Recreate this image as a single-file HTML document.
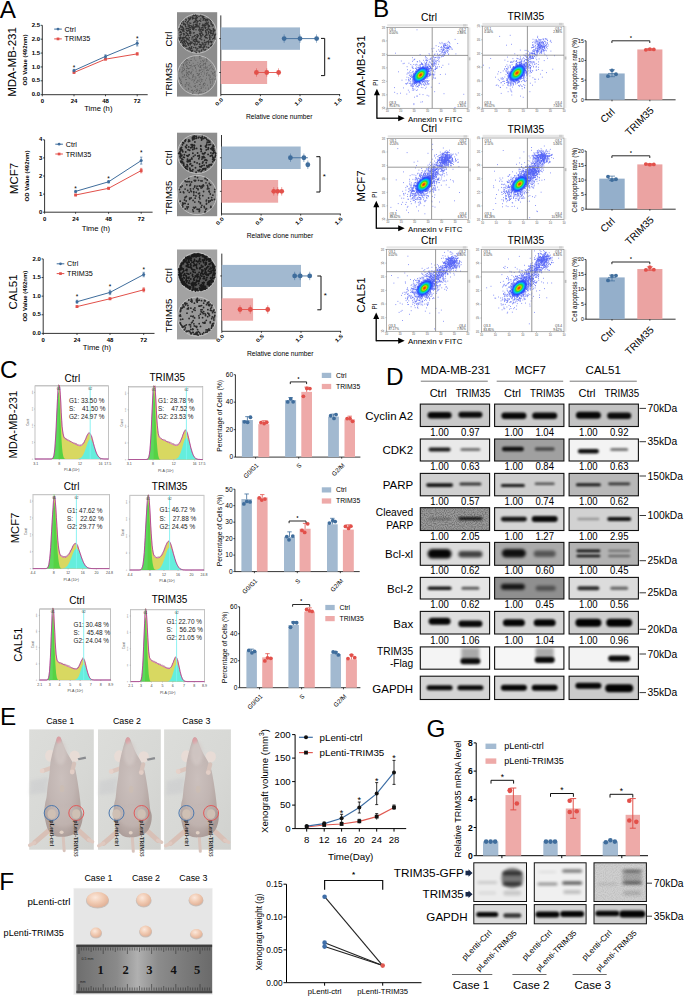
<!DOCTYPE html>
<html><head><meta charset="utf-8"><title>Figure</title>
<style>html,body{margin:0;padding:0;background:#fff;}body{width:685px;height:997px;overflow:hidden;font-family:"Liberation Sans", sans-serif;}svg{display:block;}</style>
</head><body>
<svg width="685" height="997" viewBox="0 0 685 997" font-family='"Liberation Sans", sans-serif'>
<defs>
<radialGradient id="fcore">
 <stop offset="0" stop-color="#ff2000"/>
 <stop offset="0.12" stop-color="#f06000"/>
 <stop offset="0.24" stop-color="#d8d000"/>
 <stop offset="0.36" stop-color="#30e020"/>
 <stop offset="0.52" stop-color="#00c8e8"/>
 <stop offset="0.72" stop-color="#2040ff" stop-opacity="0.9"/>
 <stop offset="1" stop-color="#2040ff" stop-opacity="0"/>
</radialGradient>
<filter id="speck00" x="0" y="0" width="1" height="1">
<feTurbulence type="fractalNoise" baseFrequency="1.1" numOctaves="1" seed="1"/>
<feColorMatrix type="matrix" values="0 0 0 0 0  0 0 0 0 0  0 0 0 0 0  0 0 0 -9 4.6"/>
<feComposite in2="SourceGraphic" operator="in"/>
</filter><filter id="speck01" x="0" y="0" width="1" height="1">
<feTurbulence type="fractalNoise" baseFrequency="1.1" numOctaves="1" seed="2"/>
<feColorMatrix type="matrix" values="0 0 0 0 0  0 0 0 0 0  0 0 0 0 0  0 0 0 -9 4.6"/>
<feComposite in2="SourceGraphic" operator="in"/>
</filter><filter id="speck10" x="0" y="0" width="1" height="1">
<feTurbulence type="fractalNoise" baseFrequency="1.1" numOctaves="1" seed="4"/>
<feColorMatrix type="matrix" values="0 0 0 0 0  0 0 0 0 0  0 0 0 0 0  0 0 0 -9 4.6"/>
<feComposite in2="SourceGraphic" operator="in"/>
</filter><filter id="speck11" x="0" y="0" width="1" height="1">
<feTurbulence type="fractalNoise" baseFrequency="1.1" numOctaves="1" seed="5"/>
<feColorMatrix type="matrix" values="0 0 0 0 0  0 0 0 0 0  0 0 0 0 0  0 0 0 -9 4.6"/>
<feComposite in2="SourceGraphic" operator="in"/>
</filter><filter id="speck20" x="0" y="0" width="1" height="1">
<feTurbulence type="fractalNoise" baseFrequency="1.1" numOctaves="1" seed="7"/>
<feColorMatrix type="matrix" values="0 0 0 0 0  0 0 0 0 0  0 0 0 0 0  0 0 0 -9 4.6"/>
<feComposite in2="SourceGraphic" operator="in"/>
</filter><filter id="speck21" x="0" y="0" width="1" height="1">
<feTurbulence type="fractalNoise" baseFrequency="1.1" numOctaves="1" seed="8"/>
<feColorMatrix type="matrix" values="0 0 0 0 0  0 0 0 0 0  0 0 0 0 0  0 0 0 -9 4.6"/>
<feComposite in2="SourceGraphic" operator="in"/>
</filter><filter id="bb1" x="-50%" y="-100%" width="200%" height="300%"><feGaussianBlur stdDeviation="0.9"/></filter>
<filter id="bb2" x="-50%" y="-100%" width="200%" height="300%"><feGaussianBlur stdDeviation="1.4"/></filter>
<filter id="bb3" x="-50%" y="-100%" width="200%" height="300%"><feGaussianBlur stdDeviation="2.2"/></filter>
<filter id="noiz" x="0" y="0" width="1" height="1"><feTurbulence type="fractalNoise" baseFrequency="0.9" numOctaves="1" seed="5"/><feColorMatrix type="matrix" values="0 0 0 0 0  0 0 0 0 0  0 0 0 0 0  0 0 0 -2.2 1.35"/><feComposite in2="SourceGraphic" operator="in"/></filter>
<clipPath id="clipall"><rect x="0" y="0" width="685" height="997"/></clipPath>
<linearGradient id="photobg" x1="0" y1="0" x2="1" y2="1">
 <stop offset="0" stop-color="#dcddda"/><stop offset="0.6" stop-color="#d7d8d5"/><stop offset="1" stop-color="#d0d1ce"/></linearGradient>
<radialGradient id="mbody" cx="0.45" cy="0.42" r="0.62">
 <stop offset="0" stop-color="#cbc0bd"/><stop offset="0.55" stop-color="#c1b5b2"/><stop offset="0.85" stop-color="#b5a7a3"/><stop offset="1" stop-color="#a99a96"/></radialGradient>
<filter id="soft" x="-10%" y="-10%" width="120%" height="120%"><feGaussianBlur stdDeviation="0.6"/></filter>
<filter id="soft2" x="-20%" y="-20%" width="140%" height="140%"><feGaussianBlur stdDeviation="1.6"/></filter>
<linearGradient id="ruler" x1="0" y1="0" x2="1" y2="0">
 <stop offset="0" stop-color="#6e6e6e"/><stop offset="0.3" stop-color="#8a8a8a"/><stop offset="0.45" stop-color="#b0b0b0"/><stop offset="0.6" stop-color="#8c8c8c"/><stop offset="0.8" stop-color="#7a7a7a"/><stop offset="1" stop-color="#6a6a6a"/></linearGradient>
<radialGradient id="tum" cx="0.4" cy="0.35" r="0.7">
 <stop offset="0" stop-color="#fbe8dc"/><stop offset="0.5" stop-color="#f1cbb3"/><stop offset="1" stop-color="#dfae94"/></radialGradient>

</defs><text x="-0.3" y="18" font-size="24.3">A</text>
<text transform="translate(12.2,62) rotate(-90)" y="4.02" font-size="11.5" text-anchor="middle">MDA-MB-231</text>
<text transform="translate(13.8,178.5) rotate(-90)" y="4.02" font-size="11.5" text-anchor="middle">MCF7</text>
<text transform="translate(13.3,292) rotate(-90)" y="4.02" font-size="11.5" text-anchor="middle">CAL51</text>
<line x1="42.3" y1="25.3" x2="42.3" y2="94.7" stroke="#000" stroke-width="0.8" />
<line x1="42.3" y1="94.7" x2="147.7" y2="94.7" stroke="#000" stroke-width="0.8" />
<line x1="40.7" y1="94.7" x2="42.3" y2="94.7" stroke="#000" stroke-width="0.7" />
<text transform="translate(40,94.7) scale(1,0.78)" y="2.1" font-size="6" text-anchor="end" font-weight="bold">0.0</text>
<line x1="40.7" y1="80.82" x2="42.3" y2="80.82" stroke="#000" stroke-width="0.7" />
<text transform="translate(40,80.82) scale(1,0.78)" y="2.1" font-size="6" text-anchor="end" font-weight="bold">0.5</text>
<line x1="40.7" y1="66.94" x2="42.3" y2="66.94" stroke="#000" stroke-width="0.7" />
<text transform="translate(40,66.94) scale(1,0.78)" y="2.1" font-size="6" text-anchor="end" font-weight="bold">1.0</text>
<line x1="40.7" y1="53.06" x2="42.3" y2="53.06" stroke="#000" stroke-width="0.7" />
<text transform="translate(40,53.06) scale(1,0.78)" y="2.1" font-size="6" text-anchor="end" font-weight="bold">1.5</text>
<line x1="40.7" y1="39.18" x2="42.3" y2="39.18" stroke="#000" stroke-width="0.7" />
<text transform="translate(40,39.18) scale(1,0.78)" y="2.1" font-size="6" text-anchor="end" font-weight="bold">2.0</text>
<line x1="40.7" y1="25.3" x2="42.3" y2="25.3" stroke="#000" stroke-width="0.7" />
<text transform="translate(40,25.3) scale(1,0.78)" y="2.1" font-size="6" text-anchor="end" font-weight="bold">2.5</text>
<line x1="42.3" y1="94.7" x2="42.3" y2="96.3" stroke="#000" stroke-width="0.7" />
<text transform="translate(42.3,101.4) scale(1,0.78)" y="2.1" font-size="6" text-anchor="middle" font-weight="bold">0</text>
<line x1="74" y1="94.7" x2="74" y2="96.3" stroke="#000" stroke-width="0.7" />
<text transform="translate(74,101.4) scale(1,0.78)" y="2.1" font-size="6" text-anchor="middle" font-weight="bold">24</text>
<line x1="105.5" y1="94.7" x2="105.5" y2="96.3" stroke="#000" stroke-width="0.7" />
<text transform="translate(105.5,101.4) scale(1,0.78)" y="2.1" font-size="6" text-anchor="middle" font-weight="bold">48</text>
<line x1="137.2" y1="94.7" x2="137.2" y2="96.3" stroke="#000" stroke-width="0.7" />
<text transform="translate(137.2,101.4) scale(1,0.78)" y="2.1" font-size="6" text-anchor="middle" font-weight="bold">72</text>
<text x="98.3" y="111.29" font-size="7.7" text-anchor="middle">Time (h)</text>
<text transform="translate(25.6,60) rotate(-90) scale(1,0.85)" y="2.1" font-size="6" text-anchor="middle" font-weight="bold">OD Value (492nm)</text>
<polyline points="74,72.49 105.5,59.17 137.2,53.89" fill="none" stroke="#e2504a" stroke-width="1"/>
<line x1="74" y1="71.89" x2="74" y2="73.09" stroke="#e2504a" stroke-width="0.7" />
<line x1="72.8" y1="71.89" x2="75.2" y2="71.89" stroke="#e2504a" stroke-width="0.6" />
<line x1="72.8" y1="73.09" x2="75.2" y2="73.09" stroke="#e2504a" stroke-width="0.6" />
<rect x="72.6" y="71.09" width="2.8" height="2.8" fill="#e2504a" />
<line x1="105.5" y1="58.37" x2="105.5" y2="59.97" stroke="#e2504a" stroke-width="0.7" />
<line x1="104.3" y1="58.37" x2="106.7" y2="58.37" stroke="#e2504a" stroke-width="0.6" />
<line x1="104.3" y1="59.97" x2="106.7" y2="59.97" stroke="#e2504a" stroke-width="0.6" />
<rect x="104.1" y="57.77" width="2.8" height="2.8" fill="#e2504a" />
<line x1="137.2" y1="52.69" x2="137.2" y2="55.09" stroke="#e2504a" stroke-width="0.7" />
<line x1="136" y1="52.69" x2="138.4" y2="52.69" stroke="#e2504a" stroke-width="0.6" />
<line x1="136" y1="55.09" x2="138.4" y2="55.09" stroke="#e2504a" stroke-width="0.6" />
<rect x="135.8" y="52.49" width="2.8" height="2.8" fill="#e2504a" />
<polyline points="74,70.55 105.5,56.39 137.2,43.34" fill="none" stroke="#3f6d9c" stroke-width="1"/>
<line x1="74" y1="69.35" x2="74" y2="71.75" stroke="#3f6d9c" stroke-width="0.7" />
<line x1="72.8" y1="69.35" x2="75.2" y2="69.35" stroke="#3f6d9c" stroke-width="0.6" />
<line x1="72.8" y1="71.75" x2="75.2" y2="71.75" stroke="#3f6d9c" stroke-width="0.6" />
<circle cx="74" cy="70.55" r="1.5" fill="#3f6d9c" />
<line x1="105.5" y1="54.79" x2="105.5" y2="57.99" stroke="#3f6d9c" stroke-width="0.7" />
<line x1="104.3" y1="54.79" x2="106.7" y2="54.79" stroke="#3f6d9c" stroke-width="0.6" />
<line x1="104.3" y1="57.99" x2="106.7" y2="57.99" stroke="#3f6d9c" stroke-width="0.6" />
<circle cx="105.5" cy="56.39" r="1.5" fill="#3f6d9c" />
<line x1="137.2" y1="40.74" x2="137.2" y2="45.94" stroke="#3f6d9c" stroke-width="0.7" />
<line x1="136" y1="40.74" x2="138.4" y2="40.74" stroke="#3f6d9c" stroke-width="0.6" />
<line x1="136" y1="45.94" x2="138.4" y2="45.94" stroke="#3f6d9c" stroke-width="0.6" />
<circle cx="137.2" cy="43.34" r="1.5" fill="#3f6d9c" />
<text x="74" y="69.78" font-size="6.5" text-anchor="middle">*</text>
<text x="137.2" y="40.77" font-size="6.5" text-anchor="middle">*</text>
<line x1="54.2" y1="29.1" x2="61.8" y2="29.1" stroke="#3f6d9c" stroke-width="1" />
<circle cx="58" cy="29.1" r="1.4" fill="#3f6d9c" />
<text x="64.6" y="31.62" font-size="7.2">Ctrl</text>
<line x1="54.2" y1="38.9" x2="61.8" y2="38.9" stroke="#e2504a" stroke-width="1" />
<rect x="56.65" y="37.55" width="2.7" height="2.7" fill="#e2504a" />
<text x="64.6" y="41.42" font-size="7.2">TRIM35</text>
<line x1="44.6" y1="139.8" x2="44.6" y2="212.2" stroke="#000" stroke-width="0.8" />
<line x1="44.6" y1="212.2" x2="152.6" y2="212.2" stroke="#000" stroke-width="0.8" />
<line x1="43" y1="212.2" x2="44.6" y2="212.2" stroke="#000" stroke-width="0.7" />
<text transform="translate(42.3,212.2) scale(1,0.78)" y="2.1" font-size="6" text-anchor="end" font-weight="bold">0</text>
<line x1="43" y1="194.1" x2="44.6" y2="194.1" stroke="#000" stroke-width="0.7" />
<text transform="translate(42.3,194.1) scale(1,0.78)" y="2.1" font-size="6" text-anchor="end" font-weight="bold">1</text>
<line x1="43" y1="176" x2="44.6" y2="176" stroke="#000" stroke-width="0.7" />
<text transform="translate(42.3,176) scale(1,0.78)" y="2.1" font-size="6" text-anchor="end" font-weight="bold">2</text>
<line x1="43" y1="157.9" x2="44.6" y2="157.9" stroke="#000" stroke-width="0.7" />
<text transform="translate(42.3,157.9) scale(1,0.78)" y="2.1" font-size="6" text-anchor="end" font-weight="bold">3</text>
<line x1="43" y1="139.8" x2="44.6" y2="139.8" stroke="#000" stroke-width="0.7" />
<text transform="translate(42.3,139.8) scale(1,0.78)" y="2.1" font-size="6" text-anchor="end" font-weight="bold">4</text>
<line x1="44.6" y1="212.2" x2="44.6" y2="213.8" stroke="#000" stroke-width="0.7" />
<text transform="translate(44.6,219) scale(1,0.78)" y="2.1" font-size="6" text-anchor="middle" font-weight="bold">0</text>
<line x1="75.6" y1="212.2" x2="75.6" y2="213.8" stroke="#000" stroke-width="0.7" />
<text transform="translate(75.6,219) scale(1,0.78)" y="2.1" font-size="6" text-anchor="middle" font-weight="bold">24</text>
<line x1="108.6" y1="212.2" x2="108.6" y2="213.8" stroke="#000" stroke-width="0.7" />
<text transform="translate(108.6,219) scale(1,0.78)" y="2.1" font-size="6" text-anchor="middle" font-weight="bold">48</text>
<line x1="141.2" y1="212.2" x2="141.2" y2="213.8" stroke="#000" stroke-width="0.7" />
<text transform="translate(141.2,219) scale(1,0.78)" y="2.1" font-size="6" text-anchor="middle" font-weight="bold">72</text>
<text x="95.9" y="230.69" font-size="7.7" text-anchor="middle">Time (h)</text>
<text transform="translate(27,176) rotate(-90) scale(1,0.85)" y="2.1" font-size="6" text-anchor="middle" font-weight="bold">OD Value (492nm)</text>
<polyline points="75.6,195 108.6,188.31 141.2,170.57" fill="none" stroke="#e2504a" stroke-width="1"/>
<line x1="75.6" y1="194.2" x2="75.6" y2="195.81" stroke="#e2504a" stroke-width="0.7" />
<line x1="74.4" y1="194.2" x2="76.8" y2="194.2" stroke="#e2504a" stroke-width="0.6" />
<line x1="74.4" y1="195.81" x2="76.8" y2="195.81" stroke="#e2504a" stroke-width="0.6" />
<rect x="74.2" y="193.6" width="2.8" height="2.8" fill="#e2504a" />
<line x1="108.6" y1="187.31" x2="108.6" y2="189.31" stroke="#e2504a" stroke-width="0.7" />
<line x1="107.4" y1="187.31" x2="109.8" y2="187.31" stroke="#e2504a" stroke-width="0.6" />
<line x1="107.4" y1="189.31" x2="109.8" y2="189.31" stroke="#e2504a" stroke-width="0.6" />
<rect x="107.2" y="186.91" width="2.8" height="2.8" fill="#e2504a" />
<line x1="141.2" y1="168.37" x2="141.2" y2="172.77" stroke="#e2504a" stroke-width="0.7" />
<line x1="140" y1="168.37" x2="142.4" y2="168.37" stroke="#e2504a" stroke-width="0.6" />
<line x1="140" y1="172.77" x2="142.4" y2="172.77" stroke="#e2504a" stroke-width="0.6" />
<rect x="139.8" y="169.17" width="2.8" height="2.8" fill="#e2504a" />
<polyline points="75.6,191.38 108.6,181.79 141.2,160.62" fill="none" stroke="#3f6d9c" stroke-width="1"/>
<line x1="75.6" y1="190.38" x2="75.6" y2="192.38" stroke="#3f6d9c" stroke-width="0.7" />
<line x1="74.4" y1="190.38" x2="76.8" y2="190.38" stroke="#3f6d9c" stroke-width="0.6" />
<line x1="74.4" y1="192.38" x2="76.8" y2="192.38" stroke="#3f6d9c" stroke-width="0.6" />
<circle cx="75.6" cy="191.38" r="1.5" fill="#3f6d9c" />
<line x1="108.6" y1="180.59" x2="108.6" y2="182.99" stroke="#3f6d9c" stroke-width="0.7" />
<line x1="107.4" y1="180.59" x2="109.8" y2="180.59" stroke="#3f6d9c" stroke-width="0.6" />
<line x1="107.4" y1="182.99" x2="109.8" y2="182.99" stroke="#3f6d9c" stroke-width="0.6" />
<circle cx="108.6" cy="181.79" r="1.5" fill="#3f6d9c" />
<line x1="141.2" y1="157.12" x2="141.2" y2="164.12" stroke="#3f6d9c" stroke-width="0.7" />
<line x1="140" y1="157.12" x2="142.4" y2="157.12" stroke="#3f6d9c" stroke-width="0.6" />
<line x1="140" y1="164.12" x2="142.4" y2="164.12" stroke="#3f6d9c" stroke-width="0.6" />
<circle cx="141.2" cy="160.62" r="1.5" fill="#3f6d9c" />
<text x="75.6" y="190.78" font-size="6.5" text-anchor="middle">*</text>
<text x="108.6" y="180.78" font-size="6.5" text-anchor="middle">*</text>
<text x="141.2" y="154.78" font-size="6.5" text-anchor="middle">*</text>
<line x1="55.3" y1="144.2" x2="62.9" y2="144.2" stroke="#3f6d9c" stroke-width="1" />
<circle cx="59.1" cy="144.2" r="1.4" fill="#3f6d9c" />
<text x="65.7" y="146.72" font-size="7.2">Ctrl</text>
<line x1="55.3" y1="154" x2="62.9" y2="154" stroke="#e2504a" stroke-width="1" />
<rect x="57.75" y="152.65" width="2.7" height="2.7" fill="#e2504a" />
<text x="65.7" y="156.52" font-size="7.2">TRIM35</text>
<line x1="43.2" y1="258.9" x2="43.2" y2="333.4" stroke="#000" stroke-width="0.8" />
<line x1="43.2" y1="333.4" x2="154.5" y2="333.4" stroke="#000" stroke-width="0.8" />
<line x1="41.6" y1="333.4" x2="43.2" y2="333.4" stroke="#000" stroke-width="0.7" />
<text transform="translate(40.9,333.4) scale(1,0.78)" y="2.1" font-size="6" text-anchor="end" font-weight="bold">0.0</text>
<line x1="41.6" y1="314.77" x2="43.2" y2="314.77" stroke="#000" stroke-width="0.7" />
<text transform="translate(40.9,314.77) scale(1,0.78)" y="2.1" font-size="6" text-anchor="end" font-weight="bold">0.5</text>
<line x1="41.6" y1="296.15" x2="43.2" y2="296.15" stroke="#000" stroke-width="0.7" />
<text transform="translate(40.9,296.15) scale(1,0.78)" y="2.1" font-size="6" text-anchor="end" font-weight="bold">1.0</text>
<line x1="41.6" y1="277.52" x2="43.2" y2="277.52" stroke="#000" stroke-width="0.7" />
<text transform="translate(40.9,277.52) scale(1,0.78)" y="2.1" font-size="6" text-anchor="end" font-weight="bold">1.5</text>
<line x1="41.6" y1="258.9" x2="43.2" y2="258.9" stroke="#000" stroke-width="0.7" />
<text transform="translate(40.9,258.9) scale(1,0.78)" y="2.1" font-size="6" text-anchor="end" font-weight="bold">2.0</text>
<line x1="43.2" y1="333.4" x2="43.2" y2="335" stroke="#000" stroke-width="0.7" />
<text transform="translate(43.2,340.2) scale(1,0.78)" y="2.1" font-size="6" text-anchor="middle" font-weight="bold">0</text>
<line x1="77" y1="333.4" x2="77" y2="335" stroke="#000" stroke-width="0.7" />
<text transform="translate(77,340.2) scale(1,0.78)" y="2.1" font-size="6" text-anchor="middle" font-weight="bold">24</text>
<line x1="110" y1="333.4" x2="110" y2="335" stroke="#000" stroke-width="0.7" />
<text transform="translate(110,340.2) scale(1,0.78)" y="2.1" font-size="6" text-anchor="middle" font-weight="bold">48</text>
<line x1="143.7" y1="333.4" x2="143.7" y2="335" stroke="#000" stroke-width="0.7" />
<text transform="translate(143.7,340.2) scale(1,0.78)" y="2.1" font-size="6" text-anchor="middle" font-weight="bold">72</text>
<text x="97" y="349.69" font-size="7.7" text-anchor="middle">Time (h)</text>
<text transform="translate(25.7,296.15) rotate(-90) scale(1,0.85)" y="2.1" font-size="6" text-anchor="middle" font-weight="bold">OD Value (492nm)</text>
<polyline points="77,306.58 110,298.76 143.7,289.82" fill="none" stroke="#e2504a" stroke-width="1"/>
<line x1="77" y1="305.78" x2="77" y2="307.38" stroke="#e2504a" stroke-width="0.7" />
<line x1="75.8" y1="305.78" x2="78.2" y2="305.78" stroke="#e2504a" stroke-width="0.6" />
<line x1="75.8" y1="307.38" x2="78.2" y2="307.38" stroke="#e2504a" stroke-width="0.6" />
<rect x="75.6" y="305.18" width="2.8" height="2.8" fill="#e2504a" />
<line x1="110" y1="297.86" x2="110" y2="299.66" stroke="#e2504a" stroke-width="0.7" />
<line x1="108.8" y1="297.86" x2="111.2" y2="297.86" stroke="#e2504a" stroke-width="0.6" />
<line x1="108.8" y1="299.66" x2="111.2" y2="299.66" stroke="#e2504a" stroke-width="0.6" />
<rect x="108.6" y="297.36" width="2.8" height="2.8" fill="#e2504a" />
<line x1="143.7" y1="287.82" x2="143.7" y2="291.82" stroke="#e2504a" stroke-width="0.7" />
<line x1="142.5" y1="287.82" x2="144.9" y2="287.82" stroke="#e2504a" stroke-width="0.6" />
<line x1="142.5" y1="291.82" x2="144.9" y2="291.82" stroke="#e2504a" stroke-width="0.6" />
<rect x="142.3" y="288.42" width="2.8" height="2.8" fill="#e2504a" />
<polyline points="77,301.74 110,292.42 143.7,274.54" fill="none" stroke="#3f6d9c" stroke-width="1"/>
<line x1="77" y1="300.24" x2="77" y2="303.24" stroke="#3f6d9c" stroke-width="0.7" />
<line x1="75.8" y1="300.24" x2="78.2" y2="300.24" stroke="#3f6d9c" stroke-width="0.6" />
<line x1="75.8" y1="303.24" x2="78.2" y2="303.24" stroke="#3f6d9c" stroke-width="0.6" />
<circle cx="77" cy="301.74" r="1.5" fill="#3f6d9c" />
<line x1="110" y1="290.22" x2="110" y2="294.62" stroke="#3f6d9c" stroke-width="0.7" />
<line x1="108.8" y1="290.22" x2="111.2" y2="290.22" stroke="#3f6d9c" stroke-width="0.6" />
<line x1="108.8" y1="294.62" x2="111.2" y2="294.62" stroke="#3f6d9c" stroke-width="0.6" />
<circle cx="110" cy="292.42" r="1.5" fill="#3f6d9c" />
<line x1="143.7" y1="272.34" x2="143.7" y2="276.74" stroke="#3f6d9c" stroke-width="0.7" />
<line x1="142.5" y1="272.34" x2="144.9" y2="272.34" stroke="#3f6d9c" stroke-width="0.6" />
<line x1="142.5" y1="276.74" x2="144.9" y2="276.74" stroke="#3f6d9c" stroke-width="0.6" />
<circle cx="143.7" cy="274.54" r="1.5" fill="#3f6d9c" />
<text x="77" y="299.27" font-size="6.5" text-anchor="middle">*</text>
<text x="110" y="288.77" font-size="6.5" text-anchor="middle">*</text>
<text x="143.7" y="271.77" font-size="6.5" text-anchor="middle">*</text>
<line x1="56.7" y1="263.8" x2="64.3" y2="263.8" stroke="#3f6d9c" stroke-width="1" />
<circle cx="60.5" cy="263.8" r="1.4" fill="#3f6d9c" />
<text x="67.1" y="266.32" font-size="7.2">Ctrl</text>
<line x1="56.7" y1="273.6" x2="64.3" y2="273.6" stroke="#e2504a" stroke-width="1" />
<rect x="59.15" y="272.25" width="2.7" height="2.7" fill="#e2504a" />
<text x="67.1" y="276.12" font-size="7.2">TRIM35</text>
<rect x="177" y="12.2" width="40.2" height="84.4" fill="#8c8c8c" />
<circle cx="197.1" cy="33.6" r="19.6" fill="none" stroke="#c4c4c4" stroke-width="0.9"/>
<circle cx="197.1" cy="33.6" r="18.8" fill="#7c7c7c" />
<path d="M201.1,28.0h0M196.6,50.0h0M184.5,37.7h0M200.8,18.9h0M202.8,34.6h0M181.4,40.6h0M213.5,33.8h0M194.9,21.3h0M205.6,30.6h0M214.6,37.0h0M194.2,32.8h0M183.7,46.0h0M189.4,37.7h0M197.7,36.8h0M184.7,33.9h0M198.2,42.6h0M188.6,35.8h0M207.1,35.0h0M181.0,27.6h0M203.0,47.5h0M209.0,19.2h0M193.9,39.3h0M193.2,18.1h0M181.0,42.2h0M188.9,18.6h0M188.3,28.2h0M207.1,19.1h0M185.8,26.5h0M197.3,37.1h0M182.7,42.2h0M189.6,31.2h0M189.9,19.6h0M186.4,37.9h0M199.5,20.4h0M186.5,42.0h0M210.0,36.0h0M196.0,29.8h0M181.6,23.3h0M202.8,43.9h0M210.3,32.1h0M181.1,29.5h0M199.0,50.9h0M210.0,29.6h0M183.3,37.2h0M187.8,30.7h0M215.5,34.3h0M204.2,18.6h0M196.0,15.9h0M180.3,31.6h0M184.5,39.9h0M200.1,30.4h0M201.5,47.1h0M183.8,34.9h0M190.7,42.8h0M187.3,23.9h0M182.9,37.4h0M197.5,36.7h0M190.3,29.6h0M202.3,17.0h0M203.9,18.3h0M202.3,25.6h0M210.5,41.3h0M199.5,33.8h0M197.1,49.9h0M192.7,29.2h0M207.1,38.3h0M189.7,32.3h0M196.0,41.2h0M181.9,38.1h0M186.6,35.4h0M194.9,35.5h0M201.7,44.9h0M202.1,29.9h0M200.5,46.6h0M203.1,20.2h0M199.8,33.9h0M195.7,26.5h0M195.0,26.4h0M182.2,29.3h0M205.8,32.3h0M180.4,31.9h0M191.8,26.5h0M186.6,28.2h0M189.9,25.8h0M195.7,37.9h0M210.2,20.6h0M203.7,25.5h0M206.8,29.7h0M183.1,41.8h0M206.5,34.1h0M214.2,37.8h0M213.6,29.6h0M203.8,46.1h0M214.4,30.7h0M181.4,32.7h0M190.5,43.1h0M193.2,26.0h0M201.4,45.2h0M194.0,28.4h0M186.9,33.6h0M204.5,25.9h0M214.8,35.6h0M193.1,41.0h0M200.9,15.3h0M199.6,44.3h0M205.2,20.4h0M187.0,48.7h0M190.3,17.3h0M210.1,32.4h0M195.7,24.6h0M199.7,38.4h0M201.2,51.1h0M183.9,24.0h0M185.4,46.3h0M194.3,44.2h0M183.2,23.0h0M211.0,21.7h0M190.5,31.4h0M203.0,35.1h0M200.5,29.8h0M205.0,18.9h0M188.9,26.3h0M185.1,45.1h0M199.4,47.6h0M196.5,38.9h0M180.8,26.6h0M179.7,38.3h0M199.4,24.0h0M214.2,34.9h0M210.0,42.0h0M201.9,29.4h0M197.3,37.4h0M180.7,42.5h0M200.3,39.1h0M196.8,24.4h0M202.2,30.4h0M208.5,31.5h0M192.2,50.8h0M187.7,35.0h0M193.7,28.7h0M200.8,33.8h0M191.8,51.5h0M183.3,38.1h0M206.8,37.7h0M214.7,30.2h0M211.3,45.5h0M190.7,27.7h0M179.2,28.6h0M188.9,20.3h0M187.9,31.1h0M197.3,44.0h0M196.1,38.9h0M179.4,39.6h0M187.7,21.7h0M183.0,45.2h0M192.2,42.8h0M203.2,24.9h0M191.3,50.4h0M186.6,30.6h0M185.3,25.5h0M206.3,34.8h0M205.4,37.7h0M209.7,39.6h0M193.7,29.7h0M199.8,23.8h0M205.7,23.6h0M189.7,33.5h0M211.9,41.4h0M205.6,49.8h0M213.6,32.0h0M189.9,49.0h0M191.0,33.0h0M192.2,51.0h0M208.3,47.4h0M214.7,37.2h0M205.8,27.6h0M211.2,24.3h0M196.7,16.4h0M203.9,47.6h0M203.9,44.0h0M189.2,19.8h0M205.8,37.3h0M203.7,16.4h0M183.6,30.0h0M180.5,38.6h0M190.8,43.6h0M206.5,35.1h0M184.0,41.2h0M210.2,39.0h0M204.3,42.2h0M196.7,40.2h0M183.4,43.9h0M188.0,25.9h0M206.2,34.0h0M183.4,33.5h0M183.1,39.3h0M195.3,18.1h0M187.9,33.9h0M199.1,46.4h0M185.9,29.1h0M212.7,24.7h0M191.1,25.8h0M200.8,35.4h0M206.8,24.2h0M197.9,26.1h0M190.4,50.0h0M206.2,20.9h0M193.6,22.7h0M183.7,24.6h0M211.0,23.1h0M180.5,25.6h0M197.1,41.5h0M189.2,29.9h0M212.6,38.9h0M193.9,18.4h0M186.1,32.6h0M196.1,26.0h0M200.9,33.2h0M185.4,21.4h0M205.4,28.5h0M208.9,47.7h0M206.1,19.7h0M192.4,19.1h0M208.3,27.9h0M183.4,46.1h0M181.7,40.5h0M193.6,40.4h0M202.7,30.0h0M210.6,46.1h0M184.9,41.5h0M195.3,39.8h0M197.1,24.2h0M197.5,34.7h0M209.4,35.2h0M185.4,24.4h0M201.7,50.1h0M187.4,31.0h0M188.7,28.6h0M193.3,25.0h0M203.1,18.0h0M179.3,28.4h0M205.2,23.2h0M182.2,26.5h0M194.6,45.0h0M199.3,27.8h0M197.0,27.1h0M210.6,30.6h0M213.3,30.9h0M190.2,33.6h0M191.8,46.8h0M188.8,44.0h0M210.8,33.7h0M185.2,37.5h0M188.7,39.7h0M190.3,18.4h0M189.2,23.0h0M200.4,44.7h0M196.9,34.8h0M207.8,23.8h0M180.0,32.4h0M179.0,38.1h0M182.7,42.9h0M213.3,32.3h0M202.1,42.7h0M182.6,30.7h0M208.4,33.8h0M186.6,38.9h0M204.8,24.4h0M195.6,19.3h0M197.0,15.8h0M196.7,20.4h0M188.2,21.5h0M184.7,41.8h0M187.1,22.5h0M200.8,15.8h0M199.0,16.4h0M183.7,23.2h0M196.1,44.7h0M208.2,22.3h0M205.1,44.9h0M180.0,35.3h0M209.4,37.2h0M196.7,20.2h0M189.6,43.2h0M212.2,35.5h0M209.7,29.2h0M184.4,42.6h0M184.8,24.0h0M199.4,41.9h0M195.0,51.2h0M199.6,29.1h0M187.9,43.6h0M196.0,20.2h0M192.7,27.3h0M203.4,19.0h0M189.6,27.4h0M188.7,30.2h0M199.0,26.0h0M188.7,49.0h0M205.7,31.6h0M205.9,20.5h0M199.8,31.7h0M191.1,47.2h0M198.0,21.3h0M203.2,49.1h0M204.6,46.4h0M179.7,40.0h0M194.7,15.8h0M196.0,48.2h0M205.9,44.0h0M195.6,26.8h0M197.2,22.3h0M195.3,24.6h0M191.7,48.6h0M192.2,37.3h0M207.8,41.4h0M204.7,36.4h0M208.2,24.3h0M205.6,35.5h0M203.4,19.1h0M183.1,21.6h0M202.9,24.2h0M194.8,27.6h0M192.4,37.0h0M187.6,42.8h0M198.0,41.3h0M180.5,37.6h0M200.5,47.5h0M189.4,47.5h0M209.3,25.8h0M215.1,39.0h0M207.6,20.5h0M189.2,40.7h0M209.6,26.6h0M205.8,25.5h0M206.5,47.0h0M215.0,35.3h0M193.4,27.4h0M193.8,36.7h0M190.5,35.2h0M211.4,24.0h0M200.4,34.9h0M213.7,38.2h0M204.4,40.2h0M202.7,34.6h0M196.6,18.6h0M205.9,20.7h0M185.3,43.4h0M211.8,30.8h0M197.8,48.6h0M201.3,31.8h0M188.6,45.3h0M183.5,28.2h0M209.7,38.7h0M187.6,39.4h0M203.2,27.9h0M190.7,23.2h0M196.4,17.7h0M197.3,17.6h0M206.4,32.2h0M203.5,30.0h0M207.5,19.7h0M200.7,35.9h0M180.5,36.9h0M208.5,32.5h0M193.4,32.9h0M205.8,42.6h0M194.0,22.2h0M214.5,36.3h0M208.6,40.9h0M211.5,42.2h0M194.5,35.9h0M190.9,48.4h0M199.0,27.1h0M207.5,20.3h0M187.9,38.3h0M188.4,30.3h0M191.4,42.8h0M213.1,29.1h0M208.5,42.4h0M182.7,38.4h0M193.5,15.3h0M191.9,17.2h0M208.1,25.3h0M192.7,50.2h0M192.0,39.0h0M208.2,41.4h0M187.3,28.6h0M198.7,30.0h0M191.2,47.6h0M190.9,41.8h0M197.0,22.9h0M184.0,31.4h0M203.3,29.9h0M192.1,43.1h0M202.0,33.0h0M208.2,26.8h0M214.9,30.2h0M212.2,25.9h0M202.8,16.5h0M190.3,32.6h0M211.3,32.9h0M192.2,17.7h0M186.6,46.0h0M185.8,19.3h0M185.5,36.2h0M178.9,29.9h0M201.7,39.8h0M182.7,27.6h0M204.3,50.0h0M195.4,21.7h0M200.5,36.1h0M195.7,47.4h0M196.6,39.7h0M182.4,31.1h0M201.8,35.9h0M186.3,20.0h0M202.2,27.6h0M195.2,35.6h0M192.8,16.8h0M204.9,27.3h0M206.7,22.7h0M181.2,41.6h0M182.2,29.3h0M202.5,16.2h0M203.4,18.9h0M196.3,52.4h0M196.9,25.2h0M180.7,32.1h0M186.3,41.1h0M202.2,16.7h0M211.0,37.2h0M180.3,38.1h0M194.6,41.4h0M212.7,34.1h0M195.0,39.8h0M196.8,15.9h0M179.2,28.7h0M183.6,29.1h0M183.9,30.0h0M213.4,28.7h0M188.9,24.8h0M193.8,43.5h0M185.6,26.7h0M210.9,31.6h0M192.1,27.9h0M195.5,14.9h0M187.5,44.0h0M208.1,29.0h0M188.5,18.0h0M213.0,25.5h0M184.2,45.2h0M200.7,21.3h0M197.1,22.1h0M190.4,44.8h0M206.5,42.1h0M187.5,39.3h0M198.3,35.8h0M203.1,26.1h0M193.8,47.6h0M196.2,52.4h0M196.2,20.2h0M182.8,39.9h0M180.6,35.1h0M181.2,34.5h0M193.2,15.5h0M201.0,37.7h0M199.5,51.9h0M197.0,36.6h0M209.5,29.7h0M195.1,21.9h0M211.6,42.7h0M211.8,33.2h0M183.5,30.6h0M207.5,29.9h0M211.9,44.8h0M184.9,40.4h0M208.4,44.1h0M195.4,43.1h0M200.6,21.1h0" stroke="#2a2a2a" stroke-width="1.5" stroke-linecap="round" opacity="0.9"/>
<circle cx="197.1" cy="75.2" r="19.6" fill="none" stroke="#c4c4c4" stroke-width="0.9"/>
<circle cx="197.1" cy="75.2" r="18.8" fill="#8a8a8a" />
<path d="M201.1,58.2h0M210.3,83.3h0M191.4,65.0h0M186.9,74.7h0M210.4,87.1h0M210.8,85.9h0M206.8,68.7h0M188.7,74.1h0M206.3,67.3h0M192.6,93.4h0M207.5,67.1h0M200.2,88.7h0M188.6,89.2h0M210.2,75.9h0M186.8,59.6h0M214.8,71.7h0M187.7,72.8h0M197.9,62.7h0M199.4,92.3h0M194.4,65.7h0M205.3,84.0h0M189.4,72.1h0M211.2,71.6h0M186.5,66.5h0M190.9,78.9h0M193.8,65.8h0M199.3,84.7h0M185.9,77.3h0M188.5,68.5h0M202.9,69.7h0M181.8,71.8h0M195.0,79.2h0M187.5,62.9h0M210.3,64.5h0M186.6,75.6h0M204.6,83.0h0M196.8,82.2h0M191.7,73.9h0M182.6,69.1h0M199.4,90.6h0M189.5,71.7h0M181.5,83.5h0M198.3,75.4h0M189.3,68.3h0M198.0,80.6h0M212.5,73.7h0M188.3,68.7h0M210.5,77.2h0M204.0,83.5h0M198.3,65.9h0M212.1,79.2h0M196.3,70.0h0M194.6,80.7h0M206.4,78.2h0M199.2,77.7h0M208.0,70.4h0M197.8,90.2h0M194.8,90.5h0M191.2,87.3h0M186.1,89.9h0M186.5,62.1h0M183.5,64.5h0M182.6,85.0h0M185.8,64.6h0M184.5,69.8h0M186.3,83.7h0M185.1,62.0h0M210.2,79.8h0M203.2,87.2h0M189.1,78.7h0M197.1,89.1h0M187.5,73.4h0M186.5,82.6h0M192.9,79.5h0M182.5,71.0h0M204.8,63.7h0M190.7,60.5h0M195.9,78.3h0M205.8,88.1h0M208.4,89.2h0M200.8,92.4h0M207.1,61.1h0M205.4,68.2h0M201.5,69.1h0M186.3,79.5h0M191.9,71.4h0M192.2,66.7h0M183.7,65.0h0M198.7,74.7h0M185.9,61.1h0M186.4,70.8h0M180.0,79.6h0M183.6,65.6h0M208.3,70.2h0M187.6,67.8h0M192.8,76.0h0M196.1,71.7h0M197.5,75.3h0M201.1,80.0h0M188.8,85.7h0M206.8,74.2h0M187.0,60.4h0M204.2,60.0h0M200.4,66.5h0M188.6,71.7h0M203.2,84.6h0M211.4,66.9h0M204.8,68.0h0M191.0,66.0h0M199.7,56.6h0M193.0,77.0h0M194.0,86.3h0M181.3,81.4h0M186.7,63.4h0M209.8,79.9h0M209.1,65.5h0M192.2,69.1h0M190.0,86.2h0M212.8,72.7h0M199.3,73.5h0M203.0,65.1h0M195.5,67.5h0M194.1,80.3h0M186.8,59.8h0M180.9,79.2h0M184.2,75.8h0M194.3,58.9h0M189.4,78.2h0M184.6,69.2h0M206.8,59.9h0M191.9,80.3h0M203.2,76.2h0M199.2,79.9h0M188.9,60.9h0M193.1,91.5h0M204.4,73.9h0M213.2,69.6h0M195.0,76.8h0M195.8,60.3h0M179.6,71.0h0M208.8,75.6h0M213.8,73.3h0M187.7,59.9h0M197.8,86.2h0M212.3,68.7h0M205.4,91.6h0M182.8,74.0h0M200.5,63.4h0M194.2,57.2h0M191.4,60.5h0M182.3,71.7h0M198.8,66.0h0M193.1,70.1h0M186.2,70.9h0M182.2,77.2h0M198.4,93.8h0M199.1,74.6h0M195.3,85.5h0M187.1,68.4h0M192.2,57.2h0M186.7,72.9h0M184.5,75.1h0M203.1,85.8h0M188.0,82.8h0M200.5,67.5h0M203.6,84.4h0M205.0,63.5h0M185.1,63.7h0M188.8,89.0h0M196.9,82.3h0M195.1,86.1h0M204.7,85.6h0M197.0,82.0h0M199.8,67.3h0M201.5,88.3h0M205.6,66.3h0M183.6,70.5h0M201.0,86.3h0M210.3,82.1h0M212.7,81.1h0M185.1,86.1h0M184.0,66.8h0M190.5,73.6h0M197.4,80.3h0M194.5,86.5h0M212.3,73.9h0M203.0,65.7h0M194.8,66.6h0M186.3,72.8h0M199.7,70.3h0M188.7,77.2h0M200.8,65.8h0M186.3,65.6h0M196.6,91.5h0M199.2,71.2h0M201.1,65.4h0M184.4,61.9h0M200.8,70.4h0M197.5,90.2h0M188.5,74.8h0M202.5,71.6h0M203.8,60.9h0M207.4,69.8h0M195.7,68.5h0M206.6,75.4h0M199.1,81.4h0M185.3,86.6h0M187.2,66.7h0M190.8,67.8h0M210.7,67.9h0M205.3,64.7h0M199.3,56.8h0M195.4,87.3h0M200.0,70.1h0M190.8,72.7h0M209.3,78.7h0M200.9,67.4h0M209.4,68.9h0M212.0,85.2h0M212.0,79.3h0M185.7,79.6h0M181.9,64.8h0M188.9,74.7h0M201.5,88.0h0M205.2,67.4h0M200.2,56.8h0M201.1,72.5h0M203.5,64.2h0M201.8,81.5h0M193.1,92.7h0M193.2,75.2h0M206.7,59.1h0M208.9,74.7h0M206.3,61.1h0M185.2,84.5h0M179.5,78.5h0M179.9,69.3h0M179.4,77.8h0M186.7,68.7h0M203.4,83.7h0M205.7,63.6h0M203.7,67.8h0M199.8,58.7h0M209.2,75.1h0M182.2,67.5h0M191.4,72.4h0M198.9,73.9h0M189.7,83.2h0M188.0,64.6h0M182.8,76.6h0M205.7,62.9h0M184.5,75.2h0M214.0,75.6h0M193.7,81.9h0M204.0,69.9h0M202.7,79.7h0M186.5,74.6h0M214.1,74.7h0M183.6,64.2h0M200.5,76.6h0M203.4,61.7h0M206.6,73.3h0M184.6,69.0h0M210.3,81.9h0M204.2,72.2h0M205.5,80.1h0M195.6,65.3h0M199.5,84.5h0M187.3,76.4h0M192.0,90.5h0M214.5,72.5h0M212.3,83.0h0M206.5,70.5h0M208.8,88.1h0M188.9,84.6h0M213.1,78.1h0M197.1,64.6h0M214.2,79.7h0M189.7,62.9h0M181.5,83.2h0M203.1,92.7h0M201.5,79.8h0M207.4,85.2h0M200.3,84.4h0M201.4,74.2h0M207.7,72.8h0M200.1,90.9h0M215.2,76.3h0M215.3,79.0h0M188.1,72.2h0M197.3,73.4h0M199.3,70.2h0M193.6,74.6h0M195.0,83.5h0M188.0,84.7h0M190.4,65.5h0M200.6,82.7h0M192.6,90.1h0M180.9,83.3h0M209.9,77.1h0M199.2,76.9h0M189.5,62.4h0M180.4,82.8h0M188.3,88.4h0M192.6,77.7h0M202.4,60.4h0M206.2,59.2h0M183.7,70.8h0M183.9,77.1h0M183.3,68.1h0M180.5,80.6h0M203.5,64.0h0M181.8,72.8h0M201.9,61.9h0M196.3,89.8h0M188.8,68.8h0M193.2,76.3h0M199.1,92.8h0M193.2,63.3h0M191.1,58.1h0M186.0,85.1h0M189.3,65.5h0M199.5,64.2h0M197.1,73.5h0M191.5,90.4h0M195.9,77.2h0M200.4,61.2h0M201.6,92.1h0M201.0,78.9h0M185.7,60.4h0" stroke="#5a5a5a" stroke-width="1.0" stroke-linecap="round" opacity="0.9"/>
<rect x="177" y="132.7" width="40.2" height="83.5" fill="#8e8e8e" />
<circle cx="197.1" cy="153.88" r="19.6" fill="none" stroke="#c4c4c4" stroke-width="0.9"/>
<circle cx="197.1" cy="153.88" r="18.8" fill="#8a8a8a" />
<path d="M214.3,160.3h0M196.6,148.4h0M183.4,143.0h0M183.7,164.4h0M212.3,148.9h0M195.5,167.7h0M190.0,169.4h0M185.7,152.0h0M189.8,168.2h0M204.1,153.8h0M202.4,136.5h0M198.4,137.8h0M213.7,151.9h0M193.2,136.5h0M184.4,154.7h0M206.0,138.1h0M206.1,147.3h0M208.3,147.7h0M199.9,169.6h0M202.5,163.1h0M190.4,170.8h0M178.7,153.4h0M185.6,146.8h0M212.9,146.9h0M194.4,136.1h0M213.7,160.3h0M208.8,142.2h0M200.8,149.0h0M181.1,162.3h0M205.0,168.7h0M215.2,156.8h0M203.5,138.6h0M183.8,165.5h0M199.4,157.1h0M196.3,136.4h0M181.9,159.0h0M210.5,144.4h0M192.6,138.2h0M190.0,170.0h0M201.3,149.6h0M191.8,158.1h0M196.1,172.2h0M211.6,155.5h0M212.9,157.2h0M179.6,153.0h0M215.7,153.2h0M197.1,162.9h0M201.6,140.1h0M180.3,151.1h0M210.1,164.8h0M203.8,168.6h0M180.3,157.7h0M199.5,164.0h0M194.7,136.1h0M186.3,147.8h0M192.9,153.2h0M185.1,167.2h0M186.7,145.2h0M190.1,161.2h0M199.2,155.4h0M192.2,144.7h0M195.1,155.1h0M212.7,161.7h0M206.3,149.9h0M198.9,158.7h0M183.3,157.1h0M208.9,165.2h0M185.7,139.9h0M215.3,156.7h0M194.6,138.8h0M184.3,157.4h0M180.0,156.3h0M213.8,146.3h0M180.6,155.0h0M193.0,145.2h0M204.6,137.5h0M202.9,153.8h0M203.7,156.8h0M202.6,153.5h0M199.0,170.5h0M182.8,159.6h0M213.6,148.5h0M193.4,137.0h0M187.9,156.2h0M212.9,153.4h0M207.3,167.0h0M209.9,142.1h0M189.2,154.8h0M208.1,149.2h0M212.4,150.1h0M191.2,144.8h0M199.7,170.1h0M189.7,141.0h0M215.6,155.2h0M206.6,145.3h0M212.2,155.5h0M182.8,142.6h0M211.5,164.4h0M202.4,170.0h0M202.9,169.0h0M181.1,160.9h0M187.8,155.8h0M204.7,157.6h0M197.6,153.0h0M181.9,155.3h0M180.5,153.6h0M205.3,169.7h0M183.7,163.1h0M207.2,142.2h0M180.6,157.6h0M214.1,150.3h0M188.7,161.5h0M192.6,165.6h0M182.4,150.2h0M191.1,170.8h0M188.5,141.5h0M206.9,160.4h0M182.4,151.0h0M185.1,141.3h0M199.0,170.9h0M204.7,160.3h0M185.9,166.7h0M205.7,168.7h0M213.1,145.3h0M208.4,148.5h0M203.2,169.3h0M187.5,166.0h0M185.0,140.6h0M190.6,163.8h0M179.5,153.6h0M196.4,138.3h0M212.1,147.5h0M192.9,169.6h0M187.1,164.8h0M186.0,168.4h0M202.1,165.8h0M187.6,166.8h0M205.5,146.3h0M181.3,149.5h0M190.1,159.7h0M203.0,162.0h0M205.8,159.8h0M182.5,161.8h0M198.1,170.4h0M199.0,137.1h0M180.8,161.6h0M206.8,139.6h0M188.7,146.9h0M187.9,161.3h0M191.8,165.7h0M182.5,144.8h0M210.9,152.9h0M182.4,162.9h0M213.3,153.4h0M194.2,147.8h0M202.1,137.9h0M204.9,168.8h0M203.1,157.8h0M214.7,159.6h0M181.1,147.7h0M203.6,156.5h0M200.8,146.3h0M206.7,144.3h0M201.9,159.1h0M212.7,159.3h0M190.8,147.8h0M193.6,136.8h0M204.1,165.3h0M192.8,149.5h0M194.6,162.1h0M187.2,161.2h0M181.6,147.5h0M214.9,152.4h0M194.3,145.3h0M202.2,170.4h0M192.0,147.3h0M192.7,139.7h0M205.0,137.9h0M213.8,158.0h0M180.2,149.1h0M205.1,152.8h0M192.5,171.1h0M194.5,145.7h0M188.1,149.7h0M194.9,142.0h0M206.2,162.7h0M201.1,171.6h0M188.6,160.7h0M201.2,166.9h0M200.8,137.8h0M190.0,164.2h0M180.8,156.3h0M189.7,150.2h0M208.2,140.4h0M192.3,146.4h0M190.8,170.4h0M194.5,162.0h0M197.8,155.9h0M194.4,137.5h0M187.5,159.2h0M208.9,166.7h0M191.9,159.0h0M201.2,151.4h0M201.8,139.5h0M213.4,150.2h0M209.6,141.3h0M182.8,151.7h0M188.9,140.0h0M191.7,158.3h0M187.4,161.7h0M199.9,166.5h0M200.8,145.8h0M194.5,148.8h0M193.5,156.4h0M180.0,151.7h0M192.4,137.9h0M181.2,156.0h0M180.8,149.9h0M210.9,148.7h0M202.2,157.0h0M206.9,165.7h0M186.8,155.6h0M187.3,169.3h0M211.2,165.1h0M212.9,148.5h0M209.0,144.8h0M210.3,156.0h0M208.1,154.4h0M193.8,138.8h0M183.7,142.9h0" stroke="#1c1c1c" stroke-width="1.9" stroke-linecap="round" opacity="0.9"/>
<circle cx="197.1" cy="195.02" r="19.6" fill="none" stroke="#c4c4c4" stroke-width="0.9"/>
<circle cx="197.1" cy="195.02" r="18.8" fill="#8e8e8e" />
<path d="M186.2,201.0h0M205.8,209.3h0M193.8,192.8h0M205.7,178.7h0M192.8,209.8h0M214.4,199.5h0M199.3,186.0h0M182.5,205.2h0M210.9,206.5h0M210.3,201.0h0M200.4,203.5h0M195.9,195.9h0M194.5,208.1h0M211.5,199.9h0M183.8,192.7h0M207.4,188.9h0M191.1,198.0h0M188.2,204.2h0M180.4,186.9h0M184.5,200.0h0M208.9,191.3h0M187.0,181.6h0M190.8,190.8h0M193.1,200.4h0M196.3,192.3h0M185.1,180.9h0M197.1,209.2h0M184.9,197.8h0M195.6,207.2h0M197.1,186.2h0M205.0,178.5h0M211.7,197.6h0M202.6,186.3h0M179.4,189.5h0M191.6,182.0h0M194.9,185.9h0M203.6,185.7h0M190.5,184.1h0M183.4,192.0h0M209.3,191.2h0M182.8,202.9h0M207.8,187.0h0M187.8,181.7h0M210.7,207.4h0M186.8,184.8h0M209.4,192.1h0M182.8,206.8h0M198.6,180.3h0M186.9,206.9h0M187.3,208.7h0M193.4,188.8h0M184.4,203.3h0M210.3,194.0h0M183.0,204.3h0M180.9,187.3h0M189.9,185.5h0M210.3,184.9h0M189.5,181.7h0M208.6,198.0h0M206.6,203.4h0M185.3,208.9h0M195.6,180.5h0M201.1,188.1h0M206.5,200.2h0M185.2,203.4h0M180.2,201.2h0M202.8,195.7h0M193.8,195.2h0M212.2,200.1h0M186.4,196.5h0M214.6,191.8h0M185.8,181.6h0M199.5,209.1h0M204.5,207.7h0M202.1,186.0h0M195.0,181.0h0M194.7,207.6h0M185.1,189.1h0M202.3,187.4h0M204.9,211.9h0M200.6,186.5h0M199.6,210.8h0M198.2,209.4h0M182.2,185.9h0M204.2,206.4h0M185.3,197.1h0M201.9,205.3h0M194.5,187.1h0M207.2,180.0h0M200.9,180.8h0M198.8,201.7h0M212.9,195.2h0M198.1,189.7h0M200.4,202.7h0M203.2,184.9h0M198.5,193.7h0M187.7,190.5h0M206.4,204.0h0M205.4,211.5h0M209.3,183.4h0M209.4,191.9h0M199.9,198.8h0M208.8,200.9h0M180.4,192.2h0M193.3,211.4h0M199.5,193.1h0M189.7,199.3h0M191.4,191.6h0M201.2,207.2h0M195.2,198.2h0M206.5,208.7h0M190.5,188.9h0M202.1,180.9h0M206.0,182.8h0M203.6,191.5h0M199.4,197.2h0M198.0,189.0h0M208.9,188.7h0M214.8,189.5h0M188.3,206.9h0M195.1,176.7h0M189.2,192.3h0M199.8,195.3h0M194.2,180.3h0M197.5,177.6h0M196.6,188.1h0M188.8,178.3h0M193.5,207.5h0M193.8,191.7h0M210.9,207.2h0M210.7,184.8h0M203.4,185.8h0M194.8,202.1h0M207.4,185.3h0M208.8,202.3h0M180.8,187.1h0M199.2,211.5h0M206.3,200.9h0M189.6,198.2h0M190.4,185.0h0" stroke="#222" stroke-width="1.8" stroke-linecap="round" opacity="0.9"/>
<rect x="177" y="249.5" width="40.2" height="89.9" fill="#a2a2a2" />
<circle cx="197.1" cy="272.28" r="19.6" fill="none" stroke="#c4c4c4" stroke-width="0.9"/>
<circle cx="197.1" cy="272.28" r="18.8" fill="#5a5a5a" />
<path d="M190.8,279.0h0M210.5,278.1h0M197.0,274.4h0M188.2,274.0h0M186.1,259.1h0M202.0,266.9h0M190.7,260.3h0M193.1,269.7h0M179.3,275.4h0M193.5,256.7h0M202.8,255.1h0M206.2,263.6h0M213.2,268.7h0M193.2,284.1h0M189.2,283.1h0M209.0,264.1h0M206.7,260.1h0M206.8,288.3h0M211.5,262.4h0M200.5,286.0h0M193.4,289.0h0M201.8,272.0h0M192.4,275.3h0M209.5,259.5h0M200.9,273.4h0M215.1,270.1h0M192.2,284.7h0M202.2,273.3h0M190.7,266.9h0M190.0,288.9h0M183.9,285.1h0M189.2,262.3h0M186.5,262.3h0M180.5,279.9h0M213.7,270.0h0M210.6,273.3h0M209.1,273.8h0M210.8,277.7h0M190.7,258.8h0M196.3,261.1h0M214.3,268.2h0M189.2,267.1h0M193.0,282.1h0M193.5,283.1h0M208.5,274.2h0M191.9,285.5h0M197.7,281.1h0M194.5,264.6h0M205.5,257.7h0M203.1,283.2h0M205.3,265.1h0M181.1,269.3h0M201.4,265.3h0M185.8,258.3h0M192.9,288.0h0M182.5,280.7h0M207.8,266.4h0M210.4,259.8h0M214.9,266.5h0M206.3,257.0h0M193.4,287.1h0M183.4,263.7h0M206.8,275.1h0M213.0,264.0h0M181.3,264.0h0M198.1,274.2h0M186.9,270.7h0M187.9,264.4h0M179.2,274.9h0M202.5,288.0h0M203.6,284.4h0M202.9,256.6h0M208.5,259.0h0M180.7,269.4h0M199.1,260.2h0M208.6,283.8h0M200.1,268.4h0M194.9,277.3h0M190.7,263.9h0M202.3,285.7h0M193.4,255.3h0M185.6,284.0h0M186.4,282.3h0M181.8,279.3h0M193.8,261.3h0M185.3,275.2h0M194.0,263.5h0M192.6,274.5h0M184.7,284.8h0M195.7,290.0h0M187.7,257.0h0M188.3,256.9h0M209.9,282.0h0M199.6,256.1h0M209.0,261.2h0M210.1,284.7h0M206.0,257.5h0M202.6,254.8h0M193.5,272.0h0M213.4,265.2h0M205.3,257.0h0M184.7,261.2h0M186.1,284.3h0M186.8,278.1h0M202.4,271.4h0M203.5,282.5h0M189.9,258.4h0M188.7,261.7h0M196.9,256.1h0M180.2,278.6h0M202.3,288.1h0M191.1,256.8h0M182.0,281.5h0M195.2,289.5h0M184.4,283.8h0M193.7,279.3h0M178.8,274.6h0M204.5,259.7h0M180.2,274.3h0M184.2,281.6h0M181.3,275.6h0M189.1,256.5h0M198.0,290.7h0M192.5,256.5h0M196.6,289.7h0M194.9,255.4h0M192.4,289.7h0M192.0,262.3h0M180.1,273.8h0M205.4,269.9h0M205.7,280.3h0M204.6,278.7h0M211.6,282.4h0M199.7,254.2h0M187.1,257.7h0M214.4,268.0h0M208.8,282.3h0M194.5,259.3h0M203.5,286.4h0M203.6,285.9h0M209.8,284.7h0M194.0,255.8h0M188.4,260.7h0M212.0,279.1h0M181.8,268.0h0M195.5,288.4h0M208.3,275.3h0M186.2,286.4h0M186.6,269.5h0M206.5,258.7h0M209.4,282.8h0M203.7,287.5h0M196.8,264.1h0M182.9,263.0h0M199.6,279.0h0M201.1,285.3h0M206.3,274.0h0M213.1,267.0h0M187.0,266.5h0M191.3,258.5h0M186.9,273.3h0M211.7,272.5h0M180.6,273.1h0M201.8,285.0h0M186.6,258.6h0M209.2,269.1h0M184.3,259.7h0M197.5,276.5h0M201.8,270.0h0M193.5,262.2h0M191.6,268.2h0M195.9,254.2h0M207.1,267.7h0M197.9,254.8h0M211.3,279.8h0M191.7,255.9h0M188.9,261.2h0M197.6,261.9h0M193.7,254.4h0M185.9,270.2h0M201.2,287.7h0M202.9,288.4h0M205.4,287.1h0M180.7,273.3h0M182.8,281.6h0M183.6,282.5h0M197.7,275.3h0M200.0,277.2h0M212.5,277.5h0M179.6,276.1h0M195.5,288.8h0M187.6,286.3h0M202.7,271.2h0M210.6,280.9h0M188.0,259.0h0M178.9,274.9h0M212.8,266.1h0M213.6,266.5h0M210.7,284.2h0M213.0,264.6h0M196.3,264.5h0M212.3,264.3h0M198.6,283.5h0M195.1,288.7h0M191.0,267.5h0M181.3,273.6h0M204.4,273.3h0M191.4,260.7h0M185.8,258.2h0M180.3,277.7h0M188.2,287.7h0M213.4,267.6h0M201.8,276.2h0M197.4,277.6h0M182.0,263.3h0M200.5,290.3h0M199.8,258.4h0M182.8,269.1h0M204.5,257.9h0M202.8,289.7h0M200.0,289.1h0M186.3,259.0h0M187.8,285.8h0M208.3,281.6h0M203.9,256.5h0M188.8,274.2h0M180.4,273.9h0M196.6,267.3h0M187.5,264.7h0M205.8,272.0h0M206.5,277.8h0M194.4,254.2h0M183.7,260.9h0M181.3,281.1h0M214.5,266.6h0M186.2,279.5h0M192.2,290.4h0M194.3,256.3h0M190.6,264.4h0M196.5,276.0h0M196.7,254.5h0M182.9,281.1h0M191.6,255.3h0M210.3,259.2h0M180.8,276.1h0M188.4,282.8h0M210.1,261.1h0M202.9,256.7h0M180.3,268.4h0M199.2,255.9h0M199.9,259.8h0M213.5,273.6h0M181.7,267.7h0M202.4,256.6h0M182.6,279.2h0M209.8,264.5h0M198.0,256.0h0M205.2,257.7h0M213.4,274.0h0M209.6,263.9h0M208.7,266.7h0M182.5,281.0h0M190.5,257.2h0M181.4,282.5h0M200.7,261.7h0M204.2,282.7h0M188.1,277.8h0M212.9,265.0h0M180.6,266.9h0M212.2,262.9h0M192.9,276.6h0M210.2,268.9h0M204.7,288.8h0M192.4,282.9h0M206.3,268.9h0M195.0,282.7h0M213.2,281.1h0M181.1,269.6h0M186.1,260.4h0M213.3,268.2h0M195.2,289.3h0M213.1,267.9h0M200.2,278.7h0M185.8,257.3h0M205.1,288.2h0M202.9,266.5h0M193.0,271.4h0M214.0,270.9h0M208.5,284.0h0M207.0,277.5h0M205.3,272.1h0M213.1,267.2h0M192.0,284.3h0M200.6,254.8h0M183.3,268.9h0M203.3,261.4h0M204.8,268.8h0M206.9,256.8h0M212.7,277.7h0M210.1,258.9h0M202.0,254.9h0M178.6,269.3h0M181.0,278.5h0M193.9,278.7h0M191.5,284.4h0M208.3,270.9h0M206.4,256.6h0M195.9,282.3h0M196.4,265.7h0M194.9,283.0h0M178.8,274.8h0M210.8,271.1h0M187.0,263.1h0M199.9,268.2h0M183.6,284.3h0M201.2,290.4h0M184.5,278.1h0M185.8,285.7h0M188.8,278.4h0M205.2,264.2h0M185.7,284.3h0M190.2,286.9h0M212.3,264.1h0M203.6,260.2h0M181.0,278.5h0M184.0,284.8h0M194.1,284.9h0M190.4,267.5h0M213.9,273.1h0M184.4,283.0h0M187.8,262.5h0M209.6,281.0h0M213.2,281.6h0M209.6,271.6h0M182.0,280.3h0M188.4,287.8h0M206.2,264.2h0M204.3,276.7h0M179.0,269.6h0M180.9,275.5h0M193.3,289.3h0M178.8,269.0h0M209.3,285.8h0M188.7,283.1h0M207.4,259.4h0M182.4,278.9h0M200.9,290.0h0M209.6,283.9h0M201.4,289.7h0M184.2,283.7h0M213.3,278.4h0M202.3,283.0h0M187.6,287.2h0M181.4,265.5h0M199.1,281.4h0M204.0,286.0h0M181.3,268.3h0M183.5,277.4h0M199.9,268.8h0M195.6,285.3h0M200.2,289.8h0M187.5,286.3h0M205.2,289.2h0M181.7,263.4h0M200.8,267.3h0M205.6,262.4h0M186.2,266.0h0M198.2,256.1h0M210.7,260.2h0M204.2,260.4h0M190.2,257.9h0M181.1,274.4h0M180.8,265.5h0M189.8,288.0h0M202.7,288.3h0M206.5,279.8h0M198.4,276.5h0M181.3,268.5h0M179.1,270.5h0M190.6,287.6h0M179.0,274.9h0M204.3,289.1h0M201.5,285.8h0M199.4,263.7h0M210.2,281.6h0M199.5,287.9h0M191.2,283.5h0M195.0,289.8h0M206.3,262.5h0M190.9,257.3h0M196.5,284.6h0M186.5,281.2h0M201.3,289.3h0M212.8,267.5h0M185.1,284.7h0M197.0,268.4h0M213.3,270.3h0M195.9,256.2h0M193.5,265.9h0M185.6,260.8h0M211.0,280.2h0M181.1,276.8h0M195.5,291.0h0M191.8,256.5h0M189.0,287.5h0M183.4,283.8h0M188.7,257.6h0M202.4,256.0h0M211.1,281.9h0M187.0,269.3h0M212.9,274.9h0M195.4,289.6h0M188.5,258.3h0M182.7,279.5h0M179.2,272.3h0M191.9,269.3h0M207.5,282.8h0M214.0,272.2h0M190.6,273.1h0M189.1,277.1h0M199.1,272.3h0M210.2,263.4h0M195.7,276.2h0M208.3,284.7h0M214.7,277.3h0M196.6,256.1h0M183.4,271.5h0M179.5,270.9h0M189.9,257.8h0M192.7,254.7h0M183.4,275.3h0M195.8,255.6h0M196.7,281.8h0M196.7,261.0h0M202.5,289.9h0M182.8,263.9h0M210.5,281.8h0M196.8,280.2h0M187.6,287.2h0M197.2,254.5h0M195.5,283.5h0M184.1,262.1h0M209.1,281.4h0M185.2,283.7h0M201.2,285.0h0M194.5,260.7h0M202.7,255.0h0M207.4,284.4h0M209.0,283.8h0M193.2,286.2h0M181.1,279.2h0M181.2,280.7h0M206.6,267.7h0M189.6,289.0h0M194.8,283.7h0M197.3,277.8h0M198.2,281.1h0M200.7,288.6h0M186.0,280.5h0M213.6,265.0h0M211.8,279.3h0M213.1,269.1h0M180.4,265.9h0M203.1,274.5h0M212.8,266.7h0M193.9,280.1h0M182.5,283.1h0M187.9,266.2h0M214.3,275.0h0M189.4,286.7h0M182.7,281.8h0M200.2,255.4h0M184.7,273.6h0M179.2,274.6h0M203.7,262.7h0M189.4,280.9h0M195.2,272.5h0M184.1,274.6h0M210.9,284.4h0M195.9,290.2h0M199.9,267.8h0M214.2,270.1h0M200.5,275.0h0M196.5,255.9h0M189.7,257.2h0M212.5,280.8h0M204.9,258.1h0M206.9,274.1h0M205.5,274.3h0M200.1,285.4h0M185.6,261.5h0M213.5,273.7h0M205.2,270.7h0M203.2,278.6h0M180.0,269.9h0M202.6,255.4h0M205.5,286.5h0M183.4,283.7h0M191.5,284.6h0M198.9,261.5h0M194.8,254.2h0M211.1,268.6h0M187.5,285.3h0M210.9,267.5h0M189.0,259.5h0M182.5,272.7h0M203.8,260.4h0M194.6,280.1h0M181.0,278.3h0M208.3,284.6h0M211.2,272.3h0M179.5,277.4h0M203.9,256.0h0M180.1,273.5h0M195.4,275.9h0M188.3,267.1h0M183.9,270.7h0M185.8,285.4h0M212.6,276.0h0M181.3,263.5h0M191.0,265.4h0M197.7,276.9h0M197.2,289.0h0M181.8,263.9h0M194.9,265.3h0M199.6,268.5h0M183.7,260.1h0M209.1,284.0h0M203.7,276.8h0M208.8,261.0h0M206.3,258.7h0M181.9,279.5h0M196.1,256.9h0M185.9,286.5h0M202.4,260.0h0M188.5,264.7h0M206.1,272.3h0M202.2,286.5h0M210.9,268.9h0M209.3,259.5h0M206.1,256.7h0M182.5,284.0h0M199.2,280.6h0M204.6,257.7h0M187.6,256.8h0M186.5,276.8h0M193.8,287.0h0M198.1,253.7h0M204.9,256.3h0M179.5,269.7h0M186.2,275.9h0M212.2,270.6h0M203.0,270.2h0M206.3,260.1h0M194.7,269.9h0M209.4,284.7h0M203.2,255.1h0M187.4,280.8h0M198.7,254.3h0M215.0,273.6h0" stroke="#151515" stroke-width="1.8" stroke-linecap="round" opacity="0.9"/>
<circle cx="197.1" cy="316.62" r="19.6" fill="none" stroke="#c4c4c4" stroke-width="0.9"/>
<circle cx="197.1" cy="316.62" r="18.8" fill="#999999" />
<path d="M210.3,321.8h0M188.4,308.0h0M190.6,324.9h0M212.8,325.0h0M199.3,300.2h0M201.1,311.7h0M205.3,300.8h0M190.8,329.5h0M208.9,314.5h0M201.5,300.7h0M205.8,332.2h0M212.0,305.6h0M181.7,325.7h0M180.7,310.0h0M200.5,326.4h0M209.7,305.5h0M186.9,303.6h0M206.3,320.3h0M204.8,300.9h0M185.6,304.9h0M210.0,304.2h0M180.7,310.7h0M180.6,310.4h0M197.1,332.8h0M180.8,308.1h0M199.5,332.6h0M195.2,334.2h0M202.2,312.4h0M183.6,306.6h0M196.5,299.6h0M202.6,317.7h0M204.6,300.3h0M191.3,299.2h0M205.0,323.0h0M213.5,323.3h0M196.2,332.7h0M214.8,315.3h0M203.7,303.2h0M196.9,332.5h0M199.2,323.7h0M180.4,311.6h0M190.9,301.2h0M205.6,314.7h0M188.3,308.9h0M197.4,298.4h0M182.0,308.2h0M207.9,309.7h0M207.5,329.8h0M211.7,310.7h0M184.3,329.8h0M184.4,326.1h0M209.5,315.5h0M192.6,329.6h0M196.4,300.8h0M183.0,304.9h0M205.0,322.1h0M194.9,307.9h0M185.3,327.8h0M193.1,329.3h0M193.2,332.3h0M203.7,332.7h0M193.2,316.1h0M210.4,310.3h0M212.6,312.7h0M192.0,301.0h0M193.6,309.5h0M207.7,313.1h0M185.3,304.7h0M190.9,308.2h0M197.2,302.2h0M205.5,315.5h0M213.1,325.7h0M212.5,323.8h0M191.3,333.7h0M208.9,330.3h0M211.8,326.7h0M197.4,334.7h0M187.0,313.2h0M190.6,326.8h0M197.6,329.6h0M193.9,323.8h0M184.7,329.3h0M180.2,323.0h0M208.7,304.9h0M192.3,311.8h0M186.3,324.8h0M203.7,311.7h0M202.5,334.0h0M200.9,309.8h0M207.3,331.9h0M200.0,306.0h0M182.5,327.2h0M198.9,315.8h0M200.4,314.2h0M180.4,323.1h0M208.9,302.0h0M181.6,308.3h0M192.7,328.9h0M191.5,322.8h0M191.0,316.2h0M189.0,330.8h0M191.0,333.8h0M208.9,329.0h0M192.3,322.1h0M189.8,331.7h0M207.5,303.2h0M211.4,328.2h0M207.9,303.4h0M212.9,325.0h0M199.2,317.9h0M207.5,302.6h0M191.7,300.0h0M180.2,316.0h0M196.8,326.5h0M200.3,334.2h0M209.3,305.5h0M208.8,313.6h0M198.2,335.1h0M196.6,327.4h0M197.0,300.1h0M182.7,319.2h0M211.7,318.7h0M187.7,331.1h0M186.2,331.5h0M194.4,317.7h0M196.6,334.0h0M192.7,332.4h0M211.8,325.3h0M211.4,307.4h0M207.4,331.7h0M186.2,303.7h0M194.6,317.9h0M184.9,325.9h0M185.8,303.8h0M192.8,316.6h0M186.6,331.2h0M183.2,326.9h0M180.6,316.2h0M190.9,332.9h0M209.7,330.3h0M208.6,305.2h0M185.4,303.1h0M188.8,300.0h0M206.5,304.7h0M182.5,307.4h0M203.6,307.5h0M191.9,302.0h0M202.9,322.6h0M194.1,334.2h0M189.1,318.5h0M180.8,324.4h0M187.3,308.9h0M213.9,320.0h0M204.0,323.1h0M193.2,320.6h0M194.4,303.2h0M207.7,316.7h0M191.3,333.1h0M184.1,306.9h0M198.9,306.1h0M205.0,313.6h0M214.9,312.4h0M203.2,313.7h0M194.3,325.9h0M180.7,319.5h0M195.1,310.3h0M196.1,332.8h0M212.0,305.2h0M213.2,311.4h0M204.5,300.9h0M210.7,308.6h0M213.8,318.0h0M195.6,326.3h0M180.3,314.9h0M210.2,322.8h0M184.8,303.2h0M212.3,316.9h0M182.7,326.6h0M197.1,333.3h0M206.1,329.9h0M189.3,324.7h0M187.9,305.5h0M214.0,310.0h0M197.8,300.5h0M179.6,315.8h0M214.5,316.6h0M202.1,309.7h0M198.3,331.7h0M208.7,305.4h0M201.6,305.6h0" stroke="#1e1e1e" stroke-width="1.8" stroke-linecap="round" opacity="0.9"/>
<text transform="translate(168.3,39) rotate(-90)" y="3.32" font-size="9.5" text-anchor="middle">Ctrl</text>
<text transform="translate(168.3,79.5) rotate(-90)" y="3.32" font-size="9.5" text-anchor="middle">TRIM35</text>
<text transform="translate(168.3,157.8) rotate(-90)" y="3.32" font-size="9.5" text-anchor="middle">Ctrl</text>
<text transform="translate(168.3,197.5) rotate(-90)" y="3.32" font-size="9.5" text-anchor="middle">TRIM35</text>
<text transform="translate(168.3,275.6) rotate(-90)" y="3.32" font-size="9.5" text-anchor="middle">Ctrl</text>
<text transform="translate(168.3,315.5) rotate(-90)" y="3.32" font-size="9.5" text-anchor="middle">TRIM35</text>
<line x1="220.8" y1="15.4" x2="220.8" y2="94.6" stroke="#000" stroke-width="0.8" />
<line x1="220.8" y1="94.6" x2="340.1" y2="94.6" stroke="#000" stroke-width="0.8" />
<line x1="220.8" y1="94.6" x2="220.8" y2="96.2" stroke="#000" stroke-width="0.7" />
<text transform="translate(222.3,98.6) rotate(-45) scale(1,0.8)" y="2.24" font-size="6.4" text-anchor="end" font-weight="bold">0.0</text>
<line x1="260.4" y1="94.6" x2="260.4" y2="96.2" stroke="#000" stroke-width="0.7" />
<text transform="translate(261.9,98.6) rotate(-45) scale(1,0.8)" y="2.24" font-size="6.4" text-anchor="end" font-weight="bold">0.5</text>
<line x1="300" y1="94.6" x2="300" y2="96.2" stroke="#000" stroke-width="0.7" />
<text transform="translate(301.5,98.6) rotate(-45) scale(1,0.8)" y="2.24" font-size="6.4" text-anchor="end" font-weight="bold">1.0</text>
<line x1="339.6" y1="94.6" x2="339.6" y2="96.2" stroke="#000" stroke-width="0.7" />
<text transform="translate(341.1,98.6) rotate(-45) scale(1,0.8)" y="2.24" font-size="6.4" text-anchor="end" font-weight="bold">1.5</text>
<text x="279.2" y="119.05" font-size="6.7" text-anchor="middle">Relative clone number</text>
<rect x="220.8" y="27.4" width="79.2" height="22.4" fill="#a2b9d0" />
<rect x="220.8" y="61" width="46.33" height="23" fill="#eeaaa9" />
<line x1="219.2" y1="38.6" x2="220.8" y2="38.6" stroke="#000" stroke-width="0.7" />
<line x1="284.16" y1="38.6" x2="316.63" y2="38.6" stroke="#3f6d9c" stroke-width="0.9" />
<line x1="284.16" y1="34.4" x2="284.16" y2="42.8" stroke="#3f6d9c" stroke-width="0.7" opacity="0.8"/>
<circle cx="284.16" cy="38.6" r="2.4" fill="#3f6d9c" />
<line x1="300" y1="34.4" x2="300" y2="42.8" stroke="#3f6d9c" stroke-width="0.7" opacity="0.8"/>
<circle cx="300" cy="38.6" r="2.4" fill="#3f6d9c" />
<line x1="316.63" y1="34.4" x2="316.63" y2="42.8" stroke="#3f6d9c" stroke-width="0.7" opacity="0.8"/>
<circle cx="316.63" cy="38.6" r="2.4" fill="#3f6d9c" />
<line x1="219.2" y1="72.5" x2="220.8" y2="72.5" stroke="#000" stroke-width="0.7" />
<line x1="256.44" y1="72.5" x2="278.62" y2="72.5" stroke="#e2504a" stroke-width="0.9" />
<line x1="256.44" y1="68.3" x2="256.44" y2="76.7" stroke="#e2504a" stroke-width="0.7" opacity="0.8"/>
<circle cx="256.44" cy="72.5" r="2.4" fill="#e2504a" />
<line x1="266.74" y1="68.3" x2="266.74" y2="76.7" stroke="#e2504a" stroke-width="0.7" opacity="0.8"/>
<circle cx="266.74" cy="72.5" r="2.4" fill="#e2504a" />
<line x1="278.62" y1="68.3" x2="278.62" y2="76.7" stroke="#e2504a" stroke-width="0.7" opacity="0.8"/>
<circle cx="278.62" cy="72.5" r="2.4" fill="#e2504a" />
<path d="M321,38.4 H324.7 V75.6 H321" fill="none" stroke="#111" stroke-width="1" />
<text x="328.9" y="61.8" font-size="8" text-anchor="middle">*</text>
<line x1="221.5" y1="135" x2="221.5" y2="214" stroke="#000" stroke-width="0.8" />
<line x1="221.5" y1="214" x2="340.8" y2="214" stroke="#000" stroke-width="0.8" />
<line x1="221.5" y1="214" x2="221.5" y2="215.6" stroke="#000" stroke-width="0.7" />
<text transform="translate(223,218) rotate(-45) scale(1,0.8)" y="2.24" font-size="6.4" text-anchor="end" font-weight="bold">0.0</text>
<line x1="261.1" y1="214" x2="261.1" y2="215.6" stroke="#000" stroke-width="0.7" />
<text transform="translate(262.6,218) rotate(-45) scale(1,0.8)" y="2.24" font-size="6.4" text-anchor="end" font-weight="bold">0.5</text>
<line x1="300.7" y1="214" x2="300.7" y2="215.6" stroke="#000" stroke-width="0.7" />
<text transform="translate(302.2,218) rotate(-45) scale(1,0.8)" y="2.24" font-size="6.4" text-anchor="end" font-weight="bold">1.0</text>
<line x1="340.3" y1="214" x2="340.3" y2="215.6" stroke="#000" stroke-width="0.7" />
<text transform="translate(341.8,218) rotate(-45) scale(1,0.8)" y="2.24" font-size="6.4" text-anchor="end" font-weight="bold">1.5</text>
<text x="279.9" y="238.34" font-size="6.7" text-anchor="middle">Relative clone number</text>
<rect x="221.5" y="146.5" width="79.2" height="22.5" fill="#a2b9d0" />
<rect x="221.5" y="180" width="56.63" height="22.7" fill="#eeaaa9" />
<line x1="219.9" y1="157.75" x2="221.5" y2="157.75" stroke="#000" stroke-width="0.7" />
<line x1="290.4" y1="157.75" x2="307.83" y2="157.75" stroke="#3f6d9c" stroke-width="0.9" />
<line x1="290.4" y1="153.55" x2="290.4" y2="161.95" stroke="#3f6d9c" stroke-width="0.7" opacity="0.8"/>
<circle cx="290.4" cy="157.75" r="2.4" fill="#3f6d9c" />
<line x1="303.87" y1="153.55" x2="303.87" y2="161.95" stroke="#3f6d9c" stroke-width="0.7" opacity="0.8"/>
<circle cx="303.87" cy="157.75" r="2.4" fill="#3f6d9c" />
<line x1="307.83" y1="160.55" x2="307.83" y2="168.95" stroke="#3f6d9c" stroke-width="0.7" opacity="0.8"/>
<circle cx="307.83" cy="164.75" r="2.4" fill="#3f6d9c" />
<line x1="219.9" y1="191.35" x2="221.5" y2="191.35" stroke="#000" stroke-width="0.7" />
<line x1="273.77" y1="191.35" x2="281.69" y2="191.35" stroke="#e2504a" stroke-width="0.9" />
<line x1="273.77" y1="187.15" x2="273.77" y2="195.55" stroke="#e2504a" stroke-width="0.7" opacity="0.8"/>
<circle cx="273.77" cy="191.35" r="2.4" fill="#e2504a" />
<line x1="277.73" y1="187.15" x2="277.73" y2="195.55" stroke="#e2504a" stroke-width="0.7" opacity="0.8"/>
<circle cx="277.73" cy="191.35" r="2.4" fill="#e2504a" />
<line x1="281.69" y1="187.15" x2="281.69" y2="195.55" stroke="#e2504a" stroke-width="0.7" opacity="0.8"/>
<circle cx="281.69" cy="191.35" r="2.4" fill="#e2504a" />
<path d="M316.3,156.7 H320 V192 H316.3" fill="none" stroke="#111" stroke-width="1" />
<text x="324.2" y="179.15" font-size="8" text-anchor="middle">*</text>
<line x1="221.8" y1="253.6" x2="221.8" y2="331.3" stroke="#000" stroke-width="0.8" />
<line x1="221.8" y1="331.3" x2="341.1" y2="331.3" stroke="#000" stroke-width="0.8" />
<line x1="221.8" y1="331.3" x2="221.8" y2="332.9" stroke="#000" stroke-width="0.7" />
<text transform="translate(223.3,335.3) rotate(-45) scale(1,0.8)" y="2.24" font-size="6.4" text-anchor="end" font-weight="bold">0.0</text>
<line x1="261.4" y1="331.3" x2="261.4" y2="332.9" stroke="#000" stroke-width="0.7" />
<text transform="translate(262.9,335.3) rotate(-45) scale(1,0.8)" y="2.24" font-size="6.4" text-anchor="end" font-weight="bold">0.5</text>
<line x1="301" y1="331.3" x2="301" y2="332.9" stroke="#000" stroke-width="0.7" />
<text transform="translate(302.5,335.3) rotate(-45) scale(1,0.8)" y="2.24" font-size="6.4" text-anchor="end" font-weight="bold">1.0</text>
<line x1="340.6" y1="331.3" x2="340.6" y2="332.9" stroke="#000" stroke-width="0.7" />
<text transform="translate(342.1,335.3) rotate(-45) scale(1,0.8)" y="2.24" font-size="6.4" text-anchor="end" font-weight="bold">1.5</text>
<text x="280.2" y="355.85" font-size="6.7" text-anchor="middle">Relative clone number</text>
<rect x="221.8" y="264.9" width="79.2" height="22.1" fill="#a2b9d0" />
<rect x="221.8" y="298.3" width="31.28" height="22.4" fill="#eeaaa9" />
<line x1="220.2" y1="275.95" x2="221.8" y2="275.95" stroke="#000" stroke-width="0.7" />
<line x1="294.66" y1="275.95" x2="309.71" y2="275.95" stroke="#3f6d9c" stroke-width="0.9" />
<line x1="294.66" y1="271.75" x2="294.66" y2="280.15" stroke="#3f6d9c" stroke-width="0.7" opacity="0.8"/>
<circle cx="294.66" cy="275.95" r="2.4" fill="#3f6d9c" />
<line x1="300.21" y1="271.75" x2="300.21" y2="280.15" stroke="#3f6d9c" stroke-width="0.7" opacity="0.8"/>
<circle cx="300.21" cy="275.95" r="2.4" fill="#3f6d9c" />
<line x1="309.71" y1="271.75" x2="309.71" y2="280.15" stroke="#3f6d9c" stroke-width="0.7" opacity="0.8"/>
<circle cx="309.71" cy="275.95" r="2.4" fill="#3f6d9c" />
<line x1="220.2" y1="309.5" x2="221.8" y2="309.5" stroke="#000" stroke-width="0.7" />
<line x1="240.02" y1="309.5" x2="267.74" y2="309.5" stroke="#e2504a" stroke-width="0.9" />
<line x1="240.02" y1="305.3" x2="240.02" y2="313.7" stroke="#e2504a" stroke-width="0.7" opacity="0.8"/>
<circle cx="240.02" cy="309.5" r="2.4" fill="#e2504a" />
<line x1="250.31" y1="305.3" x2="250.31" y2="313.7" stroke="#e2504a" stroke-width="0.7" opacity="0.8"/>
<circle cx="250.31" cy="309.5" r="2.4" fill="#e2504a" />
<line x1="267.74" y1="305.3" x2="267.74" y2="313.7" stroke="#e2504a" stroke-width="0.7" opacity="0.8"/>
<circle cx="267.74" cy="309.5" r="2.4" fill="#e2504a" />
<path d="M317.3,276 H321 V309.8 H317.3" fill="none" stroke="#111" stroke-width="1" />
<text x="325.2" y="297.7" font-size="8" text-anchor="middle">*</text>
<text x="373.1" y="17" font-size="24.3">B</text>
<text transform="translate(360.5,70.5) rotate(-90)" y="4.06" font-size="11.6" text-anchor="middle">MDA-MB-231</text>
<text transform="translate(360.5,186) rotate(-90)" y="4.06" font-size="11.6" text-anchor="middle">MCF7</text>
<text transform="translate(360.5,295) rotate(-90)" y="4.06" font-size="11.6" text-anchor="middle">CAL51</text>
<text x="429" y="20.8" font-size="10.3" text-anchor="middle">Ctrl</text>
<text x="525.9" y="20.11" font-size="10.3" text-anchor="middle">TRIM35</text>
<rect x="387.2" y="24.2" width="80.8" height="2.2" fill="#e6e6e6" />
<rect x="463" y="24.2" width="3.5" height="2.2" fill="#cfcfcf" />
<rect x="468.8" y="27.4" width="1.6" height="80.9" fill="#ececec" />
<rect x="468.8" y="57.33" width="1.6" height="3" fill="#bdbdbd" />
<rect x="387.2" y="27.4" width="80.8" height="80.9" fill="#fff" stroke="#8a8a8a" stroke-width="0.7" />
<line x1="386" y1="108.3" x2="387.2" y2="108.3" stroke="#888" stroke-width="0.5" />
<text transform="translate(384,108.3) rotate(-90)" y="0.98" font-size="2.8" text-anchor="middle" fill="#555">10</text>
<line x1="386" y1="94.82" x2="387.2" y2="94.82" stroke="#888" stroke-width="0.5" />
<text transform="translate(384,94.82) rotate(-90)" y="0.98" font-size="2.8" text-anchor="middle" fill="#555">10</text>
<line x1="386" y1="81.33" x2="387.2" y2="81.33" stroke="#888" stroke-width="0.5" />
<text transform="translate(384,81.33) rotate(-90)" y="0.98" font-size="2.8" text-anchor="middle" fill="#555">10</text>
<line x1="386" y1="67.85" x2="387.2" y2="67.85" stroke="#888" stroke-width="0.5" />
<text transform="translate(384,67.85) rotate(-90)" y="0.98" font-size="2.8" text-anchor="middle" fill="#555">10</text>
<line x1="386" y1="54.37" x2="387.2" y2="54.37" stroke="#888" stroke-width="0.5" />
<text transform="translate(384,54.37) rotate(-90)" y="0.98" font-size="2.8" text-anchor="middle" fill="#555">10</text>
<line x1="386" y1="40.88" x2="387.2" y2="40.88" stroke="#888" stroke-width="0.5" />
<text transform="translate(384,40.88) rotate(-90)" y="0.98" font-size="2.8" text-anchor="middle" fill="#555">10</text>
<line x1="386" y1="27.4" x2="387.2" y2="27.4" stroke="#888" stroke-width="0.5" />
<text transform="translate(384,27.4) rotate(-90)" y="0.98" font-size="2.8" text-anchor="middle" fill="#555">10</text>
<line x1="387.2" y1="108.3" x2="387.2" y2="109.5" stroke="#888" stroke-width="0.5" />
<text x="387.2" y="112.48" font-size="2.8" text-anchor="middle" fill="#555">10</text>
<line x1="400.67" y1="108.3" x2="400.67" y2="109.5" stroke="#888" stroke-width="0.5" />
<text x="400.67" y="112.48" font-size="2.8" text-anchor="middle" fill="#555">10</text>
<line x1="414.13" y1="108.3" x2="414.13" y2="109.5" stroke="#888" stroke-width="0.5" />
<text x="414.13" y="112.48" font-size="2.8" text-anchor="middle" fill="#555">10</text>
<line x1="427.6" y1="108.3" x2="427.6" y2="109.5" stroke="#888" stroke-width="0.5" />
<text x="427.6" y="112.48" font-size="2.8" text-anchor="middle" fill="#555">10</text>
<line x1="441.07" y1="108.3" x2="441.07" y2="109.5" stroke="#888" stroke-width="0.5" />
<text x="441.07" y="112.48" font-size="2.8" text-anchor="middle" fill="#555">10</text>
<line x1="454.53" y1="108.3" x2="454.53" y2="109.5" stroke="#888" stroke-width="0.5" />
<text x="454.53" y="112.48" font-size="2.8" text-anchor="middle" fill="#555">10</text>
<line x1="468" y1="108.3" x2="468" y2="109.5" stroke="#888" stroke-width="0.5" />
<text x="468" y="112.48" font-size="2.8" text-anchor="middle" fill="#555">10</text>
<text x="389.2" y="30.98" font-size="3.1" fill="#333">Q3-1</text>
<text x="389.2" y="34.28" font-size="3.1" fill="#333">0.00%</text>
<text x="466" y="30.98" font-size="3.1" text-anchor="end" fill="#333">Q3-2</text>
<text x="466" y="34.28" font-size="3.1" text-anchor="end" fill="#333">2.88%</text>
<text x="389.2" y="103.88" font-size="3.1" fill="#333">Q3-3</text>
<text x="389.2" y="107.18" font-size="3.1" fill="#333">95.67%</text>
<text x="466" y="103.88" font-size="3.1" text-anchor="end" fill="#333">Q3-4</text>
<text x="466" y="107.18" font-size="3.1" text-anchor="end" fill="#333">1.35%</text>
<path d="M411.9,80.9h.8M428.5,70.8h.8M412.9,83.1h.8M419.4,68.0h.8M418.0,87.0h.8M423.1,68.9h.8M426.2,62.1h.8M421.0,76.5h.8M437.1,60.5h.8M420.1,83.8h.8M420.6,73.8h.8M418.8,77.2h.8M419.7,70.7h.8M426.4,67.5h.8M407.3,83.1h.8M412.7,84.1h.8M411.7,83.8h.8M415.1,78.8h.8M440.6,55.2h.8M430.5,74.7h.8M416.4,74.2h.8M418.7,74.1h.8M424.9,78.0h.8M427.0,74.5h.8M433.7,65.5h.8M424.7,70.8h.8M428.5,71.4h.8M427.1,69.4h.8M425.9,65.0h.8M424.3,76.9h.8M423.5,68.6h.8M431.9,66.4h.8M422.1,69.7h.8M421.5,72.4h.8M423.9,76.0h.8M416.0,82.5h.8M418.6,65.8h.8M422.6,65.2h.8M422.7,67.7h.8M418.9,71.0h.8M432.5,65.4h.8M409.2,71.9h.8M418.5,69.9h.8M430.0,73.8h.8M428.7,53.7h.8M418.9,71.1h.8M424.6,77.4h.8M418.6,74.2h.8M424.7,65.6h.8M416.0,69.6h.8M413.1,76.6h.8M428.4,69.3h.8M413.2,89.0h.8M420.1,71.5h.8M433.6,69.3h.8M418.2,72.5h.8M428.4,84.6h.8M416.9,61.6h.8M430.0,72.2h.8M417.3,76.6h.8M433.3,57.7h.8M415.6,68.5h.8M413.3,68.5h.8M418.2,80.8h.8M419.7,65.3h.8M423.4,69.9h.8M412.3,88.5h.8M418.9,80.5h.8M425.4,72.6h.8M425.0,69.9h.8M418.2,76.5h.8M420.0,69.2h.8M418.6,78.6h.8M406.5,77.2h.8M430.0,66.8h.8M422.3,82.3h.8M420.9,73.1h.8M432.8,60.9h.8M424.9,88.6h.8M428.4,65.7h.8M410.3,83.9h.8M398.1,71.8h.8M425.2,66.1h.8M427.4,83.8h.8M425.6,81.4h.8M432.0,79.2h.8M410.7,75.9h.8M434.8,69.4h.8M408.1,80.9h.8M429.4,73.4h.8M419.0,81.6h.8M416.0,84.5h.8M425.6,64.8h.8M433.3,62.9h.8M423.4,79.3h.8M424.7,80.5h.8M407.4,83.0h.8M426.2,63.2h.8M427.7,66.0h.8M416.0,78.9h.8M422.4,81.2h.8M415.9,90.5h.8M420.0,74.4h.8M412.5,72.5h.8M419.5,71.7h.8M430.9,70.6h.8M406.0,84.0h.8M411.6,74.2h.8M418.9,69.2h.8M432.8,78.0h.8M427.4,73.1h.8M417.7,81.0h.8M422.0,67.0h.8M432.8,74.9h.8M425.8,87.2h.8M417.8,73.3h.8M415.1,78.6h.8M418.3,69.8h.8M418.7,82.9h.8M409.6,73.0h.8M427.6,68.8h.8M421.5,73.1h.8M422.6,74.4h.8M423.2,81.5h.8M410.7,72.7h.8M423.6,71.4h.8M419.1,76.0h.8M425.1,75.2h.8M420.9,72.8h.8M419.0,82.3h.8M418.5,84.8h.8M434.6,78.2h.8M421.2,78.8h.8M416.5,78.3h.8M427.1,67.8h.8M422.0,78.0h.8M416.5,72.3h.8M422.4,81.5h.8M417.1,86.6h.8M408.2,79.2h.8M423.6,73.6h.8M431.8,68.5h.8M422.2,67.4h.8M417.0,89.9h.8M411.7,77.1h.8M432.9,71.6h.8M428.3,70.0h.8M420.3,79.3h.8M425.3,83.5h.8M419.1,85.5h.8M415.9,64.3h.8M438.3,59.7h.8M411.8,86.7h.8M407.7,73.3h.8M426.7,74.1h.8M424.3,67.3h.8M412.8,86.6h.8M419.1,76.3h.8M422.6,75.4h.8M423.9,75.9h.8M409.6,74.7h.8M421.2,71.1h.8M411.6,85.1h.8M430.3,74.7h.8M428.6,69.7h.8M423.5,73.0h.8M417.5,69.2h.8M412.4,71.6h.8M419.3,83.0h.8M428.8,74.5h.8M415.0,73.8h.8M434.4,74.2h.8M416.7,64.9h.8M428.7,68.6h.8M418.1,79.6h.8M414.6,82.8h.8M420.0,76.6h.8M428.6,68.6h.8M408.0,79.8h.8M415.8,83.0h.8M421.1,77.0h.8M415.5,81.8h.8M436.0,64.0h.8M415.6,71.6h.8M422.3,67.6h.8M433.0,77.0h.8M414.9,79.6h.8M418.8,67.1h.8M424.3,73.0h.8M421.6,75.4h.8M419.6,70.9h.8M421.5,79.9h.8M411.4,76.0h.8M424.7,63.6h.8M422.7,66.7h.8M418.1,72.5h.8M415.0,82.0h.8M413.5,76.6h.8M417.5,78.8h.8M418.0,67.5h.8M419.3,83.1h.8M429.6,74.1h.8M425.4,74.3h.8M426.7,82.2h.8M426.7,72.5h.8M407.6,72.7h.8M412.0,57.7h.8M424.3,73.7h.8M415.3,68.3h.8M418.8,73.4h.8M427.1,75.1h.8M423.2,76.0h.8M409.9,79.2h.8M424.3,70.6h.8M422.5,87.7h.8M423.9,72.3h.8M410.7,85.2h.8M411.6,84.1h.8M420.2,72.7h.8M421.3,73.0h.8M415.2,83.2h.8M418.4,78.8h.8M419.9,71.0h.8M439.9,74.5h.8M423.7,73.2h.8M430.8,57.8h.8M409.2,83.4h.8M413.8,74.4h.8M414.6,81.6h.8M420.2,76.0h.8M423.8,85.2h.8M419.7,68.5h.8M423.9,79.1h.8M419.7,71.6h.8M419.6,76.0h.8M433.2,70.5h.8M424.3,85.3h.8M419.1,81.8h.8M417.4,83.2h.8M432.1,64.8h.8M411.8,67.5h.8M426.6,81.6h.8M426.5,75.9h.8M435.0,69.6h.8M423.0,84.3h.8M424.9,78.0h.8M421.6,76.7h.8M413.4,75.1h.8M426.0,69.0h.8M419.1,84.2h.8M413.4,64.5h.8M420.7,80.5h.8M420.4,83.1h.8M415.5,81.5h.8M429.2,66.3h.8M423.5,83.9h.8M422.0,73.7h.8M417.2,86.3h.8M416.6,71.4h.8M423.6,70.4h.8M417.5,75.7h.8M412.5,67.0h.8M415.1,83.1h.8M429.2,68.3h.8M429.3,66.5h.8M422.8,75.4h.8M415.9,86.8h.8M431.5,59.2h.8M420.7,67.8h.8M420.3,67.7h.8M419.8,77.3h.8M427.8,70.3h.8M413.4,83.7h.8M415.1,75.9h.8M420.2,83.1h.8M412.9,71.2h.8M419.7,74.6h.8M419.6,73.8h.8M421.0,64.2h.8M405.7,79.8h.8M421.8,76.1h.8M435.6,61.1h.8M428.7,59.7h.8M412.6,79.3h.8M425.5,70.9h.8M407.9,90.2h.8M423.5,80.1h.8M432.5,64.8h.8M419.3,78.4h.8M418.7,82.5h.8M420.0,73.2h.8M417.9,78.3h.8M410.3,81.3h.8M415.3,78.6h.8M417.0,82.2h.8M426.3,78.1h.8M435.6,60.2h.8M422.9,78.0h.8M425.1,60.2h.8M427.4,78.1h.8M415.3,75.7h.8M421.9,82.3h.8M416.3,84.9h.8M423.1,77.2h.8M410.4,64.5h.8M435.1,68.1h.8M422.3,72.5h.8M415.9,71.9h.8M419.8,78.1h.8M418.7,77.5h.8M425.5,64.3h.8M414.2,84.6h.8M412.8,76.7h.8M418.7,70.3h.8M427.2,82.3h.8M422.5,71.4h.8M428.4,76.6h.8M423.6,76.9h.8M415.2,77.7h.8M426.0,76.1h.8M419.4,94.3h.8M413.0,74.2h.8M428.5,83.5h.8M413.9,78.5h.8M426.4,60.6h.8M422.1,72.0h.8M415.9,82.9h.8M421.4,79.7h.8M422.4,76.0h.8M417.4,67.6h.8M423.5,68.9h.8M424.7,81.9h.8M417.9,73.6h.8M409.9,76.4h.8M417.2,75.5h.8M423.2,81.5h.8M437.3,66.7h.8M428.2,71.4h.8M425.2,76.2h.8M414.7,74.0h.8M435.4,66.3h.8M417.2,71.4h.8M414.2,76.1h.8M413.7,77.4h.8M418.8,67.8h.8M427.2,77.1h.8M428.6,75.0h.8M419.6,64.8h.8M426.2,73.4h.8M427.2,67.1h.8M414.4,83.7h.8M430.2,67.5h.8M422.6,75.4h.8M412.3,86.9h.8M422.0,72.0h.8M427.4,83.8h.8M425.3,64.9h.8M422.0,64.0h.8M420.1,79.8h.8M416.3,66.9h.8M411.3,85.9h.8M414.2,77.1h.8M430.5,67.2h.8M413.0,82.2h.8M424.6,82.3h.8M427.8,71.5h.8M429.5,75.6h.8M432.5,73.6h.8M433.6,75.2h.8M430.3,68.0h.8M412.1,85.1h.8M426.3,76.5h.8M416.6,76.9h.8M430.9,87.2h.8M416.4,75.9h.8M418.7,69.4h.8M407.1,69.7h.8M424.3,68.9h.8M423.6,64.9h.8M423.5,76.6h.8M425.2,67.2h.8M413.3,90.3h.8M423.0,71.7h.8M419.9,70.9h.8M415.7,68.2h.8M418.5,79.9h.8M419.8,70.2h.8M419.9,64.7h.8M413.4,73.5h.8M427.2,75.9h.8M412.1,68.1h.8M427.0,71.9h.8M408.9,92.0h.8M416.1,78.8h.8M431.7,58.3h.8M425.9,76.5h.8M414.2,82.8h.8M406.7,66.7h.8M420.4,79.6h.8M427.1,67.8h.8M408.4,77.6h.8M423.6,81.7h.8M420.7,71.2h.8M416.0,74.4h.8M428.8,73.2h.8M417.0,96.1h.8M415.3,71.1h.8M421.5,63.8h.8M431.7,63.7h.8M432.6,74.2h.8M423.3,69.3h.8M421.7,77.1h.8M413.4,81.1h.8M429.6,68.6h.8M426.2,74.2h.8M425.8,77.1h.8M423.7,73.4h.8M424.7,75.2h.8M414.7,83.2h.8M421.0,62.9h.8M415.7,73.9h.8M423.7,68.9h.8M410.1,83.0h.8M410.4,76.4h.8M423.1,67.9h.8M403.1,87.9h.8M429.5,75.4h.8M426.2,68.8h.8M422.1,78.6h.8M416.1,82.6h.8M438.4,55.6h.8M424.2,76.0h.8M418.9,80.6h.8M412.1,77.0h.8M415.8,73.3h.8M410.2,78.4h.8M418.0,72.6h.8M423.2,78.8h.8M429.5,69.2h.8M423.0,79.0h.8M423.3,75.1h.8M421.0,71.9h.8M421.6,84.2h.8M419.8,68.9h.8M429.0,74.9h.8M422.8,69.8h.8M420.7,71.6h.8M417.9,76.1h.8M428.0,71.2h.8M412.3,83.9h.8M428.6,80.5h.8M414.4,76.8h.8M419.4,75.5h.8M409.7,79.1h.8M431.9,65.1h.8M420.5,83.6h.8M425.6,69.2h.8M411.4,75.2h.8M423.0,68.1h.8M410.4,85.9h.8M428.9,75.6h.8M420.9,64.1h.8M429.5,71.3h.8M412.9,75.7h.8M422.1,64.4h.8M428.2,68.1h.8M425.0,84.2h.8M416.9,61.8h.8M419.6,79.4h.8M423.1,69.6h.8M415.0,85.8h.8M406.6,74.1h.8M413.1,76.1h.8M425.2,56.4h.8M423.2,60.3h.8M414.4,83.6h.8M417.3,80.3h.8M442.5,65.3h.8M428.5,76.1h.8M423.9,62.1h.8M409.9,70.4h.8M416.3,69.7h.8M424.5,75.1h.8M418.7,77.6h.8M423.8,70.7h.8M435.5,61.4h.8M420.4,80.4h.8M421.2,84.9h.8M411.3,77.5h.8M421.6,75.2h.8M418.8,68.9h.8M421.5,68.4h.8M418.2,79.2h.8M416.3,79.9h.8M417.1,81.2h.8M420.3,76.7h.8M420.8,78.3h.8M429.7,68.3h.8M413.8,80.3h.8M418.0,85.4h.8M427.2,80.5h.8M400.2,93.2h.8M433.0,74.8h.8M413.1,78.2h.8M411.9,90.1h.8M414.1,82.9h.8M405.5,83.5h.8M418.6,74.7h.8M426.4,84.7h.8M424.6,80.7h.8M423.8,78.0h.8M419.5,77.6h.8M422.4,67.4h.8M414.6,81.0h.8M427.6,64.3h.8M416.7,79.7h.8M415.0,73.5h.8M419.4,73.3h.8M439.0,66.7h.8M420.9,87.4h.8M432.1,61.0h.8M432.3,51.3h.8M423.6,70.4h.8M434.3,60.2h.8M425.8,71.3h.8M427.4,69.1h.8M427.6,67.8h.8M429.3,75.1h.8M420.0,66.6h.8M442.8,48.6h.8M434.8,63.3h.8M427.3,66.7h.8M436.0,68.5h.8M447.2,52.6h.8M426.3,68.9h.8M422.8,68.9h.8M447.2,46.2h.8M421.2,63.2h.8M434.1,64.0h.8M427.8,64.2h.8M425.6,75.3h.8M436.8,57.1h.8M440.7,49.4h.8M433.0,64.3h.8M426.6,66.1h.8M441.3,49.7h.8M438.7,61.8h.8M427.7,73.6h.8M421.5,78.4h.8M426.0,72.6h.8M433.8,63.4h.8M415.6,75.4h.8M434.1,62.6h.8M420.3,68.2h.8M426.2,59.8h.8M426.7,60.5h.8M429.1,55.1h.8M425.4,68.0h.8M436.3,62.2h.8M441.5,47.6h.8M424.0,68.6h.8M434.3,59.1h.8M434.6,54.0h.8M443.5,52.9h.8M417.2,74.5h.8M431.2,69.3h.8M426.3,70.4h.8M435.0,57.5h.8M423.9,71.9h.8M425.3,63.3h.8M426.0,66.9h.8M442.6,54.9h.8M422.2,64.2h.8M443.9,54.8h.8M431.8,74.3h.8M415.6,74.2h.8M447.9,51.1h.8M442.0,55.2h.8M445.3,53.4h.8M426.8,67.4h.8M427.6,73.8h.8M439.4,57.6h.8M434.7,63.8h.8M442.0,51.9h.8M444.5,47.5h.8M430.0,62.9h.8M426.8,58.8h.8M438.5,56.1h.8M432.4,61.2h.8M441.0,56.8h.8M423.2,69.2h.8M426.6,73.3h.8M417.6,70.2h.8M439.3,54.5h.8M435.2,66.9h.8M429.6,65.7h.8M424.9,73.5h.8M443.3,46.9h.8M434.5,72.0h.8M430.2,59.3h.8M446.6,50.5h.8M436.7,68.1h.8M429.4,61.7h.8M419.9,75.0h.8M424.5,77.7h.8M420.0,77.5h.8M438.0,64.3h.8M426.3,62.5h.8M425.1,73.7h.8M435.6,57.4h.8M442.9,54.2h.8M429.5,66.5h.8M418.0,70.8h.8M444.0,52.4h.8M439.7,55.4h.8M433.5,48.3h.8M443.0,56.3h.8M419.6,74.0h.8M419.7,75.4h.8M432.7,63.4h.8M428.6,64.3h.8M437.5,58.3h.8M427.4,66.5h.8M433.9,54.6h.8M441.8,56.3h.8M433.2,66.4h.8M417.2,73.5h.8M431.2,64.5h.8M416.8,80.5h.8M434.5,64.8h.8M420.4,70.8h.8M441.6,52.4h.8M445.0,44.2h.8M433.1,59.9h.8M431.1,60.9h.8M431.1,63.9h.8M420.9,71.1h.8M431.7,64.8h.8M426.2,75.0h.8M431.0,68.5h.8M430.8,68.3h.8M432.2,55.6h.8M439.4,51.3h.8M424.7,72.0h.8M427.3,60.9h.8M444.4,54.6h.8M421.6,67.7h.8M432.8,61.7h.8M436.9,53.9h.8M425.9,70.1h.8M434.5,61.8h.8M426.8,76.4h.8M417.5,73.7h.8M436.5,67.9h.8M445.1,52.1h.8M434.4,57.6h.8M438.6,61.1h.8M425.8,71.2h.8M444.0,47.8h.8M429.9,58.6h.8M442.1,50.4h.8M428.8,62.3h.8M430.0,70.3h.8M446.2,48.9h.8M444.1,44.3h.8M442.9,45.1h.8M457.3,43.5h.8M452.1,49.2h.8M446.7,48.3h.8M444.3,53.0h.8M447.9,47.5h.8M445.3,48.3h.8M441.1,46.6h.8M443.3,49.7h.8M448.3,41.4h.8M444.9,50.9h.8M440.5,43.7h.8M449.9,47.2h.8M444.0,43.6h.8M446.5,45.8h.8M446.7,49.0h.8M448.7,46.6h.8M443.7,47.7h.8M445.4,48.2h.8M443.7,46.8h.8M443.4,45.7h.8M446.5,51.5h.8M443.6,49.6h.8M447.3,48.0h.8M448.6,45.8h.8M448.1,48.6h.8M431.5,48.8h.8M448.3,54.1h.8M441.5,47.9h.8M447.3,44.4h.8M450.8,49.1h.8M442.6,43.6h.8M444.1,55.5h.8M454.7,39.4h.8M438.3,49.8h.8M445.4,45.5h.8M448.3,47.9h.8M447.0,48.5h.8M441.4,52.0h.8M443.9,51.4h.8M448.7,47.8h.8M446.4,47.5h.8M438.3,46.5h.8M447.6,42.3h.8M439.7,51.2h.8M449.2,42.5h.8M447.7,47.5h.8M449.9,46.5h.8M444.9,45.1h.8M446.6,47.2h.8M443.1,46.5h.8M442.7,49.7h.8M441.6,42.4h.8M441.8,51.2h.8M443.7,49.8h.8M448.9,45.9h.8M448.9,49.3h.8M445.6,45.3h.8M445.6,43.3h.8M444.7,45.7h.8M447.6,48.8h.8M443.2,50.5h.8M450.8,47.8h.8M442.8,49.3h.8M435.7,45.7h.8M448.2,54.3h.8M442.8,52.7h.8M455.5,53.9h.8M436.1,51.3h.8M446.6,51.0h.8M445.1,45.6h.8M444.9,52.7h.8M449.3,46.6h.8M447.4,50.5h.8M448.2,47.5h.8M443.1,45.1h.8M444.0,45.8h.8M439.3,42.9h.8M449.5,43.8h.8M440.4,47.5h.8M443.6,93.7h.8M414.1,59.6h.8M412.1,61.4h.8M411.9,82.1h.8M403.8,63.3h.8M416.5,74.5h.8M408.5,63.2h.8M402.7,63.7h.8M429.0,71.3h.8M419.6,61.9h.8M416.6,29.8h.8M394.3,92.3h.8M454.6,107.5h.8M408.9,75.5h.8M433.0,56.6h.8M448.4,64.1h.8M426.3,57.7h.8M426.5,74.7h.8M437.9,57.7h.8M420.5,102.1h.8M401.6,80.2h.8M427.6,67.5h.8M416.3,96.1h.8M438.8,83.4h.8M424.9,57.9h.8M422.1,101.8h.8M437.4,54.6h.8M423.3,66.7h.8M415.7,80.0h.8M434.9,78.1h.8M440.6,53.6h.8M428.1,81.3h.8M396.8,93.7h.8M395.0,53.2h.8M463.4,94.3h.8M426.7,95.3h.8M439.0,58.0h.8M428.4,96.0h.8M418.0,76.0h.8M413.2,85.9h.8M411.7,66.1h.8M400.9,61.0h.8M424.1,82.0h.8M414.4,59.1h.8M426.1,80.3h.8M441.1,67.4h.8M414.0,82.6h.8M445.1,74.2h.8M419.3,60.8h.8M414.5,89.2h.8M434.3,91.7h.8M394.2,87.6h.8M405.7,83.9h.8M406.4,94.1h.8M422.6,94.6h.8M413.5,104.6h.8M413.5,103.6h.8M412.8,60.1h.8M435.1,68.9h.8M419.7,54.6h.8M415.1,76.6h.8M409.2,80.8h.8M414.0,97.2h.8M415.0,65.0h.8M413.4,79.1h.8M430.2,67.9h.8" stroke="#2a3cf2" stroke-width="0.8" opacity="0.8"/>
<ellipse cx="420.6" cy="74.9" rx="11" ry="7" transform="rotate(-45 420.6 74.9)" fill="url(#fcore)"/>
<line x1="432.2" y1="27.4" x2="432.2" y2="108.3" stroke="#7d7d7d" stroke-width="0.8" />
<line x1="387.2" y1="55.4" x2="468" y2="55.4" stroke="#7d7d7d" stroke-width="0.8" />
<rect x="482.3" y="22.9" width="81.7" height="2.2" fill="#e6e6e6" />
<rect x="559" y="22.9" width="3.5" height="2.2" fill="#cfcfcf" />
<rect x="564.8" y="26.1" width="1.6" height="82.2" fill="#ececec" />
<rect x="564.8" y="56.51" width="1.6" height="3" fill="#bdbdbd" />
<rect x="482.3" y="26.1" width="81.7" height="82.2" fill="#fff" stroke="#8a8a8a" stroke-width="0.7" />
<line x1="481.1" y1="108.3" x2="482.3" y2="108.3" stroke="#888" stroke-width="0.5" />
<text transform="translate(479.1,108.3) rotate(-90)" y="0.98" font-size="2.8" text-anchor="middle" fill="#555">10</text>
<line x1="481.1" y1="94.6" x2="482.3" y2="94.6" stroke="#888" stroke-width="0.5" />
<text transform="translate(479.1,94.6) rotate(-90)" y="0.98" font-size="2.8" text-anchor="middle" fill="#555">10</text>
<line x1="481.1" y1="80.9" x2="482.3" y2="80.9" stroke="#888" stroke-width="0.5" />
<text transform="translate(479.1,80.9) rotate(-90)" y="0.98" font-size="2.8" text-anchor="middle" fill="#555">10</text>
<line x1="481.1" y1="67.2" x2="482.3" y2="67.2" stroke="#888" stroke-width="0.5" />
<text transform="translate(479.1,67.2) rotate(-90)" y="0.98" font-size="2.8" text-anchor="middle" fill="#555">10</text>
<line x1="481.1" y1="53.5" x2="482.3" y2="53.5" stroke="#888" stroke-width="0.5" />
<text transform="translate(479.1,53.5) rotate(-90)" y="0.98" font-size="2.8" text-anchor="middle" fill="#555">10</text>
<line x1="481.1" y1="39.8" x2="482.3" y2="39.8" stroke="#888" stroke-width="0.5" />
<text transform="translate(479.1,39.8) rotate(-90)" y="0.98" font-size="2.8" text-anchor="middle" fill="#555">10</text>
<line x1="481.1" y1="26.1" x2="482.3" y2="26.1" stroke="#888" stroke-width="0.5" />
<text transform="translate(479.1,26.1) rotate(-90)" y="0.98" font-size="2.8" text-anchor="middle" fill="#555">10</text>
<line x1="482.3" y1="108.3" x2="482.3" y2="109.5" stroke="#888" stroke-width="0.5" />
<text x="482.3" y="112.48" font-size="2.8" text-anchor="middle" fill="#555">10</text>
<line x1="495.92" y1="108.3" x2="495.92" y2="109.5" stroke="#888" stroke-width="0.5" />
<text x="495.92" y="112.48" font-size="2.8" text-anchor="middle" fill="#555">10</text>
<line x1="509.53" y1="108.3" x2="509.53" y2="109.5" stroke="#888" stroke-width="0.5" />
<text x="509.53" y="112.48" font-size="2.8" text-anchor="middle" fill="#555">10</text>
<line x1="523.15" y1="108.3" x2="523.15" y2="109.5" stroke="#888" stroke-width="0.5" />
<text x="523.15" y="112.48" font-size="2.8" text-anchor="middle" fill="#555">10</text>
<line x1="536.77" y1="108.3" x2="536.77" y2="109.5" stroke="#888" stroke-width="0.5" />
<text x="536.77" y="112.48" font-size="2.8" text-anchor="middle" fill="#555">10</text>
<line x1="550.38" y1="108.3" x2="550.38" y2="109.5" stroke="#888" stroke-width="0.5" />
<text x="550.38" y="112.48" font-size="2.8" text-anchor="middle" fill="#555">10</text>
<line x1="564" y1="108.3" x2="564" y2="109.5" stroke="#888" stroke-width="0.5" />
<text x="564" y="112.48" font-size="2.8" text-anchor="middle" fill="#555">10</text>
<text x="484.3" y="29.69" font-size="3.1" fill="#333">Q3-1</text>
<text x="484.3" y="32.98" font-size="3.1" fill="#333">0.00%</text>
<text x="562" y="29.69" font-size="3.1" text-anchor="end" fill="#333">Q3-2</text>
<text x="562" y="32.98" font-size="3.1" text-anchor="end" fill="#333">2.88%</text>
<text x="484.3" y="103.88" font-size="3.1" fill="#333">Q3-3</text>
<text x="484.3" y="107.18" font-size="3.1" fill="#333">93.02%</text>
<text x="562" y="103.88" font-size="3.1" text-anchor="end" fill="#333">Q3-4</text>
<text x="562" y="107.18" font-size="3.1" text-anchor="end" fill="#333">7.04%</text>
<path d="M507.0,81.2h.8M517.1,76.6h.8M522.8,66.6h.8M508.3,67.8h.8M518.8,81.0h.8M510.4,83.7h.8M517.9,65.6h.8M517.0,58.7h.8M525.3,59.5h.8M522.9,61.8h.8M510.3,73.0h.8M518.3,73.0h.8M526.8,56.8h.8M514.3,75.8h.8M533.0,58.5h.8M519.4,65.3h.8M518.1,66.9h.8M515.9,77.3h.8M517.5,74.9h.8M516.3,61.2h.8M509.3,76.0h.8M513.6,81.4h.8M515.2,73.5h.8M524.5,85.4h.8M527.1,64.6h.8M510.4,73.8h.8M518.9,81.8h.8M518.6,67.7h.8M508.6,74.4h.8M524.0,74.5h.8M527.3,60.2h.8M508.1,77.9h.8M514.1,67.8h.8M504.4,77.0h.8M520.4,63.7h.8M515.9,63.4h.8M521.2,67.3h.8M507.4,73.4h.8M522.3,65.0h.8M515.3,68.6h.8M499.8,87.3h.8M500.2,87.5h.8M516.5,58.3h.8M512.4,73.8h.8M525.4,81.6h.8M521.9,67.9h.8M521.2,75.8h.8M516.5,72.4h.8M524.2,63.2h.8M541.0,51.8h.8M515.6,74.4h.8M506.0,71.8h.8M526.2,73.4h.8M513.3,67.3h.8M507.5,81.0h.8M506.5,64.9h.8M521.4,71.5h.8M506.1,68.7h.8M505.2,66.6h.8M507.9,83.3h.8M518.3,76.8h.8M513.1,71.2h.8M518.5,82.4h.8M520.0,58.2h.8M511.5,75.7h.8M496.6,84.9h.8M510.8,83.2h.8M535.9,63.6h.8M521.4,76.6h.8M509.8,88.9h.8M524.0,75.9h.8M510.5,73.4h.8M521.2,78.7h.8M526.2,62.5h.8M530.2,67.6h.8M533.2,67.0h.8M507.6,85.4h.8M513.7,73.9h.8M511.0,73.6h.8M528.2,66.5h.8M509.9,82.9h.8M519.2,64.1h.8M518.8,78.6h.8M513.2,68.9h.8M507.5,72.0h.8M517.4,70.0h.8M507.8,71.2h.8M523.2,78.1h.8M524.0,68.9h.8M523.3,65.0h.8M512.4,75.9h.8M517.2,78.9h.8M514.0,69.2h.8M517.9,72.4h.8M511.3,73.9h.8M515.1,67.1h.8M511.1,61.9h.8M507.3,82.8h.8M517.0,65.6h.8M512.1,87.1h.8M512.7,68.7h.8M530.1,71.5h.8M513.4,67.1h.8M521.3,76.4h.8M517.7,82.4h.8M525.7,65.9h.8M517.8,78.7h.8M519.8,77.0h.8M511.0,79.0h.8M513.8,72.2h.8M513.4,67.0h.8M515.8,71.8h.8M521.7,74.3h.8M526.9,67.2h.8M502.1,77.8h.8M523.5,70.6h.8M519.4,62.7h.8M526.2,72.7h.8M522.3,75.5h.8M515.4,78.7h.8M509.8,76.1h.8M509.6,75.2h.8M520.6,73.9h.8M515.5,68.8h.8M525.4,66.3h.8M525.9,59.3h.8M530.3,69.9h.8M505.6,74.6h.8M513.9,72.2h.8M530.4,70.6h.8M512.4,62.2h.8M521.8,67.1h.8M520.7,69.0h.8M517.0,62.6h.8M513.4,71.8h.8M516.1,67.7h.8M526.6,71.4h.8M521.2,61.8h.8M511.2,80.7h.8M508.9,83.0h.8M523.7,75.0h.8M515.6,80.9h.8M515.7,80.0h.8M508.1,77.2h.8M518.9,77.2h.8M525.6,68.5h.8M527.6,71.7h.8M527.8,65.4h.8M509.5,77.0h.8M512.8,85.3h.8M520.5,73.0h.8M519.1,69.5h.8M518.2,70.5h.8M521.6,68.1h.8M520.4,61.9h.8M511.4,91.9h.8M528.7,64.4h.8M518.7,71.9h.8M510.3,62.3h.8M512.4,76.8h.8M521.3,76.8h.8M512.6,79.2h.8M515.5,71.2h.8M510.7,91.1h.8M528.3,62.8h.8M524.0,69.0h.8M504.4,68.9h.8M512.8,84.0h.8M521.3,68.2h.8M506.1,82.5h.8M527.6,73.9h.8M510.5,73.1h.8M538.2,69.5h.8M512.6,76.9h.8M514.8,81.9h.8M511.9,73.8h.8M507.0,76.0h.8M519.1,64.1h.8M528.9,64.9h.8M512.9,69.1h.8M521.5,61.0h.8M516.1,77.4h.8M510.4,82.7h.8M513.3,80.2h.8M511.5,71.8h.8M522.7,67.4h.8M510.1,80.1h.8M516.5,66.6h.8M515.3,68.2h.8M510.4,74.3h.8M523.1,69.3h.8M507.5,72.7h.8M508.1,76.3h.8M516.7,75.7h.8M517.2,75.9h.8M509.9,66.0h.8M526.8,64.0h.8M516.6,66.1h.8M507.3,68.2h.8M514.9,70.0h.8M515.4,83.0h.8M513.3,81.4h.8M524.8,67.3h.8M524.3,68.7h.8M510.4,78.0h.8M521.0,81.6h.8M512.8,67.8h.8M520.4,78.6h.8M517.0,82.1h.8M519.2,77.8h.8M515.7,72.7h.8M529.9,68.7h.8M497.8,79.3h.8M521.2,71.3h.8M523.9,73.0h.8M512.3,72.2h.8M514.6,74.1h.8M519.4,69.4h.8M513.6,72.2h.8M520.5,59.4h.8M508.6,75.3h.8M510.5,90.1h.8M517.6,68.0h.8M532.4,70.7h.8M526.0,67.9h.8M512.4,73.9h.8M529.6,67.4h.8M508.6,85.8h.8M511.7,68.8h.8M520.5,71.5h.8M515.7,77.7h.8M529.6,73.0h.8M516.1,80.4h.8M523.7,65.1h.8M509.9,74.0h.8M525.5,56.4h.8M509.7,81.7h.8M531.2,72.5h.8M511.0,82.0h.8M523.5,72.6h.8M518.6,72.4h.8M523.7,75.3h.8M511.4,95.0h.8M514.3,67.9h.8M526.3,75.9h.8M507.2,84.8h.8M518.4,85.6h.8M516.5,79.5h.8M514.8,72.0h.8M517.5,70.9h.8M520.8,69.9h.8M515.5,77.0h.8M525.6,66.4h.8M515.7,61.3h.8M536.3,70.1h.8M514.2,68.1h.8M516.9,78.4h.8M510.6,84.4h.8M524.3,80.1h.8M520.2,76.1h.8M521.3,76.9h.8M516.9,71.7h.8M515.3,79.8h.8M520.6,64.4h.8M510.4,76.1h.8M511.8,82.1h.8M500.8,93.4h.8M523.2,70.4h.8M523.2,71.6h.8M519.5,71.5h.8M502.8,70.9h.8M516.9,83.4h.8M516.0,70.2h.8M519.6,71.1h.8M516.4,66.3h.8M526.3,74.3h.8M528.0,62.1h.8M500.9,82.6h.8M515.0,72.7h.8M531.6,62.4h.8M516.9,80.6h.8M515.7,69.1h.8M518.9,69.7h.8M502.6,85.2h.8M525.8,68.0h.8M517.6,80.1h.8M524.6,77.3h.8M529.9,61.6h.8M517.9,81.3h.8M516.7,65.7h.8M512.8,75.7h.8M515.2,67.3h.8M516.1,64.2h.8M498.1,71.7h.8M518.2,80.3h.8M509.7,77.2h.8M512.5,58.6h.8M527.7,68.1h.8M516.7,76.8h.8M513.9,77.3h.8M508.6,72.2h.8M516.7,68.3h.8M520.5,78.3h.8M521.3,71.6h.8M524.8,55.5h.8M513.2,84.3h.8M514.4,77.1h.8M524.9,66.3h.8M521.2,71.2h.8M510.9,69.4h.8M509.5,65.2h.8M515.3,71.6h.8M517.0,67.8h.8M531.8,63.3h.8M517.3,79.8h.8M526.6,59.6h.8M518.1,68.2h.8M502.4,81.5h.8M516.7,70.8h.8M518.0,72.6h.8M518.8,75.5h.8M513.2,71.8h.8M500.5,82.9h.8M525.2,72.9h.8M519.1,68.4h.8M507.3,69.6h.8M518.7,72.2h.8M500.4,72.6h.8M517.2,70.2h.8M507.6,66.3h.8M510.0,67.7h.8M519.9,62.4h.8M516.6,64.3h.8M524.3,81.5h.8M495.8,85.4h.8M498.9,80.6h.8M543.8,60.6h.8M519.1,67.1h.8M520.2,84.9h.8M509.9,66.9h.8M516.4,73.5h.8M517.4,72.1h.8M510.1,62.1h.8M518.6,85.4h.8M524.4,69.5h.8M519.3,81.4h.8M517.6,75.6h.8M521.3,71.6h.8M506.0,80.1h.8M523.8,80.6h.8M512.0,72.0h.8M517.9,74.5h.8M523.2,71.6h.8M510.6,75.2h.8M518.4,76.2h.8M517.5,70.4h.8M519.0,63.0h.8M517.7,72.3h.8M510.4,77.9h.8M511.6,71.8h.8M519.6,65.3h.8M515.4,71.9h.8M519.9,56.8h.8M524.2,87.4h.8M526.9,74.8h.8M515.6,70.7h.8M527.1,64.0h.8M518.5,75.7h.8M523.6,75.6h.8M519.3,67.9h.8M526.7,65.5h.8M518.3,70.0h.8M520.6,76.6h.8M513.3,76.1h.8M516.2,65.7h.8M512.3,75.5h.8M517.6,65.6h.8M517.8,70.4h.8M514.8,74.8h.8M522.5,80.6h.8M521.8,86.4h.8M516.8,66.2h.8M514.1,74.3h.8M519.0,72.7h.8M527.0,64.2h.8M519.3,70.9h.8M535.9,66.4h.8M523.5,76.5h.8M516.2,80.9h.8M526.1,72.0h.8M512.0,80.3h.8M514.9,82.5h.8M529.5,65.3h.8M506.8,72.4h.8M513.3,67.9h.8M508.0,84.0h.8M519.2,68.9h.8M515.7,64.5h.8M516.5,64.8h.8M524.7,70.9h.8M513.3,66.5h.8M509.1,76.6h.8M515.9,63.6h.8M497.4,74.0h.8M507.3,82.4h.8M538.2,61.9h.8M530.2,57.5h.8M523.6,55.1h.8M521.1,74.7h.8M520.1,79.6h.8M506.9,79.9h.8M506.6,80.4h.8M517.2,73.6h.8M515.3,84.0h.8M525.8,71.3h.8M514.1,77.0h.8M513.7,60.8h.8M526.4,57.3h.8M518.8,65.9h.8M516.5,74.8h.8M504.1,81.4h.8M512.5,74.3h.8M527.9,55.3h.8M520.9,62.1h.8M516.1,78.7h.8M510.1,84.1h.8M515.4,69.0h.8M522.0,70.4h.8M509.8,79.6h.8M526.7,78.3h.8M523.2,77.6h.8M514.8,76.1h.8M512.8,80.9h.8M521.0,76.5h.8M518.8,65.9h.8M524.6,73.3h.8M517.1,75.2h.8M514.9,69.1h.8M513.6,76.0h.8M523.5,68.8h.8M521.7,68.3h.8M508.3,81.8h.8M519.6,73.4h.8M530.6,62.2h.8M508.4,82.6h.8M513.7,72.2h.8M532.4,56.3h.8M525.0,70.4h.8M513.9,81.4h.8M517.5,75.7h.8M519.5,75.3h.8M512.5,83.3h.8M526.4,72.3h.8M515.7,61.6h.8M507.8,75.2h.8M532.5,77.7h.8M519.9,64.9h.8M505.3,70.9h.8M500.8,79.0h.8M522.7,75.1h.8M523.6,78.0h.8M518.7,66.9h.8M519.4,59.7h.8M510.8,75.2h.8M524.3,87.9h.8M518.5,62.3h.8M511.7,64.7h.8M523.3,79.9h.8M515.2,76.8h.8M520.3,72.7h.8M507.7,91.7h.8M511.8,69.4h.8M517.9,82.1h.8M510.5,72.3h.8M528.7,68.8h.8M516.2,63.4h.8M526.3,72.1h.8M522.8,71.0h.8M506.4,68.6h.8M514.9,71.1h.8M518.4,58.8h.8M521.2,73.4h.8M519.3,75.8h.8M516.7,74.1h.8M510.7,85.3h.8M508.3,82.0h.8M519.3,65.0h.8M521.9,75.4h.8M521.9,78.5h.8M526.6,75.2h.8M506.3,70.2h.8M523.4,74.0h.8M519.6,78.2h.8M513.6,79.5h.8M510.9,77.5h.8M527.1,69.4h.8M514.3,81.9h.8M512.7,76.3h.8M516.2,80.5h.8M508.9,73.4h.8M519.1,62.7h.8M521.8,75.4h.8M517.1,55.6h.8M515.3,79.3h.8M521.2,63.3h.8M511.5,62.3h.8M519.0,77.1h.8M513.9,74.3h.8M513.4,66.8h.8M524.7,70.8h.8M522.4,69.0h.8M522.1,58.9h.8M511.1,74.5h.8M507.0,79.3h.8M515.8,70.6h.8M512.7,83.8h.8M514.4,77.3h.8M524.4,71.9h.8M506.4,87.8h.8M518.6,64.7h.8M506.5,78.5h.8M514.9,69.4h.8M513.3,67.0h.8M504.1,69.1h.8M528.5,70.5h.8M503.2,78.8h.8M510.2,85.9h.8M520.6,70.5h.8M526.3,80.4h.8M510.2,75.8h.8M528.5,58.2h.8M516.7,72.3h.8M521.0,64.1h.8M519.0,86.3h.8M517.0,76.0h.8M531.9,64.8h.8M529.5,76.0h.8M526.9,73.1h.8M518.0,73.7h.8M517.6,72.4h.8M507.4,78.1h.8M511.5,79.0h.8M511.7,78.7h.8M517.0,74.6h.8M507.2,73.5h.8M515.6,74.0h.8M532.0,58.2h.8M527.1,59.3h.8M531.5,53.6h.8M530.1,55.4h.8M547.0,40.6h.8M521.7,69.3h.8M532.9,47.4h.8M516.1,72.2h.8M530.4,63.1h.8M517.9,74.0h.8M537.9,64.5h.8M512.7,75.4h.8M526.5,50.4h.8M516.6,70.2h.8M526.4,57.3h.8M532.4,50.5h.8M534.3,64.3h.8M519.5,62.1h.8M542.7,49.6h.8M524.1,60.8h.8M536.5,55.9h.8M528.8,59.5h.8M537.1,50.3h.8M529.8,53.2h.8M530.0,68.3h.8M522.0,67.5h.8M523.1,57.7h.8M515.1,76.5h.8M539.7,52.3h.8M544.0,44.8h.8M534.2,53.3h.8M546.4,55.8h.8M530.3,57.1h.8M538.6,45.6h.8M519.9,76.6h.8M522.8,71.5h.8M516.5,76.3h.8M523.2,63.9h.8M520.0,66.8h.8M518.8,70.2h.8M534.7,43.8h.8M526.7,53.8h.8M523.2,76.3h.8M522.3,68.0h.8M534.4,52.1h.8M540.8,51.7h.8M529.3,61.8h.8M529.4,56.5h.8M525.4,66.1h.8M526.9,66.7h.8M515.0,65.7h.8M524.5,64.3h.8M516.8,66.7h.8M535.0,49.8h.8M529.1,65.2h.8M535.5,58.0h.8M539.9,42.1h.8M533.8,56.0h.8M535.1,45.5h.8M526.4,62.8h.8M532.0,53.4h.8M526.4,60.6h.8M536.7,48.3h.8M532.6,57.6h.8M536.2,51.6h.8M525.8,59.7h.8M512.3,67.3h.8M518.4,70.5h.8M522.1,71.8h.8M533.5,61.5h.8M523.8,69.2h.8M532.2,53.2h.8M525.6,53.8h.8M535.0,54.5h.8M536.8,43.9h.8M521.3,63.2h.8M524.3,65.7h.8M520.4,64.1h.8M519.4,74.3h.8M543.9,48.2h.8M523.9,65.0h.8M531.7,47.4h.8M536.8,46.3h.8M537.0,51.4h.8M526.7,55.8h.8M519.2,69.0h.8M523.9,70.7h.8M530.1,65.5h.8M533.2,62.2h.8M526.3,63.9h.8M526.0,63.0h.8M526.7,63.7h.8M541.3,39.8h.8M516.6,68.9h.8M531.9,58.2h.8M541.4,52.0h.8M529.4,52.8h.8M536.5,52.5h.8M534.3,51.4h.8M532.3,54.9h.8M538.4,51.6h.8M526.7,66.3h.8M527.9,51.3h.8M519.6,75.4h.8M529.3,54.3h.8M533.8,62.7h.8M538.2,45.2h.8M530.9,52.7h.8M528.2,60.7h.8M532.4,56.1h.8M515.2,79.6h.8M528.8,57.0h.8M531.3,58.4h.8M524.7,69.9h.8M528.7,55.0h.8M528.7,64.0h.8M539.3,42.3h.8M537.7,51.9h.8M530.3,59.3h.8M521.4,65.4h.8M533.5,51.4h.8M531.8,56.8h.8M535.6,55.8h.8M527.8,60.7h.8M521.0,65.4h.8M550.3,40.4h.8M532.9,57.9h.8M528.9,55.1h.8M515.6,64.2h.8M524.9,63.2h.8M535.6,55.1h.8M520.2,75.2h.8M539.6,42.9h.8M526.4,64.6h.8M532.5,51.5h.8M520.7,66.4h.8M538.0,48.6h.8M520.0,65.7h.8M543.8,53.2h.8M524.2,61.1h.8M518.9,68.1h.8M519.6,64.6h.8M520.4,64.3h.8M518.1,75.7h.8M538.7,58.9h.8M519.7,70.5h.8M521.6,69.0h.8M520.9,77.0h.8M540.6,47.9h.8M521.7,67.6h.8M537.5,44.2h.8M523.6,67.3h.8M540.0,46.2h.8M524.0,64.8h.8M527.3,61.1h.8M526.7,66.8h.8M545.3,45.3h.8M533.1,53.4h.8M537.3,50.6h.8M539.1,53.7h.8M539.5,40.4h.8M518.1,71.3h.8M536.7,54.9h.8M533.8,49.6h.8M517.9,72.0h.8M529.4,57.1h.8M541.5,45.6h.8M524.4,65.1h.8M516.2,73.7h.8M512.4,70.3h.8M527.2,57.3h.8M531.2,53.4h.8M532.7,53.8h.8M530.6,56.0h.8M530.9,66.6h.8M523.8,60.2h.8M536.1,50.4h.8M531.6,61.4h.8M521.5,63.5h.8M522.0,66.5h.8M518.0,68.0h.8M522.3,66.4h.8M537.6,49.5h.8M525.0,62.5h.8M517.1,69.7h.8M530.4,56.5h.8M536.6,50.7h.8M520.0,67.0h.8M538.8,46.6h.8M522.3,70.1h.8M534.2,53.5h.8M534.2,56.5h.8M529.9,58.5h.8M528.1,58.9h.8M519.7,73.4h.8M537.5,50.4h.8M520.9,65.9h.8M538.8,48.1h.8M521.4,63.6h.8M541.2,48.1h.8M523.6,64.4h.8M524.6,55.7h.8M534.5,64.1h.8M524.3,66.2h.8M533.2,49.8h.8M536.7,44.6h.8M543.3,50.9h.8M519.1,72.9h.8M523.8,68.0h.8M542.0,43.1h.8M533.2,66.3h.8M534.4,53.9h.8M539.1,47.9h.8M520.8,60.2h.8M521.3,61.1h.8M536.3,59.7h.8M523.3,73.1h.8M536.0,41.2h.8M533.5,41.9h.8M541.4,44.1h.8M519.6,66.4h.8M532.2,56.7h.8M540.2,47.1h.8M525.6,64.8h.8M528.6,67.1h.8M534.3,53.2h.8M536.3,53.0h.8M537.4,47.0h.8M540.3,45.0h.8M531.1,58.1h.8M538.2,44.8h.8M539.7,47.9h.8M515.6,71.6h.8M536.9,53.6h.8M541.3,53.5h.8M524.8,63.6h.8M523.6,64.6h.8M532.4,52.9h.8M521.6,67.2h.8M515.4,66.7h.8M516.2,70.7h.8M530.1,56.2h.8M539.8,51.1h.8M520.1,77.5h.8M539.5,44.6h.8M529.6,53.9h.8M523.9,64.9h.8M530.2,67.4h.8M532.1,71.0h.8M522.2,72.6h.8M533.0,51.1h.8M536.9,49.7h.8M536.5,54.6h.8M517.3,66.6h.8M524.3,69.5h.8M534.1,50.3h.8M532.7,58.2h.8M521.1,72.2h.8M522.1,67.7h.8M527.6,67.7h.8M534.8,47.1h.8M531.1,47.8h.8M534.3,54.1h.8M525.7,70.3h.8M541.6,51.2h.8M527.4,58.8h.8M542.8,39.3h.8M543.5,46.5h.8M535.3,50.3h.8M521.6,69.4h.8M517.2,68.4h.8M517.4,72.1h.8M539.5,42.7h.8M541.3,51.2h.8M535.2,48.5h.8M543.7,47.5h.8M542.4,47.3h.8M532.5,44.8h.8M532.5,44.8h.8M540.2,46.1h.8M542.8,42.6h.8M539.3,49.9h.8M546.2,44.9h.8M538.0,44.8h.8M544.6,46.3h.8M542.2,49.1h.8M543.2,46.9h.8M540.9,45.8h.8M542.2,41.9h.8M539.2,39.7h.8M540.0,41.0h.8M542.9,49.4h.8M539.3,47.3h.8M545.3,38.9h.8M546.4,39.0h.8M534.8,40.9h.8M534.7,39.8h.8M541.9,47.0h.8M544.5,46.9h.8M546.4,44.5h.8M539.7,49.7h.8M538.5,49.2h.8M540.2,39.7h.8M537.3,43.2h.8M541.8,46.3h.8M544.2,46.9h.8M545.8,39.4h.8M543.3,50.2h.8M538.2,47.4h.8M545.5,42.4h.8M532.2,42.4h.8M540.1,47.8h.8M543.6,46.8h.8M540.6,43.8h.8M538.5,45.0h.8M539.6,44.9h.8M538.4,41.8h.8M543.0,43.1h.8M544.3,48.6h.8M537.0,52.6h.8M536.0,39.7h.8M535.9,41.8h.8M541.0,49.1h.8M542.5,49.9h.8M532.1,47.5h.8M535.4,41.9h.8M550.5,51.1h.8M541.4,42.4h.8M538.4,40.2h.8M539.1,47.4h.8M542.9,45.9h.8M539.1,47.3h.8M543.5,51.7h.8M542.2,48.2h.8M544.3,47.2h.8M543.5,45.9h.8M544.5,41.5h.8M537.4,42.0h.8M539.0,43.8h.8M546.2,46.1h.8M541.1,45.6h.8M544.6,41.3h.8M541.2,42.2h.8M543.6,50.4h.8M542.4,47.6h.8M546.9,43.4h.8M542.7,38.8h.8M542.6,46.0h.8M540.8,52.5h.8M542.6,44.0h.8M539.6,44.8h.8M533.3,46.1h.8M537.9,45.9h.8M543.8,50.5h.8M540.0,44.9h.8M541.4,46.4h.8M538.7,45.6h.8M539.1,46.1h.8M547.9,44.9h.8M547.4,46.4h.8M546.8,48.7h.8M534.6,42.6h.8M534.5,46.7h.8M536.6,48.5h.8M540.7,46.8h.8M537.2,37.6h.8M538.7,43.4h.8M541.7,47.3h.8M537.1,46.1h.8M538.9,49.3h.8M538.3,45.8h.8M546.1,47.5h.8M544.5,48.8h.8M544.2,47.2h.8M537.6,51.1h.8M546.0,50.8h.8M539.8,47.1h.8M532.3,45.4h.8M538.6,44.0h.8M543.6,44.1h.8M543.3,39.7h.8M550.9,42.3h.8M537.2,41.0h.8M544.8,38.6h.8M537.6,50.6h.8M535.7,43.0h.8M537.1,48.4h.8M538.2,46.0h.8M538.7,43.4h.8M533.2,47.1h.8M540.5,43.6h.8M542.8,44.6h.8M541.2,45.9h.8M543.2,42.7h.8M544.4,46.4h.8M538.6,42.7h.8M544.9,45.5h.8M536.3,40.6h.8M549.8,41.5h.8M537.9,44.4h.8M536.5,51.1h.8M537.3,41.8h.8M542.1,41.8h.8M536.6,47.6h.8M545.2,50.1h.8M541.3,42.2h.8M539.1,42.2h.8M541.5,45.7h.8M539.3,47.8h.8M543.6,41.1h.8M547.2,42.8h.8M540.1,48.5h.8M543.2,43.2h.8M542.3,47.0h.8M537.3,36.3h.8M547.0,40.2h.8M539.9,52.9h.8M538.8,47.5h.8M536.7,51.7h.8M537.4,50.4h.8M541.2,50.6h.8M545.3,43.3h.8M538.0,39.1h.8M541.6,49.8h.8M540.5,46.2h.8M534.7,82.0h.8M529.9,83.2h.8M507.5,61.4h.8M517.7,62.9h.8M519.9,50.1h.8M521.8,88.8h.8M540.1,74.1h.8M538.0,79.2h.8M503.2,81.3h.8M523.8,58.5h.8M506.1,45.2h.8M534.1,53.9h.8M552.4,69.2h.8M509.0,75.4h.8M523.6,78.8h.8M507.2,57.1h.8M507.6,73.6h.8M506.7,80.1h.8M534.2,79.2h.8M521.1,86.0h.8M502.1,79.1h.8M522.8,97.3h.8M538.1,67.3h.8M547.0,58.3h.8M541.9,77.2h.8M529.7,71.9h.8M514.4,53.8h.8M535.8,70.2h.8M529.6,61.3h.8M535.3,79.3h.8M512.5,76.5h.8M513.5,82.2h.8M544.5,54.7h.8M483.2,65.2h.8M498.0,85.8h.8M499.3,36.4h.8M512.9,61.4h.8M488.9,67.9h.8M519.7,62.0h.8M535.7,67.2h.8M532.6,39.3h.8M521.7,65.1h.8M509.8,75.1h.8M518.6,79.9h.8M517.2,79.8h.8M509.8,35.3h.8M511.1,44.3h.8M504.5,60.1h.8M513.2,74.3h.8M517.1,64.9h.8M526.6,65.5h.8M495.0,77.2h.8M500.7,78.1h.8M546.1,72.6h.8M529.5,91.7h.8M516.1,60.5h.8M532.2,85.2h.8M504.2,83.5h.8M513.2,67.6h.8M490.3,58.5h.8M524.7,50.4h.8M523.3,84.6h.8M529.3,57.7h.8M520.2,96.1h.8M554.1,55.7h.8M527.0,66.7h.8M541.8,70.4h.8M519.8,64.9h.8" stroke="#2a3cf2" stroke-width="0.8" opacity="0.8"/>
<ellipse cx="517" cy="73" rx="11.55" ry="7.35" transform="rotate(-45 517 73)" fill="url(#fcore)"/>
<line x1="527.4" y1="26.1" x2="527.4" y2="108.3" stroke="#7d7d7d" stroke-width="0.8" />
<line x1="482.3" y1="55.2" x2="564" y2="55.2" stroke="#7d7d7d" stroke-width="0.8" />
<line x1="376.9" y1="92.7" x2="376.9" y2="118.8" stroke="#000" stroke-width="1.3" />
<line x1="376.9" y1="118.2" x2="400.7" y2="118.2" stroke="#000" stroke-width="1.3" />
<path d="M376.9,88.7 L373.9,95.2 L379.9,95.2 Z" fill="#000" />
<path d="M404.7,118.2 L398.2,115.2 L398.2,121.2 Z" fill="#000" />
<text transform="translate(375.3,82.7) rotate(-90)" y="2.2" font-size="6.3" text-anchor="middle">PI</text>
<text x="408" y="121.56" font-size="7.9">Annexin v FITC</text>
<line x1="586" y1="40.8" x2="586" y2="99.8" stroke="#000" stroke-width="0.8" />
<line x1="586" y1="99.8" x2="675.6" y2="99.8" stroke="#000" stroke-width="0.8" />
<line x1="584.5" y1="99.8" x2="586" y2="99.8" stroke="#000" stroke-width="0.7" />
<text x="583.8" y="101.62" font-size="5.2" text-anchor="end">0</text>
<line x1="584.5" y1="80.13" x2="586" y2="80.13" stroke="#000" stroke-width="0.7" />
<text x="583.8" y="81.95" font-size="5.2" text-anchor="end">5</text>
<line x1="584.5" y1="60.47" x2="586" y2="60.47" stroke="#000" stroke-width="0.7" />
<text x="583.8" y="62.29" font-size="5.2" text-anchor="end">10</text>
<line x1="584.5" y1="40.8" x2="586" y2="40.8" stroke="#000" stroke-width="0.7" />
<text x="583.8" y="42.62" font-size="5.2" text-anchor="end">15</text>
<rect x="599.3" y="73.45" width="25.4" height="26.35" fill="#94afcb" />
<rect x="637.3" y="49.45" width="25.1" height="50.35" fill="#eba3a2" />
<line x1="612" y1="99.8" x2="612" y2="101.3" stroke="#000" stroke-width="0.7" />
<line x1="612" y1="69.8" x2="612" y2="76.7" stroke="#3f6d9c" stroke-width="0.7" />
<line x1="609" y1="69.8" x2="615" y2="69.8" stroke="#3f6d9c" stroke-width="0.7" />
<line x1="609" y1="76.7" x2="615" y2="76.7" stroke="#3f6d9c" stroke-width="0.7" />
<line x1="608" y1="73.45" x2="616" y2="73.45" stroke="#3f6d9c" stroke-width="0.7" />
<circle cx="608" cy="76.2" r="1.9" fill="#3f6d9c" />
<circle cx="612" cy="70.3" r="1.9" fill="#3f6d9c" />
<circle cx="616" cy="74.23" r="1.9" fill="#3f6d9c" />
<line x1="649.85" y1="99.8" x2="649.85" y2="101.3" stroke="#000" stroke-width="0.7" />
<line x1="649.85" y1="48.56" x2="649.85" y2="50.35" stroke="#e2504a" stroke-width="0.7" />
<line x1="646.85" y1="48.56" x2="652.85" y2="48.56" stroke="#e2504a" stroke-width="0.7" />
<line x1="646.85" y1="50.35" x2="652.85" y2="50.35" stroke="#e2504a" stroke-width="0.7" />
<line x1="645.85" y1="49.45" x2="653.85" y2="49.45" stroke="#e2504a" stroke-width="0.7" />
<circle cx="645.85" cy="49.85" r="1.9" fill="#e2504a" />
<circle cx="649.85" cy="49.06" r="1.9" fill="#e2504a" />
<circle cx="653.85" cy="49.45" r="1.9" fill="#e2504a" />
<path d="M611.9,43 V40.8 H649.8 V43" fill="none" stroke="#111" stroke-width="0.9" />
<text x="630.9" y="39.81" font-size="4.6" text-anchor="middle" font-weight="bold">*</text>
<text transform="translate(574.7,70.3) rotate(-90)" y="2.24" font-size="6.4" text-anchor="middle">Cell apoptosis rate (%)</text>
<text transform="translate(613.1,110.1) rotate(-45)" y="3.5" font-size="10" text-anchor="end">Ctrl</text>
<text transform="translate(652,108.6) rotate(-45)" y="3.5" font-size="10" text-anchor="end">TRIM35</text>
<text x="429" y="132.3" font-size="10.3" text-anchor="middle">Ctrl</text>
<text x="525.9" y="132.6" font-size="10.3" text-anchor="middle">TRIM35</text>
<rect x="387.7" y="135.3" width="80.8" height="2.2" fill="#e6e6e6" />
<rect x="463.5" y="135.3" width="3.5" height="2.2" fill="#cfcfcf" />
<rect x="469.3" y="138.5" width="1.6" height="80.8" fill="#ececec" />
<rect x="469.3" y="168.4" width="1.6" height="3" fill="#bdbdbd" />
<rect x="387.7" y="138.5" width="80.8" height="80.8" fill="#fff" stroke="#8a8a8a" stroke-width="0.7" />
<line x1="386.5" y1="219.3" x2="387.7" y2="219.3" stroke="#888" stroke-width="0.5" />
<text transform="translate(384.5,219.3) rotate(-90)" y="0.98" font-size="2.8" text-anchor="middle" fill="#555">10</text>
<line x1="386.5" y1="205.83" x2="387.7" y2="205.83" stroke="#888" stroke-width="0.5" />
<text transform="translate(384.5,205.83) rotate(-90)" y="0.98" font-size="2.8" text-anchor="middle" fill="#555">10</text>
<line x1="386.5" y1="192.37" x2="387.7" y2="192.37" stroke="#888" stroke-width="0.5" />
<text transform="translate(384.5,192.37) rotate(-90)" y="0.98" font-size="2.8" text-anchor="middle" fill="#555">10</text>
<line x1="386.5" y1="178.9" x2="387.7" y2="178.9" stroke="#888" stroke-width="0.5" />
<text transform="translate(384.5,178.9) rotate(-90)" y="0.98" font-size="2.8" text-anchor="middle" fill="#555">10</text>
<line x1="386.5" y1="165.43" x2="387.7" y2="165.43" stroke="#888" stroke-width="0.5" />
<text transform="translate(384.5,165.43) rotate(-90)" y="0.98" font-size="2.8" text-anchor="middle" fill="#555">10</text>
<line x1="386.5" y1="151.97" x2="387.7" y2="151.97" stroke="#888" stroke-width="0.5" />
<text transform="translate(384.5,151.97) rotate(-90)" y="0.98" font-size="2.8" text-anchor="middle" fill="#555">10</text>
<line x1="386.5" y1="138.5" x2="387.7" y2="138.5" stroke="#888" stroke-width="0.5" />
<text transform="translate(384.5,138.5) rotate(-90)" y="0.98" font-size="2.8" text-anchor="middle" fill="#555">10</text>
<line x1="387.7" y1="219.3" x2="387.7" y2="220.5" stroke="#888" stroke-width="0.5" />
<text x="387.7" y="223.48" font-size="2.8" text-anchor="middle" fill="#555">10</text>
<line x1="401.17" y1="219.3" x2="401.17" y2="220.5" stroke="#888" stroke-width="0.5" />
<text x="401.17" y="223.48" font-size="2.8" text-anchor="middle" fill="#555">10</text>
<line x1="414.63" y1="219.3" x2="414.63" y2="220.5" stroke="#888" stroke-width="0.5" />
<text x="414.63" y="223.48" font-size="2.8" text-anchor="middle" fill="#555">10</text>
<line x1="428.1" y1="219.3" x2="428.1" y2="220.5" stroke="#888" stroke-width="0.5" />
<text x="428.1" y="223.48" font-size="2.8" text-anchor="middle" fill="#555">10</text>
<line x1="441.57" y1="219.3" x2="441.57" y2="220.5" stroke="#888" stroke-width="0.5" />
<text x="441.57" y="223.48" font-size="2.8" text-anchor="middle" fill="#555">10</text>
<line x1="455.03" y1="219.3" x2="455.03" y2="220.5" stroke="#888" stroke-width="0.5" />
<text x="455.03" y="223.48" font-size="2.8" text-anchor="middle" fill="#555">10</text>
<line x1="468.5" y1="219.3" x2="468.5" y2="220.5" stroke="#888" stroke-width="0.5" />
<text x="468.5" y="223.48" font-size="2.8" text-anchor="middle" fill="#555">10</text>
<text x="389.7" y="142.09" font-size="3.1" fill="#333">Q3-1</text>
<text x="389.7" y="145.39" font-size="3.1" fill="#333">0.24%</text>
<text x="466.5" y="142.09" font-size="3.1" text-anchor="end" fill="#333">Q3-2</text>
<text x="466.5" y="145.39" font-size="3.1" text-anchor="end" fill="#333">4.32%</text>
<text x="389.7" y="214.89" font-size="3.1" fill="#333">Q3-3</text>
<text x="389.7" y="218.19" font-size="3.1" fill="#333">88.62%</text>
<text x="466.5" y="214.89" font-size="3.1" text-anchor="end" fill="#333">Q3-4</text>
<text x="466.5" y="218.19" font-size="3.1" text-anchor="end" fill="#333">6.82%</text>
<path d="M424.1,173.9h.8M421.7,193.2h.8M419.6,175.1h.8M431.1,185.8h.8M418.6,189.8h.8M430.4,177.6h.8M422.2,187.6h.8M427.8,185.8h.8M422.8,183.1h.8M435.4,173.0h.8M434.4,181.4h.8M429.1,177.6h.8M420.2,188.0h.8M431.3,179.1h.8M425.1,171.2h.8M428.9,166.7h.8M413.7,191.6h.8M415.5,185.3h.8M423.5,182.8h.8M429.3,183.2h.8M427.2,186.2h.8M440.0,171.4h.8M430.7,190.7h.8M416.8,197.6h.8M426.4,175.6h.8M428.2,184.6h.8M440.6,175.2h.8M416.0,188.2h.8M415.9,190.0h.8M430.8,177.6h.8M426.5,181.1h.8M431.3,200.9h.8M415.4,192.6h.8M414.6,197.7h.8M420.1,177.6h.8M416.3,195.6h.8M423.4,180.5h.8M407.1,186.6h.8M414.0,185.6h.8M420.8,183.9h.8M432.7,169.8h.8M428.6,187.1h.8M424.7,194.1h.8M443.9,176.0h.8M399.5,195.8h.8M434.1,176.6h.8M432.8,181.4h.8M417.9,186.2h.8M428.3,183.1h.8M432.3,169.9h.8M429.3,187.7h.8M426.0,184.4h.8M420.2,181.6h.8M418.8,187.1h.8M428.0,177.2h.8M446.6,174.8h.8M427.9,189.1h.8M413.6,174.9h.8M413.4,196.8h.8M428.0,179.2h.8M436.2,183.8h.8M434.3,181.0h.8M413.1,190.5h.8M430.0,183.7h.8M418.8,190.7h.8M424.4,184.9h.8M425.6,200.3h.8M432.3,174.3h.8M421.1,199.0h.8M420.5,190.7h.8M403.4,193.8h.8M428.0,182.5h.8M425.3,180.9h.8M430.6,176.2h.8M426.7,169.4h.8M423.3,188.2h.8M418.5,191.4h.8M418.6,189.4h.8M423.8,180.1h.8M411.4,188.3h.8M422.0,186.9h.8M427.9,195.7h.8M432.4,189.4h.8M431.4,176.4h.8M432.2,170.9h.8M423.3,174.0h.8M417.5,178.7h.8M421.8,184.3h.8M416.9,187.0h.8M430.4,181.6h.8M414.9,193.5h.8M427.3,182.0h.8M419.7,194.0h.8M432.0,196.4h.8M414.0,182.9h.8M415.6,194.3h.8M432.9,169.8h.8M430.8,178.5h.8M403.2,182.6h.8M424.9,181.3h.8M432.1,169.7h.8M428.4,188.3h.8M423.2,186.1h.8M422.3,192.5h.8M417.1,191.9h.8M418.0,187.0h.8M429.6,176.1h.8M417.8,178.2h.8M434.0,185.5h.8M417.9,188.7h.8M414.6,187.7h.8M418.8,204.1h.8M428.4,175.3h.8M412.2,195.4h.8M437.5,179.3h.8M420.1,197.5h.8M423.5,198.1h.8M425.9,193.5h.8M415.5,175.4h.8M412.8,188.3h.8M440.9,185.2h.8M424.5,183.7h.8M418.3,183.7h.8M419.2,186.2h.8M421.5,187.7h.8M409.4,181.2h.8M427.6,189.2h.8M431.3,164.6h.8M424.9,188.4h.8M413.7,184.9h.8M424.2,189.5h.8M430.7,179.6h.8M415.8,177.4h.8M425.0,173.6h.8M421.7,176.6h.8M418.8,181.9h.8M432.7,178.7h.8M412.6,191.5h.8M420.5,183.0h.8M417.4,186.7h.8M421.3,168.5h.8M434.8,170.4h.8M436.2,176.8h.8M431.4,175.7h.8M431.8,173.8h.8M424.8,188.9h.8M432.3,175.4h.8M426.9,177.6h.8M407.0,196.5h.8M419.6,185.6h.8M434.1,188.1h.8M421.7,186.9h.8M422.8,178.1h.8M419.8,190.2h.8M435.2,187.2h.8M440.4,175.1h.8M432.4,174.6h.8M432.9,167.2h.8M430.0,191.3h.8M423.4,182.3h.8M432.4,185.5h.8M420.9,193.3h.8M429.0,185.9h.8M419.3,181.7h.8M415.5,182.2h.8M426.7,183.4h.8M429.5,174.9h.8M424.0,188.8h.8M422.1,183.5h.8M430.7,175.4h.8M424.5,194.0h.8M424.0,181.2h.8M433.7,178.6h.8M411.4,190.3h.8M427.2,190.4h.8M431.9,169.4h.8M423.1,183.0h.8M414.6,185.9h.8M422.4,189.3h.8M426.0,191.0h.8M424.5,170.8h.8M437.0,187.1h.8M424.0,189.1h.8M434.6,190.1h.8M410.3,201.4h.8M431.3,178.3h.8M442.5,172.2h.8M424.6,184.8h.8M413.6,186.0h.8M418.5,197.9h.8M423.0,188.9h.8M433.7,178.6h.8M429.0,182.7h.8M432.8,175.6h.8M431.9,188.9h.8M431.1,182.0h.8M428.0,176.3h.8M423.2,176.3h.8M429.7,185.2h.8M424.2,182.7h.8M413.1,190.4h.8M433.1,173.2h.8M422.7,181.9h.8M433.5,178.8h.8M433.3,180.6h.8M425.4,178.7h.8M412.2,190.9h.8M431.7,189.4h.8M423.0,190.1h.8M415.9,189.1h.8M418.0,189.8h.8M417.1,193.1h.8M434.9,170.1h.8M416.4,199.0h.8M429.0,191.7h.8M430.7,177.8h.8M423.0,184.8h.8M423.3,193.7h.8M408.1,212.6h.8M422.7,180.2h.8M429.5,192.9h.8M421.2,186.7h.8M409.3,188.3h.8M415.8,192.4h.8M412.6,188.6h.8M418.3,196.8h.8M436.4,181.5h.8M417.8,186.2h.8M433.0,188.8h.8M429.1,181.4h.8M439.0,182.6h.8M427.5,177.6h.8M422.7,188.8h.8M429.1,184.5h.8M424.2,189.9h.8M422.1,180.9h.8M412.4,195.6h.8M420.1,176.5h.8M413.6,184.9h.8M418.7,185.8h.8M424.2,181.9h.8M425.1,190.7h.8M428.5,168.5h.8M423.5,186.0h.8M427.4,191.2h.8M414.3,190.7h.8M431.2,178.7h.8M421.3,195.3h.8M416.7,186.2h.8M429.5,189.7h.8M414.3,191.4h.8M419.0,175.7h.8M433.1,173.7h.8M418.1,188.5h.8M418.4,195.2h.8M428.4,175.1h.8M424.1,172.1h.8M417.7,184.4h.8M423.0,182.8h.8M423.2,180.9h.8M419.3,199.5h.8M422.5,182.0h.8M420.7,188.3h.8M410.1,190.7h.8M421.1,175.5h.8M421.2,187.8h.8M418.9,178.8h.8M426.1,179.1h.8M415.5,199.4h.8M414.1,195.6h.8M429.5,178.3h.8M409.4,183.2h.8M410.6,186.9h.8M430.8,175.4h.8M437.3,179.3h.8M420.9,189.6h.8M427.0,182.6h.8M437.1,174.0h.8M426.8,190.8h.8M424.0,178.1h.8M423.3,194.7h.8M409.5,189.8h.8M428.1,178.0h.8M427.1,177.4h.8M433.1,187.6h.8M424.6,178.2h.8M427.9,172.9h.8M417.9,188.3h.8M408.2,188.9h.8M411.3,191.5h.8M421.3,193.2h.8M418.7,192.1h.8M422.0,177.6h.8M418.3,183.3h.8M421.8,170.5h.8M418.3,187.5h.8M428.0,179.2h.8M430.6,182.8h.8M423.6,189.5h.8M422.6,192.5h.8M427.7,190.0h.8M417.4,186.3h.8M416.7,199.7h.8M424.9,191.6h.8M409.4,184.3h.8M427.8,184.0h.8M424.5,195.8h.8M424.5,201.7h.8M429.6,182.7h.8M430.1,178.3h.8M402.3,191.3h.8M423.8,177.6h.8M421.9,190.7h.8M415.5,179.0h.8M419.0,197.5h.8M434.9,188.6h.8M438.5,178.7h.8M432.6,176.9h.8M425.6,191.5h.8M434.9,175.5h.8M411.8,191.5h.8M420.7,183.6h.8M419.4,186.0h.8M426.8,181.3h.8M410.3,194.1h.8M431.6,173.2h.8M427.2,175.0h.8M417.5,182.6h.8M425.9,190.1h.8M410.9,189.4h.8M426.2,177.2h.8M426.7,195.5h.8M429.5,179.5h.8M421.8,191.2h.8M426.8,195.8h.8M425.3,177.5h.8M431.2,179.8h.8M420.2,198.6h.8M414.8,180.0h.8M430.1,178.0h.8M423.8,178.1h.8M423.2,183.3h.8M427.4,185.3h.8M417.8,194.7h.8M437.8,182.6h.8M422.2,189.2h.8M425.7,186.0h.8M430.6,180.5h.8M420.9,181.9h.8M409.6,190.3h.8M436.0,182.4h.8M425.9,188.1h.8M418.1,184.1h.8M407.3,194.4h.8M426.7,181.6h.8M441.1,171.0h.8M411.7,193.6h.8M427.1,186.0h.8M416.1,206.8h.8M440.9,179.0h.8M430.2,171.7h.8M407.5,199.2h.8M423.9,175.8h.8M428.1,170.4h.8M424.4,185.8h.8M420.3,183.9h.8M421.3,195.2h.8M436.1,164.8h.8M432.0,178.0h.8M419.4,192.2h.8M420.5,192.5h.8M410.4,193.1h.8M423.0,179.2h.8M426.9,186.8h.8M434.3,166.8h.8M424.2,177.2h.8M418.8,183.8h.8M414.6,185.9h.8M427.0,174.8h.8M425.9,181.3h.8M422.5,180.2h.8M417.8,185.0h.8M433.9,184.0h.8M410.6,195.4h.8M424.4,190.0h.8M419.3,197.5h.8M413.5,197.4h.8M419.4,202.0h.8M417.0,179.7h.8M433.0,176.6h.8M427.3,182.9h.8M425.8,188.4h.8M427.8,188.6h.8M419.1,190.4h.8M415.3,177.3h.8M421.8,195.0h.8M425.9,177.9h.8M428.9,180.4h.8M414.5,196.5h.8M415.1,193.8h.8M437.1,173.6h.8M420.2,179.8h.8M411.5,191.0h.8M423.9,189.7h.8M424.9,191.0h.8M429.2,178.3h.8M418.6,186.1h.8M423.8,205.7h.8M435.0,177.7h.8M432.4,182.9h.8M415.2,201.6h.8M428.6,176.9h.8M416.6,186.5h.8M420.9,186.1h.8M424.9,200.9h.8M421.7,181.6h.8M411.3,184.9h.8M418.9,176.1h.8M423.5,175.4h.8M427.5,192.1h.8M434.0,164.3h.8M432.0,183.5h.8M433.9,182.5h.8M423.8,177.6h.8M431.0,185.0h.8M427.2,179.8h.8M422.6,176.1h.8M422.3,192.6h.8M403.1,193.8h.8M413.0,185.5h.8M421.6,177.6h.8M423.5,181.3h.8M420.2,184.7h.8M412.3,188.2h.8M413.8,198.6h.8M420.5,187.2h.8M426.6,189.4h.8M434.5,194.9h.8M418.8,190.3h.8M414.9,186.1h.8M420.7,184.2h.8M412.0,189.4h.8M434.6,185.7h.8M437.8,179.7h.8M412.1,190.2h.8M433.2,170.3h.8M425.2,188.9h.8M417.6,189.5h.8M429.7,186.4h.8M435.5,190.1h.8M428.6,187.1h.8M406.5,186.0h.8M428.9,182.1h.8M410.4,187.4h.8M427.1,187.4h.8M403.4,198.3h.8M426.8,178.1h.8M423.1,199.7h.8M432.7,178.4h.8M438.5,189.8h.8M418.8,184.5h.8M416.2,178.5h.8M425.6,175.1h.8M429.1,181.3h.8M421.2,194.0h.8M433.0,177.2h.8M408.0,199.3h.8M425.9,186.6h.8M429.8,185.8h.8M443.5,168.6h.8M416.2,191.7h.8M421.4,180.6h.8M422.6,181.1h.8M424.7,186.0h.8M419.0,195.3h.8M427.9,190.3h.8M430.3,180.7h.8M428.7,173.9h.8M409.7,175.6h.8M436.0,177.8h.8M428.9,184.4h.8M416.4,191.1h.8M416.7,185.2h.8M412.7,193.9h.8M431.6,175.0h.8M429.2,164.2h.8M416.4,195.1h.8M413.7,183.3h.8M428.1,196.6h.8M420.3,190.9h.8M423.0,187.0h.8M426.8,188.1h.8M425.0,187.2h.8M421.5,189.4h.8M428.4,178.4h.8M430.9,183.6h.8M412.3,197.9h.8M429.5,179.5h.8M425.8,195.1h.8M428.9,186.2h.8M410.4,195.6h.8M419.2,180.1h.8M420.1,199.4h.8M418.4,178.3h.8M422.3,181.4h.8M412.8,193.8h.8M420.0,202.7h.8M424.1,175.9h.8M417.9,189.6h.8M428.2,182.1h.8M422.5,183.5h.8M421.8,195.4h.8M417.7,173.2h.8M422.5,189.6h.8M439.4,174.3h.8M411.0,182.9h.8M425.5,177.4h.8M403.6,195.1h.8M417.9,182.9h.8M420.2,174.1h.8M422.4,172.0h.8M414.7,185.2h.8M429.8,182.7h.8M414.8,195.4h.8M419.2,192.8h.8M422.6,190.9h.8M423.8,183.5h.8M419.6,194.9h.8M427.1,185.4h.8M423.9,191.9h.8M411.7,198.8h.8M416.7,192.5h.8M423.0,188.7h.8M433.0,181.9h.8M430.3,175.5h.8M445.8,169.6h.8M417.4,188.1h.8M430.3,180.4h.8M428.7,178.9h.8M412.2,193.8h.8M428.1,177.2h.8M426.3,188.9h.8M423.2,174.0h.8M411.3,192.2h.8M410.1,196.7h.8M405.3,204.5h.8M433.8,185.9h.8M413.7,193.9h.8M420.6,185.4h.8M438.0,179.6h.8M432.8,190.7h.8M406.0,210.1h.8M402.3,202.3h.8M427.9,176.6h.8M415.0,199.4h.8M412.2,197.8h.8M412.1,187.8h.8M431.5,186.8h.8M433.2,173.5h.8M429.7,178.5h.8M428.4,171.1h.8M423.8,173.6h.8M426.9,179.0h.8M426.6,198.3h.8M430.2,173.4h.8M412.6,189.1h.8M424.5,183.0h.8M432.9,167.5h.8M413.7,193.9h.8M426.5,172.9h.8M429.0,182.2h.8M433.7,189.3h.8M433.1,175.6h.8M422.5,191.3h.8M428.2,186.6h.8M420.4,195.4h.8M436.6,172.5h.8M426.0,179.5h.8M416.2,185.9h.8M425.5,188.6h.8M418.0,193.3h.8M415.0,182.7h.8M401.3,198.2h.8M428.1,168.0h.8M421.9,192.9h.8M430.1,172.9h.8M429.3,185.8h.8M426.3,191.2h.8M431.4,168.5h.8M416.5,183.4h.8M432.7,191.4h.8M430.8,183.3h.8M427.9,184.0h.8M417.9,193.0h.8M435.9,181.6h.8M422.7,197.4h.8M415.8,185.5h.8M426.8,177.1h.8M421.3,174.9h.8M428.2,167.4h.8M420.0,193.2h.8M426.4,176.0h.8M420.9,189.0h.8M430.9,178.4h.8M417.1,188.5h.8M417.5,186.2h.8M426.5,184.0h.8M413.5,186.9h.8M417.0,190.3h.8M421.0,186.9h.8M417.1,183.3h.8M428.6,187.8h.8M411.9,190.5h.8M417.4,181.1h.8M422.0,176.1h.8M415.1,195.9h.8M437.5,180.5h.8M429.0,179.6h.8M432.3,178.4h.8M415.3,186.5h.8M443.8,173.6h.8M428.8,185.6h.8M425.4,179.2h.8M423.9,195.0h.8M424.1,183.8h.8M430.2,178.2h.8M430.2,175.7h.8M430.2,169.8h.8M415.1,195.1h.8M427.9,182.1h.8M419.7,175.1h.8M420.4,193.0h.8M413.4,186.3h.8M443.1,171.5h.8M446.1,172.8h.8M424.2,182.7h.8M428.8,184.5h.8M416.4,193.0h.8M431.9,177.7h.8M424.9,179.4h.8M438.5,177.9h.8M427.6,165.2h.8M411.3,187.9h.8M413.9,200.4h.8M421.9,186.2h.8M413.5,200.1h.8M408.6,191.8h.8M416.2,189.6h.8M418.3,185.6h.8M405.8,202.4h.8M417.1,198.3h.8M423.2,178.2h.8M419.5,192.4h.8M437.5,169.9h.8M426.7,173.2h.8M429.9,179.1h.8M419.5,181.8h.8M407.5,206.4h.8M424.7,178.9h.8M430.1,181.9h.8M423.5,195.5h.8M425.4,182.8h.8M433.3,192.3h.8M425.1,191.3h.8M427.8,174.7h.8M426.3,177.5h.8M431.0,175.2h.8M417.4,189.5h.8M422.8,182.6h.8M427.0,180.5h.8M425.6,182.8h.8M426.3,190.3h.8M420.3,191.4h.8M437.3,172.6h.8M415.2,188.4h.8M428.4,182.0h.8M434.4,181.4h.8M417.7,194.4h.8M422.0,188.0h.8M420.1,180.8h.8M422.6,182.3h.8M425.9,190.2h.8M427.2,188.8h.8M429.7,180.6h.8M416.6,192.2h.8M426.6,185.5h.8M417.5,193.2h.8M422.0,190.1h.8M406.9,207.3h.8M432.5,163.2h.8M432.1,177.8h.8M428.7,175.0h.8M424.1,184.2h.8M430.7,191.0h.8M427.4,173.8h.8M424.2,181.1h.8M418.2,190.8h.8M423.0,193.2h.8M417.1,173.8h.8M436.1,171.5h.8M412.5,179.4h.8M420.3,193.3h.8M419.2,174.1h.8M442.7,180.9h.8M414.8,202.8h.8M435.5,179.8h.8M414.1,185.1h.8M410.6,185.7h.8M412.8,200.5h.8M437.0,179.4h.8M422.2,179.3h.8M427.4,177.2h.8M424.2,178.5h.8M426.6,185.4h.8M441.9,175.0h.8M427.2,186.6h.8M417.6,182.3h.8M417.9,202.4h.8M426.5,181.3h.8M425.1,184.6h.8M428.8,182.5h.8M432.2,177.3h.8M417.8,199.4h.8M430.6,184.9h.8M409.9,194.9h.8M420.1,181.4h.8M439.6,180.3h.8M429.9,184.6h.8M420.3,184.8h.8M425.9,184.5h.8M423.6,183.1h.8M397.8,203.6h.8M427.3,178.4h.8M416.4,179.8h.8M419.1,185.3h.8M426.1,197.7h.8M423.8,182.0h.8M404.9,193.3h.8M426.5,180.1h.8M421.6,197.0h.8M421.3,186.2h.8M421.2,188.1h.8M425.3,181.7h.8M427.4,182.2h.8M409.6,196.3h.8M422.2,178.7h.8M431.0,186.9h.8M422.2,177.0h.8M437.0,171.7h.8M425.4,183.2h.8M429.9,175.1h.8M441.0,165.7h.8M416.6,182.1h.8M431.9,182.0h.8M426.3,186.3h.8M410.9,193.1h.8M418.8,188.4h.8M430.7,183.1h.8M430.7,181.0h.8M427.2,184.6h.8M424.3,200.9h.8M421.5,192.5h.8M443.2,167.4h.8M428.4,184.8h.8M429.1,173.4h.8M424.3,181.8h.8M410.9,203.7h.8M414.8,179.1h.8M442.3,170.4h.8M426.0,180.2h.8M444.1,169.7h.8M423.7,180.2h.8M424.7,187.0h.8M425.6,179.8h.8M419.5,192.3h.8M427.8,184.1h.8M437.8,178.7h.8M413.2,187.5h.8M423.9,187.9h.8M432.4,179.3h.8M410.6,199.0h.8M428.8,178.6h.8M433.8,171.9h.8M419.8,176.2h.8M431.6,201.8h.8M423.2,177.8h.8M429.6,186.8h.8M423.3,174.5h.8M429.9,186.4h.8M419.5,185.9h.8M408.3,191.6h.8M405.4,187.6h.8M415.2,186.1h.8M434.9,190.1h.8M431.2,183.7h.8M419.5,187.4h.8M412.7,198.9h.8M422.8,179.1h.8M429.1,175.7h.8M401.0,204.4h.8M440.7,165.9h.8M433.0,171.8h.8M435.8,169.1h.8M428.7,177.1h.8M434.8,169.6h.8M437.3,166.2h.8M440.4,162.6h.8M433.8,175.0h.8M438.6,174.7h.8M442.8,163.5h.8M427.5,177.1h.8M441.6,159.6h.8M428.4,170.9h.8M440.7,164.7h.8M431.9,174.8h.8M420.4,182.1h.8M441.8,174.5h.8M441.8,170.7h.8M435.2,158.0h.8M441.0,170.9h.8M447.4,159.9h.8M446.0,156.2h.8M425.6,183.9h.8M447.1,153.1h.8M436.6,165.6h.8M426.2,186.9h.8M423.1,187.1h.8M428.0,181.7h.8M435.9,169.3h.8M438.0,159.8h.8M440.3,163.8h.8M426.9,183.3h.8M434.1,169.0h.8M426.6,168.3h.8M442.9,170.5h.8M436.6,162.5h.8M437.3,162.8h.8M429.9,176.1h.8M423.2,174.8h.8M431.5,178.2h.8M448.9,157.9h.8M433.1,173.3h.8M434.9,174.3h.8M431.9,159.2h.8M428.7,180.4h.8M438.9,168.6h.8M443.9,167.5h.8M449.1,157.8h.8M428.8,176.3h.8M421.1,186.9h.8M436.2,169.0h.8M424.1,177.5h.8M435.6,165.7h.8M446.9,159.8h.8M429.0,175.1h.8M426.9,176.1h.8M421.7,185.9h.8M430.0,183.6h.8M444.2,159.4h.8M426.9,176.5h.8M427.9,180.2h.8M427.7,181.5h.8M443.2,153.7h.8M425.2,179.4h.8M427.6,173.5h.8M430.7,182.1h.8M434.5,169.6h.8M430.9,170.2h.8M431.8,176.3h.8M443.4,162.7h.8M431.3,181.3h.8M419.8,181.9h.8M433.5,169.0h.8M432.4,171.4h.8M443.6,166.8h.8M442.2,158.7h.8M430.7,180.9h.8M434.7,170.3h.8M439.3,162.3h.8M438.0,167.1h.8M434.3,174.1h.8M434.8,176.1h.8M430.3,171.5h.8M435.8,176.9h.8M437.1,165.4h.8M432.9,168.0h.8M450.5,165.3h.8M431.4,181.2h.8M442.0,171.1h.8M446.5,152.7h.8M425.8,182.7h.8M440.9,166.9h.8M425.0,175.8h.8M443.7,159.8h.8M428.4,185.2h.8M424.9,179.9h.8M423.9,179.5h.8M437.4,163.2h.8M428.6,178.3h.8M433.9,180.2h.8M444.1,152.2h.8M447.5,160.3h.8M437.3,175.0h.8M441.4,169.9h.8M430.0,176.6h.8M430.9,182.8h.8M422.9,180.4h.8M438.8,165.5h.8M436.1,169.4h.8M433.9,166.8h.8M422.8,179.9h.8M435.5,173.0h.8M442.5,160.2h.8M437.9,173.8h.8M435.5,164.2h.8M431.4,176.7h.8M430.6,182.5h.8M427.5,186.7h.8M426.4,177.6h.8M437.5,166.2h.8M449.2,161.3h.8M423.4,180.5h.8M431.9,173.9h.8M442.6,173.3h.8M422.7,178.7h.8M427.6,186.4h.8M433.3,175.7h.8M429.6,176.7h.8M445.6,169.2h.8M443.5,162.0h.8M441.1,161.8h.8M442.8,163.9h.8M439.5,169.0h.8M436.1,174.2h.8M433.8,182.8h.8M442.1,158.7h.8M439.9,159.3h.8M422.6,185.9h.8M443.3,166.2h.8M431.5,174.9h.8M450.6,166.0h.8M444.6,164.5h.8M433.5,170.9h.8M429.4,172.3h.8M444.2,162.8h.8M444.1,161.6h.8M434.9,174.1h.8M423.8,179.6h.8M448.3,161.1h.8M430.7,172.1h.8M429.6,168.8h.8M437.8,169.2h.8M435.5,179.5h.8M432.5,175.5h.8M433.0,175.8h.8M440.1,168.6h.8M432.9,166.7h.8M432.8,168.7h.8M436.1,164.4h.8M441.1,166.5h.8M433.7,171.5h.8M441.2,167.9h.8M434.7,167.2h.8M427.3,178.6h.8M429.9,162.3h.8M425.1,174.1h.8M439.9,166.1h.8M444.5,164.5h.8M433.9,168.2h.8M431.1,168.3h.8M421.6,186.7h.8M423.7,186.0h.8M427.9,184.4h.8M440.3,164.8h.8M440.8,162.4h.8M429.6,177.9h.8M432.0,164.9h.8M441.8,162.5h.8M444.1,162.5h.8M448.6,161.6h.8M444.2,162.5h.8M427.6,179.5h.8M434.8,175.6h.8M442.8,162.5h.8M442.5,154.5h.8M447.2,160.4h.8M423.3,179.2h.8M437.7,170.7h.8M433.6,167.2h.8M426.2,185.3h.8M429.5,170.9h.8M445.8,161.2h.8M441.8,169.1h.8M432.5,166.8h.8M425.9,169.0h.8M436.8,164.2h.8M430.4,176.8h.8M437.2,161.9h.8M430.9,170.0h.8M437.0,168.5h.8M430.6,178.6h.8M426.1,180.9h.8M439.7,160.9h.8M421.4,183.5h.8M441.0,159.5h.8M439.0,162.6h.8M443.2,160.0h.8M419.1,183.7h.8M431.6,172.7h.8M434.3,170.6h.8M422.7,175.3h.8M432.0,167.8h.8M439.4,165.6h.8M444.1,159.4h.8M440.1,162.3h.8M442.8,170.3h.8M440.1,163.2h.8M443.9,160.8h.8M424.5,184.5h.8M433.2,181.3h.8M446.5,160.0h.8M430.0,170.7h.8M439.3,165.9h.8M436.2,176.7h.8M440.3,156.9h.8M438.5,169.3h.8M434.5,173.1h.8M429.2,175.7h.8M430.1,177.0h.8M432.7,177.3h.8M431.8,183.2h.8M450.9,162.7h.8M445.9,168.2h.8M432.7,173.0h.8M418.9,183.6h.8M431.1,177.2h.8M444.6,161.1h.8M439.3,160.4h.8M425.6,170.7h.8M436.7,165.5h.8M420.8,177.9h.8M434.6,165.7h.8M448.2,155.4h.8M439.4,164.7h.8M436.4,174.1h.8M435.9,175.3h.8M431.1,168.8h.8M433.6,178.1h.8M427.8,177.3h.8M431.8,178.7h.8M441.4,166.2h.8M433.2,169.1h.8M419.3,184.1h.8M428.1,176.4h.8M426.7,182.6h.8M433.2,171.8h.8M428.7,179.3h.8M444.0,160.3h.8M438.9,167.0h.8M435.8,174.6h.8M424.1,181.9h.8M439.0,166.4h.8M430.3,171.6h.8M440.4,168.7h.8M444.2,164.9h.8M435.4,172.0h.8M427.8,176.3h.8M432.4,176.4h.8M437.7,169.6h.8M424.2,183.9h.8M430.9,167.3h.8M432.5,174.9h.8M437.3,159.3h.8M448.9,155.5h.8M422.5,179.7h.8M429.2,182.3h.8M440.1,166.8h.8M441.2,166.9h.8M429.1,178.2h.8M424.0,182.3h.8M436.8,167.9h.8M434.8,167.5h.8M440.2,166.3h.8M428.5,178.8h.8M423.3,182.9h.8M432.9,174.2h.8M425.4,174.2h.8M441.8,157.7h.8M437.9,165.4h.8M440.5,164.1h.8M445.0,163.0h.8M435.5,172.4h.8M431.6,179.6h.8M430.0,165.5h.8M424.5,172.3h.8M435.6,162.4h.8M441.8,165.0h.8M444.6,165.9h.8M442.2,161.7h.8M427.1,174.2h.8M422.5,182.6h.8M446.9,157.2h.8M431.4,176.2h.8M442.2,166.7h.8M435.8,163.1h.8M422.9,182.8h.8M425.4,176.2h.8M445.0,156.2h.8M430.6,168.1h.8M424.8,178.6h.8M428.2,169.4h.8M446.3,153.0h.8M437.4,161.7h.8M442.9,160.0h.8M432.3,173.4h.8M429.2,177.0h.8M425.0,179.2h.8M431.2,173.3h.8M424.7,175.8h.8M435.3,169.4h.8M429.3,180.0h.8M432.7,173.7h.8M431.4,177.7h.8M445.8,163.0h.8M431.3,170.4h.8M434.6,164.4h.8M419.8,176.0h.8M445.0,160.6h.8M442.3,165.8h.8M432.8,176.6h.8M425.7,177.7h.8M437.5,170.9h.8M431.9,171.3h.8M436.2,172.5h.8M430.5,185.1h.8M432.0,175.9h.8M441.0,160.5h.8M442.2,163.2h.8M425.0,174.2h.8M426.4,178.0h.8M434.7,170.5h.8M444.5,163.6h.8M442.0,167.8h.8M444.4,159.4h.8M433.2,165.1h.8M435.4,173.5h.8M422.9,183.2h.8M431.5,182.7h.8M438.5,163.9h.8M422.7,181.8h.8M445.3,167.4h.8M436.7,172.4h.8M424.4,188.3h.8M417.3,180.7h.8M446.0,152.8h.8M429.0,178.5h.8M426.2,183.4h.8M426.8,181.9h.8M436.2,169.0h.8M435.4,168.6h.8M447.4,164.2h.8M434.3,170.3h.8M432.5,183.0h.8M441.3,177.0h.8M438.3,171.9h.8M444.0,170.7h.8M434.3,176.7h.8M443.1,163.4h.8M444.4,157.2h.8M430.8,177.9h.8M442.1,154.0h.8M438.0,173.2h.8M441.2,169.5h.8M441.6,164.3h.8M426.0,179.9h.8M434.9,174.7h.8M447.1,155.3h.8M427.4,170.9h.8M427.1,180.7h.8M431.9,177.7h.8M429.1,171.2h.8M433.5,170.8h.8M424.6,178.7h.8M433.0,174.9h.8M423.5,179.2h.8M428.9,171.9h.8M441.7,167.5h.8M442.5,163.2h.8M420.1,179.1h.8M434.4,177.2h.8M445.4,161.9h.8M424.0,178.1h.8M434.3,183.3h.8M433.2,173.8h.8M432.1,178.7h.8M427.4,178.8h.8M446.8,165.1h.8M434.1,161.1h.8M432.8,179.0h.8M428.6,182.2h.8M425.0,182.7h.8M433.7,172.4h.8M431.2,178.2h.8M432.5,177.2h.8M442.7,164.7h.8M425.6,184.0h.8M440.5,165.6h.8M432.9,171.6h.8M434.6,174.1h.8M436.2,169.4h.8M434.6,176.6h.8M441.5,159.6h.8M432.3,171.8h.8M435.6,172.1h.8M425.7,183.4h.8M420.1,183.7h.8M447.3,157.0h.8M446.7,155.5h.8M450.4,162.1h.8M442.9,148.0h.8M445.7,163.8h.8M450.8,157.0h.8M445.2,156.9h.8M444.9,161.8h.8M446.8,160.1h.8M441.9,162.1h.8M440.9,158.4h.8M439.0,157.9h.8M445.7,155.5h.8M447.8,159.6h.8M443.3,161.3h.8M445.4,157.0h.8M447.6,164.0h.8M447.9,156.4h.8M441.0,157.0h.8M445.8,162.5h.8M455.3,161.3h.8M446.3,165.9h.8M449.4,156.3h.8M447.7,160.9h.8M447.3,158.0h.8M445.7,161.2h.8M438.5,166.1h.8M437.3,161.3h.8M445.7,158.2h.8M443.6,160.9h.8M447.2,160.8h.8M447.7,165.5h.8M441.8,157.1h.8M444.4,163.1h.8M445.4,159.1h.8M450.0,163.8h.8M443.5,153.7h.8M440.7,160.5h.8M451.9,159.2h.8M449.0,154.5h.8M439.6,157.7h.8M446.9,155.1h.8M450.5,161.6h.8M439.9,152.1h.8M451.4,159.2h.8M447.1,157.9h.8M443.4,154.1h.8M448.4,154.7h.8M442.9,153.1h.8M446.1,159.0h.8M445.4,156.5h.8M447.5,159.6h.8M452.8,154.1h.8M439.3,159.4h.8M445.5,160.1h.8M443.5,156.7h.8M452.4,160.2h.8M452.2,158.6h.8M447.4,161.1h.8M441.6,162.8h.8M444.9,157.4h.8M443.9,162.4h.8M450.3,157.6h.8M448.9,152.7h.8M446.1,155.9h.8M450.6,163.3h.8M446.8,162.4h.8M441.0,160.7h.8M448.8,157.7h.8M452.5,161.1h.8M446.8,162.8h.8M445.0,165.2h.8M440.8,153.9h.8M444.3,160.3h.8M444.7,156.6h.8M457.5,162.5h.8M447.1,157.3h.8M444.5,159.2h.8M451.2,160.2h.8M449.0,150.2h.8M449.4,156.6h.8M452.1,159.5h.8M443.8,158.6h.8M446.2,160.5h.8M449.4,157.3h.8M451.4,157.9h.8M444.7,152.7h.8M447.3,165.0h.8M447.7,157.9h.8M444.7,160.9h.8M440.1,154.9h.8M449.3,155.7h.8M452.0,158.2h.8M445.2,154.9h.8M441.9,155.4h.8M447.6,154.6h.8M444.4,160.9h.8M443.9,160.6h.8M434.4,155.1h.8M449.3,158.4h.8M441.4,160.9h.8M445.1,159.6h.8M448.1,165.1h.8M444.7,158.8h.8M443.4,157.1h.8M451.4,155.2h.8M449.6,159.0h.8M448.9,160.0h.8M448.5,152.4h.8M449.6,156.0h.8M441.1,156.5h.8M444.7,166.9h.8M450.6,165.5h.8M447.8,164.2h.8M444.7,158.6h.8M447.3,154.2h.8M458.5,166.7h.8M449.7,154.8h.8M453.4,162.1h.8M456.1,160.7h.8M447.1,152.6h.8M451.2,156.0h.8M442.8,161.0h.8M441.9,160.9h.8M443.6,154.0h.8M438.9,158.9h.8M455.0,159.5h.8M446.0,161.4h.8M445.4,154.6h.8M444.9,159.7h.8M444.9,154.8h.8M444.4,161.7h.8M436.1,154.5h.8M443.5,156.3h.8M448.4,160.5h.8M447.1,160.5h.8M446.0,155.2h.8M444.9,160.3h.8M445.2,151.3h.8M445.0,156.0h.8M444.0,159.0h.8M445.5,160.2h.8M439.7,158.6h.8M439.0,157.7h.8M450.6,153.9h.8M440.7,160.7h.8M440.9,155.3h.8M447.0,152.1h.8M438.8,160.0h.8M438.2,160.5h.8M438.3,160.7h.8M453.0,164.5h.8M457.9,162.0h.8M446.0,157.0h.8M445.0,161.1h.8M443.2,159.5h.8M448.5,162.1h.8M445.4,155.4h.8M447.2,158.9h.8M457.5,159.4h.8M445.0,156.1h.8M446.5,158.2h.8M446.9,158.3h.8M446.5,159.7h.8M446.4,156.1h.8M442.7,160.5h.8M439.3,155.3h.8M444.1,157.5h.8M451.9,160.5h.8M441.4,159.9h.8M448.4,160.2h.8M455.3,154.0h.8M443.8,161.6h.8M451.8,154.7h.8M443.0,163.2h.8M445.4,160.2h.8M449.5,156.8h.8M454.3,156.9h.8M436.9,156.6h.8M441.7,160.5h.8M446.3,158.9h.8M444.0,159.3h.8M442.6,161.3h.8M441.9,163.2h.8M447.1,154.7h.8M434.1,156.1h.8M441.4,158.5h.8M445.8,157.6h.8M445.7,160.8h.8M445.1,158.5h.8M446.8,152.7h.8M436.9,160.3h.8M441.9,158.8h.8M449.5,160.6h.8M441.9,162.8h.8M447.0,157.1h.8M440.9,158.0h.8M442.4,160.8h.8M450.1,157.8h.8M441.5,160.9h.8M450.7,155.7h.8M450.0,158.1h.8M447.7,152.3h.8M457.9,152.9h.8M442.7,157.9h.8M440.1,157.5h.8M451.3,161.7h.8M445.6,155.9h.8M443.9,163.5h.8M455.2,158.7h.8M445.5,154.4h.8M442.5,157.6h.8M447.2,156.2h.8M445.8,158.2h.8M455.2,160.2h.8M447.7,158.5h.8M446.1,154.3h.8M451.4,163.7h.8M449.6,160.9h.8M442.1,153.2h.8M444.0,154.8h.8M448.2,160.3h.8M441.3,157.1h.8M442.6,167.8h.8M446.4,150.7h.8M447.8,166.5h.8M450.9,157.2h.8M456.3,155.0h.8M448.8,157.4h.8M446.3,159.6h.8M447.8,157.3h.8M445.2,158.5h.8M447.5,151.8h.8M448.8,157.1h.8M432.5,206.3h.8M415.7,182.9h.8M411.7,174.7h.8M417.4,161.2h.8M416.5,191.7h.8M459.0,192.5h.8M445.8,184.9h.8M406.7,152.6h.8M397.4,148.6h.8M446.1,180.2h.8M417.2,184.5h.8M420.4,189.3h.8M409.0,179.3h.8M452.6,169.3h.8M415.2,182.6h.8M395.8,179.9h.8M432.1,176.2h.8M448.7,187.4h.8M422.2,188.8h.8M419.7,201.1h.8M434.6,207.1h.8M415.0,167.9h.8M410.8,192.2h.8M409.8,185.1h.8M421.1,173.1h.8M405.5,190.1h.8M417.0,187.0h.8M427.8,173.1h.8M418.2,210.9h.8M437.5,168.1h.8M426.8,180.5h.8M454.1,200.8h.8M420.9,172.6h.8M450.1,179.7h.8M433.4,172.8h.8M425.5,179.8h.8M390.5,207.4h.8M431.5,184.1h.8M422.2,196.7h.8M435.7,171.4h.8M452.6,180.6h.8M434.0,197.4h.8M427.2,193.1h.8M420.4,203.6h.8M453.2,181.9h.8M413.5,196.2h.8M412.6,190.5h.8M418.5,170.1h.8M413.4,191.4h.8M416.0,165.6h.8M413.7,162.2h.8M424.0,189.9h.8M444.4,180.8h.8M427.6,153.3h.8M424.2,189.5h.8M441.5,168.7h.8M416.5,186.0h.8M424.5,181.7h.8M432.2,149.6h.8M413.9,194.1h.8M426.1,178.2h.8M424.5,213.8h.8M418.6,205.3h.8M403.1,171.9h.8M426.4,197.2h.8M396.2,210.4h.8M439.0,202.0h.8M432.3,144.3h.8M446.0,161.2h.8M440.1,157.7h.8M442.0,156.4h.8M439.2,162.1h.8M440.7,160.0h.8M449.2,161.0h.8M446.4,161.3h.8M447.1,159.2h.8M450.2,156.3h.8M447.6,163.3h.8M446.2,160.3h.8M444.9,159.7h.8M441.9,154.3h.8M445.5,167.4h.8M444.6,159.4h.8M444.8,162.4h.8M445.6,163.2h.8M448.0,163.1h.8M444.9,157.0h.8M448.6,162.2h.8M443.7,162.1h.8M444.5,155.3h.8M449.2,162.5h.8M448.6,157.9h.8M444.2,162.1h.8M442.5,162.1h.8M438.8,157.6h.8M447.9,162.6h.8M442.2,157.1h.8M441.8,154.2h.8M444.6,160.1h.8M441.9,159.4h.8M450.0,162.6h.8M444.8,160.1h.8M442.0,157.9h.8M443.9,164.3h.8M442.0,165.9h.8M445.4,163.1h.8M442.0,159.7h.8M441.3,158.0h.8M446.0,157.4h.8M445.6,157.1h.8M444.3,160.3h.8M440.8,162.4h.8M446.4,156.7h.8M448.5,157.9h.8M441.6,160.3h.8M443.4,157.9h.8M446.2,165.3h.8M448.4,164.5h.8M442.0,154.5h.8M444.8,157.7h.8M442.5,157.2h.8M442.7,155.8h.8M441.4,160.8h.8M444.5,162.4h.8M448.1,160.8h.8M444.7,154.4h.8M443.5,157.7h.8M450.2,162.0h.8M449.1,158.5h.8M445.3,159.3h.8M447.4,156.7h.8M441.5,163.2h.8M452.0,161.3h.8M450.3,160.9h.8M452.0,163.5h.8M448.3,158.9h.8M445.2,156.9h.8M446.2,164.5h.8M440.6,160.6h.8M438.2,160.6h.8M443.3,161.4h.8M446.4,155.5h.8M444.2,159.9h.8M445.2,162.1h.8M452.0,158.4h.8M445.8,162.9h.8M444.8,161.6h.8M446.5,158.5h.8M445.2,156.6h.8M439.2,160.2h.8M443.4,160.9h.8M441.7,165.4h.8M445.9,161.8h.8M445.3,161.4h.8M444.6,158.3h.8M443.5,161.7h.8M443.4,161.7h.8M447.6,159.6h.8M448.0,159.1h.8M446.1,155.5h.8M447.2,160.1h.8M450.7,163.2h.8M439.3,159.6h.8M444.6,165.8h.8M448.0,161.9h.8M443.1,155.3h.8M443.2,161.8h.8M444.8,152.6h.8M444.7,160.5h.8M446.2,163.6h.8M443.3,162.5h.8M446.1,162.0h.8M442.4,158.0h.8M445.0,160.5h.8M441.5,162.0h.8M444.4,164.7h.8M444.1,158.7h.8M442.6,161.4h.8M438.1,155.9h.8M444.6,160.7h.8M438.7,158.0h.8M445.5,160.3h.8M440.0,163.4h.8M444.0,157.5h.8M447.6,158.4h.8M447.7,160.6h.8M445.9,160.4h.8M443.5,162.8h.8" stroke="#2a3cf2" stroke-width="0.8" opacity="0.8"/>
<ellipse cx="423.7" cy="184.5" rx="11" ry="7" transform="rotate(-45 423.7 184.5)" fill="url(#fcore)"/>
<line x1="431.6" y1="138.5" x2="431.6" y2="219.3" stroke="#7d7d7d" stroke-width="0.8" />
<line x1="387.7" y1="167.2" x2="468.5" y2="167.2" stroke="#7d7d7d" stroke-width="0.8" />
<rect x="482.6" y="134.8" width="81.4" height="2.2" fill="#e6e6e6" />
<rect x="559" y="134.8" width="3.5" height="2.2" fill="#cfcfcf" />
<rect x="564.8" y="138" width="1.6" height="81.5" fill="#ececec" />
<rect x="564.8" y="168.16" width="1.6" height="3" fill="#bdbdbd" />
<rect x="482.6" y="138" width="81.4" height="81.5" fill="#fff" stroke="#8a8a8a" stroke-width="0.7" />
<line x1="481.4" y1="219.5" x2="482.6" y2="219.5" stroke="#888" stroke-width="0.5" />
<text transform="translate(479.4,219.5) rotate(-90)" y="0.98" font-size="2.8" text-anchor="middle" fill="#555">10</text>
<line x1="481.4" y1="205.92" x2="482.6" y2="205.92" stroke="#888" stroke-width="0.5" />
<text transform="translate(479.4,205.92) rotate(-90)" y="0.98" font-size="2.8" text-anchor="middle" fill="#555">10</text>
<line x1="481.4" y1="192.33" x2="482.6" y2="192.33" stroke="#888" stroke-width="0.5" />
<text transform="translate(479.4,192.33) rotate(-90)" y="0.98" font-size="2.8" text-anchor="middle" fill="#555">10</text>
<line x1="481.4" y1="178.75" x2="482.6" y2="178.75" stroke="#888" stroke-width="0.5" />
<text transform="translate(479.4,178.75) rotate(-90)" y="0.98" font-size="2.8" text-anchor="middle" fill="#555">10</text>
<line x1="481.4" y1="165.17" x2="482.6" y2="165.17" stroke="#888" stroke-width="0.5" />
<text transform="translate(479.4,165.17) rotate(-90)" y="0.98" font-size="2.8" text-anchor="middle" fill="#555">10</text>
<line x1="481.4" y1="151.58" x2="482.6" y2="151.58" stroke="#888" stroke-width="0.5" />
<text transform="translate(479.4,151.58) rotate(-90)" y="0.98" font-size="2.8" text-anchor="middle" fill="#555">10</text>
<line x1="481.4" y1="138" x2="482.6" y2="138" stroke="#888" stroke-width="0.5" />
<text transform="translate(479.4,138) rotate(-90)" y="0.98" font-size="2.8" text-anchor="middle" fill="#555">10</text>
<line x1="482.6" y1="219.5" x2="482.6" y2="220.7" stroke="#888" stroke-width="0.5" />
<text x="482.6" y="223.68" font-size="2.8" text-anchor="middle" fill="#555">10</text>
<line x1="496.17" y1="219.5" x2="496.17" y2="220.7" stroke="#888" stroke-width="0.5" />
<text x="496.17" y="223.68" font-size="2.8" text-anchor="middle" fill="#555">10</text>
<line x1="509.73" y1="219.5" x2="509.73" y2="220.7" stroke="#888" stroke-width="0.5" />
<text x="509.73" y="223.68" font-size="2.8" text-anchor="middle" fill="#555">10</text>
<line x1="523.3" y1="219.5" x2="523.3" y2="220.7" stroke="#888" stroke-width="0.5" />
<text x="523.3" y="223.68" font-size="2.8" text-anchor="middle" fill="#555">10</text>
<line x1="536.87" y1="219.5" x2="536.87" y2="220.7" stroke="#888" stroke-width="0.5" />
<text x="536.87" y="223.68" font-size="2.8" text-anchor="middle" fill="#555">10</text>
<line x1="550.43" y1="219.5" x2="550.43" y2="220.7" stroke="#888" stroke-width="0.5" />
<text x="550.43" y="223.68" font-size="2.8" text-anchor="middle" fill="#555">10</text>
<line x1="564" y1="219.5" x2="564" y2="220.7" stroke="#888" stroke-width="0.5" />
<text x="564" y="223.68" font-size="2.8" text-anchor="middle" fill="#555">10</text>
<text x="484.6" y="141.59" font-size="3.1" fill="#333">Q3-1</text>
<text x="484.6" y="144.89" font-size="3.1" fill="#333">2.11%</text>
<text x="562" y="141.59" font-size="3.1" text-anchor="end" fill="#333">Q3-2</text>
<text x="562" y="144.89" font-size="3.1" text-anchor="end" fill="#333">5.06%</text>
<text x="484.6" y="215.09" font-size="3.1" fill="#333">Q3-3</text>
<text x="484.6" y="218.39" font-size="3.1" fill="#333">84.28%</text>
<text x="562" y="215.09" font-size="3.1" text-anchor="end" fill="#333">Q3-4</text>
<text x="562" y="218.39" font-size="3.1" text-anchor="end" fill="#333">10.59%</text>
<path d="M523.9,180.8h.8M542.9,156.5h.8M519.2,180.8h.8M518.7,190.7h.8M525.4,181.9h.8M526.5,178.9h.8M511.8,202.6h.8M521.4,198.5h.8M520.2,185.8h.8M530.1,180.6h.8M515.5,183.4h.8M529.3,182.7h.8M533.4,175.3h.8M529.7,176.3h.8M521.6,192.2h.8M508.9,175.2h.8M508.6,182.5h.8M531.0,175.7h.8M522.2,170.1h.8M519.5,188.4h.8M526.4,174.2h.8M533.6,166.4h.8M511.3,192.7h.8M507.8,189.7h.8M526.5,180.4h.8M509.4,186.9h.8M511.8,181.8h.8M513.4,192.4h.8M519.8,192.2h.8M532.9,156.9h.8M511.7,185.4h.8M501.1,192.2h.8M529.1,177.3h.8M516.0,185.6h.8M524.5,182.0h.8M514.4,191.3h.8M513.2,183.9h.8M519.3,182.3h.8M508.8,197.8h.8M518.8,188.9h.8M520.0,186.0h.8M504.5,191.4h.8M528.6,179.1h.8M528.1,183.0h.8M511.1,194.0h.8M531.6,172.7h.8M507.3,194.2h.8M518.3,191.0h.8M529.4,188.2h.8M512.3,203.0h.8M527.3,175.2h.8M518.0,190.9h.8M519.5,173.6h.8M513.2,187.9h.8M534.8,163.5h.8M515.9,184.6h.8M517.8,179.9h.8M524.4,182.9h.8M517.3,182.8h.8M514.4,188.2h.8M507.9,185.2h.8M534.9,175.4h.8M525.4,176.4h.8M521.5,183.8h.8M517.7,177.3h.8M506.5,188.3h.8M522.3,189.8h.8M516.8,181.2h.8M517.9,182.8h.8M519.5,188.1h.8M531.0,179.8h.8M525.8,174.6h.8M518.6,186.3h.8M517.8,185.7h.8M520.0,184.3h.8M514.0,206.3h.8M524.9,183.4h.8M516.3,188.2h.8M505.4,185.2h.8M520.5,184.1h.8M508.4,187.6h.8M519.1,172.0h.8M529.7,180.1h.8M504.9,187.1h.8M515.2,188.8h.8M516.6,182.5h.8M528.0,183.5h.8M522.1,195.1h.8M524.5,179.9h.8M503.2,191.5h.8M523.9,187.3h.8M519.1,188.7h.8M519.7,181.7h.8M513.9,185.8h.8M502.2,203.7h.8M520.7,174.8h.8M529.8,181.6h.8M508.8,197.0h.8M535.4,165.6h.8M521.1,195.5h.8M522.6,184.1h.8M522.7,179.0h.8M503.2,201.0h.8M527.9,180.0h.8M515.7,196.8h.8M501.3,184.3h.8M532.5,175.6h.8M534.0,177.7h.8M518.8,190.4h.8M515.8,182.2h.8M531.6,165.8h.8M518.3,183.6h.8M516.6,183.7h.8M512.4,188.8h.8M519.3,176.4h.8M512.1,187.8h.8M525.0,184.7h.8M507.6,200.1h.8M527.2,178.3h.8M534.0,164.8h.8M514.9,189.2h.8M521.1,178.3h.8M516.2,183.5h.8M537.5,158.5h.8M522.8,184.2h.8M506.1,195.8h.8M517.0,186.7h.8M512.7,184.5h.8M530.3,178.6h.8M508.6,192.3h.8M528.1,172.0h.8M528.8,185.7h.8M513.4,185.3h.8M522.4,181.0h.8M520.5,176.1h.8M523.2,185.8h.8M508.7,192.9h.8M519.2,185.6h.8M530.3,178.2h.8M515.2,183.0h.8M521.8,198.5h.8M512.5,184.4h.8M516.3,189.0h.8M501.6,192.3h.8M509.8,198.9h.8M510.7,177.2h.8M523.4,185.7h.8M510.2,195.6h.8M513.3,194.9h.8M515.2,178.5h.8M506.4,186.2h.8M498.1,190.0h.8M516.5,189.8h.8M515.4,186.2h.8M520.6,185.4h.8M516.8,190.8h.8M522.2,185.4h.8M520.4,194.3h.8M518.0,181.6h.8M508.4,187.1h.8M519.0,183.5h.8M505.1,193.5h.8M521.1,167.1h.8M515.5,188.3h.8M522.9,176.3h.8M514.9,188.0h.8M524.5,174.5h.8M515.2,180.0h.8M507.4,192.6h.8M516.4,189.8h.8M518.6,171.1h.8M522.4,179.9h.8M528.5,168.9h.8M506.3,201.8h.8M517.6,191.0h.8M506.5,191.7h.8M514.1,175.5h.8M517.2,185.1h.8M510.4,184.9h.8M522.2,168.0h.8M529.3,178.5h.8M531.9,178.4h.8M516.1,188.6h.8M537.3,171.4h.8M511.8,189.5h.8M526.0,172.8h.8M526.9,182.8h.8M512.1,181.1h.8M523.0,185.1h.8M512.1,180.6h.8M530.4,169.6h.8M507.5,182.6h.8M514.9,187.4h.8M522.8,180.3h.8M512.3,178.2h.8M527.6,186.6h.8M510.6,182.3h.8M522.6,188.4h.8M524.4,174.9h.8M517.9,180.7h.8M516.5,185.2h.8M526.1,181.3h.8M532.7,178.5h.8M534.1,168.3h.8M527.2,185.3h.8M528.6,180.9h.8M523.2,179.7h.8M507.3,182.1h.8M523.0,184.0h.8M516.0,184.5h.8M516.9,179.5h.8M515.0,186.3h.8M519.1,189.3h.8M528.7,180.6h.8M505.9,192.1h.8M514.1,184.6h.8M521.6,177.5h.8M514.4,176.6h.8M508.0,186.0h.8M517.7,183.0h.8M513.6,182.7h.8M525.0,181.4h.8M518.4,180.8h.8M509.4,174.5h.8M525.4,180.5h.8M526.0,174.9h.8M517.6,187.9h.8M505.8,191.3h.8M530.8,172.7h.8M520.9,195.2h.8M511.4,191.5h.8M516.0,188.0h.8M514.6,189.5h.8M517.6,183.9h.8M519.8,181.6h.8M515.3,189.7h.8M513.3,193.4h.8M518.0,181.6h.8M514.2,196.1h.8M520.8,191.4h.8M518.6,185.8h.8M508.6,181.9h.8M516.0,185.1h.8M504.3,192.3h.8M521.3,180.1h.8M505.2,198.3h.8M513.6,186.3h.8M521.7,185.4h.8M511.9,181.6h.8M534.1,182.1h.8M514.3,183.8h.8M515.7,184.9h.8M511.3,179.1h.8M525.6,178.8h.8M527.2,170.8h.8M533.3,173.2h.8M506.3,190.6h.8M526.8,189.6h.8M492.8,209.5h.8M523.4,185.8h.8M516.1,186.1h.8M505.3,188.1h.8M510.6,192.2h.8M521.8,185.1h.8M511.1,185.4h.8M508.6,194.5h.8M534.0,175.0h.8M511.0,196.0h.8M502.2,206.8h.8M514.8,194.8h.8M511.3,187.4h.8M523.9,187.1h.8M532.6,178.2h.8M531.9,175.1h.8M515.1,191.7h.8M529.3,173.0h.8M525.9,190.1h.8M520.8,184.9h.8M520.2,189.2h.8M503.7,189.8h.8M510.6,188.1h.8M523.1,179.0h.8M518.2,180.2h.8M517.6,186.4h.8M521.3,180.6h.8M527.9,196.2h.8M524.3,188.7h.8M523.1,170.6h.8M520.4,180.9h.8M506.1,198.6h.8M507.1,182.0h.8M501.7,184.3h.8M526.4,192.8h.8M533.3,171.7h.8M518.0,176.8h.8M510.4,196.6h.8M515.7,177.8h.8M516.2,182.5h.8M505.3,193.9h.8M514.6,191.5h.8M517.0,179.4h.8M513.2,186.7h.8M515.1,183.3h.8M511.1,181.3h.8M516.5,194.9h.8M531.5,177.4h.8M521.6,176.2h.8M509.0,196.6h.8M516.9,187.4h.8M508.5,193.3h.8M525.4,186.4h.8M519.0,182.6h.8M508.0,195.9h.8M523.2,174.4h.8M515.0,194.3h.8M518.3,181.9h.8M525.1,177.6h.8M527.9,180.6h.8M533.3,171.5h.8M515.1,192.7h.8M509.9,199.4h.8M515.6,184.1h.8M530.9,179.2h.8M511.7,186.4h.8M524.0,173.6h.8M525.9,186.6h.8M521.9,193.8h.8M509.9,184.1h.8M531.7,174.0h.8M518.6,174.5h.8M517.4,196.8h.8M523.2,196.8h.8M524.8,179.6h.8M517.3,186.0h.8M523.1,180.8h.8M508.4,190.4h.8M514.7,186.9h.8M514.6,189.1h.8M508.0,194.8h.8M513.2,182.3h.8M517.2,193.4h.8M532.1,187.1h.8M524.2,180.3h.8M515.9,187.3h.8M521.0,190.0h.8M528.0,182.9h.8M521.1,184.4h.8M516.7,192.2h.8M522.8,183.9h.8M525.6,171.7h.8M512.4,183.8h.8M496.2,194.5h.8M515.2,198.7h.8M533.5,183.1h.8M513.0,188.5h.8M505.5,199.7h.8M528.6,181.0h.8M533.2,177.7h.8M527.9,172.9h.8M521.3,184.5h.8M508.4,187.4h.8M511.1,192.9h.8M522.6,177.7h.8M526.7,182.2h.8M509.6,192.7h.8M514.2,181.5h.8M505.6,198.5h.8M524.0,183.6h.8M507.9,195.9h.8M529.4,180.0h.8M516.8,195.0h.8M519.3,198.6h.8M542.4,163.4h.8M523.2,171.7h.8M513.2,186.3h.8M527.2,166.4h.8M529.4,180.1h.8M514.8,188.8h.8M533.2,176.2h.8M519.8,175.0h.8M525.2,178.6h.8M512.3,186.1h.8M515.7,185.0h.8M518.0,189.8h.8M520.2,191.3h.8M531.4,182.9h.8M523.9,183.2h.8M529.4,187.1h.8M519.4,183.9h.8M525.6,170.2h.8M522.5,181.7h.8M516.0,179.8h.8M526.5,172.5h.8M533.9,181.3h.8M518.6,169.6h.8M522.7,185.3h.8M536.6,181.3h.8M532.6,179.9h.8M527.6,184.8h.8M529.9,173.0h.8M515.6,188.0h.8M523.4,168.2h.8M522.2,182.8h.8M529.8,172.4h.8M508.3,180.1h.8M507.3,193.4h.8M529.4,170.3h.8M518.0,177.7h.8M513.1,189.9h.8M515.7,179.4h.8M522.8,179.4h.8M523.5,168.9h.8M501.6,181.4h.8M524.4,181.9h.8M541.5,180.2h.8M510.4,190.0h.8M519.8,191.8h.8M512.4,178.6h.8M517.2,178.9h.8M525.3,177.3h.8M522.9,184.7h.8M518.6,177.8h.8M518.9,183.8h.8M523.2,178.7h.8M529.3,187.2h.8M529.0,185.9h.8M525.1,178.6h.8M521.7,190.1h.8M528.0,177.6h.8M524.2,192.6h.8M532.8,173.8h.8M509.8,183.8h.8M533.3,188.0h.8M513.5,177.5h.8M521.1,187.0h.8M522.9,173.9h.8M516.5,191.2h.8M518.1,188.4h.8M513.9,194.0h.8M530.5,183.9h.8M525.1,173.7h.8M522.2,174.6h.8M520.3,194.3h.8M528.0,175.0h.8M519.3,176.1h.8M511.2,192.0h.8M523.4,186.8h.8M513.9,188.8h.8M517.6,175.6h.8M520.7,171.2h.8M515.8,185.1h.8M520.7,184.4h.8M511.3,181.4h.8M529.9,172.5h.8M505.8,205.9h.8M507.8,182.3h.8M528.4,176.3h.8M523.7,176.6h.8M519.7,184.0h.8M517.4,193.2h.8M522.9,188.2h.8M523.6,181.5h.8M512.7,187.6h.8M516.0,189.6h.8M511.0,187.1h.8M521.5,182.9h.8M516.6,182.7h.8M523.5,193.2h.8M531.2,171.0h.8M528.3,181.2h.8M513.1,198.2h.8M525.4,180.7h.8M520.4,186.3h.8M502.9,187.8h.8M517.0,193.5h.8M510.8,189.9h.8M527.5,174.1h.8M523.6,181.4h.8M528.1,173.2h.8M526.6,184.4h.8M525.6,172.4h.8M519.1,189.2h.8M527.5,185.0h.8M523.5,185.6h.8M508.5,186.4h.8M519.4,197.3h.8M532.3,175.6h.8M527.2,175.8h.8M519.3,196.0h.8M517.4,183.7h.8M516.8,189.3h.8M514.8,189.4h.8M521.5,183.4h.8M508.9,200.4h.8M518.8,188.2h.8M509.1,198.8h.8M515.4,200.7h.8M525.9,184.7h.8M523.2,172.1h.8M505.8,196.1h.8M506.9,192.5h.8M521.8,171.5h.8M533.5,180.8h.8M527.0,188.1h.8M519.6,177.9h.8M515.3,181.9h.8M515.7,191.7h.8M518.4,199.0h.8M520.2,183.4h.8M515.7,194.4h.8M506.5,191.9h.8M525.5,182.1h.8M518.6,188.4h.8M512.1,188.8h.8M533.9,185.1h.8M528.9,181.5h.8M522.5,192.0h.8M516.4,188.2h.8M507.8,176.5h.8M517.8,188.0h.8M515.6,184.7h.8M521.8,176.4h.8M518.5,183.6h.8M503.1,200.0h.8M511.7,190.0h.8M513.4,186.0h.8M515.2,183.9h.8M501.7,194.5h.8M503.9,187.7h.8M509.5,194.0h.8M512.2,190.6h.8M530.1,180.3h.8M518.7,178.7h.8M509.3,188.0h.8M513.5,185.9h.8M500.5,179.8h.8M526.4,192.7h.8M524.0,182.2h.8M509.9,196.5h.8M510.6,192.3h.8M516.9,194.8h.8M519.5,181.8h.8M518.3,183.2h.8M517.9,183.7h.8M524.3,172.3h.8M517.6,174.4h.8M504.3,192.2h.8M509.0,200.2h.8M511.2,188.7h.8M531.8,176.9h.8M503.3,193.5h.8M523.8,190.9h.8M532.8,168.0h.8M520.2,182.5h.8M515.0,184.3h.8M515.6,179.1h.8M509.1,194.8h.8M531.3,181.2h.8M527.7,182.1h.8M521.3,172.4h.8M524.0,179.8h.8M516.8,191.8h.8M521.5,182.3h.8M512.5,190.1h.8M507.0,187.2h.8M525.3,178.3h.8M528.2,177.2h.8M528.9,173.8h.8M518.1,200.4h.8M538.8,177.4h.8M515.6,181.2h.8M520.8,189.5h.8M517.4,184.6h.8M518.8,180.8h.8M507.6,187.3h.8M518.6,179.0h.8M523.9,175.7h.8M514.2,194.9h.8M518.1,193.1h.8M521.9,194.8h.8M519.9,184.0h.8M528.8,178.6h.8M531.9,172.3h.8M517.2,185.8h.8M525.8,170.1h.8M521.8,181.7h.8M521.6,192.1h.8M519.7,186.5h.8M532.6,174.3h.8M528.4,174.5h.8M514.7,183.9h.8M511.7,206.5h.8M530.8,170.1h.8M523.0,181.9h.8M521.0,183.4h.8M518.2,183.9h.8M519.4,179.9h.8M514.2,192.6h.8M532.5,173.7h.8M521.3,180.9h.8M510.2,179.3h.8M531.0,186.7h.8M531.9,181.1h.8M509.7,199.4h.8M531.8,184.6h.8M529.2,181.0h.8M525.2,172.7h.8M523.4,198.3h.8M527.6,192.6h.8M526.8,180.4h.8M530.1,178.1h.8M510.9,189.3h.8M512.2,191.2h.8M521.6,187.9h.8M508.0,191.2h.8M532.0,173.9h.8M514.4,191.7h.8M518.5,200.1h.8M526.1,176.6h.8M510.5,180.0h.8M519.6,184.5h.8M527.8,180.6h.8M520.3,180.6h.8M523.1,177.9h.8M526.2,171.4h.8M521.3,176.0h.8M518.9,191.7h.8M513.5,181.9h.8M509.3,191.7h.8M516.2,191.0h.8M520.7,196.8h.8M530.3,175.5h.8M519.4,183.9h.8M495.2,198.3h.8M531.1,173.3h.8M518.8,179.9h.8M520.4,176.3h.8M525.0,180.2h.8M527.7,184.9h.8M514.5,180.6h.8M527.2,172.7h.8M526.7,180.8h.8M525.9,178.9h.8M508.2,185.8h.8M519.0,182.5h.8M511.4,192.2h.8M519.8,179.7h.8M521.4,178.9h.8M521.1,173.4h.8M530.3,180.0h.8M515.9,177.9h.8M527.0,178.6h.8M519.9,184.5h.8M528.6,190.3h.8M507.3,200.7h.8M513.3,198.0h.8M512.4,190.7h.8M513.4,180.3h.8M520.9,184.8h.8M519.6,185.8h.8M517.5,195.8h.8M531.3,177.9h.8M518.2,195.0h.8M519.9,194.3h.8M520.7,196.6h.8M501.2,187.4h.8M519.3,182.1h.8M526.5,174.0h.8M523.4,183.3h.8M528.9,180.8h.8M519.4,188.2h.8M527.7,176.3h.8M514.8,178.0h.8M527.8,172.6h.8M523.2,183.8h.8M516.4,181.0h.8M517.8,175.6h.8M526.6,184.9h.8M522.4,197.2h.8M525.9,184.6h.8M524.7,182.0h.8M522.4,184.1h.8M516.6,183.8h.8M517.2,187.9h.8M517.7,188.8h.8M519.7,191.9h.8M516.1,183.5h.8M522.4,186.3h.8M504.2,184.2h.8M532.1,180.0h.8M516.4,198.5h.8M532.8,183.4h.8M523.7,187.9h.8M523.8,187.6h.8M518.5,185.8h.8M520.6,173.3h.8M521.5,180.3h.8M536.1,179.3h.8M533.1,172.9h.8M511.6,182.0h.8M516.8,187.1h.8M520.4,174.2h.8M509.0,189.9h.8M522.7,182.3h.8M521.3,164.4h.8M522.2,176.5h.8M515.4,190.3h.8M514.9,185.6h.8M524.0,184.7h.8M522.5,189.6h.8M516.8,186.9h.8M521.0,183.5h.8M521.1,183.6h.8M511.1,186.8h.8M517.3,190.2h.8M526.2,177.6h.8M515.5,175.6h.8M518.8,193.7h.8M535.9,172.3h.8M506.7,181.4h.8M522.3,183.0h.8M506.0,198.8h.8M512.3,187.2h.8M505.3,196.9h.8M529.5,173.3h.8M524.4,198.0h.8M518.7,189.8h.8M518.0,195.8h.8M523.2,170.6h.8M515.0,194.7h.8M518.1,194.2h.8M520.2,179.9h.8M525.7,177.8h.8M516.4,177.0h.8M521.5,179.8h.8M508.0,197.1h.8M517.1,186.3h.8M529.9,178.0h.8M533.1,177.2h.8M534.5,177.2h.8M527.2,192.0h.8M520.0,202.1h.8M524.5,181.5h.8M501.5,199.7h.8M520.1,193.2h.8M516.2,185.7h.8M518.6,184.6h.8M519.8,176.3h.8M508.3,191.5h.8M513.1,197.7h.8M511.1,198.3h.8M526.3,175.3h.8M532.8,175.5h.8M537.8,183.7h.8M520.2,175.8h.8M526.5,181.6h.8M515.3,188.8h.8M529.8,166.3h.8M525.3,191.7h.8M529.8,179.9h.8M531.9,183.0h.8M510.8,190.5h.8M517.7,177.8h.8M521.5,183.8h.8M525.0,180.4h.8M513.8,190.0h.8M528.0,173.2h.8M519.1,177.4h.8M527.2,183.8h.8M515.7,184.4h.8M531.6,170.4h.8M513.3,189.7h.8M524.8,188.3h.8M512.1,171.8h.8M512.4,187.5h.8M527.4,177.2h.8M505.0,195.6h.8M518.8,189.6h.8M521.6,181.1h.8M521.7,171.8h.8M510.1,186.7h.8M518.0,183.4h.8M530.5,174.1h.8M520.9,192.8h.8M529.9,169.2h.8M525.2,182.5h.8M538.9,180.3h.8M519.4,169.1h.8M529.1,170.9h.8M523.8,180.5h.8M518.0,185.1h.8M517.6,186.6h.8M514.9,188.4h.8M518.1,174.8h.8M517.7,181.5h.8M514.3,181.9h.8M519.9,192.8h.8M512.9,196.4h.8M512.4,179.6h.8M521.8,180.4h.8M530.6,166.4h.8M546.6,161.8h.8M528.7,167.2h.8M515.9,184.3h.8M537.5,161.2h.8M533.9,172.8h.8M529.4,171.1h.8M516.2,178.2h.8M520.4,180.1h.8M537.1,159.1h.8M532.6,166.3h.8M518.8,183.8h.8M544.8,156.8h.8M538.5,168.0h.8M522.1,183.2h.8M534.6,164.2h.8M521.9,185.6h.8M537.2,173.7h.8M532.4,170.9h.8M538.3,166.5h.8M536.4,162.0h.8M522.6,180.5h.8M537.9,171.8h.8M540.0,156.5h.8M533.1,157.9h.8M527.6,178.4h.8M529.7,167.1h.8M527.4,168.2h.8M527.3,170.6h.8M529.3,176.4h.8M516.4,186.0h.8M525.5,186.6h.8M527.5,176.8h.8M524.5,179.0h.8M544.9,154.6h.8M540.8,164.2h.8M542.5,168.7h.8M541.9,159.8h.8M523.2,184.2h.8M538.0,165.0h.8M535.0,165.3h.8M535.9,159.9h.8M533.7,172.7h.8M519.6,179.6h.8M524.6,183.9h.8M526.5,171.4h.8M538.6,164.9h.8M540.0,154.8h.8M546.6,158.8h.8M521.6,182.8h.8M530.5,174.2h.8M536.8,169.3h.8M541.7,156.1h.8M532.2,161.9h.8M540.8,161.5h.8M539.4,166.2h.8M540.1,156.9h.8M532.9,156.3h.8M534.4,163.4h.8M524.0,179.2h.8M520.8,183.6h.8M523.8,174.7h.8M533.3,165.7h.8M537.7,166.3h.8M535.2,166.6h.8M541.4,160.7h.8M525.3,176.0h.8M521.8,170.3h.8M525.7,175.7h.8M524.1,173.4h.8M532.2,167.2h.8M522.8,177.3h.8M533.7,164.3h.8M536.9,161.9h.8M539.7,159.9h.8M531.9,166.3h.8M515.4,180.8h.8M527.4,171.1h.8M537.9,157.4h.8M525.7,181.2h.8M528.2,178.1h.8M535.0,158.3h.8M528.5,174.4h.8M530.7,164.7h.8M527.9,170.2h.8M541.9,157.1h.8M538.6,159.9h.8M538.1,160.3h.8M523.0,178.8h.8M521.9,176.6h.8M534.0,169.8h.8M527.2,176.3h.8M524.3,162.6h.8M526.8,165.3h.8M527.7,170.2h.8M529.5,166.7h.8M532.8,167.3h.8M523.2,170.4h.8M524.6,181.5h.8M527.6,181.4h.8M523.9,173.6h.8M527.8,177.9h.8M525.5,170.0h.8M516.4,188.6h.8M528.5,177.6h.8M525.3,172.0h.8M530.7,174.2h.8M540.3,163.3h.8M525.3,175.9h.8M527.1,168.5h.8M526.2,182.8h.8M523.8,178.0h.8M529.8,177.9h.8M541.0,161.8h.8M526.7,176.5h.8M518.4,175.4h.8M520.3,177.3h.8M536.3,162.3h.8M528.8,172.5h.8M536.8,170.0h.8M542.5,164.9h.8M544.5,157.8h.8M538.8,156.3h.8M524.3,178.8h.8M545.1,157.9h.8M525.1,167.1h.8M531.8,171.6h.8M530.7,174.2h.8M536.6,173.3h.8M534.7,165.8h.8M532.1,173.8h.8M527.6,173.5h.8M526.3,185.6h.8M532.8,167.5h.8M519.6,179.5h.8M521.4,176.2h.8M526.2,179.6h.8M544.7,158.1h.8M537.0,164.1h.8M538.7,161.0h.8M527.7,174.3h.8M518.2,189.2h.8M549.3,155.3h.8M543.4,156.2h.8M524.3,176.8h.8M531.5,171.6h.8M527.2,168.8h.8M524.6,180.6h.8M535.4,163.7h.8M530.7,171.1h.8M534.6,172.6h.8M528.2,172.5h.8M524.6,180.7h.8M535.9,164.5h.8M540.9,166.2h.8M526.4,178.4h.8M543.5,166.0h.8M521.4,180.8h.8M517.3,182.4h.8M533.9,168.5h.8M531.6,155.9h.8M522.5,184.6h.8M529.7,175.1h.8M520.7,180.9h.8M533.0,171.6h.8M525.8,166.6h.8M528.3,180.4h.8M530.5,178.3h.8M535.6,172.4h.8M530.3,169.8h.8M525.0,171.6h.8M534.7,160.1h.8M526.1,175.3h.8M537.4,157.5h.8M524.3,174.1h.8M522.2,180.3h.8M534.1,170.5h.8M519.2,183.3h.8M529.4,169.5h.8M526.0,178.6h.8M521.7,180.8h.8M527.0,179.8h.8M534.3,161.0h.8M529.9,174.1h.8M530.7,162.6h.8M540.3,162.1h.8M526.7,175.6h.8M535.0,165.7h.8M531.2,163.7h.8M529.2,173.9h.8M542.1,159.3h.8M536.4,156.0h.8M533.9,157.8h.8M532.7,168.9h.8M543.1,161.6h.8M524.1,181.2h.8M536.9,174.4h.8M534.8,169.4h.8M539.8,163.1h.8M520.0,188.1h.8M527.7,172.9h.8M546.1,160.1h.8M533.5,167.6h.8M522.9,180.7h.8M532.7,168.5h.8M535.3,179.3h.8M543.0,159.6h.8M522.9,183.9h.8M526.9,179.8h.8M536.6,161.0h.8M524.2,175.7h.8M524.8,176.5h.8M540.9,160.7h.8M530.6,166.5h.8M534.8,169.5h.8M531.9,171.0h.8M524.4,178.8h.8M525.0,177.1h.8M537.8,157.4h.8M530.6,171.1h.8M544.1,162.0h.8M537.9,157.2h.8M528.3,172.0h.8M530.4,176.5h.8M526.6,167.1h.8M523.0,185.2h.8M521.7,176.2h.8M521.5,177.6h.8M524.8,171.3h.8M526.0,183.3h.8M535.4,158.1h.8M525.4,169.6h.8M529.4,170.6h.8M523.8,174.3h.8M514.2,187.6h.8M529.5,167.5h.8M539.7,157.3h.8M541.4,166.1h.8M530.7,170.2h.8M523.3,175.5h.8M528.1,167.7h.8M542.5,155.5h.8M526.9,169.6h.8M524.9,176.1h.8M528.8,168.9h.8M545.9,155.0h.8M533.7,167.2h.8M525.9,181.8h.8M515.4,189.5h.8M534.8,172.7h.8M532.5,165.6h.8M522.2,179.7h.8M532.7,162.2h.8M530.4,170.5h.8M544.9,154.9h.8M533.7,165.8h.8M517.5,182.3h.8M520.7,189.2h.8M539.3,164.4h.8M535.7,160.6h.8M532.7,168.4h.8M539.9,161.0h.8M528.3,171.5h.8M524.3,174.6h.8M517.1,183.4h.8M535.8,156.6h.8M535.8,157.1h.8M527.9,170.3h.8M534.3,170.3h.8M543.8,163.7h.8M520.9,177.9h.8M521.9,178.7h.8M520.5,171.6h.8M520.4,187.6h.8M544.0,154.8h.8M526.5,178.1h.8M518.2,179.7h.8M521.0,190.2h.8M535.4,172.4h.8M525.4,181.8h.8M533.0,170.3h.8M532.7,155.9h.8M543.3,158.8h.8M530.6,167.0h.8M536.1,167.9h.8M537.8,159.6h.8M532.1,169.6h.8M530.2,169.5h.8M529.4,172.6h.8M540.7,170.9h.8M523.1,178.9h.8M534.9,173.5h.8M532.0,171.5h.8M541.1,154.7h.8M534.2,163.9h.8M537.6,160.6h.8M539.9,170.5h.8M544.3,157.8h.8M535.0,162.4h.8M516.2,173.1h.8M527.6,160.7h.8M525.6,178.3h.8M538.1,168.0h.8M532.7,171.6h.8M541.3,169.1h.8M526.2,173.7h.8M523.9,185.1h.8M519.8,185.0h.8M522.3,178.3h.8M534.1,169.5h.8M527.2,168.6h.8M518.9,178.6h.8M523.1,179.3h.8M531.7,172.6h.8M518.9,179.0h.8M517.9,183.7h.8M538.0,163.1h.8M525.9,169.6h.8M528.7,156.0h.8M529.1,174.4h.8M529.8,171.9h.8M534.0,163.7h.8M543.6,162.3h.8M529.5,169.6h.8M530.6,166.2h.8M523.6,174.7h.8M530.9,171.5h.8M544.2,163.0h.8M531.4,171.3h.8M534.9,161.8h.8M526.5,174.7h.8M520.3,176.0h.8M535.8,162.0h.8M539.7,163.1h.8M518.1,183.7h.8M537.9,171.8h.8M540.5,151.4h.8M547.0,158.0h.8M532.0,174.6h.8M512.8,182.2h.8M540.3,165.3h.8M526.4,174.4h.8M513.3,177.7h.8M522.4,172.0h.8M532.1,163.5h.8M523.8,175.2h.8M522.6,182.3h.8M529.8,167.5h.8M527.7,167.2h.8M527.9,184.0h.8M527.8,177.8h.8M530.4,177.7h.8M538.4,169.9h.8M512.9,183.9h.8M524.7,178.7h.8M525.1,174.1h.8M538.3,164.9h.8M523.5,183.9h.8M542.1,166.1h.8M533.7,157.8h.8M538.2,171.7h.8M533.5,181.5h.8M541.3,164.7h.8M521.6,180.1h.8M527.5,166.5h.8M517.8,180.7h.8M530.4,171.2h.8M535.8,167.7h.8M527.1,169.9h.8M539.3,162.7h.8M525.0,166.9h.8M528.3,176.1h.8M528.6,174.0h.8M523.2,179.1h.8M524.0,175.4h.8M539.5,160.2h.8M526.4,175.7h.8M537.4,160.4h.8M523.1,174.5h.8M539.4,151.8h.8M526.6,175.2h.8M544.4,156.7h.8M524.5,178.7h.8M524.9,175.1h.8M542.8,159.4h.8M543.5,158.0h.8M519.0,179.4h.8M527.2,179.1h.8M536.9,165.0h.8M531.8,168.2h.8M549.4,161.8h.8M527.6,171.4h.8M529.7,173.1h.8M519.9,176.7h.8M536.7,157.1h.8M538.7,166.0h.8M538.1,158.0h.8M523.3,180.9h.8M523.9,176.0h.8M525.0,183.0h.8M523.1,181.6h.8M527.9,173.1h.8M527.0,175.0h.8M543.4,160.4h.8M540.9,156.1h.8M527.0,176.0h.8M520.7,179.1h.8M540.4,162.4h.8M536.5,158.5h.8M537.0,167.0h.8M530.9,178.1h.8M531.1,150.3h.8M523.7,183.1h.8M539.4,156.3h.8M537.6,166.4h.8M529.3,172.0h.8M531.7,163.8h.8M526.8,177.0h.8M533.6,176.5h.8M524.5,177.7h.8M524.0,171.6h.8M536.3,159.0h.8M543.4,152.0h.8M540.9,155.7h.8M538.0,158.3h.8M525.4,182.8h.8M531.5,167.5h.8M536.8,179.0h.8M520.5,177.6h.8M529.9,179.6h.8M528.7,174.7h.8M537.5,164.1h.8M540.8,167.6h.8M536.3,163.4h.8M536.9,157.1h.8M532.5,167.7h.8M525.7,181.5h.8M518.0,181.9h.8M533.6,169.1h.8M531.0,176.7h.8M521.4,179.3h.8M518.3,175.8h.8M536.1,170.5h.8M532.7,158.0h.8M538.3,163.1h.8M529.0,171.7h.8M521.6,185.8h.8M538.3,167.2h.8M531.3,169.5h.8M525.0,182.1h.8M525.7,178.7h.8M524.4,181.4h.8M533.5,159.1h.8M537.1,160.1h.8M525.1,171.8h.8M537.7,157.5h.8M529.6,173.8h.8M517.5,182.0h.8M541.5,158.9h.8M530.9,172.9h.8M543.0,157.9h.8M521.0,174.0h.8M516.8,183.8h.8M540.2,158.4h.8M528.3,169.2h.8M525.4,175.5h.8M542.4,159.9h.8M540.8,171.5h.8M521.1,181.6h.8M527.5,172.8h.8M515.9,181.5h.8M523.4,180.8h.8M538.8,154.6h.8M527.6,164.7h.8M529.6,183.3h.8M529.9,173.3h.8M523.0,178.9h.8M531.3,176.7h.8M539.6,162.8h.8M540.0,157.7h.8M543.1,155.2h.8M548.3,156.8h.8M536.8,162.1h.8M538.4,151.9h.8M541.6,156.0h.8M549.9,149.4h.8M549.6,162.1h.8M551.2,154.7h.8M545.0,152.0h.8M548.2,163.0h.8M534.6,158.3h.8M539.6,163.6h.8M546.9,157.2h.8M546.1,153.4h.8M534.3,154.9h.8M543.0,153.9h.8M536.9,153.5h.8M542.6,155.3h.8M532.5,160.6h.8M547.3,158.0h.8M538.2,154.7h.8M543.2,160.0h.8M529.7,157.9h.8M541.7,155.8h.8M537.2,155.4h.8M551.9,154.4h.8M547.2,151.4h.8M540.6,150.5h.8M548.5,153.5h.8M541.1,161.5h.8M546.6,158.2h.8M534.4,157.9h.8M540.4,158.5h.8M542.4,164.8h.8M541.6,152.2h.8M546.9,160.4h.8M539.0,162.0h.8M545.7,151.4h.8M541.2,157.1h.8M544.3,155.5h.8M540.5,155.9h.8M540.5,154.7h.8M542.7,161.0h.8M534.8,158.4h.8M546.1,156.0h.8M542.5,164.1h.8M545.1,156.5h.8M541.0,160.5h.8M535.0,155.4h.8M535.5,158.2h.8M537.5,155.7h.8M532.7,155.1h.8M542.2,157.2h.8M538.9,162.3h.8M539.7,155.4h.8M536.8,150.9h.8M545.1,155.3h.8M544.3,156.1h.8M553.1,158.4h.8M535.5,154.1h.8M541.1,158.2h.8M544.5,158.6h.8M543.9,154.2h.8M545.0,157.6h.8M544.2,155.3h.8M545.9,153.8h.8M544.8,156.2h.8M533.4,159.2h.8M544.5,156.6h.8M548.9,162.3h.8M543.2,154.7h.8M541.5,153.6h.8M536.8,155.5h.8M546.9,155.5h.8M542.9,159.2h.8M541.2,158.1h.8M544.5,157.2h.8M543.7,161.6h.8M545.6,160.1h.8M543.4,156.3h.8M547.5,159.4h.8M545.0,156.5h.8M536.4,155.7h.8M543.9,157.6h.8M543.8,153.7h.8M544.6,153.6h.8M543.7,159.4h.8M543.7,157.3h.8M533.0,163.0h.8M538.7,154.2h.8M547.1,156.7h.8M540.8,161.5h.8M545.7,155.7h.8M535.5,159.8h.8M535.3,155.5h.8M539.7,156.7h.8M541.0,152.5h.8M541.1,154.4h.8M542.1,159.3h.8M539.8,156.7h.8M536.7,161.8h.8M543.1,156.7h.8M541.3,153.3h.8M543.8,152.9h.8M533.4,152.9h.8M542.1,157.7h.8M537.1,161.6h.8M546.2,160.2h.8M533.8,157.1h.8M541.9,159.8h.8M541.5,160.4h.8M542.0,151.3h.8M548.4,156.7h.8M538.0,153.1h.8M544.1,160.5h.8M545.6,162.5h.8M540.7,153.0h.8M541.5,150.2h.8M549.5,161.6h.8M548.7,151.2h.8M544.7,158.3h.8M542.2,157.2h.8M539.8,158.4h.8M538.0,155.0h.8M535.9,155.5h.8M542.8,161.8h.8M540.1,157.9h.8M537.2,152.1h.8M542.8,160.4h.8M538.3,157.7h.8M544.7,157.5h.8M543.8,156.3h.8M548.6,158.7h.8M537.1,157.1h.8M540.9,158.4h.8M541.8,158.4h.8M542.5,156.8h.8M544.9,158.9h.8M551.2,155.2h.8M538.6,159.5h.8M544.0,159.6h.8M548.7,159.9h.8M542.0,153.6h.8M539.3,157.9h.8M544.8,155.4h.8M543.2,160.0h.8M545.6,150.3h.8M540.2,155.3h.8M546.0,149.9h.8M535.7,158.6h.8M537.4,156.8h.8M541.9,154.5h.8M541.2,154.1h.8M538.2,158.1h.8M542.8,155.7h.8M545.4,162.0h.8M543.8,162.2h.8M536.6,157.8h.8M542.0,157.2h.8M551.4,155.5h.8M546.9,159.9h.8M532.4,159.1h.8M537.8,161.1h.8M539.0,156.8h.8M538.3,155.3h.8M538.1,150.1h.8M542.6,156.3h.8M541.5,157.2h.8M541.9,155.7h.8M540.4,152.2h.8M541.9,163.4h.8M549.2,156.0h.8M548.7,156.4h.8M534.2,153.3h.8M539.7,154.6h.8M540.2,158.3h.8M542.0,154.8h.8M546.4,156.9h.8M538.0,152.4h.8M543.3,154.1h.8M547.2,161.6h.8M543.0,161.3h.8M544.3,158.6h.8M534.8,162.0h.8M536.9,157.5h.8M547.1,156.3h.8M551.3,157.6h.8M543.9,155.4h.8M547.4,153.1h.8M534.2,154.9h.8M542.2,158.4h.8M547.9,155.4h.8M543.5,161.1h.8M541.8,161.9h.8M541.3,156.6h.8M536.1,155.5h.8M547.3,155.7h.8M542.5,156.6h.8M543.0,158.7h.8M539.2,162.0h.8M542.2,159.3h.8M547.8,158.4h.8M542.7,155.4h.8M535.4,159.0h.8M538.1,158.8h.8M542.1,155.5h.8M543.0,155.4h.8M543.9,146.0h.8M535.5,156.2h.8M540.7,148.7h.8M538.8,155.3h.8M543.9,157.3h.8M532.5,155.5h.8M544.5,159.8h.8M546.0,161.4h.8M537.4,155.6h.8M550.2,155.3h.8M541.8,154.8h.8M546.6,156.7h.8M540.0,158.7h.8M549.6,155.9h.8M542.3,157.6h.8M539.4,160.7h.8M541.1,160.5h.8M541.1,155.4h.8M542.7,160.9h.8M534.6,155.4h.8M537.1,152.3h.8M540.4,155.9h.8M537.6,154.7h.8M545.3,155.5h.8M537.5,159.6h.8M543.5,160.5h.8M535.7,152.5h.8M537.7,161.3h.8M545.4,156.4h.8M544.4,158.7h.8M545.7,158.8h.8M540.3,154.4h.8M548.6,155.9h.8M543.8,159.9h.8M537.3,156.3h.8M540.4,157.6h.8M538.9,156.8h.8M543.6,152.4h.8M539.0,150.7h.8M543.9,153.7h.8M540.0,158.1h.8M539.7,159.0h.8M538.5,155.4h.8M546.2,161.5h.8M542.4,155.8h.8M543.2,160.8h.8M540.7,160.4h.8M543.5,154.5h.8M539.6,155.5h.8M542.7,156.6h.8M542.3,159.1h.8M543.0,151.0h.8M541.1,154.0h.8M542.0,160.0h.8M537.1,150.8h.8M542.6,164.0h.8M541.1,154.5h.8M541.8,154.6h.8M541.8,153.3h.8M543.4,162.3h.8M543.6,158.1h.8M549.3,153.3h.8M540.5,152.0h.8M529.5,195.6h.8M540.1,167.3h.8M494.0,171.2h.8M495.4,203.5h.8M537.1,211.6h.8M518.6,167.8h.8M510.9,182.9h.8M507.6,206.6h.8M529.2,201.2h.8M515.6,182.3h.8M507.7,176.2h.8M518.3,175.3h.8M517.2,208.2h.8M527.9,186.9h.8M503.5,190.0h.8M533.4,162.0h.8M518.2,187.9h.8M524.8,188.0h.8M533.6,186.1h.8M519.8,191.2h.8M504.3,189.9h.8M529.4,161.1h.8M531.4,184.7h.8M531.8,184.5h.8M518.7,180.6h.8M529.6,168.1h.8M516.1,164.3h.8M497.2,164.6h.8M523.5,151.9h.8M532.7,187.8h.8M519.5,158.0h.8M529.4,168.8h.8M499.2,181.2h.8M502.8,150.5h.8M530.4,175.6h.8M519.8,169.5h.8M499.5,178.1h.8M521.0,166.7h.8M531.2,147.5h.8M524.5,183.7h.8M502.3,178.0h.8M495.1,180.1h.8M509.0,180.8h.8M536.4,211.1h.8M539.1,177.9h.8M522.5,191.2h.8M516.7,190.8h.8M527.3,201.3h.8M535.4,195.8h.8M519.2,162.9h.8M529.3,217.7h.8M524.0,193.9h.8M503.0,184.7h.8M513.5,183.9h.8M540.7,192.2h.8M509.1,187.4h.8M550.0,172.9h.8M544.1,179.7h.8M517.7,199.6h.8M532.0,196.6h.8M535.1,205.5h.8M522.2,177.0h.8M503.1,197.6h.8M534.3,197.3h.8M519.3,173.0h.8M523.6,175.5h.8M493.2,185.8h.8M493.4,187.6h.8M532.8,175.4h.8M530.9,169.2h.8M538.7,171.2h.8M530.9,172.7h.8M535.1,175.6h.8M532.5,172.1h.8M529.3,169.8h.8M536.9,163.6h.8M535.5,170.4h.8M533.7,167.0h.8M533.7,168.0h.8M534.1,173.5h.8M529.7,168.4h.8M537.4,169.0h.8M533.2,172.0h.8M535.4,171.6h.8M538.5,170.9h.8M532.4,168.5h.8M528.9,177.2h.8M535.3,169.0h.8M541.9,171.9h.8M533.9,173.4h.8M536.2,171.7h.8M532.7,177.6h.8M537.2,165.6h.8M532.0,170.1h.8M532.5,178.1h.8M537.7,173.9h.8M531.3,171.0h.8M534.9,177.3h.8M528.5,170.4h.8M534.9,168.9h.8M533.4,173.5h.8M528.9,165.8h.8M536.7,168.4h.8M530.5,174.5h.8M531.5,170.2h.8M536.5,175.4h.8M539.4,169.1h.8M539.0,171.8h.8M535.7,174.5h.8M538.2,170.6h.8M534.7,175.7h.8M532.2,170.4h.8M533.7,169.7h.8M533.7,168.8h.8M534.0,174.7h.8M530.2,173.1h.8M533.5,171.3h.8M538.9,172.9h.8M536.5,165.9h.8M536.2,170.2h.8M535.8,172.1h.8M534.5,175.7h.8M532.1,168.1h.8M535.0,172.6h.8M534.5,175.2h.8M543.1,170.2h.8M533.4,169.4h.8M529.2,166.7h.8M538.1,172.0h.8M534.6,170.6h.8M533.0,169.1h.8M532.8,174.8h.8M535.2,179.7h.8M533.7,171.0h.8M537.5,167.2h.8M534.9,170.5h.8M533.2,173.0h.8M535.2,172.3h.8M531.3,171.5h.8M532.2,173.2h.8M537.3,168.4h.8M533.0,175.0h.8M534.8,170.0h.8M534.2,170.7h.8M536.5,172.0h.8M534.9,171.6h.8M538.7,169.8h.8M536.0,171.2h.8M532.4,172.4h.8M536.2,167.9h.8M530.2,177.9h.8M537.5,174.0h.8M536.0,173.6h.8M535.0,175.9h.8M533.1,173.9h.8M536.1,174.8h.8M535.0,169.2h.8M537.1,166.9h.8M534.1,166.2h.8M535.8,167.7h.8M537.2,168.6h.8M535.1,170.7h.8M529.9,171.9h.8M531.6,171.1h.8M533.5,170.5h.8M534.9,177.5h.8M533.4,174.8h.8M532.9,171.7h.8M535.7,172.7h.8M539.3,174.4h.8M536.3,172.3h.8M535.3,172.7h.8M533.6,175.9h.8M534.2,173.8h.8M537.2,176.5h.8M534.4,173.8h.8M534.6,169.3h.8M538.8,168.7h.8M534.5,172.7h.8M537.5,168.2h.8M537.3,177.1h.8M532.8,173.4h.8M536.3,171.8h.8M538.1,172.4h.8M533.1,169.2h.8M532.2,168.7h.8M536.1,166.1h.8M535.8,172.8h.8M531.3,170.7h.8M529.4,170.7h.8M538.2,170.9h.8M532.1,169.2h.8M533.8,174.0h.8M538.6,170.7h.8M537.3,171.2h.8M534.0,177.6h.8M533.9,171.4h.8M527.3,170.1h.8M536.9,174.5h.8M534.1,171.4h.8M532.6,174.4h.8M533.8,169.5h.8M535.6,170.7h.8M527.4,172.0h.8M534.9,171.7h.8M529.0,166.7h.8M533.3,172.9h.8M537.4,171.0h.8M534.7,169.9h.8M536.3,175.7h.8M531.2,169.3h.8M529.0,168.3h.8M531.4,171.2h.8M533.1,171.4h.8M534.3,164.0h.8M532.3,167.2h.8M533.6,163.6h.8M530.5,169.1h.8" stroke="#2a3cf2" stroke-width="0.8" opacity="0.8"/>
<ellipse cx="519.6" cy="184" rx="11" ry="7" transform="rotate(-45 519.6 184)" fill="url(#fcore)"/>
<line x1="527.4" y1="138" x2="527.4" y2="219.5" stroke="#7d7d7d" stroke-width="0.8" />
<line x1="482.6" y1="167.4" x2="564" y2="167.4" stroke="#7d7d7d" stroke-width="0.8" />
<line x1="376.3" y1="204.7" x2="376.3" y2="228.8" stroke="#000" stroke-width="1.3" />
<line x1="376.3" y1="228.2" x2="400.7" y2="228.2" stroke="#000" stroke-width="1.3" />
<path d="M376.3,200.7 L373.3,207.2 L379.3,207.2 Z" fill="#000" />
<path d="M404.7,228.2 L398.2,225.2 L398.2,231.2 Z" fill="#000" />
<text transform="translate(374.7,194.7) rotate(-90)" y="2.2" font-size="6.3" text-anchor="middle">PI</text>
<text x="408" y="231.96" font-size="7.9">Annexin v FITC</text>
<line x1="586.1" y1="151" x2="586.1" y2="209.2" stroke="#000" stroke-width="0.8" />
<line x1="586.1" y1="209.2" x2="675.7" y2="209.2" stroke="#000" stroke-width="0.8" />
<line x1="584.6" y1="209.2" x2="586.1" y2="209.2" stroke="#000" stroke-width="0.7" />
<text x="583.9" y="211.02" font-size="5.2" text-anchor="end">0</text>
<line x1="584.6" y1="194.65" x2="586.1" y2="194.65" stroke="#000" stroke-width="0.7" />
<text x="583.9" y="196.47" font-size="5.2" text-anchor="end">5</text>
<line x1="584.6" y1="180.1" x2="586.1" y2="180.1" stroke="#000" stroke-width="0.7" />
<text x="583.9" y="181.92" font-size="5.2" text-anchor="end">10</text>
<line x1="584.6" y1="165.55" x2="586.1" y2="165.55" stroke="#000" stroke-width="0.7" />
<text x="583.9" y="167.37" font-size="5.2" text-anchor="end">15</text>
<line x1="584.6" y1="151" x2="586.1" y2="151" stroke="#000" stroke-width="0.7" />
<text x="583.9" y="152.82" font-size="5.2" text-anchor="end">20</text>
<rect x="599.3" y="178.64" width="25.4" height="30.56" fill="#94afcb" />
<rect x="637.3" y="164.39" width="25.1" height="44.81" fill="#eba3a2" />
<line x1="612" y1="209.2" x2="612" y2="210.7" stroke="#000" stroke-width="0.7" />
<line x1="612" y1="176.11" x2="612" y2="180.6" stroke="#3f6d9c" stroke-width="0.7" />
<line x1="609" y1="176.11" x2="615" y2="176.11" stroke="#3f6d9c" stroke-width="0.7" />
<line x1="609" y1="180.6" x2="615" y2="180.6" stroke="#3f6d9c" stroke-width="0.7" />
<line x1="608" y1="178.64" x2="616" y2="178.64" stroke="#3f6d9c" stroke-width="0.7" />
<circle cx="608" cy="176.61" r="1.9" fill="#3f6d9c" />
<circle cx="612" cy="180.1" r="1.9" fill="#3f6d9c" />
<circle cx="616" cy="179.23" r="1.9" fill="#3f6d9c" />
<line x1="649.85" y1="209.2" x2="649.85" y2="210.7" stroke="#000" stroke-width="0.7" />
<line x1="649.85" y1="163.59" x2="649.85" y2="165.18" stroke="#e2504a" stroke-width="0.7" />
<line x1="646.85" y1="163.59" x2="652.85" y2="163.59" stroke="#e2504a" stroke-width="0.7" />
<line x1="646.85" y1="165.18" x2="652.85" y2="165.18" stroke="#e2504a" stroke-width="0.7" />
<line x1="645.85" y1="164.39" x2="653.85" y2="164.39" stroke="#e2504a" stroke-width="0.7" />
<circle cx="645.85" cy="164.09" r="1.9" fill="#e2504a" />
<circle cx="649.85" cy="164.68" r="1.9" fill="#e2504a" />
<circle cx="653.85" cy="164.39" r="1.9" fill="#e2504a" />
<path d="M611.9,158 V155.8 H649.8 V158" fill="none" stroke="#111" stroke-width="0.9" />
<text x="630.9" y="154.81" font-size="4.6" text-anchor="middle" font-weight="bold">*</text>
<text transform="translate(574.7,180.1) rotate(-90)" y="2.24" font-size="6.4" text-anchor="middle">Cell apoptosis rate (%)</text>
<text transform="translate(613.1,219.5) rotate(-45)" y="3.5" font-size="10" text-anchor="end">Ctrl</text>
<text transform="translate(652,218) rotate(-45)" y="3.5" font-size="10" text-anchor="end">TRIM35</text>
<text x="429" y="243.8" font-size="10.3" text-anchor="middle">Ctrl</text>
<text x="525.9" y="243.6" font-size="10.3" text-anchor="middle">TRIM35</text>
<rect x="386.5" y="246.3" width="81.3" height="2.2" fill="#e6e6e6" />
<rect x="462.8" y="246.3" width="3.5" height="2.2" fill="#cfcfcf" />
<rect x="468.6" y="249.5" width="1.6" height="81.8" fill="#ececec" />
<rect x="468.6" y="279.77" width="1.6" height="3" fill="#bdbdbd" />
<rect x="386.5" y="249.5" width="81.3" height="81.8" fill="#fff" stroke="#8a8a8a" stroke-width="0.7" />
<line x1="385.3" y1="331.3" x2="386.5" y2="331.3" stroke="#888" stroke-width="0.5" />
<text transform="translate(383.3,331.3) rotate(-90)" y="0.98" font-size="2.8" text-anchor="middle" fill="#555">10</text>
<line x1="385.3" y1="317.67" x2="386.5" y2="317.67" stroke="#888" stroke-width="0.5" />
<text transform="translate(383.3,317.67) rotate(-90)" y="0.98" font-size="2.8" text-anchor="middle" fill="#555">10</text>
<line x1="385.3" y1="304.03" x2="386.5" y2="304.03" stroke="#888" stroke-width="0.5" />
<text transform="translate(383.3,304.03) rotate(-90)" y="0.98" font-size="2.8" text-anchor="middle" fill="#555">10</text>
<line x1="385.3" y1="290.4" x2="386.5" y2="290.4" stroke="#888" stroke-width="0.5" />
<text transform="translate(383.3,290.4) rotate(-90)" y="0.98" font-size="2.8" text-anchor="middle" fill="#555">10</text>
<line x1="385.3" y1="276.77" x2="386.5" y2="276.77" stroke="#888" stroke-width="0.5" />
<text transform="translate(383.3,276.77) rotate(-90)" y="0.98" font-size="2.8" text-anchor="middle" fill="#555">10</text>
<line x1="385.3" y1="263.13" x2="386.5" y2="263.13" stroke="#888" stroke-width="0.5" />
<text transform="translate(383.3,263.13) rotate(-90)" y="0.98" font-size="2.8" text-anchor="middle" fill="#555">10</text>
<line x1="385.3" y1="249.5" x2="386.5" y2="249.5" stroke="#888" stroke-width="0.5" />
<text transform="translate(383.3,249.5) rotate(-90)" y="0.98" font-size="2.8" text-anchor="middle" fill="#555">10</text>
<line x1="386.5" y1="331.3" x2="386.5" y2="332.5" stroke="#888" stroke-width="0.5" />
<text x="386.5" y="335.48" font-size="2.8" text-anchor="middle" fill="#555">10</text>
<line x1="400.05" y1="331.3" x2="400.05" y2="332.5" stroke="#888" stroke-width="0.5" />
<text x="400.05" y="335.48" font-size="2.8" text-anchor="middle" fill="#555">10</text>
<line x1="413.6" y1="331.3" x2="413.6" y2="332.5" stroke="#888" stroke-width="0.5" />
<text x="413.6" y="335.48" font-size="2.8" text-anchor="middle" fill="#555">10</text>
<line x1="427.15" y1="331.3" x2="427.15" y2="332.5" stroke="#888" stroke-width="0.5" />
<text x="427.15" y="335.48" font-size="2.8" text-anchor="middle" fill="#555">10</text>
<line x1="440.7" y1="331.3" x2="440.7" y2="332.5" stroke="#888" stroke-width="0.5" />
<text x="440.7" y="335.48" font-size="2.8" text-anchor="middle" fill="#555">10</text>
<line x1="454.25" y1="331.3" x2="454.25" y2="332.5" stroke="#888" stroke-width="0.5" />
<text x="454.25" y="335.48" font-size="2.8" text-anchor="middle" fill="#555">10</text>
<line x1="467.8" y1="331.3" x2="467.8" y2="332.5" stroke="#888" stroke-width="0.5" />
<text x="467.8" y="335.48" font-size="2.8" text-anchor="middle" fill="#555">10</text>
<text x="388.5" y="253.09" font-size="3.1" fill="#333">Q3-1</text>
<text x="388.5" y="256.38" font-size="3.1" fill="#333">0.02%</text>
<text x="465.8" y="253.09" font-size="3.1" text-anchor="end" fill="#333">Q3-2</text>
<text x="465.8" y="256.38" font-size="3.1" text-anchor="end" fill="#333">4.90%</text>
<text x="388.5" y="326.88" font-size="3.1" fill="#333">Q3-3</text>
<text x="388.5" y="330.19" font-size="3.1" fill="#333">87.17%</text>
<text x="465.8" y="326.88" font-size="3.1" text-anchor="end" fill="#333">Q3-4</text>
<text x="465.8" y="330.19" font-size="3.1" text-anchor="end" fill="#333">7.90%</text>
<path d="M427.8,284.4h.8M412.4,292.7h.8M425.3,284.3h.8M419.4,280.1h.8M426.4,275.9h.8M424.3,291.8h.8M417.9,296.5h.8M397.5,301.4h.8M425.3,286.4h.8M432.6,282.8h.8M423.2,282.7h.8M405.6,292.4h.8M423.1,284.1h.8M419.3,298.2h.8M439.6,277.2h.8M419.5,288.9h.8M445.5,287.0h.8M434.6,275.5h.8M435.6,285.2h.8M420.2,278.7h.8M426.4,291.1h.8M423.5,293.3h.8M429.8,280.9h.8M417.5,288.2h.8M422.3,302.0h.8M445.9,271.8h.8M437.3,275.8h.8M420.7,287.3h.8M421.6,297.8h.8M424.6,291.0h.8M421.9,274.2h.8M419.3,300.3h.8M428.2,279.9h.8M436.2,282.4h.8M429.3,283.5h.8M410.4,298.2h.8M410.4,297.4h.8M422.0,292.0h.8M434.5,265.1h.8M426.2,282.9h.8M413.5,288.4h.8M432.9,286.6h.8M412.0,300.4h.8M419.6,285.5h.8M420.5,299.2h.8M427.4,284.2h.8M427.1,275.9h.8M427.6,304.5h.8M428.1,290.4h.8M437.7,297.2h.8M423.4,288.1h.8M418.2,289.8h.8M424.4,286.0h.8M429.0,272.5h.8M432.1,277.1h.8M423.3,284.3h.8M430.0,288.4h.8M423.7,280.9h.8M426.0,295.4h.8M432.1,286.5h.8M414.3,300.0h.8M412.1,297.4h.8M420.4,291.3h.8M428.6,274.4h.8M433.2,297.8h.8M425.8,296.2h.8M424.9,274.5h.8M427.2,279.8h.8M425.9,280.7h.8M418.0,286.8h.8M427.1,294.9h.8M418.3,280.7h.8M430.5,296.5h.8M433.0,277.3h.8M430.7,285.5h.8M421.5,277.3h.8M416.8,289.7h.8M430.9,288.6h.8M423.5,283.9h.8M413.4,289.2h.8M411.4,291.3h.8M428.2,281.9h.8M421.9,296.9h.8M407.9,304.5h.8M421.3,286.3h.8M431.5,279.1h.8M417.9,286.1h.8M424.6,287.9h.8M411.3,292.2h.8M411.5,284.7h.8M420.1,296.2h.8M428.2,289.9h.8M418.3,303.4h.8M419.4,294.9h.8M429.2,277.5h.8M423.6,281.9h.8M410.7,306.7h.8M424.7,296.1h.8M430.9,286.8h.8M412.6,292.3h.8M420.7,293.6h.8M409.5,295.3h.8M419.0,281.4h.8M438.4,268.3h.8M425.1,293.7h.8M437.8,276.2h.8M428.3,281.9h.8M398.7,312.4h.8M425.0,285.7h.8M422.6,287.7h.8M414.5,292.8h.8M420.1,290.8h.8M436.1,274.4h.8M415.3,293.9h.8M413.0,297.8h.8M439.5,281.5h.8M427.1,292.4h.8M424.5,285.0h.8M427.1,287.5h.8M414.0,305.7h.8M418.0,287.6h.8M405.1,298.2h.8M425.9,300.2h.8M434.1,275.4h.8M416.5,293.6h.8M435.0,289.1h.8M437.7,281.6h.8M433.0,283.9h.8M415.2,302.0h.8M420.2,291.1h.8M416.2,304.3h.8M428.5,286.9h.8M418.9,289.8h.8M406.5,289.4h.8M417.5,291.8h.8M419.3,284.9h.8M424.5,294.2h.8M423.9,283.5h.8M415.1,280.5h.8M424.5,276.6h.8M429.9,274.1h.8M416.5,282.5h.8M421.3,289.9h.8M431.1,273.6h.8M417.8,297.0h.8M413.2,289.7h.8M421.8,290.4h.8M421.6,294.9h.8M433.6,286.9h.8M427.0,289.4h.8M427.1,295.7h.8M439.7,285.8h.8M417.2,298.6h.8M428.1,290.4h.8M414.5,301.8h.8M419.9,298.1h.8M444.7,284.5h.8M422.8,286.6h.8M422.9,292.5h.8M433.2,281.0h.8M413.3,302.3h.8M428.8,286.9h.8M419.5,291.6h.8M420.3,291.2h.8M431.8,285.8h.8M407.6,294.3h.8M430.5,288.3h.8M414.1,298.4h.8M424.0,284.6h.8M428.9,287.2h.8M427.6,297.2h.8M421.0,295.4h.8M437.6,285.5h.8M434.5,270.8h.8M423.1,294.3h.8M424.5,284.9h.8M436.7,289.8h.8M419.9,288.6h.8M429.3,279.7h.8M422.6,287.5h.8M413.7,285.0h.8M429.5,279.8h.8M420.5,292.4h.8M426.9,284.9h.8M428.1,267.9h.8M436.3,285.5h.8M431.6,285.0h.8M416.7,280.1h.8M417.4,306.0h.8M416.8,289.5h.8M429.4,298.8h.8M424.7,282.6h.8M433.1,278.5h.8M435.0,282.2h.8M426.2,276.8h.8M424.0,291.4h.8M436.3,282.0h.8M417.8,294.3h.8M425.0,280.1h.8M419.0,289.3h.8M422.7,298.9h.8M445.2,273.1h.8M412.2,297.7h.8M416.2,290.4h.8M410.8,310.7h.8M431.0,279.3h.8M411.9,288.6h.8M433.5,281.7h.8M430.3,277.2h.8M418.5,300.2h.8M430.1,291.0h.8M415.0,301.5h.8M429.2,282.3h.8M427.0,305.4h.8M431.0,283.7h.8M430.7,282.9h.8M419.9,291.3h.8M421.2,296.0h.8M426.4,304.0h.8M427.6,276.7h.8M421.8,294.4h.8M438.8,269.7h.8M426.3,296.5h.8M431.6,270.9h.8M415.5,291.8h.8M418.8,296.7h.8M433.4,281.7h.8M425.2,299.4h.8M429.4,285.0h.8M407.2,289.2h.8M421.5,295.7h.8M428.4,286.7h.8M423.0,286.6h.8M424.5,295.9h.8M418.0,286.6h.8M418.2,282.1h.8M428.7,291.4h.8M426.8,287.4h.8M421.7,292.6h.8M427.8,278.0h.8M426.1,284.8h.8M426.3,280.6h.8M430.1,288.0h.8M428.6,274.7h.8M446.0,290.2h.8M427.8,283.2h.8M399.7,303.1h.8M412.3,304.2h.8M421.5,282.4h.8M425.1,292.5h.8M412.4,302.1h.8M434.4,289.1h.8M447.0,288.2h.8M422.1,294.0h.8M423.6,286.3h.8M435.0,282.4h.8M417.8,304.2h.8M425.6,294.2h.8M422.8,291.3h.8M420.8,284.6h.8M432.9,290.6h.8M421.2,296.0h.8M417.3,289.1h.8M429.7,280.5h.8M439.3,280.9h.8M420.0,283.4h.8M426.9,290.8h.8M414.6,289.8h.8M422.5,274.2h.8M438.0,272.6h.8M424.5,294.9h.8M413.5,283.8h.8M425.9,291.8h.8M421.6,287.7h.8M422.3,296.1h.8M414.4,287.0h.8M422.2,286.0h.8M436.5,291.6h.8M432.3,289.5h.8M429.2,298.5h.8M429.5,281.4h.8M412.4,290.1h.8M412.7,288.5h.8M414.3,279.4h.8M413.8,294.6h.8M420.6,302.3h.8M421.1,293.5h.8M414.2,294.6h.8M433.2,272.8h.8M410.7,285.4h.8M405.6,293.2h.8M427.1,293.1h.8M424.5,288.1h.8M429.9,277.3h.8M418.2,286.8h.8M426.5,294.5h.8M419.8,301.0h.8M427.8,287.9h.8M435.7,288.1h.8M423.3,286.0h.8M424.0,285.4h.8M409.1,314.3h.8M418.6,293.4h.8M424.4,269.7h.8M420.3,293.8h.8M432.9,283.9h.8M433.4,280.0h.8M421.9,285.6h.8M436.7,274.4h.8M413.6,287.8h.8M431.7,287.4h.8M413.6,299.7h.8M423.2,295.1h.8M423.3,283.1h.8M433.7,277.3h.8M422.0,300.9h.8M411.5,296.3h.8M414.4,303.6h.8M416.3,299.9h.8M422.2,293.4h.8M432.7,273.1h.8M425.8,295.3h.8M429.6,285.4h.8M428.2,293.5h.8M426.2,283.8h.8M428.6,283.1h.8M430.2,291.0h.8M431.1,278.8h.8M437.9,276.9h.8M417.7,286.3h.8M419.0,289.3h.8M424.4,289.5h.8M407.0,302.5h.8M430.6,293.3h.8M441.4,287.8h.8M413.0,280.9h.8M433.8,284.3h.8M426.6,278.6h.8M400.6,311.4h.8M418.6,281.5h.8M430.3,292.7h.8M412.9,283.0h.8M416.4,280.8h.8M434.2,284.4h.8M428.8,281.7h.8M427.6,282.8h.8M414.8,289.7h.8M426.4,288.4h.8M426.3,290.0h.8M424.8,288.8h.8M407.5,291.1h.8M427.1,287.3h.8M407.0,294.4h.8M424.1,280.7h.8M420.8,285.2h.8M420.5,291.7h.8M426.7,268.4h.8M430.5,292.5h.8M425.4,284.0h.8M421.2,298.8h.8M442.0,269.2h.8M418.4,289.8h.8M420.6,304.8h.8M415.8,289.2h.8M430.7,279.1h.8M443.5,280.1h.8M410.0,290.0h.8M430.6,282.1h.8M430.5,287.0h.8M441.1,275.0h.8M432.3,281.6h.8M425.8,297.9h.8M423.1,290.6h.8M424.2,300.5h.8M421.5,304.1h.8M435.6,279.4h.8M415.7,289.6h.8M424.1,283.4h.8M432.6,281.0h.8M408.4,300.8h.8M426.2,288.5h.8M414.6,292.9h.8M418.9,280.4h.8M419.6,303.2h.8M425.6,283.1h.8M417.2,286.5h.8M419.6,283.6h.8M421.9,288.3h.8M432.9,288.2h.8M434.2,283.8h.8M434.8,285.9h.8M407.5,304.5h.8M403.8,292.3h.8M414.8,307.7h.8M429.2,278.0h.8M412.7,286.6h.8M440.5,280.2h.8M421.4,289.1h.8M429.7,283.7h.8M433.5,288.3h.8M429.3,295.3h.8M421.2,283.6h.8M412.2,292.2h.8M426.1,307.9h.8M419.0,295.2h.8M427.2,279.6h.8M418.9,300.3h.8M428.7,282.9h.8M421.5,301.3h.8M428.9,285.2h.8M427.6,293.3h.8M418.7,300.2h.8M413.5,293.1h.8M426.1,286.7h.8M402.0,320.5h.8M430.4,286.3h.8M436.1,293.3h.8M414.3,292.9h.8M404.9,281.9h.8M423.4,278.1h.8M444.3,269.5h.8M432.3,286.8h.8M440.3,278.0h.8M416.7,292.2h.8M418.5,287.9h.8M419.6,296.4h.8M424.8,287.7h.8M421.1,296.5h.8M448.0,264.8h.8M428.0,296.7h.8M412.4,291.8h.8M417.9,280.3h.8M421.2,293.8h.8M422.5,282.5h.8M413.9,289.2h.8M422.5,289.6h.8M417.1,287.8h.8M441.2,272.5h.8M417.6,308.3h.8M425.2,283.1h.8M425.2,282.4h.8M418.1,284.9h.8M431.9,285.4h.8M417.0,287.6h.8M433.9,281.5h.8M430.9,282.3h.8M416.8,299.2h.8M429.2,297.8h.8M426.2,282.7h.8M430.0,274.3h.8M416.1,296.1h.8M435.3,274.1h.8M425.8,287.0h.8M432.9,280.2h.8M425.1,286.1h.8M427.3,298.5h.8M408.3,295.8h.8M438.6,273.6h.8M424.9,283.4h.8M418.3,288.3h.8M434.0,284.0h.8M409.8,296.6h.8M417.5,292.2h.8M415.0,289.1h.8M442.8,279.2h.8M430.7,280.8h.8M426.1,295.0h.8M432.1,298.6h.8M433.3,275.8h.8M419.5,281.7h.8M423.9,284.6h.8M435.1,286.7h.8M422.8,296.0h.8M423.0,286.7h.8M438.6,278.3h.8M426.1,289.5h.8M432.1,279.8h.8M429.2,277.0h.8M413.8,286.0h.8M424.8,279.8h.8M418.6,290.9h.8M420.0,288.0h.8M418.0,286.5h.8M412.8,292.5h.8M433.8,285.1h.8M422.7,281.0h.8M426.4,274.0h.8M429.9,282.0h.8M435.1,281.9h.8M422.6,288.2h.8M423.6,275.5h.8M431.4,275.6h.8M425.1,276.2h.8M426.0,283.8h.8M421.3,273.2h.8M432.0,279.5h.8M436.6,282.3h.8M434.3,277.1h.8M420.1,287.3h.8M425.4,284.3h.8M416.0,301.5h.8M435.9,283.1h.8M406.8,299.1h.8M424.6,272.5h.8M433.8,279.8h.8M429.6,293.7h.8M426.6,297.0h.8M426.0,297.3h.8M419.7,292.3h.8M418.4,288.2h.8M425.0,291.4h.8M425.8,295.0h.8M433.0,283.4h.8M426.6,290.2h.8M427.1,273.5h.8M429.4,288.3h.8M410.8,295.4h.8M430.9,275.8h.8M427.6,302.8h.8M436.8,275.9h.8M429.4,273.5h.8M424.9,282.3h.8M432.0,288.9h.8M407.7,297.3h.8M430.6,287.2h.8M446.1,286.9h.8M425.0,292.5h.8M416.7,297.9h.8M415.7,284.3h.8M426.1,283.2h.8M431.7,283.0h.8M426.4,275.2h.8M430.9,289.6h.8M423.5,288.9h.8M438.9,272.0h.8M437.1,279.1h.8M425.4,294.4h.8M414.8,285.8h.8M426.8,288.8h.8M425.5,285.0h.8M426.5,294.5h.8M429.8,278.5h.8M438.2,279.4h.8M428.8,294.7h.8M422.8,280.5h.8M405.7,300.6h.8M425.9,286.3h.8M426.9,285.0h.8M415.3,287.0h.8M431.8,294.8h.8M428.9,279.6h.8M420.8,295.3h.8M421.5,286.2h.8M421.2,288.4h.8M435.9,276.7h.8M427.3,286.1h.8M428.6,276.5h.8M432.2,281.5h.8M418.1,287.1h.8M429.2,283.2h.8M425.1,283.9h.8M435.6,278.8h.8M431.7,287.9h.8M418.7,295.4h.8M410.8,298.6h.8M424.8,291.8h.8M417.9,283.3h.8M416.0,297.0h.8M429.2,281.5h.8M407.3,299.1h.8M427.8,285.3h.8M419.3,291.0h.8M413.6,293.5h.8M428.8,294.0h.8M421.3,298.4h.8M424.1,283.8h.8M421.7,290.7h.8M413.6,291.5h.8M445.5,282.0h.8M422.0,292.5h.8M417.4,300.2h.8M420.0,278.2h.8M422.9,279.1h.8M440.0,277.3h.8M427.9,291.0h.8M407.5,296.7h.8M419.6,292.6h.8M421.8,288.2h.8M432.2,282.4h.8M421.9,290.3h.8M423.2,292.5h.8M421.7,278.0h.8M415.0,296.5h.8M422.6,286.8h.8M417.7,288.1h.8M437.1,283.1h.8M414.6,295.4h.8M427.4,297.5h.8M428.0,290.9h.8M418.0,290.6h.8M410.0,292.4h.8M422.0,289.7h.8M427.5,292.0h.8M429.2,300.1h.8M434.8,283.4h.8M439.0,271.8h.8M431.3,278.4h.8M426.8,285.1h.8M435.8,285.8h.8M422.8,293.0h.8M421.3,284.6h.8M428.9,288.9h.8M416.4,303.8h.8M428.2,279.8h.8M419.4,282.8h.8M407.2,287.8h.8M410.9,288.0h.8M415.1,292.2h.8M430.6,294.5h.8M424.1,293.2h.8M421.4,290.2h.8M421.7,282.3h.8M440.4,282.0h.8M417.3,282.9h.8M435.8,277.8h.8M432.8,286.0h.8M432.8,289.8h.8M418.1,296.7h.8M419.7,297.6h.8M422.9,290.4h.8M426.0,291.4h.8M430.8,271.0h.8M436.7,288.1h.8M419.9,290.6h.8M420.5,289.2h.8M418.4,292.1h.8M407.2,298.2h.8M429.1,284.9h.8M417.4,303.9h.8M433.9,279.8h.8M426.5,289.9h.8M414.9,285.6h.8M428.7,286.7h.8M439.0,285.1h.8M429.9,276.7h.8M413.8,284.9h.8M407.7,293.6h.8M426.2,292.2h.8M415.2,296.8h.8M409.1,295.8h.8M428.5,272.0h.8M431.4,283.9h.8M425.1,297.3h.8M429.4,285.6h.8M436.8,285.9h.8M428.9,292.5h.8M423.5,289.4h.8M427.7,276.3h.8M438.2,282.2h.8M426.0,281.4h.8M419.1,297.1h.8M434.8,287.8h.8M440.5,281.7h.8M432.8,293.4h.8M429.9,284.3h.8M406.9,298.0h.8M418.1,288.1h.8M430.2,276.0h.8M429.4,286.8h.8M422.5,285.5h.8M429.3,287.8h.8M443.7,281.4h.8M422.3,305.1h.8M433.6,285.3h.8M422.3,292.4h.8M442.9,280.5h.8M426.8,282.5h.8M430.2,275.5h.8M424.4,287.9h.8M430.0,282.9h.8M415.8,300.6h.8M425.7,287.4h.8M427.3,280.6h.8M418.7,302.6h.8M441.5,281.9h.8M425.3,292.6h.8M436.1,284.4h.8M422.1,294.3h.8M413.1,280.8h.8M417.6,297.1h.8M421.7,284.8h.8M426.0,276.0h.8M421.6,295.3h.8M416.7,286.3h.8M411.1,288.7h.8M432.1,281.6h.8M430.3,289.8h.8M430.5,282.0h.8M428.7,294.6h.8M429.0,284.3h.8M419.4,283.4h.8M434.3,288.8h.8M421.2,281.8h.8M437.4,290.4h.8M420.4,297.5h.8M418.4,284.2h.8M411.8,290.0h.8M439.0,281.9h.8M428.5,271.7h.8M436.8,272.9h.8M422.2,285.9h.8M424.7,280.9h.8M423.9,291.4h.8M429.7,281.0h.8M420.9,294.4h.8M423.9,284.6h.8M423.4,270.6h.8M423.2,290.8h.8M430.8,288.7h.8M422.1,297.1h.8M426.9,278.5h.8M408.0,290.3h.8M418.7,290.2h.8M420.8,288.5h.8M432.3,277.6h.8M437.0,281.1h.8M421.9,288.2h.8M422.6,277.1h.8M424.1,296.9h.8M422.0,295.2h.8M420.6,290.7h.8M415.5,287.5h.8M429.7,286.4h.8M416.9,296.8h.8M435.5,286.1h.8M421.9,289.0h.8M430.1,285.2h.8M422.3,301.7h.8M436.4,278.5h.8M417.7,296.8h.8M423.0,292.2h.8M428.0,285.9h.8M445.2,276.7h.8M426.0,282.5h.8M426.3,288.0h.8M432.0,288.3h.8M433.2,289.0h.8M428.1,290.2h.8M423.3,293.4h.8M423.0,290.6h.8M450.4,262.1h.8M424.3,285.9h.8M445.1,274.9h.8M456.2,262.3h.8M434.3,276.3h.8M429.8,279.6h.8M448.2,269.3h.8M450.6,257.6h.8M446.6,266.6h.8M427.7,291.2h.8M448.0,261.4h.8M449.7,268.2h.8M429.1,285.5h.8M437.1,286.2h.8M434.4,281.8h.8M445.6,263.6h.8M449.4,266.0h.8M433.5,283.4h.8M438.0,265.7h.8M432.4,287.9h.8M438.4,279.4h.8M419.9,289.9h.8M446.1,272.1h.8M448.6,268.8h.8M439.5,272.1h.8M437.8,279.4h.8M439.2,267.7h.8M427.4,295.0h.8M428.8,276.3h.8M443.0,270.9h.8M436.7,272.4h.8M445.9,267.7h.8M432.9,282.8h.8M451.0,266.5h.8M450.0,277.0h.8M446.4,270.1h.8M423.3,285.8h.8M441.8,273.3h.8M442.8,270.2h.8M433.4,271.6h.8M431.7,283.1h.8M432.9,279.0h.8M429.6,284.6h.8M432.2,280.9h.8M436.0,276.8h.8M443.3,278.9h.8M446.4,258.6h.8M441.9,268.2h.8M439.9,270.0h.8M435.9,278.3h.8M446.5,267.3h.8M446.7,268.7h.8M447.5,274.2h.8M437.1,287.7h.8M441.3,275.0h.8M437.8,275.8h.8M450.2,272.9h.8M434.6,283.6h.8M448.0,265.2h.8M425.9,282.2h.8M453.9,275.0h.8M443.2,263.6h.8M438.8,276.5h.8M437.0,275.6h.8M430.9,278.6h.8M433.9,272.4h.8M441.0,275.8h.8M435.8,269.0h.8M431.9,281.4h.8M421.5,291.2h.8M449.5,267.7h.8M444.0,267.5h.8M443.8,262.4h.8M428.7,270.9h.8M429.2,285.6h.8M453.2,270.2h.8M440.2,269.9h.8M426.5,293.7h.8M431.9,277.7h.8M440.2,272.9h.8M438.9,270.2h.8M419.7,287.5h.8M451.2,263.8h.8M443.8,278.9h.8M448.3,265.3h.8M441.9,273.4h.8M445.3,278.7h.8M429.2,287.3h.8M434.1,279.9h.8M448.9,258.6h.8M445.4,272.3h.8M441.2,270.0h.8M437.3,277.0h.8M447.4,281.1h.8M444.5,267.9h.8M438.5,279.0h.8M443.0,277.2h.8M434.8,272.6h.8M442.5,274.9h.8M442.9,271.8h.8M432.4,285.6h.8M430.9,276.5h.8M439.1,280.7h.8M432.4,283.8h.8M440.4,267.9h.8M442.3,276.8h.8M443.4,272.5h.8M428.8,283.3h.8M438.3,271.8h.8M427.5,288.3h.8M441.8,268.5h.8M433.2,277.3h.8M423.9,287.6h.8M438.3,279.1h.8M432.9,280.7h.8M439.5,273.7h.8M440.3,271.9h.8M444.5,265.8h.8M433.5,280.8h.8M434.7,286.7h.8M433.1,275.5h.8M447.2,272.0h.8M430.4,287.2h.8M445.5,262.8h.8M430.2,284.6h.8M444.8,270.8h.8M440.3,272.8h.8M438.2,273.6h.8M443.2,263.1h.8M436.9,264.6h.8M436.0,270.7h.8M439.3,270.4h.8M450.5,266.1h.8M427.8,282.6h.8M443.2,275.0h.8M453.6,263.1h.8M438.6,272.3h.8M437.3,276.0h.8M431.6,277.7h.8M440.8,271.3h.8M452.0,263.0h.8M448.4,263.9h.8M425.4,284.3h.8M451.7,265.5h.8M437.5,274.7h.8M424.3,284.4h.8M436.2,276.6h.8M440.4,270.2h.8M454.0,266.3h.8M430.8,285.9h.8M419.6,285.9h.8M430.9,276.4h.8M452.5,263.6h.8M440.1,284.7h.8M444.1,267.3h.8M446.1,266.7h.8M455.0,261.5h.8M453.9,266.3h.8M443.7,265.5h.8M440.4,276.5h.8M429.7,272.6h.8M425.9,282.4h.8M449.5,269.4h.8M438.0,275.9h.8M433.6,279.7h.8M427.1,284.5h.8M433.8,272.0h.8M449.0,266.4h.8M449.2,264.7h.8M427.3,282.1h.8M448.7,258.3h.8M440.0,270.1h.8M454.8,261.9h.8M435.5,272.0h.8M428.9,287.7h.8M422.8,291.7h.8M435.8,283.0h.8M426.7,279.1h.8M431.8,283.8h.8M434.8,283.7h.8M452.4,263.3h.8M442.4,282.4h.8M438.8,275.4h.8M444.1,262.7h.8M441.7,276.1h.8M439.6,271.9h.8M437.3,270.4h.8M435.6,267.6h.8M435.0,282.2h.8M443.2,262.6h.8M447.2,259.6h.8M438.9,275.4h.8M449.5,266.2h.8M425.2,287.1h.8M442.3,274.6h.8M436.7,269.2h.8M437.4,270.0h.8M421.7,286.2h.8M426.3,282.8h.8M445.3,265.2h.8M427.2,289.9h.8M440.3,269.3h.8M443.1,266.0h.8M444.9,273.0h.8M425.2,285.3h.8M446.3,270.4h.8M429.7,282.4h.8M428.0,285.7h.8M447.2,259.2h.8M445.2,281.0h.8M439.8,271.9h.8M440.4,275.4h.8M456.9,265.4h.8M440.8,281.5h.8M442.8,270.1h.8M428.9,290.0h.8M429.4,281.6h.8M421.7,279.0h.8M449.3,260.8h.8M443.6,270.7h.8M452.8,265.1h.8M429.9,275.9h.8M441.1,275.0h.8M431.9,276.2h.8M425.3,287.6h.8M438.7,281.1h.8M420.7,289.0h.8M444.5,270.4h.8M434.6,278.5h.8M422.4,289.3h.8M450.3,267.4h.8M436.8,275.4h.8M439.8,274.6h.8M434.3,277.0h.8M435.9,276.5h.8M427.8,280.1h.8M452.5,265.2h.8M453.1,264.0h.8M448.1,263.5h.8M442.2,273.3h.8M448.1,267.7h.8M446.8,273.6h.8M430.6,277.3h.8M428.1,283.9h.8M448.9,272.1h.8M452.5,268.5h.8M446.3,259.6h.8M436.8,277.8h.8M438.9,274.7h.8M441.5,266.1h.8M433.5,279.8h.8M449.5,258.1h.8M438.5,272.0h.8M450.4,259.7h.8M439.3,277.5h.8M433.8,274.6h.8M444.0,271.2h.8M429.7,282.7h.8M425.1,285.1h.8M426.5,291.3h.8M455.3,270.4h.8M438.8,280.3h.8M441.4,272.9h.8M445.1,263.6h.8M428.8,286.6h.8M424.5,284.7h.8M432.6,271.2h.8M453.4,273.3h.8M452.3,260.6h.8M442.3,266.9h.8M430.0,286.9h.8M433.6,285.6h.8M431.6,282.6h.8M447.0,262.8h.8M431.4,285.0h.8M445.3,261.9h.8M426.3,280.0h.8M456.5,260.9h.8M441.4,269.5h.8M450.5,266.8h.8M441.6,276.8h.8M445.5,267.0h.8M451.2,266.0h.8M443.5,268.4h.8M442.3,261.9h.8M441.9,267.7h.8M450.1,267.2h.8M436.7,274.6h.8M436.9,269.4h.8M431.9,274.3h.8M445.4,267.7h.8M444.1,273.9h.8M445.0,266.9h.8M434.8,278.6h.8M433.7,275.7h.8M454.4,267.4h.8M444.0,263.3h.8M424.7,286.7h.8M441.4,268.3h.8M426.8,284.1h.8M424.8,281.4h.8M438.7,289.2h.8M427.2,289.1h.8M436.9,279.1h.8M451.7,261.1h.8M453.5,268.4h.8M438.9,269.6h.8M444.7,271.7h.8M423.5,290.6h.8M442.1,278.9h.8M446.4,271.2h.8M440.1,266.2h.8M436.9,270.2h.8M429.9,285.5h.8M445.6,266.9h.8M435.5,275.4h.8M454.4,259.3h.8M434.1,272.6h.8M438.1,266.9h.8M446.8,267.0h.8M449.2,268.2h.8M446.4,267.6h.8M431.4,272.8h.8M429.5,286.4h.8M449.8,270.2h.8M433.8,280.5h.8M446.8,264.5h.8M443.4,270.2h.8M447.4,273.5h.8M447.3,274.6h.8M432.6,276.8h.8M425.1,280.5h.8M431.5,274.4h.8M435.8,278.9h.8M435.7,278.0h.8M435.1,276.6h.8M429.6,283.1h.8M433.4,281.6h.8M429.6,289.4h.8M443.4,273.7h.8M430.6,281.4h.8M441.2,271.8h.8M439.2,269.7h.8M422.3,289.9h.8M432.6,282.7h.8M432.1,278.9h.8M442.4,267.8h.8M424.6,282.9h.8M436.0,282.0h.8M425.1,285.6h.8M431.6,283.5h.8M441.0,274.4h.8M427.1,282.0h.8M443.5,272.1h.8M424.0,283.9h.8M448.0,260.3h.8M425.2,285.9h.8M454.0,266.1h.8M428.5,278.8h.8M445.1,272.6h.8M438.7,274.4h.8M432.5,284.6h.8M452.0,268.0h.8M444.6,267.6h.8M450.3,262.1h.8M439.5,275.2h.8M439.3,271.2h.8M442.7,273.8h.8M436.9,270.8h.8M428.8,281.1h.8M445.4,272.8h.8M448.3,271.4h.8M441.0,272.8h.8M437.8,279.1h.8M443.0,267.8h.8M449.2,265.8h.8M438.5,277.6h.8M430.2,281.4h.8M443.8,273.2h.8M430.8,275.3h.8M437.1,275.1h.8M441.5,267.1h.8M428.6,279.5h.8M442.3,271.7h.8M429.2,289.3h.8M448.2,264.4h.8M448.7,263.9h.8M422.7,287.3h.8M432.7,274.1h.8M426.6,281.8h.8M451.4,260.8h.8M427.6,287.1h.8M443.2,274.6h.8M445.9,268.3h.8M436.1,272.8h.8M447.1,264.3h.8M424.8,283.2h.8M429.7,281.4h.8M445.8,259.7h.8M444.2,262.9h.8M447.2,263.9h.8M436.6,279.7h.8M456.4,267.3h.8M453.6,263.2h.8M444.9,265.9h.8M434.6,281.0h.8M438.3,273.2h.8M442.5,270.6h.8M449.7,261.1h.8M444.9,263.3h.8M432.8,275.0h.8M445.0,266.7h.8M449.6,270.9h.8M428.6,283.5h.8M439.0,271.2h.8M454.2,259.8h.8M433.3,280.5h.8M442.0,265.6h.8M423.5,290.7h.8M440.8,267.2h.8M428.0,283.3h.8M453.5,267.5h.8M432.4,279.6h.8M445.2,272.4h.8M432.3,282.2h.8M440.1,277.6h.8M438.3,278.1h.8M453.5,262.8h.8M434.5,279.2h.8M444.7,265.2h.8M439.1,274.7h.8M436.8,277.9h.8M431.0,280.3h.8M437.6,278.7h.8M442.4,270.9h.8M446.3,270.1h.8M440.6,276.0h.8M452.4,260.1h.8M428.9,284.2h.8M424.0,292.1h.8M450.0,260.9h.8M444.8,271.8h.8M443.2,271.2h.8M450.7,263.0h.8M429.6,282.7h.8M431.2,278.6h.8M454.9,266.1h.8M427.6,279.6h.8M434.1,279.4h.8M445.5,263.5h.8M443.3,275.9h.8M446.9,264.6h.8M420.3,288.8h.8M431.6,280.4h.8M453.1,264.0h.8M450.3,263.5h.8M447.1,262.5h.8M430.5,286.4h.8M436.2,273.4h.8M448.9,266.2h.8M434.4,285.0h.8M431.8,288.8h.8M437.8,275.5h.8M440.2,266.7h.8M435.6,281.6h.8M442.0,273.0h.8M439.4,267.4h.8M429.7,282.3h.8M438.9,272.3h.8M454.0,265.2h.8M447.3,270.5h.8M430.3,277.8h.8M442.0,275.9h.8M437.6,277.6h.8M438.1,270.9h.8M449.1,271.2h.8M435.8,267.4h.8M430.2,282.5h.8M434.5,278.0h.8M446.7,269.7h.8M453.3,262.1h.8M449.2,262.5h.8M458.6,262.8h.8M451.1,264.9h.8M449.9,259.3h.8M452.7,258.3h.8M451.9,261.0h.8M449.7,252.1h.8M454.0,255.8h.8M449.6,264.7h.8M451.1,261.3h.8M454.7,258.1h.8M451.0,260.1h.8M448.9,267.6h.8M451.2,259.7h.8M447.2,259.7h.8M454.8,265.0h.8M446.5,261.4h.8M445.7,265.7h.8M456.3,266.9h.8M447.8,262.7h.8M454.2,262.2h.8M454.0,261.1h.8M447.5,262.0h.8M455.0,256.9h.8M448.6,260.0h.8M453.1,257.5h.8M454.4,263.8h.8M456.9,258.2h.8M448.5,262.7h.8M448.1,263.7h.8M460.1,271.1h.8M450.0,266.1h.8M454.1,261.0h.8M444.2,265.3h.8M455.1,267.5h.8M444.0,252.4h.8M450.4,264.1h.8M454.0,263.0h.8M445.9,263.3h.8M451.4,262.0h.8M457.8,257.8h.8M449.5,258.0h.8M452.6,261.9h.8M452.9,268.0h.8M444.2,262.3h.8M450.8,265.7h.8M452.1,260.5h.8M459.1,262.1h.8M445.3,261.1h.8M451.9,262.4h.8M451.3,263.0h.8M452.2,265.2h.8M454.3,260.5h.8M454.3,261.2h.8M446.8,261.5h.8M454.6,260.2h.8M452.8,264.7h.8M451.8,258.5h.8M458.8,253.8h.8M448.0,259.1h.8M451.4,256.6h.8M451.0,260.3h.8M447.8,260.9h.8M456.5,259.9h.8M449.4,259.8h.8M453.1,262.1h.8M450.2,262.4h.8M452.2,256.8h.8M451.0,260.4h.8M454.1,265.6h.8M453.4,266.1h.8M451.5,263.2h.8M452.0,263.4h.8M452.9,261.9h.8M453.8,262.4h.8M447.6,250.8h.8M447.8,266.6h.8M449.4,264.7h.8M453.7,260.8h.8M457.3,254.0h.8M456.0,260.9h.8M446.2,265.1h.8M454.5,261.9h.8M448.3,263.7h.8M458.9,267.6h.8M447.9,257.3h.8M459.7,255.2h.8M459.1,266.5h.8M455.2,258.4h.8M449.8,260.5h.8M451.8,264.9h.8M453.4,265.0h.8M454.4,262.6h.8M452.4,261.5h.8M450.9,269.3h.8M458.5,263.5h.8M447.2,266.0h.8M448.9,262.8h.8M452.4,266.4h.8M450.4,251.8h.8M447.2,266.1h.8M452.2,263.4h.8M450.2,268.1h.8M449.9,258.2h.8M455.5,264.3h.8M451.5,256.9h.8M448.0,260.9h.8M448.1,267.8h.8M445.4,263.9h.8M450.1,264.7h.8M455.3,260.9h.8M452.9,259.2h.8M451.3,264.2h.8M452.0,262.2h.8M456.0,256.7h.8M452.4,253.8h.8M446.6,258.4h.8M455.6,266.8h.8M453.4,261.9h.8M455.4,260.6h.8M453.6,260.7h.8M445.1,264.4h.8M449.0,261.9h.8M448.3,258.0h.8M455.6,261.7h.8M455.3,265.2h.8M453.2,262.0h.8M453.9,263.3h.8M449.6,258.6h.8M442.5,255.6h.8M449.7,266.3h.8M457.8,252.7h.8M448.3,257.5h.8M460.9,262.3h.8M457.9,264.0h.8M451.8,262.3h.8M448.8,261.4h.8M456.2,263.6h.8M446.5,265.4h.8M445.8,262.9h.8M452.4,262.8h.8M450.2,260.9h.8M447.6,256.1h.8M454.6,262.5h.8M449.3,263.3h.8M448.9,263.8h.8M449.3,258.3h.8M453.3,268.2h.8M458.7,264.0h.8M451.6,258.6h.8M452.4,260.4h.8M459.1,263.1h.8M448.4,262.5h.8M455.3,262.8h.8M456.2,260.0h.8M452.0,259.8h.8M449.5,260.3h.8M455.0,268.2h.8M450.1,262.8h.8M457.4,264.0h.8M450.6,260.2h.8M456.6,265.5h.8M450.1,261.1h.8M451.7,268.3h.8M450.7,254.4h.8M445.6,267.7h.8M450.7,270.1h.8M453.2,257.3h.8M451.6,261.6h.8M459.0,261.2h.8M452.5,256.0h.8M452.8,258.2h.8M455.6,262.5h.8M453.3,260.9h.8M449.7,261.0h.8M457.5,266.5h.8M448.8,265.5h.8M451.4,268.8h.8M452.3,257.9h.8M456.4,271.3h.8M457.3,260.7h.8M450.7,259.0h.8M450.5,263.5h.8M459.3,260.6h.8M453.5,264.8h.8M457.4,258.5h.8M456.1,253.7h.8M447.9,262.8h.8M448.3,259.6h.8M450.1,264.6h.8M452.6,258.7h.8M445.8,261.2h.8M453.5,257.6h.8M453.6,259.8h.8M450.6,263.9h.8M444.4,261.9h.8M450.5,260.0h.8M449.1,264.0h.8M455.0,266.0h.8M448.2,259.6h.8M446.7,259.7h.8M455.9,258.6h.8M451.5,252.7h.8M454.1,258.3h.8M453.1,261.8h.8M450.6,258.9h.8M449.6,260.5h.8M451.8,258.6h.8M450.2,260.8h.8M450.4,262.7h.8M449.5,265.5h.8M456.2,259.9h.8M450.2,263.3h.8M455.0,255.7h.8M456.1,259.9h.8M457.4,262.5h.8M457.1,258.4h.8M450.7,261.0h.8M456.6,256.0h.8M451.2,264.3h.8M454.0,262.1h.8M453.7,261.6h.8M454.0,266.7h.8M448.3,264.5h.8M445.3,258.6h.8M456.0,267.0h.8M450.0,259.8h.8M450.3,267.9h.8M455.3,261.7h.8M451.3,265.0h.8M446.6,266.4h.8M455.7,265.3h.8M454.0,263.3h.8M451.3,262.3h.8M451.3,258.0h.8M444.8,256.1h.8M451.0,266.5h.8M449.1,261.2h.8M447.8,258.4h.8M450.7,258.3h.8M456.6,258.5h.8M456.6,261.5h.8M441.0,258.4h.8M456.2,268.8h.8M447.6,263.7h.8M451.2,257.1h.8M442.9,258.1h.8M456.5,267.8h.8M451.0,264.5h.8M454.1,264.0h.8M445.8,260.2h.8M459.4,265.7h.8M448.1,260.6h.8M460.7,264.6h.8M450.4,258.3h.8M458.4,265.2h.8M446.6,271.2h.8M454.4,260.4h.8M450.7,258.4h.8M444.6,262.8h.8M452.0,258.9h.8M454.1,262.8h.8M451.9,267.4h.8M452.6,265.8h.8M450.1,263.9h.8M453.4,263.2h.8M459.7,261.5h.8M456.9,263.4h.8M453.0,262.0h.8M422.8,277.8h.8M433.6,298.3h.8M444.8,273.2h.8M426.1,292.5h.8M429.9,273.4h.8M404.5,294.5h.8M416.4,284.9h.8M438.1,289.9h.8M438.5,286.9h.8M435.5,308.4h.8M424.4,304.1h.8M431.2,263.9h.8M428.3,272.0h.8M410.2,279.5h.8M429.4,313.2h.8M401.2,295.4h.8M431.5,267.3h.8M401.7,310.4h.8M427.8,303.0h.8M405.1,283.1h.8M425.4,282.0h.8M440.9,310.1h.8M418.8,278.0h.8M393.5,283.1h.8M413.9,296.1h.8M422.6,282.5h.8M395.4,304.6h.8M408.0,264.6h.8M430.6,286.2h.8M426.3,291.7h.8M404.4,273.0h.8M407.5,256.2h.8M411.8,292.1h.8M406.4,291.9h.8M417.0,307.5h.8M391.0,275.5h.8M402.2,293.2h.8M426.9,290.3h.8M434.2,289.2h.8M421.5,296.6h.8M397.6,277.7h.8M401.9,304.1h.8M443.1,321.3h.8M434.0,328.9h.8M411.9,288.7h.8M427.3,304.8h.8M421.5,286.2h.8M421.7,268.3h.8M430.2,291.5h.8M416.7,303.1h.8M431.4,296.0h.8M428.0,281.6h.8M435.1,288.3h.8M442.7,278.2h.8M435.0,288.7h.8M417.1,278.5h.8M444.4,289.3h.8M418.5,304.5h.8M424.9,311.2h.8M426.7,273.1h.8M421.6,282.7h.8M432.1,284.2h.8M428.1,296.2h.8M423.8,279.7h.8M417.7,282.2h.8M406.9,275.8h.8M438.6,312.9h.8" stroke="#2a3cf2" stroke-width="0.8" opacity="0.8"/>
<ellipse cx="424.5" cy="288" rx="11" ry="7" transform="rotate(-45 424.5 288)" fill="url(#fcore)"/>
<line x1="435.6" y1="249.5" x2="435.6" y2="331.3" stroke="#7d7d7d" stroke-width="0.8" />
<line x1="386.5" y1="271.7" x2="467.8" y2="271.7" stroke="#7d7d7d" stroke-width="0.8" />
<rect x="481.6" y="246.3" width="82.4" height="2.2" fill="#e6e6e6" />
<rect x="559" y="246.3" width="3.5" height="2.2" fill="#cfcfcf" />
<rect x="564.8" y="249.5" width="1.6" height="82.2" fill="#ececec" />
<rect x="564.8" y="279.91" width="1.6" height="3" fill="#bdbdbd" />
<rect x="481.6" y="249.5" width="82.4" height="82.2" fill="#fff" stroke="#8a8a8a" stroke-width="0.7" />
<line x1="480.4" y1="331.7" x2="481.6" y2="331.7" stroke="#888" stroke-width="0.5" />
<text transform="translate(478.4,331.7) rotate(-90)" y="0.98" font-size="2.8" text-anchor="middle" fill="#555">10</text>
<line x1="480.4" y1="318" x2="481.6" y2="318" stroke="#888" stroke-width="0.5" />
<text transform="translate(478.4,318) rotate(-90)" y="0.98" font-size="2.8" text-anchor="middle" fill="#555">10</text>
<line x1="480.4" y1="304.3" x2="481.6" y2="304.3" stroke="#888" stroke-width="0.5" />
<text transform="translate(478.4,304.3) rotate(-90)" y="0.98" font-size="2.8" text-anchor="middle" fill="#555">10</text>
<line x1="480.4" y1="290.6" x2="481.6" y2="290.6" stroke="#888" stroke-width="0.5" />
<text transform="translate(478.4,290.6) rotate(-90)" y="0.98" font-size="2.8" text-anchor="middle" fill="#555">10</text>
<line x1="480.4" y1="276.9" x2="481.6" y2="276.9" stroke="#888" stroke-width="0.5" />
<text transform="translate(478.4,276.9) rotate(-90)" y="0.98" font-size="2.8" text-anchor="middle" fill="#555">10</text>
<line x1="480.4" y1="263.2" x2="481.6" y2="263.2" stroke="#888" stroke-width="0.5" />
<text transform="translate(478.4,263.2) rotate(-90)" y="0.98" font-size="2.8" text-anchor="middle" fill="#555">10</text>
<line x1="480.4" y1="249.5" x2="481.6" y2="249.5" stroke="#888" stroke-width="0.5" />
<text transform="translate(478.4,249.5) rotate(-90)" y="0.98" font-size="2.8" text-anchor="middle" fill="#555">10</text>
<line x1="481.6" y1="331.7" x2="481.6" y2="332.9" stroke="#888" stroke-width="0.5" />
<text x="481.6" y="335.88" font-size="2.8" text-anchor="middle" fill="#555">10</text>
<line x1="495.33" y1="331.7" x2="495.33" y2="332.9" stroke="#888" stroke-width="0.5" />
<text x="495.33" y="335.88" font-size="2.8" text-anchor="middle" fill="#555">10</text>
<line x1="509.07" y1="331.7" x2="509.07" y2="332.9" stroke="#888" stroke-width="0.5" />
<text x="509.07" y="335.88" font-size="2.8" text-anchor="middle" fill="#555">10</text>
<line x1="522.8" y1="331.7" x2="522.8" y2="332.9" stroke="#888" stroke-width="0.5" />
<text x="522.8" y="335.88" font-size="2.8" text-anchor="middle" fill="#555">10</text>
<line x1="536.53" y1="331.7" x2="536.53" y2="332.9" stroke="#888" stroke-width="0.5" />
<text x="536.53" y="335.88" font-size="2.8" text-anchor="middle" fill="#555">10</text>
<line x1="550.27" y1="331.7" x2="550.27" y2="332.9" stroke="#888" stroke-width="0.5" />
<text x="550.27" y="335.88" font-size="2.8" text-anchor="middle" fill="#555">10</text>
<line x1="564" y1="331.7" x2="564" y2="332.9" stroke="#888" stroke-width="0.5" />
<text x="564" y="335.88" font-size="2.8" text-anchor="middle" fill="#555">10</text>
<text x="483.6" y="253.09" font-size="3.1" fill="#333">Q3-1</text>
<text x="483.6" y="256.38" font-size="3.1" fill="#333">0.02%</text>
<text x="562" y="253.09" font-size="3.1" text-anchor="end" fill="#333">Q3-2</text>
<text x="562" y="256.38" font-size="3.1" text-anchor="end" fill="#333">6.34%</text>
<text x="483.6" y="327.28" font-size="3.1" fill="#333">Q3-3</text>
<text x="483.6" y="330.58" font-size="3.1" fill="#333">83.85%</text>
<text x="562" y="327.28" font-size="3.1" text-anchor="end" fill="#333">Q3-4</text>
<text x="562" y="330.58" font-size="3.1" text-anchor="end" fill="#333">9.62%</text>
<path d="M522.1,282.4h.8M506.1,285.1h.8M507.6,299.1h.8M523.1,278.5h.8M527.7,287.2h.8M535.5,277.0h.8M518.7,288.1h.8M521.1,289.9h.8M530.1,276.2h.8M532.6,286.8h.8M524.3,284.2h.8M521.2,283.9h.8M522.7,284.9h.8M519.1,286.6h.8M520.5,285.8h.8M514.6,288.7h.8M504.7,285.6h.8M519.2,275.4h.8M523.4,293.7h.8M511.3,301.8h.8M516.1,293.8h.8M513.9,288.0h.8M495.3,298.2h.8M515.9,289.8h.8M505.2,299.8h.8M506.6,296.3h.8M520.4,285.1h.8M518.9,290.2h.8M513.1,286.6h.8M518.7,286.3h.8M536.0,270.2h.8M521.3,303.4h.8M500.9,305.0h.8M529.5,285.7h.8M511.4,297.1h.8M516.3,283.2h.8M520.7,291.3h.8M527.7,286.8h.8M513.0,302.8h.8M518.3,292.0h.8M518.8,287.8h.8M534.5,269.2h.8M509.1,309.2h.8M523.5,290.1h.8M536.5,274.1h.8M515.7,290.4h.8M515.1,287.6h.8M515.8,288.7h.8M525.0,303.1h.8M515.4,278.4h.8M514.3,297.3h.8M526.8,284.3h.8M520.7,288.1h.8M523.9,284.1h.8M533.4,273.2h.8M522.8,295.6h.8M523.5,291.1h.8M521.4,281.1h.8M541.3,272.0h.8M515.8,282.9h.8M501.8,300.0h.8M532.0,274.5h.8M513.9,283.3h.8M519.9,284.8h.8M528.3,284.9h.8M534.3,275.4h.8M520.6,289.5h.8M506.8,313.1h.8M516.4,290.6h.8M516.8,269.0h.8M524.7,283.2h.8M508.7,287.1h.8M514.6,292.6h.8M529.3,278.7h.8M517.4,288.4h.8M507.6,300.2h.8M518.8,285.2h.8M525.1,299.2h.8M510.2,290.7h.8M517.0,297.2h.8M520.7,281.8h.8M517.8,284.2h.8M523.0,280.0h.8M514.2,278.0h.8M502.1,287.0h.8M524.0,288.8h.8M520.0,278.6h.8M509.6,295.9h.8M521.9,278.4h.8M523.7,291.8h.8M509.7,279.7h.8M500.2,282.4h.8M519.1,288.4h.8M514.5,291.1h.8M524.6,290.3h.8M529.1,268.1h.8M527.0,290.1h.8M517.1,291.2h.8M525.3,282.4h.8M511.6,296.8h.8M517.5,289.2h.8M528.3,284.4h.8M503.2,294.2h.8M531.0,285.6h.8M526.5,284.5h.8M522.0,280.6h.8M513.1,302.1h.8M523.5,294.4h.8M514.0,299.8h.8M518.2,289.4h.8M514.5,294.3h.8M525.4,276.9h.8M524.8,287.6h.8M519.0,297.6h.8M520.2,301.2h.8M519.5,290.5h.8M516.6,295.3h.8M506.9,294.3h.8M518.7,278.6h.8M522.2,286.0h.8M530.5,286.3h.8M505.3,294.2h.8M521.6,283.2h.8M528.9,278.2h.8M519.1,284.4h.8M509.0,294.8h.8M523.7,283.6h.8M517.1,296.2h.8M506.5,307.0h.8M523.9,273.1h.8M521.4,291.7h.8M523.1,275.0h.8M525.8,286.9h.8M521.0,278.4h.8M519.0,294.4h.8M515.3,289.8h.8M520.0,282.7h.8M521.2,289.8h.8M517.4,281.3h.8M517.5,283.9h.8M521.4,291.3h.8M516.9,291.4h.8M508.8,299.5h.8M513.8,291.5h.8M524.0,281.8h.8M515.3,289.8h.8M509.4,293.5h.8M526.4,276.1h.8M531.3,279.1h.8M504.0,298.4h.8M538.5,275.0h.8M532.5,278.5h.8M532.5,279.1h.8M515.4,287.9h.8M507.5,298.5h.8M514.6,285.1h.8M520.2,285.7h.8M510.7,281.2h.8M521.9,283.4h.8M498.0,297.0h.8M518.3,286.4h.8M524.1,280.7h.8M529.3,277.3h.8M522.3,282.8h.8M522.5,281.6h.8M521.4,283.2h.8M518.1,283.6h.8M517.3,295.3h.8M518.7,287.1h.8M533.9,284.5h.8M531.5,279.4h.8M511.8,292.3h.8M517.6,281.5h.8M500.0,298.0h.8M516.6,278.9h.8M523.4,294.9h.8M518.2,290.3h.8M520.4,279.1h.8M510.6,308.5h.8M522.8,289.6h.8M520.9,275.3h.8M534.0,271.9h.8M524.5,277.1h.8M522.0,287.7h.8M523.7,276.7h.8M519.4,288.7h.8M505.3,299.0h.8M524.0,290.7h.8M528.5,277.9h.8M512.7,296.1h.8M514.2,298.6h.8M509.6,296.3h.8M510.3,301.8h.8M520.2,288.4h.8M523.0,289.7h.8M513.3,291.1h.8M512.8,286.9h.8M515.3,290.7h.8M512.7,286.0h.8M509.3,291.4h.8M525.1,277.7h.8M532.2,282.0h.8M509.5,302.5h.8M514.1,289.6h.8M516.9,293.9h.8M510.7,283.2h.8M514.8,292.5h.8M515.2,279.4h.8M516.9,303.6h.8M521.8,291.6h.8M522.4,300.0h.8M536.3,282.3h.8M520.0,282.4h.8M518.7,275.6h.8M520.5,295.8h.8M517.6,281.8h.8M519.3,289.6h.8M531.4,283.3h.8M538.4,280.3h.8M513.4,294.3h.8M510.0,290.9h.8M516.4,294.4h.8M512.4,285.5h.8M519.6,288.7h.8M530.6,282.9h.8M510.0,297.0h.8M526.0,288.4h.8M516.1,287.9h.8M516.5,288.1h.8M513.1,282.7h.8M502.6,291.1h.8M504.4,299.8h.8M513.8,272.5h.8M534.9,285.6h.8M526.3,289.5h.8M520.5,274.1h.8M527.7,281.6h.8M525.4,292.5h.8M529.4,294.5h.8M518.4,292.1h.8M509.0,294.3h.8M514.7,280.3h.8M516.1,287.9h.8M506.8,290.4h.8M517.5,294.7h.8M506.7,294.6h.8M522.5,287.5h.8M517.6,281.8h.8M517.5,284.7h.8M515.7,287.2h.8M525.3,279.8h.8M507.9,295.0h.8M538.1,276.6h.8M512.9,293.2h.8M516.2,296.5h.8M510.2,306.5h.8M531.6,298.2h.8M529.7,289.6h.8M530.7,276.7h.8M524.7,294.0h.8M528.5,280.4h.8M508.1,292.1h.8M517.1,277.1h.8M512.9,295.1h.8M519.5,298.4h.8M516.5,294.9h.8M518.0,289.2h.8M517.2,288.8h.8M517.5,291.2h.8M513.6,279.9h.8M520.3,292.0h.8M534.7,268.8h.8M516.2,289.6h.8M507.2,302.0h.8M515.9,294.6h.8M512.6,295.1h.8M533.2,278.5h.8M516.4,280.3h.8M523.1,288.8h.8M520.8,278.3h.8M517.3,295.9h.8M511.1,298.6h.8M519.6,290.7h.8M515.0,288.3h.8M513.2,276.8h.8M514.5,302.7h.8M513.4,290.5h.8M526.1,274.1h.8M531.2,285.4h.8M514.7,279.4h.8M525.8,285.4h.8M498.4,308.0h.8M516.8,279.5h.8M525.5,291.4h.8M528.5,283.1h.8M519.4,281.3h.8M511.4,287.1h.8M504.4,292.3h.8M515.0,301.9h.8M517.7,291.1h.8M518.8,284.6h.8M521.2,293.0h.8M533.0,288.7h.8M529.8,286.3h.8M517.6,286.2h.8M506.0,300.3h.8M522.1,287.0h.8M524.7,279.8h.8M516.2,295.0h.8M520.8,298.4h.8M534.7,287.9h.8M518.7,271.9h.8M525.6,277.0h.8M521.5,289.3h.8M512.0,283.2h.8M515.1,290.2h.8M526.5,277.2h.8M519.9,283.7h.8M513.5,283.9h.8M522.8,280.8h.8M514.9,286.3h.8M523.3,292.4h.8M531.4,293.2h.8M524.9,284.0h.8M519.3,291.6h.8M527.5,277.0h.8M515.3,292.6h.8M510.0,285.2h.8M517.6,291.8h.8M520.4,287.7h.8M508.0,293.0h.8M517.0,285.5h.8M504.9,304.4h.8M519.3,284.6h.8M503.1,285.0h.8M526.7,277.4h.8M516.3,305.9h.8M522.0,275.3h.8M501.9,297.9h.8M530.1,281.3h.8M518.0,291.8h.8M505.4,285.8h.8M517.9,293.8h.8M516.9,276.7h.8M527.0,290.8h.8M523.3,288.5h.8M504.1,301.6h.8M521.6,292.9h.8M503.2,293.8h.8M519.5,292.1h.8M513.7,288.4h.8M510.9,289.2h.8M519.9,287.0h.8M522.4,292.9h.8M526.4,279.9h.8M517.8,294.8h.8M515.4,276.4h.8M526.2,289.4h.8M519.0,298.1h.8M514.8,295.3h.8M513.3,289.8h.8M516.0,288.5h.8M523.9,289.4h.8M523.4,282.9h.8M527.5,289.1h.8M518.5,286.1h.8M508.8,292.3h.8M517.3,292.2h.8M527.9,293.8h.8M503.5,308.7h.8M516.7,284.6h.8M515.4,276.0h.8M524.2,287.0h.8M521.5,292.5h.8M524.1,289.0h.8M515.4,298.8h.8M512.2,303.8h.8M516.8,293.8h.8M512.9,289.4h.8M512.0,295.8h.8M512.7,294.2h.8M525.6,289.4h.8M510.6,294.7h.8M512.4,294.6h.8M517.5,289.2h.8M514.1,293.1h.8M515.2,289.5h.8M523.0,280.3h.8M518.8,288.5h.8M524.4,285.2h.8M514.2,287.3h.8M534.8,277.3h.8M531.8,278.0h.8M521.3,289.3h.8M508.1,282.5h.8M514.3,291.1h.8M510.0,291.6h.8M519.4,298.1h.8M513.8,293.1h.8M512.9,300.0h.8M493.3,295.2h.8M515.6,290.5h.8M509.5,291.1h.8M506.7,288.9h.8M521.3,293.8h.8M523.8,296.8h.8M509.6,271.4h.8M536.3,270.0h.8M526.6,294.6h.8M532.4,274.4h.8M517.0,284.0h.8M528.1,284.8h.8M530.9,278.7h.8M529.9,284.4h.8M530.1,279.5h.8M512.5,290.0h.8M514.9,293.9h.8M535.8,271.7h.8M532.8,281.7h.8M529.4,286.0h.8M522.6,284.6h.8M516.7,281.8h.8M519.7,285.6h.8M518.4,300.0h.8M531.8,279.8h.8M525.6,284.8h.8M514.6,283.6h.8M521.9,285.0h.8M509.9,287.9h.8M527.8,284.7h.8M516.7,293.2h.8M532.0,280.5h.8M517.6,288.6h.8M522.5,292.2h.8M522.4,290.0h.8M529.6,284.9h.8M512.1,295.6h.8M513.8,286.2h.8M510.3,288.1h.8M521.1,283.7h.8M522.4,288.7h.8M534.9,271.9h.8M512.9,281.0h.8M502.9,286.0h.8M520.8,282.0h.8M518.7,292.3h.8M511.4,289.2h.8M528.3,289.1h.8M513.1,293.0h.8M532.0,265.4h.8M515.3,288.6h.8M514.9,290.3h.8M513.5,290.3h.8M516.2,297.3h.8M537.6,273.7h.8M510.7,286.6h.8M524.2,265.3h.8M526.9,286.7h.8M521.2,291.2h.8M520.5,286.4h.8M511.3,287.2h.8M516.1,285.2h.8M520.4,292.0h.8M513.7,286.5h.8M533.8,270.0h.8M518.7,290.4h.8M523.4,282.3h.8M520.2,282.2h.8M526.6,295.8h.8M519.9,288.7h.8M522.7,296.0h.8M516.7,293.2h.8M517.3,292.1h.8M507.1,301.8h.8M525.6,296.1h.8M525.8,284.3h.8M516.3,283.6h.8M520.3,292.5h.8M522.4,277.0h.8M520.3,288.5h.8M514.5,295.4h.8M507.3,291.2h.8M525.1,288.5h.8M518.3,283.6h.8M523.6,284.4h.8M513.6,295.6h.8M524.3,290.4h.8M533.0,296.4h.8M522.4,277.8h.8M533.9,281.1h.8M530.3,285.4h.8M514.1,294.3h.8M516.5,291.6h.8M514.1,297.1h.8M538.1,278.6h.8M511.2,293.0h.8M526.9,286.1h.8M516.4,293.2h.8M528.7,288.1h.8M518.6,288.3h.8M503.6,293.8h.8M536.0,291.0h.8M513.3,285.1h.8M516.4,278.3h.8M516.5,289.1h.8M514.3,292.4h.8M530.2,288.3h.8M526.1,278.2h.8M513.0,296.3h.8M523.3,280.7h.8M530.0,265.0h.8M519.8,285.3h.8M511.6,286.3h.8M508.7,286.9h.8M526.3,285.4h.8M517.0,286.7h.8M512.1,293.1h.8M524.6,277.0h.8M532.0,279.1h.8M513.8,280.3h.8M512.7,303.1h.8M525.8,279.8h.8M516.2,293.4h.8M519.0,283.0h.8M506.0,302.4h.8M516.7,296.7h.8M517.0,294.9h.8M510.6,286.2h.8M516.1,291.7h.8M525.7,284.0h.8M515.6,285.1h.8M535.8,282.5h.8M518.8,289.3h.8M517.6,287.0h.8M514.7,293.2h.8M514.1,279.8h.8M528.4,272.2h.8M519.4,270.0h.8M519.2,300.9h.8M511.1,286.1h.8M523.9,299.6h.8M515.6,291.4h.8M522.9,284.4h.8M514.8,296.3h.8M518.5,292.1h.8M521.8,281.1h.8M518.7,284.1h.8M509.6,290.8h.8M529.9,279.8h.8M529.6,269.3h.8M521.9,285.2h.8M522.8,294.7h.8M519.5,298.1h.8M508.6,287.4h.8M525.0,288.5h.8M521.3,274.6h.8M504.4,308.7h.8M519.7,286.3h.8M518.2,296.1h.8M513.1,284.2h.8M525.9,284.6h.8M523.0,291.1h.8M523.7,292.4h.8M520.7,276.7h.8M504.6,300.7h.8M523.2,284.3h.8M504.6,296.2h.8M519.2,284.8h.8M522.3,285.0h.8M509.2,298.9h.8M517.5,296.3h.8M517.6,293.5h.8M520.7,293.4h.8M518.0,286.4h.8M515.4,276.5h.8M502.8,304.3h.8M509.8,291.1h.8M528.4,282.1h.8M516.0,286.4h.8M521.4,285.8h.8M524.3,288.9h.8M527.3,288.2h.8M508.1,280.1h.8M523.4,298.1h.8M524.6,272.9h.8M518.0,282.4h.8M525.9,278.0h.8M520.1,298.8h.8M522.6,284.3h.8M504.3,294.9h.8M510.6,279.6h.8M514.6,284.3h.8M519.3,292.6h.8M522.2,284.6h.8M535.0,282.5h.8M518.7,287.4h.8M502.5,304.9h.8M520.5,287.0h.8M518.0,277.5h.8M515.8,300.1h.8M521.3,290.7h.8M516.7,299.7h.8M535.2,285.7h.8M518.6,277.7h.8M514.5,289.8h.8M524.8,288.1h.8M511.4,284.4h.8M520.4,273.2h.8M512.9,287.9h.8M518.7,292.2h.8M531.8,277.5h.8M522.4,283.1h.8M530.1,290.0h.8M530.4,276.6h.8M507.3,296.2h.8M514.7,292.0h.8M530.1,284.4h.8M524.4,281.7h.8M535.6,283.4h.8M530.3,286.8h.8M504.5,295.0h.8M507.3,312.2h.8M507.1,283.8h.8M517.1,293.0h.8M510.5,286.2h.8M517.3,278.7h.8M514.6,289.1h.8M530.9,295.0h.8M527.3,290.0h.8M509.4,293.5h.8M527.2,296.7h.8M523.5,291.9h.8M528.4,273.5h.8M504.1,284.3h.8M519.6,295.3h.8M512.9,284.0h.8M528.1,284.2h.8M531.5,285.3h.8M520.8,296.9h.8M522.3,270.9h.8M532.3,272.7h.8M512.3,283.2h.8M522.2,288.7h.8M522.9,275.8h.8M508.6,305.4h.8M515.7,298.9h.8M515.0,287.4h.8M513.3,308.7h.8M512.6,294.6h.8M532.3,281.1h.8M528.2,290.8h.8M506.1,278.5h.8M510.2,296.4h.8M513.2,288.8h.8M524.8,293.9h.8M529.9,283.7h.8M512.9,287.0h.8M514.0,307.6h.8M519.8,284.8h.8M513.8,288.1h.8M514.7,289.2h.8M522.9,286.2h.8M531.0,284.5h.8M530.8,280.7h.8M520.1,285.1h.8M529.6,281.0h.8M529.5,283.5h.8M502.4,299.3h.8M525.3,291.4h.8M503.9,296.6h.8M517.7,295.5h.8M510.6,292.7h.8M517.6,284.4h.8M534.5,280.6h.8M519.1,284.1h.8M512.0,298.2h.8M511.9,292.5h.8M528.9,273.8h.8M522.4,279.6h.8M511.7,289.9h.8M519.3,286.9h.8M531.0,280.8h.8M532.3,289.3h.8M524.0,286.1h.8M520.2,292.7h.8M518.4,288.1h.8M513.1,281.7h.8M538.8,267.7h.8M516.7,292.8h.8M532.9,279.7h.8M514.2,296.0h.8M518.0,294.2h.8M524.1,287.6h.8M509.9,301.8h.8M519.9,284.3h.8M517.3,293.7h.8M517.0,299.7h.8M527.1,295.4h.8M524.2,277.7h.8M518.9,288.4h.8M523.4,283.7h.8M512.1,295.2h.8M533.1,283.4h.8M505.9,295.7h.8M528.1,284.8h.8M518.3,284.3h.8M520.2,289.0h.8M512.9,288.8h.8M515.0,293.1h.8M511.6,284.5h.8M507.4,300.9h.8M512.4,296.0h.8M513.5,286.8h.8M521.6,287.5h.8M522.0,294.3h.8M515.9,291.4h.8M522.8,292.1h.8M519.9,292.4h.8M521.0,288.3h.8M515.8,287.4h.8M528.1,286.1h.8M529.8,278.4h.8M526.7,281.8h.8M500.7,303.7h.8M524.6,287.9h.8M521.5,296.2h.8M520.1,300.1h.8M522.0,281.0h.8M515.1,286.6h.8M507.9,278.9h.8M525.7,281.1h.8M540.0,270.1h.8M512.6,300.0h.8M503.5,307.2h.8M529.8,288.1h.8M518.7,292.6h.8M503.9,300.2h.8M513.7,288.2h.8M527.9,295.3h.8M513.5,293.2h.8M512.2,284.7h.8M516.1,287.2h.8M514.1,299.6h.8M543.1,282.9h.8M520.7,289.1h.8M512.1,297.4h.8M518.4,296.7h.8M513.7,282.4h.8M506.9,300.4h.8M508.0,283.6h.8M537.0,263.0h.8M539.8,267.9h.8M542.3,260.5h.8M528.7,278.9h.8M537.8,260.0h.8M529.4,276.8h.8M533.3,276.2h.8M535.6,272.4h.8M520.3,282.0h.8M540.4,269.6h.8M533.4,266.8h.8M534.0,269.2h.8M519.5,286.8h.8M538.6,265.7h.8M523.8,277.7h.8M537.3,272.2h.8M521.6,288.5h.8M535.3,270.9h.8M520.8,285.3h.8M528.9,284.0h.8M522.7,289.3h.8M517.2,287.6h.8M530.3,270.7h.8M543.2,258.6h.8M529.8,258.3h.8M537.6,265.7h.8M537.9,267.8h.8M539.5,269.8h.8M524.5,287.8h.8M541.1,262.4h.8M536.7,270.3h.8M534.5,259.6h.8M537.5,267.5h.8M523.4,283.9h.8M527.8,280.2h.8M540.0,260.6h.8M530.6,278.8h.8M536.2,264.8h.8M531.9,266.9h.8M522.7,290.5h.8M534.1,270.9h.8M535.5,262.0h.8M541.6,261.2h.8M538.8,260.4h.8M521.3,290.6h.8M532.4,270.2h.8M525.3,281.5h.8M527.1,276.2h.8M518.5,284.6h.8M524.6,278.8h.8M528.7,270.9h.8M518.1,287.2h.8M520.5,280.8h.8M537.5,264.9h.8M527.8,287.3h.8M523.2,281.4h.8M521.8,292.2h.8M537.8,263.2h.8M536.7,267.7h.8M537.9,261.6h.8M522.9,284.6h.8M541.1,260.8h.8M531.1,278.2h.8M529.1,275.2h.8M534.2,257.7h.8M538.6,266.6h.8M535.7,262.2h.8M520.8,275.7h.8M537.1,260.8h.8M521.1,286.5h.8M526.8,281.4h.8M525.2,284.4h.8M535.6,273.2h.8M535.0,268.2h.8M526.3,285.2h.8M520.6,283.3h.8M539.2,267.0h.8M521.3,289.3h.8M530.5,265.6h.8M533.6,270.6h.8M544.6,263.2h.8M537.4,264.1h.8M518.5,286.5h.8M535.7,271.3h.8M539.5,269.8h.8M516.4,277.0h.8M538.4,263.9h.8M534.8,271.3h.8M544.0,265.5h.8M543.1,278.3h.8M530.4,268.0h.8M534.9,272.4h.8M544.0,267.5h.8M530.8,271.2h.8M536.2,266.1h.8M538.5,259.2h.8M538.4,260.6h.8M517.0,284.9h.8M522.4,283.9h.8M530.5,266.4h.8M529.9,278.5h.8M530.1,284.3h.8M535.0,274.4h.8M525.1,270.5h.8M526.8,288.1h.8M541.6,257.5h.8M523.3,285.6h.8M537.9,257.0h.8M526.4,278.5h.8M531.5,265.5h.8M523.3,282.9h.8M521.6,282.7h.8M530.5,270.7h.8M529.6,273.0h.8M520.9,278.6h.8M522.3,280.0h.8M543.1,264.3h.8M526.7,270.4h.8M520.7,287.8h.8M516.9,288.0h.8M526.2,279.7h.8M527.8,273.3h.8M536.5,261.7h.8M521.1,283.1h.8M524.6,280.8h.8M535.7,270.6h.8M536.3,268.2h.8M532.5,268.5h.8M538.5,264.1h.8M533.6,275.0h.8M524.1,278.6h.8M525.2,281.6h.8M536.5,272.8h.8M545.5,266.9h.8M534.0,268.9h.8M518.8,285.3h.8M550.1,255.1h.8M523.1,283.1h.8M532.0,262.9h.8M541.8,261.3h.8M518.0,288.0h.8M513.4,285.5h.8M527.5,275.3h.8M526.4,287.4h.8M526.8,281.2h.8M548.4,260.5h.8M535.9,268.3h.8M535.5,277.2h.8M547.8,270.2h.8M525.8,289.2h.8M522.1,276.2h.8M545.5,266.5h.8M524.3,280.3h.8M526.7,274.3h.8M533.9,267.4h.8M528.0,282.3h.8M523.7,290.1h.8M524.0,286.6h.8M525.5,280.4h.8M533.1,265.8h.8M535.0,271.0h.8M531.2,278.4h.8M525.5,278.6h.8M532.7,278.0h.8M528.2,278.9h.8M525.3,280.1h.8M536.6,269.5h.8M521.3,296.1h.8M529.6,276.6h.8M525.4,287.2h.8M536.5,269.1h.8M536.2,267.8h.8M524.7,282.9h.8M522.4,285.9h.8M529.3,273.5h.8M524.7,269.8h.8M536.5,277.3h.8M540.2,262.2h.8M522.1,290.0h.8M542.9,261.9h.8M528.8,269.2h.8M522.1,273.6h.8M538.3,265.5h.8M541.6,262.7h.8M521.2,281.6h.8M527.1,283.1h.8M533.5,273.3h.8M519.1,286.9h.8M531.5,278.8h.8M523.7,287.6h.8M537.1,268.0h.8M531.0,275.5h.8M530.4,271.2h.8M526.2,280.2h.8M541.4,263.5h.8M530.9,281.7h.8M529.5,279.1h.8M524.0,277.8h.8M527.3,280.5h.8M545.6,260.1h.8M539.0,263.5h.8M542.5,268.5h.8M538.3,268.2h.8M527.5,278.5h.8M544.7,262.0h.8M527.4,269.5h.8M523.2,279.3h.8M529.6,276.9h.8M521.2,281.8h.8M544.4,265.2h.8M530.2,265.8h.8M528.9,271.8h.8M534.0,273.1h.8M517.1,289.3h.8M547.1,258.4h.8M525.9,282.3h.8M526.0,283.9h.8M537.2,267.3h.8M529.1,278.3h.8M544.6,269.7h.8M537.4,270.0h.8M527.2,274.4h.8M523.4,290.2h.8M530.4,280.8h.8M539.1,272.0h.8M541.6,269.2h.8M528.4,273.7h.8M527.5,280.4h.8M528.1,277.1h.8M534.9,268.6h.8M535.6,270.1h.8M521.1,286.1h.8M528.5,275.3h.8M528.5,277.1h.8M544.7,267.3h.8M517.1,285.0h.8M539.4,270.3h.8M531.5,278.0h.8M522.0,285.0h.8M538.8,260.9h.8M527.9,279.5h.8M534.2,266.3h.8M520.6,283.7h.8M543.8,267.2h.8M527.3,273.5h.8M530.4,282.9h.8M539.4,263.9h.8M535.5,264.6h.8M542.4,256.9h.8M528.0,274.9h.8M517.1,285.8h.8M534.1,266.6h.8M539.1,271.5h.8M519.8,286.4h.8M518.9,280.6h.8M527.7,281.3h.8M519.5,288.2h.8M542.6,268.3h.8M546.1,259.8h.8M525.0,281.5h.8M522.9,275.0h.8M526.2,276.9h.8M535.8,264.8h.8M532.7,270.0h.8M525.6,279.5h.8M521.1,278.3h.8M530.2,267.4h.8M531.3,275.8h.8M527.7,272.9h.8M543.3,266.4h.8M541.9,265.5h.8M545.8,267.4h.8M521.5,279.9h.8M532.6,276.3h.8M541.2,267.3h.8M530.5,271.6h.8M528.2,277.2h.8M537.7,271.2h.8M529.7,279.5h.8M539.6,264.8h.8M525.6,275.2h.8M537.8,261.7h.8M517.2,295.4h.8M521.4,280.9h.8M529.0,277.5h.8M543.1,258.7h.8M524.5,283.1h.8M537.4,264.7h.8M534.2,272.3h.8M535.8,266.2h.8M535.4,274.7h.8M528.6,280.0h.8M531.4,275.0h.8M523.2,279.1h.8M538.9,257.7h.8M531.2,277.2h.8M526.0,273.1h.8M531.8,274.0h.8M527.7,271.8h.8M538.5,269.9h.8M531.5,278.7h.8M543.2,264.4h.8M518.7,292.9h.8M530.2,281.5h.8M531.8,270.5h.8M519.2,284.8h.8M531.5,268.0h.8M532.7,278.2h.8M530.7,267.4h.8M520.3,289.0h.8M520.7,284.4h.8M523.8,282.9h.8M534.1,269.4h.8M517.1,281.7h.8M537.9,267.1h.8M524.0,274.4h.8M540.8,270.5h.8M521.3,270.7h.8M544.5,257.3h.8M525.1,278.9h.8M529.8,275.1h.8M521.6,276.8h.8M541.1,264.2h.8M520.8,278.7h.8M520.9,292.8h.8M527.9,283.2h.8M520.7,284.6h.8M530.0,270.9h.8M524.5,283.9h.8M542.0,256.4h.8M546.7,267.5h.8M522.8,276.0h.8M525.0,282.6h.8M532.8,275.5h.8M531.5,274.8h.8M523.3,291.1h.8M524.4,277.7h.8M514.9,289.5h.8M520.9,295.3h.8M529.8,269.3h.8M523.8,282.8h.8M540.4,271.8h.8M535.4,267.7h.8M537.5,267.0h.8M537.9,269.7h.8M535.0,268.0h.8M527.6,278.1h.8M543.6,263.6h.8M541.0,263.1h.8M526.1,274.0h.8M536.6,261.2h.8M530.9,274.6h.8M541.0,265.5h.8M534.8,266.4h.8M536.5,281.4h.8M537.7,275.2h.8M519.6,288.8h.8M534.4,263.8h.8M515.3,285.5h.8M533.1,278.9h.8M532.0,267.6h.8M528.9,274.2h.8M521.9,287.1h.8M544.3,262.9h.8M539.1,260.4h.8M530.9,270.8h.8M539.1,260.4h.8M517.9,293.8h.8M528.4,283.5h.8M517.8,291.2h.8M525.1,281.5h.8M544.1,260.2h.8M527.5,282.7h.8M536.2,265.1h.8M520.1,284.7h.8M519.8,287.3h.8M542.0,258.3h.8M523.8,282.3h.8M531.0,280.4h.8M528.1,286.0h.8M528.3,266.0h.8M519.9,289.1h.8M526.9,278.9h.8M537.2,269.2h.8M539.2,266.7h.8M531.1,269.4h.8M536.8,269.8h.8M519.4,283.6h.8M528.1,281.8h.8M538.6,267.5h.8M524.1,291.4h.8M520.3,288.4h.8M521.5,277.3h.8M530.1,280.0h.8M535.5,264.7h.8M532.9,283.5h.8M538.0,276.8h.8M524.4,273.5h.8M535.7,262.8h.8M535.0,271.6h.8M523.2,279.6h.8M529.8,278.4h.8M543.1,263.9h.8M536.2,267.1h.8M529.8,277.0h.8M532.3,271.1h.8M536.4,275.2h.8M528.7,275.8h.8M536.5,267.9h.8M537.1,275.7h.8M539.1,266.4h.8M535.7,268.7h.8M538.6,257.7h.8M519.8,287.6h.8M532.0,274.8h.8M526.1,276.6h.8M522.4,287.7h.8M531.1,273.8h.8M539.4,269.3h.8M526.1,271.9h.8M525.5,280.2h.8M529.0,277.3h.8M534.9,268.8h.8M534.9,272.1h.8M528.4,280.0h.8M533.7,271.2h.8M528.0,271.1h.8M523.4,286.1h.8M533.0,281.8h.8M541.6,258.3h.8M532.2,265.5h.8M538.6,267.0h.8M528.5,283.1h.8M534.4,274.2h.8M532.0,284.3h.8M532.3,270.8h.8M527.5,269.9h.8M525.7,277.7h.8M516.5,285.5h.8M534.6,269.8h.8M522.7,294.1h.8M516.9,276.1h.8M541.1,257.4h.8M541.8,261.7h.8M526.3,270.8h.8M525.0,279.5h.8M530.6,263.5h.8M540.9,259.6h.8M527.7,279.9h.8M543.1,257.3h.8M526.3,274.2h.8M524.9,296.1h.8M528.4,275.3h.8M543.9,258.3h.8M529.0,277.4h.8M526.1,283.5h.8M549.8,264.6h.8M530.6,268.1h.8M520.8,284.1h.8M544.8,256.8h.8M522.4,289.6h.8M520.6,284.4h.8M516.2,278.4h.8M541.0,259.4h.8M545.0,260.2h.8M528.8,269.2h.8M536.6,267.0h.8M548.3,264.0h.8M530.8,275.8h.8M531.6,269.8h.8M535.8,274.8h.8M525.0,283.4h.8M524.8,274.2h.8M544.5,257.2h.8M521.7,275.2h.8M518.2,286.9h.8M540.3,265.2h.8M527.6,281.1h.8M524.6,277.0h.8M537.3,268.0h.8M523.5,277.2h.8M526.3,272.8h.8M539.5,264.6h.8M528.0,268.8h.8M536.2,276.9h.8M530.9,271.9h.8M538.2,274.5h.8M529.6,282.4h.8M522.8,285.8h.8M519.3,292.1h.8M536.0,264.3h.8M531.6,276.0h.8M530.4,286.0h.8M529.4,266.7h.8M534.1,264.9h.8M537.9,259.6h.8M522.1,286.6h.8M521.6,280.1h.8M528.6,276.8h.8M524.6,272.4h.8M521.3,282.5h.8M526.1,272.1h.8M543.7,256.1h.8M522.1,280.3h.8M549.9,258.5h.8M532.1,270.8h.8M537.3,271.5h.8M540.8,261.4h.8M538.2,265.6h.8M529.4,273.2h.8M534.0,282.3h.8M525.5,284.5h.8M543.3,261.7h.8M542.4,259.0h.8M538.3,255.4h.8M541.1,261.1h.8M538.4,260.6h.8M540.4,257.4h.8M537.6,261.1h.8M543.7,265.6h.8M544.4,251.4h.8M540.5,259.9h.8M539.9,263.0h.8M537.1,259.9h.8M542.5,260.3h.8M542.1,260.6h.8M545.6,264.8h.8M543.2,257.3h.8M536.6,265.3h.8M541.0,267.8h.8M550.3,258.1h.8M539.0,267.6h.8M537.8,259.0h.8M541.2,257.6h.8M546.6,256.6h.8M549.3,258.7h.8M545.1,261.3h.8M538.2,265.0h.8M545.3,261.9h.8M546.7,260.5h.8M543.0,250.6h.8M538.2,253.6h.8M551.0,262.8h.8M537.7,253.6h.8M547.8,266.4h.8M545.6,260.4h.8M542.7,263.5h.8M545.6,266.3h.8M542.3,260.4h.8M543.9,262.6h.8M543.8,259.3h.8M543.8,260.3h.8M539.9,256.8h.8M548.8,259.6h.8M540.7,254.1h.8M537.1,259.0h.8M535.0,263.1h.8M545.7,257.6h.8M541.8,254.7h.8M537.6,257.3h.8M551.0,262.3h.8M549.3,258.3h.8M545.2,259.1h.8M541.1,253.9h.8M544.2,256.6h.8M539.2,256.7h.8M546.6,259.4h.8M545.3,259.2h.8M541.4,259.1h.8M543.5,256.2h.8M538.5,254.9h.8M541.5,261.5h.8M541.0,262.3h.8M548.6,256.3h.8M543.7,262.0h.8M545.5,253.9h.8M544.1,263.4h.8M545.8,259.3h.8M539.2,259.6h.8M546.1,261.0h.8M544.0,255.5h.8M558.3,258.2h.8M551.6,262.6h.8M540.2,260.5h.8M542.7,265.3h.8M547.2,254.2h.8M547.7,256.3h.8M536.9,259.2h.8M546.4,259.1h.8M549.1,258.6h.8M541.2,261.0h.8M546.7,262.0h.8M539.3,261.4h.8M542.9,257.8h.8M544.4,259.9h.8M545.6,268.5h.8M544.2,254.2h.8M541.7,269.1h.8M540.4,267.4h.8M541.1,259.0h.8M550.1,264.5h.8M537.6,259.1h.8M548.8,252.8h.8M538.5,257.9h.8M542.5,262.6h.8M550.2,257.4h.8M545.3,262.1h.8M536.4,262.5h.8M546.1,261.7h.8M543.3,260.2h.8M548.1,264.7h.8M546.8,260.7h.8M547.6,258.1h.8M544.1,260.8h.8M546.6,262.5h.8M542.6,264.9h.8M546.8,263.4h.8M538.3,256.3h.8M541.2,259.9h.8M535.7,263.6h.8M545.2,253.3h.8M543.4,259.2h.8M548.5,259.0h.8M548.3,262.2h.8M538.0,263.1h.8M545.8,256.9h.8M542.5,260.8h.8M536.3,269.4h.8M534.6,259.1h.8M544.9,252.5h.8M546.5,258.9h.8M543.5,257.9h.8M540.8,259.8h.8M541.6,259.0h.8M544.3,264.5h.8M543.2,267.4h.8M545.6,259.6h.8M541.5,259.8h.8M539.6,261.9h.8M545.3,252.5h.8M542.4,265.5h.8M547.5,258.7h.8M547.7,255.1h.8M538.1,254.0h.8M542.9,254.8h.8M547.3,256.3h.8M539.5,257.4h.8M535.3,265.1h.8M550.5,259.9h.8M543.9,264.3h.8M544.0,265.9h.8M552.8,262.6h.8M538.3,262.1h.8M546.5,259.1h.8M547.6,262.8h.8M541.6,261.4h.8M540.1,253.6h.8M546.0,259.9h.8M538.4,265.3h.8M542.6,257.1h.8M548.7,257.0h.8M548.5,256.6h.8M546.4,258.3h.8M551.7,257.3h.8M536.4,260.4h.8M546.9,257.0h.8M543.6,255.2h.8M544.7,258.7h.8M539.8,262.5h.8M551.5,258.1h.8M545.8,260.0h.8M536.6,258.3h.8M543.8,259.5h.8M535.8,265.1h.8M539.6,260.0h.8M540.6,259.5h.8M544.3,262.0h.8M542.5,267.9h.8M543.6,254.9h.8M543.7,253.3h.8M540.1,256.8h.8M540.0,258.2h.8M539.5,260.3h.8M545.8,262.0h.8M546.5,259.5h.8M545.3,256.7h.8M544.9,261.6h.8M543.2,256.3h.8M543.1,259.2h.8M542.1,264.6h.8M542.6,255.1h.8M541.3,260.6h.8M544.3,257.5h.8M545.9,256.4h.8M539.6,250.3h.8M535.2,255.9h.8M540.8,259.6h.8M541.4,263.9h.8M544.0,259.0h.8M536.8,260.2h.8M539.2,259.3h.8M551.9,260.3h.8M541.6,262.3h.8M540.8,263.0h.8M538.7,259.3h.8M542.8,257.9h.8M545.6,256.6h.8M546.0,264.1h.8M546.4,256.4h.8M542.3,265.6h.8M544.4,253.7h.8M541.0,257.6h.8M534.5,259.5h.8M541.3,259.5h.8M540.1,261.6h.8M539.9,259.0h.8M542.7,256.5h.8M542.0,259.7h.8M542.4,261.5h.8M548.5,258.7h.8M540.3,262.8h.8M544.4,263.1h.8M538.2,259.7h.8M540.6,251.5h.8M546.7,259.2h.8M549.3,263.5h.8M546.7,265.4h.8M541.6,261.1h.8M542.9,257.8h.8M541.5,258.2h.8M540.6,260.7h.8M542.8,262.1h.8M544.1,259.6h.8M541.7,262.0h.8M537.7,259.5h.8M545.9,256.1h.8M543.6,260.2h.8M544.7,266.6h.8M545.7,262.4h.8M546.6,258.6h.8M545.0,265.6h.8M544.1,259.5h.8M550.1,264.7h.8M540.4,256.7h.8M539.1,257.5h.8M542.1,261.4h.8M546.6,265.1h.8M548.2,257.0h.8M540.2,259.8h.8M536.8,260.8h.8M546.9,269.4h.8M546.0,260.6h.8M538.5,259.8h.8M544.7,255.8h.8M540.7,261.0h.8M543.3,260.5h.8M546.0,252.3h.8M546.0,264.2h.8M542.4,265.3h.8M539.0,265.6h.8M539.9,256.3h.8M546.8,266.3h.8M543.1,260.3h.8M548.8,255.4h.8M542.3,257.1h.8M541.0,261.1h.8M546.5,259.7h.8M541.5,262.0h.8M541.7,261.0h.8M544.8,253.9h.8M542.4,255.9h.8M545.6,261.4h.8M539.6,264.4h.8M541.4,260.9h.8M545.0,254.4h.8M539.7,253.2h.8M543.2,258.3h.8M546.4,255.3h.8M540.6,258.5h.8M544.3,258.4h.8M545.2,256.5h.8M542.4,257.0h.8M547.6,255.7h.8M547.3,254.8h.8M543.0,259.1h.8M546.9,255.9h.8M549.1,270.4h.8M542.3,259.3h.8M545.9,257.9h.8M546.2,256.2h.8M544.1,262.0h.8M539.4,258.1h.8M548.4,261.3h.8M541.5,258.1h.8M536.2,263.1h.8M542.9,259.2h.8M537.8,258.7h.8M536.2,261.2h.8M504.4,268.4h.8M529.6,306.1h.8M541.3,281.9h.8M503.3,267.5h.8M523.8,277.3h.8M518.6,299.2h.8M526.7,288.2h.8M539.4,290.5h.8M534.4,275.0h.8M546.4,297.8h.8M518.1,280.2h.8M501.5,274.6h.8M506.4,278.6h.8M528.9,323.8h.8M518.9,271.9h.8M511.5,275.4h.8M515.9,309.3h.8M529.6,268.5h.8M511.1,272.0h.8M528.0,272.7h.8M511.2,292.5h.8M518.0,300.3h.8M511.2,283.5h.8M508.0,259.0h.8M519.5,278.0h.8M516.6,301.6h.8M530.7,301.0h.8M523.3,277.6h.8M490.6,286.3h.8M540.9,270.3h.8M544.2,288.6h.8M551.3,283.0h.8M539.2,295.1h.8M486.3,287.8h.8M525.2,286.7h.8M539.2,297.5h.8M508.0,277.9h.8M530.7,267.9h.8M511.9,312.2h.8M529.5,266.0h.8M517.2,296.2h.8M504.7,266.4h.8M500.6,300.9h.8M518.9,256.4h.8M513.4,280.1h.8M519.9,278.0h.8M522.9,295.8h.8M529.4,304.1h.8M502.9,281.3h.8M518.4,299.1h.8M523.7,291.0h.8M524.2,298.7h.8M517.2,297.7h.8M534.1,250.9h.8M528.3,273.8h.8M514.8,267.4h.8M507.2,276.7h.8M509.2,282.4h.8M507.1,267.6h.8M514.1,290.7h.8M541.3,272.8h.8M547.1,283.0h.8M534.0,312.4h.8M501.7,309.8h.8M519.8,285.3h.8M494.5,298.1h.8M528.4,266.2h.8M533.5,281.8h.8" stroke="#2a3cf2" stroke-width="0.8" opacity="0.8"/>
<ellipse cx="519" cy="288" rx="11" ry="7" transform="rotate(-45 519 288)" fill="url(#fcore)"/>
<line x1="531.8" y1="249.5" x2="531.8" y2="331.7" stroke="#7d7d7d" stroke-width="0.8" />
<line x1="481.6" y1="272" x2="564" y2="272" stroke="#7d7d7d" stroke-width="0.8" />
<line x1="376.2" y1="316.6" x2="376.2" y2="341.3" stroke="#000" stroke-width="1.3" />
<line x1="376.2" y1="340.7" x2="400.7" y2="340.7" stroke="#000" stroke-width="1.3" />
<path d="M376.2,312.6 L373.2,319.1 L379.2,319.1 Z" fill="#000" />
<path d="M404.7,340.7 L398.2,337.7 L398.2,343.7 Z" fill="#000" />
<text transform="translate(374.6,306.6) rotate(-90)" y="2.2" font-size="6.3" text-anchor="middle">PI</text>
<text x="408" y="344.26" font-size="7.9">Annexin v FITC</text>
<line x1="586" y1="259.5" x2="586" y2="319.2" stroke="#000" stroke-width="0.8" />
<line x1="586" y1="319.2" x2="675.6" y2="319.2" stroke="#000" stroke-width="0.8" />
<line x1="584.5" y1="319.2" x2="586" y2="319.2" stroke="#000" stroke-width="0.7" />
<text x="583.8" y="321.02" font-size="5.2" text-anchor="end">0</text>
<line x1="584.5" y1="304.27" x2="586" y2="304.27" stroke="#000" stroke-width="0.7" />
<text x="583.8" y="306.09" font-size="5.2" text-anchor="end">5</text>
<line x1="584.5" y1="289.35" x2="586" y2="289.35" stroke="#000" stroke-width="0.7" />
<text x="583.8" y="291.17" font-size="5.2" text-anchor="end">10</text>
<line x1="584.5" y1="274.43" x2="586" y2="274.43" stroke="#000" stroke-width="0.7" />
<text x="583.8" y="276.25" font-size="5.2" text-anchor="end">15</text>
<line x1="584.5" y1="259.5" x2="586" y2="259.5" stroke="#000" stroke-width="0.7" />
<text x="583.8" y="261.32" font-size="5.2" text-anchor="end">20</text>
<rect x="599.3" y="277.41" width="25.4" height="41.79" fill="#94afcb" />
<rect x="637.3" y="269.05" width="25.1" height="50.15" fill="#eba3a2" />
<line x1="612" y1="319.2" x2="612" y2="320.7" stroke="#000" stroke-width="0.7" />
<line x1="612" y1="275.12" x2="612" y2="280.89" stroke="#3f6d9c" stroke-width="0.7" />
<line x1="609" y1="275.12" x2="615" y2="275.12" stroke="#3f6d9c" stroke-width="0.7" />
<line x1="609" y1="280.89" x2="615" y2="280.89" stroke="#3f6d9c" stroke-width="0.7" />
<line x1="608" y1="277.41" x2="616" y2="277.41" stroke="#3f6d9c" stroke-width="0.7" />
<circle cx="608" cy="280.39" r="1.9" fill="#3f6d9c" />
<circle cx="612" cy="275.92" r="1.9" fill="#3f6d9c" />
<circle cx="616" cy="275.62" r="1.9" fill="#3f6d9c" />
<line x1="649.85" y1="319.2" x2="649.85" y2="320.7" stroke="#000" stroke-width="0.7" />
<line x1="649.85" y1="266.76" x2="649.85" y2="270.45" stroke="#e2504a" stroke-width="0.7" />
<line x1="646.85" y1="266.76" x2="652.85" y2="266.76" stroke="#e2504a" stroke-width="0.7" />
<line x1="646.85" y1="270.45" x2="652.85" y2="270.45" stroke="#e2504a" stroke-width="0.7" />
<line x1="645.85" y1="269.05" x2="653.85" y2="269.05" stroke="#e2504a" stroke-width="0.7" />
<circle cx="645.85" cy="269.95" r="1.9" fill="#e2504a" />
<circle cx="649.85" cy="267.26" r="1.9" fill="#e2504a" />
<circle cx="653.85" cy="269.65" r="1.9" fill="#e2504a" />
<path d="M611.9,264.2 V262 H649.8 V264.2" fill="none" stroke="#111" stroke-width="0.9" />
<text x="630.9" y="261.01" font-size="4.6" text-anchor="middle" font-weight="bold">*</text>
<text transform="translate(574.7,289.35) rotate(-90)" y="2.24" font-size="6.4" text-anchor="middle">Cell apoptosis rate (%)</text>
<text transform="translate(613.1,329.5) rotate(-45)" y="3.5" font-size="10" text-anchor="end">Ctrl</text>
<text transform="translate(652,328) rotate(-45)" y="3.5" font-size="10" text-anchor="end">TRIM35</text>
<text x="0" y="377.5" font-size="24.3">C</text>
<text transform="translate(13,424.7) rotate(-90)" y="3.92" font-size="11.2" text-anchor="middle">MDA-MB-231</text>
<text transform="translate(15.4,528) rotate(-90)" y="3.92" font-size="11.2" text-anchor="middle">MCF7</text>
<text transform="translate(18.4,644.7) rotate(-90)" y="3.92" font-size="11.2" text-anchor="middle">CAL51</text>
<rect x="35" y="385.7" width="73.6" height="73.3" fill="#fff" stroke="#9a9a9a" stroke-width="0.6" />
<line x1="35" y1="386" x2="108.6" y2="386" stroke="#c8c8c8" stroke-width="1.2" />
<path d="M35.0,459.0 L35.0,459.0 L35.5,459.0 L35.9,459.0 L36.4,459.0 L36.8,459.0 L37.3,459.0 L37.8,459.0 L38.2,459.0 L38.7,459.0 L39.1,459.0 L39.6,459.0 L40.1,459.0 L40.5,459.0 L41.0,459.0 L41.4,459.0 L41.9,459.0 L42.4,459.0 L42.8,459.0 L43.3,459.0 L43.7,459.0 L44.2,459.0 L44.7,459.0 L45.1,459.0 L45.6,459.0 L46.0,459.0 L46.5,459.0 L47.0,459.0 L47.4,459.0 L47.9,459.0 L48.3,459.0 L48.8,459.0 L49.3,459.0 L49.7,459.0 L50.2,459.0 L50.6,459.0 L51.1,459.0 L51.6,459.0 L52.0,459.0 L52.5,459.0 L52.9,459.0 L53.4,459.0 L53.9,459.0 L54.3,459.0 L54.8,459.0 L55.2,459.0 L55.7,459.0 L56.2,459.0 L56.6,459.0 L57.1,459.0 L57.5,459.0 L58.0,459.0 L58.5,459.0 L58.9,385.7 L59.4,385.7 L59.8,388.1 L60.3,394.4 L60.8,403.1 L61.2,412.5 L61.7,420.4 L62.1,426.5 L62.6,431.0 L63.1,434.0 L63.5,436.0 L64.0,437.3 L64.4,438.1 L64.9,438.6 L65.4,438.9 L65.8,439.2 L66.3,439.5 L66.7,439.7 L67.2,440.0 L67.7,440.2 L68.1,440.4 L68.6,440.7 L69.0,440.9 L69.5,441.1 L70.0,441.4 L70.4,441.6 L70.9,441.8 L71.3,442.1 L71.8,442.3 L72.3,442.5 L72.7,442.8 L73.2,443.0 L73.6,443.2 L74.1,443.5 L74.6,443.7 L75.0,443.9 L75.5,444.2 L75.9,444.4 L76.4,444.6 L76.9,444.8 L77.3,445.0 L77.8,445.2 L78.2,445.4 L78.7,445.5 L79.2,445.6 L79.6,445.7 L80.1,445.7 L80.5,445.7 L81.0,445.6 L81.5,445.4 L81.9,445.2 L82.4,444.8 L82.8,444.3 L83.3,443.7 L83.8,443.0 L84.2,442.2 L84.7,441.3 L85.1,440.3 L85.6,439.3 L86.1,438.2 L86.5,437.1 L87.0,436.1 L87.4,435.1 L87.9,434.3 L88.4,433.7 L88.8,433.3 L89.3,433.2 L89.7,433.4 L90.2,433.9 L90.7,434.6 L91.1,435.6 L91.6,436.9 L92.0,438.4 L92.5,439.9 L93.0,441.6 L93.4,443.3 L93.9,445.0 L94.3,446.6 L94.8,448.2 L95.3,449.7 L95.7,451.1 L96.2,452.3 L96.6,453.4 L97.1,454.4 L97.6,455.3 L98.0,456.0 L98.5,456.6 L98.9,457.2 L99.4,457.6 L99.9,457.9 L100.3,458.2 L100.8,458.4 L101.2,458.6 L101.7,458.7 L102.2,458.8 L102.6,458.8 L103.1,458.9 L103.5,458.9 L104.0,458.9 L104.5,459.0 L104.9,459.0 L105.4,459.0 L105.8,459.0 L106.3,459.0 L106.8,459.0 L107.2,459.0 L107.7,459.0 L108.1,459.0 L108.6,459.0 L108.6,459.0 Z" fill="#d4d450" fill-opacity="0.9"/>
<path d="M35.0,459.0 L35.0,459.0 L35.5,459.0 L35.9,459.0 L36.4,459.0 L36.8,459.0 L37.3,459.0 L37.8,459.0 L38.2,459.0 L38.7,459.0 L39.1,459.0 L39.6,459.0 L40.1,459.0 L40.5,459.0 L41.0,459.0 L41.4,459.0 L41.9,459.0 L42.4,459.0 L42.8,459.0 L43.3,459.0 L43.7,459.0 L44.2,459.0 L44.7,459.0 L45.1,459.0 L45.6,459.0 L46.0,459.0 L46.5,459.0 L47.0,459.0 L47.4,459.0 L47.9,459.0 L48.3,459.0 L48.8,459.0 L49.3,459.0 L49.7,459.0 L50.2,459.0 L50.6,459.0 L51.1,459.0 L51.6,459.0 L52.0,459.0 L52.5,459.0 L52.9,459.0 L53.4,459.0 L53.9,459.0 L54.3,459.0 L54.8,459.0 L55.2,459.0 L55.7,459.0 L56.2,459.0 L56.6,459.0 L57.1,459.0 L57.5,459.0 L58.0,459.0 L58.5,459.0 L58.9,459.0 L59.4,459.0 L59.8,459.0 L60.3,459.0 L60.8,459.0 L61.2,459.0 L61.7,459.0 L62.1,459.0 L62.6,459.0 L63.1,459.0 L63.5,459.0 L64.0,459.0 L64.4,459.0 L64.9,459.0 L65.4,459.0 L65.8,459.0 L66.3,459.0 L66.7,459.0 L67.2,459.0 L67.7,459.0 L68.1,459.0 L68.6,459.0 L69.0,459.0 L69.5,459.0 L70.0,459.0 L70.4,459.0 L70.9,459.0 L71.3,459.0 L71.8,459.0 L72.3,459.0 L72.7,459.0 L73.2,459.0 L73.6,459.0 L74.1,459.0 L74.6,459.0 L75.0,459.0 L75.5,459.0 L75.9,459.0 L76.4,458.9 L76.9,458.9 L77.3,458.9 L77.8,458.8 L78.2,458.8 L78.7,458.7 L79.2,458.6 L79.6,458.4 L80.1,458.2 L80.5,457.9 L81.0,457.6 L81.5,457.2 L81.9,456.7 L82.4,456.1 L82.8,455.4 L83.3,454.5 L83.8,453.6 L84.2,452.5 L84.7,451.4 L85.1,450.1 L85.6,448.8 L86.1,447.4 L86.5,446.0 L87.0,444.7 L87.4,443.4 L87.9,442.2 L88.4,441.2 L88.8,440.4 L89.3,439.7 L89.7,439.3 L90.2,439.2 L90.7,439.3 L91.1,439.7 L91.6,440.4 L92.0,441.2 L92.5,442.2 L93.0,443.4 L93.4,444.7 L93.9,446.0 L94.3,447.4 L94.8,448.8 L95.3,450.1 L95.7,451.4 L96.2,452.5 L96.6,453.6 L97.1,454.5 L97.6,455.4 L98.0,456.1 L98.5,456.7 L98.9,457.2 L99.4,457.6 L99.9,457.9 L100.3,458.2 L100.8,458.4 L101.2,458.6 L101.7,458.7 L102.2,458.8 L102.6,458.8 L103.1,458.9 L103.5,458.9 L104.0,458.9 L104.5,459.0 L104.9,459.0 L105.4,459.0 L105.8,459.0 L106.3,459.0 L106.8,459.0 L107.2,459.0 L107.7,459.0 L108.1,459.0 L108.6,459.0 L108.6,459.0 Z" fill="#50f2f2" fill-opacity="0.85"/>
<path d="M35.0,459.0 L35.0,459.0 L35.5,459.0 L35.9,459.0 L36.4,459.0 L36.8,459.0 L37.3,459.0 L37.8,459.0 L38.2,459.0 L38.7,459.0 L39.1,459.0 L39.6,459.0 L40.1,459.0 L40.5,459.0 L41.0,459.0 L41.4,459.0 L41.9,459.0 L42.4,459.0 L42.8,459.0 L43.3,459.0 L43.7,459.0 L44.2,459.0 L44.7,459.0 L45.1,459.0 L45.6,459.0 L46.0,459.0 L46.5,459.0 L47.0,459.0 L47.4,459.0 L47.9,459.0 L48.3,459.0 L48.8,459.0 L49.3,459.0 L49.7,459.0 L50.2,459.0 L50.6,459.0 L51.1,459.0 L51.6,458.9 L52.0,458.8 L52.5,458.5 L52.9,458.1 L53.4,457.1 L53.9,455.5 L54.3,452.9 L54.8,449.0 L55.2,443.4 L55.7,436.0 L56.2,427.1 L56.6,417.2 L57.1,407.4 L57.5,399.0 L58.0,393.2 L58.5,390.8 L58.9,392.5 L59.4,397.8 L59.8,405.8 L60.3,415.5 L60.8,425.4 L61.2,434.5 L61.7,442.2 L62.1,448.1 L62.6,452.4 L63.1,455.2 L63.5,456.9 L64.0,457.9 L64.4,458.5 L64.9,458.8 L65.4,458.9 L65.8,459.0 L66.3,459.0 L66.7,459.0 L67.2,459.0 L67.7,459.0 L68.1,459.0 L68.6,459.0 L69.0,459.0 L69.5,459.0 L70.0,459.0 L70.4,459.0 L70.9,459.0 L71.3,459.0 L71.8,459.0 L72.3,459.0 L72.7,459.0 L73.2,459.0 L73.6,459.0 L74.1,459.0 L74.6,459.0 L75.0,459.0 L75.5,459.0 L75.9,459.0 L76.4,459.0 L76.9,459.0 L77.3,459.0 L77.8,459.0 L78.2,459.0 L78.7,459.0 L79.2,459.0 L79.6,459.0 L80.1,459.0 L80.5,459.0 L81.0,459.0 L81.5,459.0 L81.9,459.0 L82.4,459.0 L82.8,459.0 L83.3,459.0 L83.8,459.0 L84.2,459.0 L84.7,459.0 L85.1,459.0 L85.6,459.0 L86.1,459.0 L86.5,459.0 L87.0,459.0 L87.4,459.0 L87.9,459.0 L88.4,459.0 L88.8,459.0 L89.3,459.0 L89.7,459.0 L90.2,459.0 L90.7,459.0 L91.1,459.0 L91.6,459.0 L92.0,459.0 L92.5,459.0 L93.0,459.0 L93.4,459.0 L93.9,459.0 L94.3,459.0 L94.8,459.0 L95.3,459.0 L95.7,459.0 L96.2,459.0 L96.6,459.0 L97.1,459.0 L97.6,459.0 L98.0,459.0 L98.5,459.0 L98.9,459.0 L99.4,459.0 L99.9,459.0 L100.3,459.0 L100.8,459.0 L101.2,459.0 L101.7,459.0 L102.2,459.0 L102.6,459.0 L103.1,459.0 L103.5,459.0 L104.0,459.0 L104.5,459.0 L104.9,459.0 L105.4,459.0 L105.8,459.0 L106.3,459.0 L106.8,459.0 L107.2,459.0 L107.7,459.0 L108.1,459.0 L108.6,459.0 L108.6,459.0 Z" fill="#3fd13f" fill-opacity="0.85"/>
<path d="M35.0,459.0 L35.5,459.0 L35.9,459.0 L36.4,459.0 L36.8,459.0 L37.3,459.0 L37.8,459.0 L38.2,459.0 L38.7,459.0 L39.1,459.0 L39.6,459.0 L40.1,459.0 L40.5,459.0 L41.0,459.0 L41.4,459.0 L41.9,459.0 L42.4,459.0 L42.8,459.0 L43.3,459.0 L43.7,459.0 L44.2,459.0 L44.7,459.0 L45.1,459.0 L45.6,459.0 L46.0,459.0 L46.5,459.0 L47.0,459.0 L47.4,459.0 L47.9,459.0 L48.3,459.0 L48.8,459.0 L49.3,459.0 L49.7,459.0 L50.2,459.0 L50.6,459.0 L51.1,459.0 L51.6,458.9 L52.0,458.8 L52.5,458.5 L52.9,458.1 L53.4,457.1 L53.9,455.5 L54.3,452.9 L54.8,449.0 L55.2,443.4 L55.7,436.0 L56.2,427.1 L56.6,417.2 L57.1,407.4 L57.5,398.7 L58.0,389.2 L58.5,385.7 L58.9,385.7 L59.4,385.7 L59.8,388.1 L60.3,394.4 L60.8,403.1 L61.2,412.5 L61.7,420.4 L62.1,426.5 L62.6,431.0 L63.1,434.0 L63.5,436.0 L64.0,437.3 L64.4,438.1 L64.9,438.6 L65.4,438.9 L65.8,439.2 L66.3,439.5 L66.7,439.7 L67.2,440.0 L67.7,440.2 L68.1,440.4 L68.6,440.7 L69.0,440.9 L69.5,441.1 L70.0,441.4 L70.4,441.6 L70.9,441.8 L71.3,442.1 L71.8,442.3 L72.3,442.5 L72.7,442.8 L73.2,443.0 L73.6,443.2 L74.1,443.5 L74.6,443.7 L75.0,443.9 L75.5,444.2 L75.9,444.4 L76.4,444.6 L76.9,444.8 L77.3,445.0 L77.8,445.2 L78.2,445.4 L78.7,445.5 L79.2,445.6 L79.6,445.7 L80.1,445.7 L80.5,445.7 L81.0,445.6 L81.5,445.4 L81.9,445.2 L82.4,444.8 L82.8,444.3 L83.3,443.7 L83.8,443.0 L84.2,442.2 L84.7,441.3 L85.1,440.3 L85.6,439.3 L86.1,438.2 L86.5,437.1 L87.0,436.1 L87.4,435.1 L87.9,434.3 L88.4,433.7 L88.8,433.3 L89.3,433.2 L89.7,433.4 L90.2,433.9 L90.7,434.6 L91.1,435.6 L91.6,436.9 L92.0,438.4 L92.5,439.9 L93.0,441.6 L93.4,443.3 L93.9,445.0 L94.3,446.6 L94.8,448.2 L95.3,449.7 L95.7,451.1 L96.2,452.3 L96.6,453.4 L97.1,454.4 L97.6,455.3 L98.0,456.0 L98.5,456.6 L98.9,457.2 L99.4,457.6 L99.9,457.9 L100.3,458.2 L100.8,458.4 L101.2,458.6 L101.7,458.7 L102.2,458.8 L102.6,458.8 L103.1,458.9 L103.5,458.9 L104.0,458.9 L104.5,459.0 L104.9,459.0 L105.4,459.0 L105.8,459.0 L106.3,459.0 L106.8,459.0 L107.2,459.0 L107.7,459.0 L108.1,459.0 L108.6,459.0" fill="none" stroke="#d040d0" stroke-width="0.8" />
<path d="M35.0,459.0 L35.5,459.0 L35.9,459.0 L36.4,459.0 L36.8,459.0 L37.3,459.0 L37.8,459.0 L38.2,459.0 L38.7,459.0 L39.1,459.0 L39.6,459.0 L40.1,459.0 L40.5,459.0 L41.0,459.0 L41.4,459.0 L41.9,459.0 L42.4,459.0 L42.8,459.0 L43.3,459.0 L43.7,459.0 L44.2,459.0 L44.7,459.0 L45.1,459.0 L45.6,459.0 L46.0,459.0 L46.5,459.0 L47.0,459.0 L47.4,459.0 L47.9,459.0 L48.3,459.0 L48.8,459.0 L49.3,459.0 L49.7,459.0 L50.2,459.0 L50.6,459.0 L51.1,459.0 L51.6,458.9 L52.0,458.8 L52.5,458.5 L52.9,458.1 L53.4,457.1 L53.9,455.5 L54.3,452.9 L54.8,449.0 L55.2,443.4 L55.7,436.0 L56.2,427.1 L56.6,417.2 L57.1,407.4 L57.5,398.7 L58.0,389.0 L58.5,384.7 L58.9,384.8 L59.4,385.4 L59.8,387.5 L60.3,393.9 L60.8,402.3 L61.2,411.5 L61.7,420.2 L62.1,426.5 L62.6,430.0 L63.1,433.5 L63.5,435.1 L64.0,437.3 L64.4,437.5 L64.9,437.7 L65.4,438.7 L65.8,438.1 L66.3,438.4 L66.7,439.7 L67.2,439.9 L67.7,439.6 L68.1,439.3 L68.6,440.2 L69.0,440.6 L69.5,440.6 L70.0,441.3 L70.4,441.3 L70.9,441.3 L71.3,441.5 L71.8,442.0 L72.3,442.3 L72.7,442.5 L73.2,442.5 L73.6,442.9 L74.1,443.4 L74.6,442.7 L75.0,443.3 L75.5,443.4 L75.9,444.2 L76.4,443.4 L76.9,443.8 L77.3,444.9 L77.8,444.8 L78.2,444.5 L78.7,444.7 L79.2,444.5 L79.6,445.2 L80.1,444.7 L80.5,444.9 L81.0,445.2 L81.5,444.7 L81.9,444.1 L82.4,443.8 L82.8,443.7 L83.3,443.0 L83.8,443.0 L84.2,441.9 L84.7,440.4 L85.1,439.8 L85.6,439.1 L86.1,437.5 L86.5,436.3 L87.0,435.3 L87.4,434.7 L87.9,433.8 L88.4,433.1 L88.8,432.4 L89.3,432.6 L89.7,432.9 L90.2,433.3 L90.7,434.6 L91.1,435.6 L91.6,436.1 L92.0,437.2 L92.5,439.2 L93.0,441.6 L93.4,443.3 L93.9,445.0 L94.3,446.6 L94.8,448.2 L95.3,449.7 L95.7,451.1 L96.2,452.3 L96.6,453.4 L97.1,454.4 L97.6,455.3 L98.0,456.0 L98.5,456.6 L98.9,457.2 L99.4,457.6 L99.9,457.9 L100.3,458.2 L100.8,458.4 L101.2,458.6 L101.7,458.7 L102.2,458.8 L102.6,458.8 L103.1,458.9 L103.5,458.9 L104.0,458.9 L104.5,459.0 L104.9,459.0 L105.4,459.0 L105.8,459.0 L106.3,459.0 L106.8,459.0 L107.2,459.0 L107.7,459.0 L108.1,459.0 L108.6,459.0" fill="none" stroke="#7a2a2a" stroke-width="0.5" opacity="0.7"/>
<line x1="90.2" y1="385.7" x2="90.2" y2="459" stroke="#7ff0f0" stroke-width="0.9" />
<line x1="58.5" y1="385.7" x2="58.5" y2="391.7" stroke="#60e060" stroke-width="0.6" />
<text x="58.5" y="390.18" font-size="2.8" text-anchor="middle" fill="#333">G1</text>
<text x="90.2" y="390.18" font-size="2.8" text-anchor="middle" fill="#333">G2</text>
<text x="68.9" y="402.54" font-size="6.4" fill="#222">G1: 33.50 %</text>
<text x="68.9" y="410.64" font-size="6.4" fill="#222">S:&#160;&#160;&#160;&#160;41.50 %</text>
<text x="68.9" y="418.74" font-size="6.4" fill="#222">G2: 24.97 %</text>
<line x1="34" y1="459" x2="35" y2="459" stroke="#888" stroke-width="0.4" />
<text transform="translate(31.7,459) rotate(-90)" y="0.84" font-size="2.4" text-anchor="middle" fill="#666">0</text>
<line x1="34" y1="442.34" x2="35" y2="442.34" stroke="#888" stroke-width="0.4" />
<text transform="translate(31.7,442.34) rotate(-90)" y="0.84" font-size="2.4" text-anchor="middle" fill="#666">50</text>
<line x1="34" y1="425.68" x2="35" y2="425.68" stroke="#888" stroke-width="0.4" />
<text transform="translate(31.7,425.68) rotate(-90)" y="0.84" font-size="2.4" text-anchor="middle" fill="#666">100</text>
<line x1="34" y1="409.02" x2="35" y2="409.02" stroke="#888" stroke-width="0.4" />
<text transform="translate(31.7,409.02) rotate(-90)" y="0.84" font-size="2.4" text-anchor="middle" fill="#666">150</text>
<line x1="34" y1="392.36" x2="35" y2="392.36" stroke="#888" stroke-width="0.4" />
<text transform="translate(31.7,392.36) rotate(-90)" y="0.84" font-size="2.4" text-anchor="middle" fill="#666">200</text>
<text transform="translate(28.5,422.35) rotate(-90)" y="0.91" font-size="2.6" text-anchor="middle" fill="#555">Count</text>
<line x1="35.74" y1="459" x2="35.74" y2="460" stroke="#888" stroke-width="0.4" />
<text x="35.74" y="464.76" font-size="3.6" text-anchor="middle" fill="#444">3.1</text>
<line x1="59.29" y1="459" x2="59.29" y2="460" stroke="#888" stroke-width="0.4" />
<text x="59.29" y="464.76" font-size="3.6" text-anchor="middle" fill="#444">8</text>
<line x1="79.9" y1="459" x2="79.9" y2="460" stroke="#888" stroke-width="0.4" />
<text x="79.9" y="464.76" font-size="3.6" text-anchor="middle" fill="#444">12</text>
<line x1="100.5" y1="459" x2="100.5" y2="460" stroke="#888" stroke-width="0.4" />
<text x="100.5" y="464.76" font-size="3.6" text-anchor="middle" fill="#444">16</text>
<line x1="107.86" y1="459" x2="107.86" y2="460" stroke="#888" stroke-width="0.4" />
<text x="107.86" y="464.76" font-size="3.6" text-anchor="middle" fill="#444">17.5</text>
<text x="71.8" y="471.26" font-size="3.6" text-anchor="middle" fill="#444">PI-A (10<tspan dy="-1" font-size="2.2">5</tspan><tspan dy="1">)</tspan></text>
<rect x="128.5" y="386.6" width="74.3" height="72.9" fill="#fff" stroke="#9a9a9a" stroke-width="0.6" />
<line x1="128.5" y1="386.9" x2="202.8" y2="386.9" stroke="#c8c8c8" stroke-width="1.2" />
<path d="M128.5,459.5 L128.5,459.5 L129.0,459.5 L129.4,459.5 L129.9,459.5 L130.4,459.5 L130.8,459.5 L131.3,459.5 L131.8,459.5 L132.2,459.5 L132.7,459.5 L133.1,459.5 L133.6,459.5 L134.1,459.5 L134.5,459.5 L135.0,459.5 L135.5,459.5 L135.9,459.5 L136.4,459.5 L136.9,459.5 L137.3,459.5 L137.8,459.5 L138.3,459.5 L138.7,459.5 L139.2,459.5 L139.6,459.5 L140.1,459.5 L140.6,459.5 L141.0,459.5 L141.5,459.5 L142.0,459.5 L142.4,459.5 L142.9,459.5 L143.4,459.5 L143.8,459.5 L144.3,459.5 L144.8,459.5 L145.2,459.5 L145.7,459.5 L146.1,459.5 L146.6,459.5 L147.1,459.5 L147.5,459.5 L148.0,459.5 L148.5,459.5 L148.9,459.5 L149.4,459.5 L149.9,459.5 L150.3,459.5 L150.8,459.5 L151.3,459.5 L151.7,459.5 L152.2,459.5 L152.6,459.5 L153.1,459.5 L153.6,459.5 L154.0,386.6 L154.5,386.6 L155.0,386.6 L155.4,392.6 L155.9,401.0 L156.4,410.7 L156.8,419.0 L157.3,425.5 L157.8,430.2 L158.2,433.5 L158.7,435.6 L159.1,436.9 L159.6,437.7 L160.1,438.2 L160.5,438.5 L161.0,438.8 L161.5,439.1 L161.9,439.3 L162.4,439.5 L162.9,439.7 L163.3,440.0 L163.8,440.2 L164.3,440.4 L164.7,440.6 L165.2,440.8 L165.7,441.0 L166.1,441.3 L166.6,441.5 L167.0,441.7 L167.5,441.9 L168.0,442.1 L168.4,442.3 L168.9,442.6 L169.4,442.8 L169.8,443.0 L170.3,443.2 L170.8,443.4 L171.2,443.6 L171.7,443.9 L172.2,444.1 L172.6,444.3 L173.1,444.5 L173.5,444.7 L174.0,444.8 L174.5,445.0 L174.9,445.2 L175.4,445.3 L175.9,445.4 L176.3,445.4 L176.8,445.4 L177.3,445.3 L177.7,445.1 L178.2,444.8 L178.7,444.4 L179.1,443.9 L179.6,443.2 L180.0,442.4 L180.5,441.5 L181.0,440.4 L181.4,439.3 L181.9,438.0 L182.4,436.7 L182.8,435.4 L183.3,434.1 L183.8,432.9 L184.2,431.9 L184.7,431.2 L185.2,430.7 L185.6,430.6 L186.1,430.9 L186.5,431.5 L187.0,432.5 L187.5,433.8 L187.9,435.4 L188.4,437.2 L188.9,439.2 L189.3,441.2 L189.8,443.3 L190.3,445.3 L190.7,447.2 L191.2,449.0 L191.7,450.6 L192.1,452.1 L192.6,453.4 L193.0,454.6 L193.5,455.6 L194.0,456.4 L194.4,457.1 L194.9,457.7 L195.4,458.1 L195.8,458.5 L196.3,458.7 L196.8,459.0 L197.2,459.1 L197.7,459.2 L198.2,459.3 L198.6,459.4 L199.1,459.4 L199.5,459.4 L200.0,459.5 L200.5,459.5 L200.9,459.5 L201.4,459.5 L201.9,459.5 L202.3,459.5 L202.8,459.5 L202.8,459.5 Z" fill="#d4d450" fill-opacity="0.9"/>
<path d="M128.5,459.5 L128.5,459.5 L129.0,459.5 L129.4,459.5 L129.9,459.5 L130.4,459.5 L130.8,459.5 L131.3,459.5 L131.8,459.5 L132.2,459.5 L132.7,459.5 L133.1,459.5 L133.6,459.5 L134.1,459.5 L134.5,459.5 L135.0,459.5 L135.5,459.5 L135.9,459.5 L136.4,459.5 L136.9,459.5 L137.3,459.5 L137.8,459.5 L138.3,459.5 L138.7,459.5 L139.2,459.5 L139.6,459.5 L140.1,459.5 L140.6,459.5 L141.0,459.5 L141.5,459.5 L142.0,459.5 L142.4,459.5 L142.9,459.5 L143.4,459.5 L143.8,459.5 L144.3,459.5 L144.8,459.5 L145.2,459.5 L145.7,459.5 L146.1,459.5 L146.6,459.5 L147.1,459.5 L147.5,459.5 L148.0,459.5 L148.5,459.5 L148.9,459.5 L149.4,459.5 L149.9,459.5 L150.3,459.5 L150.8,459.5 L151.3,459.5 L151.7,459.5 L152.2,459.5 L152.6,459.5 L153.1,459.5 L153.6,459.5 L154.0,459.5 L154.5,459.5 L155.0,459.5 L155.4,459.5 L155.9,459.5 L156.4,459.5 L156.8,459.5 L157.3,459.5 L157.8,459.5 L158.2,459.5 L158.7,459.5 L159.1,459.5 L159.6,459.5 L160.1,459.5 L160.5,459.5 L161.0,459.5 L161.5,459.5 L161.9,459.5 L162.4,459.5 L162.9,459.5 L163.3,459.5 L163.8,459.5 L164.3,459.5 L164.7,459.5 L165.2,459.5 L165.7,459.5 L166.1,459.5 L166.6,459.5 L167.0,459.5 L167.5,459.5 L168.0,459.5 L168.4,459.5 L168.9,459.5 L169.4,459.5 L169.8,459.5 L170.3,459.5 L170.8,459.5 L171.2,459.5 L171.7,459.5 L172.2,459.5 L172.6,459.5 L173.1,459.5 L173.5,459.4 L174.0,459.4 L174.5,459.3 L174.9,459.3 L175.4,459.2 L175.9,459.0 L176.3,458.8 L176.8,458.6 L177.3,458.3 L177.7,457.9 L178.2,457.4 L178.7,456.8 L179.1,456.0 L179.6,455.1 L180.0,454.1 L180.5,452.9 L181.0,451.6 L181.4,450.2 L181.9,448.6 L182.4,447.0 L182.8,445.4 L183.3,443.8 L183.8,442.3 L184.2,440.9 L184.7,439.7 L185.2,438.8 L185.6,438.1 L186.1,437.7 L186.5,437.6 L187.0,437.9 L187.5,438.5 L187.9,439.4 L188.4,440.5 L188.9,441.8 L189.3,443.3 L189.8,444.8 L190.3,446.5 L190.7,448.1 L191.2,449.6 L191.7,451.1 L192.1,452.5 L192.6,453.7 L193.0,454.8 L193.5,455.7 L194.0,456.5 L194.4,457.2 L194.9,457.7 L195.4,458.2 L195.8,458.5 L196.3,458.8 L196.8,459.0 L197.2,459.1 L197.7,459.2 L198.2,459.3 L198.6,459.4 L199.1,459.4 L199.5,459.4 L200.0,459.5 L200.5,459.5 L200.9,459.5 L201.4,459.5 L201.9,459.5 L202.3,459.5 L202.8,459.5 L202.8,459.5 Z" fill="#50f2f2" fill-opacity="0.85"/>
<path d="M128.5,459.5 L128.5,459.5 L129.0,459.5 L129.4,459.5 L129.9,459.5 L130.4,459.5 L130.8,459.5 L131.3,459.5 L131.8,459.5 L132.2,459.5 L132.7,459.5 L133.1,459.5 L133.6,459.5 L134.1,459.5 L134.5,459.5 L135.0,459.5 L135.5,459.5 L135.9,459.5 L136.4,459.5 L136.9,459.5 L137.3,459.5 L137.8,459.5 L138.3,459.5 L138.7,459.5 L139.2,459.5 L139.6,459.5 L140.1,459.5 L140.6,459.5 L141.0,459.5 L141.5,459.5 L142.0,459.5 L142.4,459.5 L142.9,459.5 L143.4,459.5 L143.8,459.5 L144.3,459.5 L144.8,459.5 L145.2,459.5 L145.7,459.5 L146.1,459.5 L146.6,459.4 L147.1,459.3 L147.5,459.1 L148.0,458.7 L148.5,457.9 L148.9,456.5 L149.4,454.2 L149.9,450.5 L150.3,445.2 L150.8,438.1 L151.3,429.3 L151.7,419.3 L152.2,409.1 L152.6,400.1 L153.1,393.5 L153.6,390.4 L154.0,391.3 L154.5,396.2 L155.0,404.1 L155.4,413.8 L155.9,424.0 L156.4,433.6 L156.8,441.6 L157.3,447.9 L157.8,452.4 L158.2,455.4 L158.7,457.3 L159.1,458.4 L159.6,459.0 L160.1,459.3 L160.5,459.4 L161.0,459.5 L161.5,459.5 L161.9,459.5 L162.4,459.5 L162.9,459.5 L163.3,459.5 L163.8,459.5 L164.3,459.5 L164.7,459.5 L165.2,459.5 L165.7,459.5 L166.1,459.5 L166.6,459.5 L167.0,459.5 L167.5,459.5 L168.0,459.5 L168.4,459.5 L168.9,459.5 L169.4,459.5 L169.8,459.5 L170.3,459.5 L170.8,459.5 L171.2,459.5 L171.7,459.5 L172.2,459.5 L172.6,459.5 L173.1,459.5 L173.5,459.5 L174.0,459.5 L174.5,459.5 L174.9,459.5 L175.4,459.5 L175.9,459.5 L176.3,459.5 L176.8,459.5 L177.3,459.5 L177.7,459.5 L178.2,459.5 L178.7,459.5 L179.1,459.5 L179.6,459.5 L180.0,459.5 L180.5,459.5 L181.0,459.5 L181.4,459.5 L181.9,459.5 L182.4,459.5 L182.8,459.5 L183.3,459.5 L183.8,459.5 L184.2,459.5 L184.7,459.5 L185.2,459.5 L185.6,459.5 L186.1,459.5 L186.5,459.5 L187.0,459.5 L187.5,459.5 L187.9,459.5 L188.4,459.5 L188.9,459.5 L189.3,459.5 L189.8,459.5 L190.3,459.5 L190.7,459.5 L191.2,459.5 L191.7,459.5 L192.1,459.5 L192.6,459.5 L193.0,459.5 L193.5,459.5 L194.0,459.5 L194.4,459.5 L194.9,459.5 L195.4,459.5 L195.8,459.5 L196.3,459.5 L196.8,459.5 L197.2,459.5 L197.7,459.5 L198.2,459.5 L198.6,459.5 L199.1,459.5 L199.5,459.5 L200.0,459.5 L200.5,459.5 L200.9,459.5 L201.4,459.5 L201.9,459.5 L202.3,459.5 L202.8,459.5 L202.8,459.5 Z" fill="#3fd13f" fill-opacity="0.85"/>
<path d="M128.5,459.5 L129.0,459.5 L129.4,459.5 L129.9,459.5 L130.4,459.5 L130.8,459.5 L131.3,459.5 L131.8,459.5 L132.2,459.5 L132.7,459.5 L133.1,459.5 L133.6,459.5 L134.1,459.5 L134.5,459.5 L135.0,459.5 L135.5,459.5 L135.9,459.5 L136.4,459.5 L136.9,459.5 L137.3,459.5 L137.8,459.5 L138.3,459.5 L138.7,459.5 L139.2,459.5 L139.6,459.5 L140.1,459.5 L140.6,459.5 L141.0,459.5 L141.5,459.5 L142.0,459.5 L142.4,459.5 L142.9,459.5 L143.4,459.5 L143.8,459.5 L144.3,459.5 L144.8,459.5 L145.2,459.5 L145.7,459.5 L146.1,459.5 L146.6,459.4 L147.1,459.3 L147.5,459.1 L148.0,458.7 L148.5,457.9 L148.9,456.5 L149.4,454.2 L149.9,450.5 L150.3,445.2 L150.8,438.1 L151.3,429.3 L151.7,419.3 L152.2,409.1 L152.6,400.1 L153.1,390.1 L153.6,386.6 L154.0,386.6 L154.5,386.6 L155.0,386.6 L155.4,392.6 L155.9,401.0 L156.4,410.7 L156.8,419.0 L157.3,425.5 L157.8,430.2 L158.2,433.5 L158.7,435.6 L159.1,436.9 L159.6,437.7 L160.1,438.2 L160.5,438.5 L161.0,438.8 L161.5,439.1 L161.9,439.3 L162.4,439.5 L162.9,439.7 L163.3,440.0 L163.8,440.2 L164.3,440.4 L164.7,440.6 L165.2,440.8 L165.7,441.0 L166.1,441.3 L166.6,441.5 L167.0,441.7 L167.5,441.9 L168.0,442.1 L168.4,442.3 L168.9,442.6 L169.4,442.8 L169.8,443.0 L170.3,443.2 L170.8,443.4 L171.2,443.6 L171.7,443.9 L172.2,444.1 L172.6,444.3 L173.1,444.5 L173.5,444.7 L174.0,444.8 L174.5,445.0 L174.9,445.2 L175.4,445.3 L175.9,445.4 L176.3,445.4 L176.8,445.4 L177.3,445.3 L177.7,445.1 L178.2,444.8 L178.7,444.4 L179.1,443.9 L179.6,443.2 L180.0,442.4 L180.5,441.5 L181.0,440.4 L181.4,439.3 L181.9,438.0 L182.4,436.7 L182.8,435.4 L183.3,434.1 L183.8,432.9 L184.2,431.9 L184.7,431.2 L185.2,430.7 L185.6,430.6 L186.1,430.9 L186.5,431.5 L187.0,432.5 L187.5,433.8 L187.9,435.4 L188.4,437.2 L188.9,439.2 L189.3,441.2 L189.8,443.3 L190.3,445.3 L190.7,447.2 L191.2,449.0 L191.7,450.6 L192.1,452.1 L192.6,453.4 L193.0,454.6 L193.5,455.6 L194.0,456.4 L194.4,457.1 L194.9,457.7 L195.4,458.1 L195.8,458.5 L196.3,458.7 L196.8,459.0 L197.2,459.1 L197.7,459.2 L198.2,459.3 L198.6,459.4 L199.1,459.4 L199.5,459.4 L200.0,459.5 L200.5,459.5 L200.9,459.5 L201.4,459.5 L201.9,459.5 L202.3,459.5 L202.8,459.5" fill="none" stroke="#d040d0" stroke-width="0.8" />
<path d="M128.5,459.5 L129.0,459.5 L129.4,459.5 L129.9,459.5 L130.4,459.5 L130.8,459.5 L131.3,459.5 L131.8,459.5 L132.2,459.5 L132.7,459.5 L133.1,459.5 L133.6,459.5 L134.1,459.5 L134.5,459.5 L135.0,459.5 L135.5,459.5 L135.9,459.5 L136.4,459.5 L136.9,459.5 L137.3,459.5 L137.8,459.5 L138.3,459.5 L138.7,459.5 L139.2,459.5 L139.6,459.5 L140.1,459.5 L140.6,459.5 L141.0,459.5 L141.5,459.5 L142.0,459.5 L142.4,459.5 L142.9,459.5 L143.4,459.5 L143.8,459.5 L144.3,459.5 L144.8,459.5 L145.2,459.5 L145.7,459.5 L146.1,459.5 L146.6,459.4 L147.1,459.3 L147.5,459.1 L148.0,458.7 L148.5,457.9 L148.9,456.5 L149.4,454.2 L149.9,450.5 L150.3,445.2 L150.8,438.1 L151.3,429.3 L151.7,419.3 L152.2,409.1 L152.6,400.1 L153.1,389.0 L153.6,385.5 L154.0,386.5 L154.5,386.5 L155.0,385.6 L155.4,391.8 L155.9,400.2 L156.4,410.4 L156.8,418.3 L157.3,424.8 L157.8,429.5 L158.2,433.3 L158.7,435.0 L159.1,436.4 L159.6,436.8 L160.1,437.0 L160.5,437.4 L161.0,438.2 L161.5,438.5 L161.9,439.0 L162.4,439.5 L162.9,439.7 L163.3,439.4 L163.8,439.8 L164.3,439.9 L164.7,439.5 L165.2,440.2 L165.7,440.4 L166.1,441.0 L166.6,441.4 L167.0,441.3 L167.5,441.7 L168.0,441.5 L168.4,441.1 L168.9,441.7 L169.4,442.6 L169.8,441.9 L170.3,442.3 L170.8,442.5 L171.2,442.6 L171.7,442.9 L172.2,443.1 L172.6,443.8 L173.1,443.3 L173.5,443.5 L174.0,444.7 L174.5,444.1 L174.9,444.3 L175.4,444.7 L175.9,444.7 L176.3,444.8 L176.8,444.3 L177.3,444.7 L177.7,444.1 L178.2,444.4 L178.7,443.4 L179.1,442.8 L179.6,442.7 L180.0,441.8 L180.5,440.4 L181.0,439.6 L181.4,438.7 L181.9,437.7 L182.4,436.3 L182.8,434.5 L183.3,433.9 L183.8,431.8 L184.2,431.6 L184.7,430.1 L185.2,430.4 L185.6,429.5 L186.1,430.0 L186.5,430.9 L187.0,431.8 L187.5,433.0 L187.9,434.7 L188.4,436.8 L188.9,438.9 L189.3,441.2 L189.8,443.3 L190.3,445.3 L190.7,447.2 L191.2,449.0 L191.7,450.6 L192.1,452.1 L192.6,453.4 L193.0,454.6 L193.5,455.6 L194.0,456.4 L194.4,457.1 L194.9,457.7 L195.4,458.1 L195.8,458.5 L196.3,458.7 L196.8,459.0 L197.2,459.1 L197.7,459.2 L198.2,459.3 L198.6,459.4 L199.1,459.4 L199.5,459.4 L200.0,459.5 L200.5,459.5 L200.9,459.5 L201.4,459.5 L201.9,459.5 L202.3,459.5 L202.8,459.5" fill="none" stroke="#7a2a2a" stroke-width="0.5" opacity="0.7"/>
<line x1="186.4" y1="386.6" x2="186.4" y2="459.5" stroke="#7ff0f0" stroke-width="0.9" />
<line x1="153.7" y1="386.6" x2="153.7" y2="392.6" stroke="#60e060" stroke-width="0.6" />
<text x="153.7" y="391.08" font-size="2.8" text-anchor="middle" fill="#333">G1</text>
<text x="186.4" y="391.08" font-size="2.8" text-anchor="middle" fill="#333">G2</text>
<text x="158" y="402.84" font-size="6.4" fill="#222">G1: 28.78 %</text>
<text x="158" y="410.94" font-size="6.4" fill="#222">S:&#160;&#160;&#160;&#160;47.52 %</text>
<text x="158" y="419.04" font-size="6.4" fill="#222">G2: 23.53 %</text>
<line x1="127.5" y1="459.5" x2="128.5" y2="459.5" stroke="#888" stroke-width="0.4" />
<text transform="translate(125.2,459.5) rotate(-90)" y="0.84" font-size="2.4" text-anchor="middle" fill="#666">0</text>
<line x1="127.5" y1="442.93" x2="128.5" y2="442.93" stroke="#888" stroke-width="0.4" />
<text transform="translate(125.2,442.93) rotate(-90)" y="0.84" font-size="2.4" text-anchor="middle" fill="#666">50</text>
<line x1="127.5" y1="426.36" x2="128.5" y2="426.36" stroke="#888" stroke-width="0.4" />
<text transform="translate(125.2,426.36) rotate(-90)" y="0.84" font-size="2.4" text-anchor="middle" fill="#666">100</text>
<line x1="127.5" y1="409.8" x2="128.5" y2="409.8" stroke="#888" stroke-width="0.4" />
<text transform="translate(125.2,409.8) rotate(-90)" y="0.84" font-size="2.4" text-anchor="middle" fill="#666">150</text>
<line x1="127.5" y1="393.23" x2="128.5" y2="393.23" stroke="#888" stroke-width="0.4" />
<text transform="translate(125.2,393.23) rotate(-90)" y="0.84" font-size="2.4" text-anchor="middle" fill="#666">200</text>
<text transform="translate(122,423.05) rotate(-90)" y="0.91" font-size="2.6" text-anchor="middle" fill="#555">Count</text>
<line x1="129.24" y1="459.5" x2="129.24" y2="460.5" stroke="#888" stroke-width="0.4" />
<text x="129.24" y="465.26" font-size="3.6" text-anchor="middle" fill="#444">3.1</text>
<line x1="153.02" y1="459.5" x2="153.02" y2="460.5" stroke="#888" stroke-width="0.4" />
<text x="153.02" y="465.26" font-size="3.6" text-anchor="middle" fill="#444">8</text>
<line x1="173.82" y1="459.5" x2="173.82" y2="460.5" stroke="#888" stroke-width="0.4" />
<text x="173.82" y="465.26" font-size="3.6" text-anchor="middle" fill="#444">12</text>
<line x1="194.63" y1="459.5" x2="194.63" y2="460.5" stroke="#888" stroke-width="0.4" />
<text x="194.63" y="465.26" font-size="3.6" text-anchor="middle" fill="#444">16</text>
<line x1="202.06" y1="459.5" x2="202.06" y2="460.5" stroke="#888" stroke-width="0.4" />
<text x="202.06" y="465.26" font-size="3.6" text-anchor="middle" fill="#444">17.5</text>
<text x="165.65" y="471.76" font-size="3.6" text-anchor="middle" fill="#444">PI-A (10<tspan dy="-1" font-size="2.2">5</tspan><tspan dy="1">)</tspan></text>
<rect x="33" y="494.3" width="76.4" height="74.3" fill="#fff" stroke="#9a9a9a" stroke-width="0.6" />
<line x1="33" y1="494.6" x2="109.4" y2="494.6" stroke="#c8c8c8" stroke-width="1.2" />
<path d="M33.0,568.6 L33.0,568.6 L33.5,568.6 L34.0,568.6 L34.4,568.6 L34.9,568.6 L35.4,568.6 L35.9,568.6 L36.3,568.6 L36.8,568.6 L37.3,568.6 L37.8,568.6 L38.3,568.6 L38.7,568.6 L39.2,568.6 L39.7,568.6 L40.2,568.6 L40.6,568.6 L41.1,568.6 L41.6,568.6 L42.1,568.6 L42.5,568.6 L43.0,568.6 L43.5,568.6 L44.0,568.6 L44.5,568.6 L44.9,568.6 L45.4,568.6 L45.9,568.6 L46.4,568.6 L46.8,568.6 L47.3,568.6 L47.8,568.6 L48.3,568.6 L48.8,568.6 L49.2,568.6 L49.7,568.6 L50.2,568.6 L50.7,568.6 L51.1,568.6 L51.6,568.6 L52.1,568.6 L52.6,568.6 L53.1,568.6 L53.5,568.6 L54.0,496.7 L54.5,496.1 L55.0,498.4 L55.4,503.0 L55.9,509.2 L56.4,517.8 L56.9,526.4 L57.4,534.1 L57.8,540.6 L58.3,545.6 L58.8,549.4 L59.3,552.0 L59.7,553.8 L60.2,554.9 L60.7,555.7 L61.2,556.2 L61.6,556.5 L62.1,556.7 L62.6,556.9 L63.1,557.0 L63.6,557.1 L64.0,557.2 L64.5,557.2 L65.0,557.2 L65.5,557.1 L65.9,557.0 L66.4,556.8 L66.9,556.5 L67.4,556.1 L67.9,555.7 L68.3,555.1 L68.8,554.5 L69.3,553.8 L69.8,553.0 L70.2,552.1 L70.7,551.1 L71.2,550.1 L71.7,549.1 L72.2,548.0 L72.6,547.0 L73.1,546.1 L73.6,545.3 L74.1,544.6 L74.5,544.1 L75.0,543.8 L75.5,543.7 L76.0,543.8 L76.5,544.3 L76.9,544.9 L77.4,545.8 L77.9,546.9 L78.4,548.1 L78.8,549.4 L79.3,550.9 L79.8,552.3 L80.3,553.8 L80.8,555.2 L81.2,556.6 L81.7,558.0 L82.2,559.3 L82.7,560.5 L83.1,561.6 L83.6,562.7 L84.1,563.6 L84.6,564.4 L85.0,565.2 L85.5,565.8 L86.0,566.3 L86.5,566.8 L87.0,567.2 L87.4,567.5 L87.9,567.7 L88.4,567.9 L88.9,568.1 L89.3,568.2 L89.8,568.3 L90.3,568.4 L90.8,568.4 L91.3,568.5 L91.7,568.5 L92.2,568.5 L92.7,568.6 L93.2,568.6 L93.6,568.6 L94.1,568.6 L94.6,568.6 L95.1,568.6 L95.6,568.6 L96.0,568.6 L96.5,568.6 L97.0,568.6 L97.5,568.6 L97.9,568.6 L98.4,568.6 L98.9,568.6 L99.4,568.6 L99.8,568.6 L100.3,568.6 L100.8,568.6 L101.3,568.6 L101.8,568.6 L102.2,568.6 L102.7,568.6 L103.2,568.6 L103.7,568.6 L104.1,568.6 L104.6,568.6 L105.1,568.6 L105.6,568.6 L106.1,568.6 L106.5,568.6 L107.0,568.6 L107.5,568.6 L108.0,568.6 L108.4,568.6 L108.9,568.6 L109.4,568.6 L109.4,568.6 Z" fill="#d4d450" fill-opacity="0.9"/>
<path d="M33.0,568.6 L33.0,568.6 L33.5,568.6 L34.0,568.6 L34.4,568.6 L34.9,568.6 L35.4,568.6 L35.9,568.6 L36.3,568.6 L36.8,568.6 L37.3,568.6 L37.8,568.6 L38.3,568.6 L38.7,568.6 L39.2,568.6 L39.7,568.6 L40.2,568.6 L40.6,568.6 L41.1,568.6 L41.6,568.6 L42.1,568.6 L42.5,568.6 L43.0,568.6 L43.5,568.6 L44.0,568.6 L44.5,568.6 L44.9,568.6 L45.4,568.6 L45.9,568.6 L46.4,568.6 L46.8,568.6 L47.3,568.6 L47.8,568.6 L48.3,568.6 L48.8,568.6 L49.2,568.6 L49.7,568.6 L50.2,568.6 L50.7,568.6 L51.1,568.6 L51.6,568.6 L52.1,568.6 L52.6,568.6 L53.1,568.6 L53.5,568.6 L54.0,568.6 L54.5,568.6 L55.0,568.6 L55.4,568.6 L55.9,568.6 L56.4,568.6 L56.9,568.6 L57.4,568.6 L57.8,568.6 L58.3,568.6 L58.8,568.6 L59.3,568.6 L59.7,568.6 L60.2,568.6 L60.7,568.5 L61.2,568.5 L61.6,568.5 L62.1,568.4 L62.6,568.4 L63.1,568.3 L63.6,568.2 L64.0,568.1 L64.5,567.9 L65.0,567.7 L65.5,567.4 L65.9,567.1 L66.4,566.7 L66.9,566.2 L67.4,565.7 L67.9,565.0 L68.3,564.3 L68.8,563.5 L69.3,562.5 L69.8,561.5 L70.2,560.4 L70.7,559.2 L71.2,558.0 L71.7,556.8 L72.2,555.5 L72.6,554.3 L73.1,553.1 L73.6,552.0 L74.1,551.0 L74.5,550.1 L75.0,549.4 L75.5,548.9 L76.0,548.6 L76.5,548.5 L76.9,548.7 L77.4,549.0 L77.9,549.6 L78.4,550.3 L78.8,551.2 L79.3,552.2 L79.8,553.3 L80.3,554.5 L80.8,555.8 L81.2,557.0 L81.7,558.3 L82.2,559.5 L82.7,560.7 L83.1,561.7 L83.6,562.7 L84.1,563.6 L84.6,564.5 L85.0,565.2 L85.5,565.8 L86.0,566.3 L86.5,566.8 L87.0,567.2 L87.4,567.5 L87.9,567.7 L88.4,567.9 L88.9,568.1 L89.3,568.2 L89.8,568.3 L90.3,568.4 L90.8,568.4 L91.3,568.5 L91.7,568.5 L92.2,568.5 L92.7,568.6 L93.2,568.6 L93.6,568.6 L94.1,568.6 L94.6,568.6 L95.1,568.6 L95.6,568.6 L96.0,568.6 L96.5,568.6 L97.0,568.6 L97.5,568.6 L97.9,568.6 L98.4,568.6 L98.9,568.6 L99.4,568.6 L99.8,568.6 L100.3,568.6 L100.8,568.6 L101.3,568.6 L101.8,568.6 L102.2,568.6 L102.7,568.6 L103.2,568.6 L103.7,568.6 L104.1,568.6 L104.6,568.6 L105.1,568.6 L105.6,568.6 L106.1,568.6 L106.5,568.6 L107.0,568.6 L107.5,568.6 L108.0,568.6 L108.4,568.6 L108.9,568.6 L109.4,568.6 L109.4,568.6 Z" fill="#50f2f2" fill-opacity="0.85"/>
<path d="M33.0,568.6 L33.0,568.6 L33.5,568.6 L34.0,568.6 L34.4,568.6 L34.9,568.6 L35.4,568.6 L35.9,568.6 L36.3,568.6 L36.8,568.6 L37.3,568.6 L37.8,568.6 L38.3,568.6 L38.7,568.6 L39.2,568.6 L39.7,568.6 L40.2,568.6 L40.6,568.6 L41.1,568.6 L41.6,568.6 L42.1,568.6 L42.5,568.6 L43.0,568.6 L43.5,568.6 L44.0,568.6 L44.5,568.6 L44.9,568.6 L45.4,568.6 L45.9,568.5 L46.4,568.4 L46.8,568.3 L47.3,567.9 L47.8,567.3 L48.3,566.3 L48.8,564.7 L49.2,562.2 L49.7,558.6 L50.2,553.7 L50.7,547.4 L51.1,539.8 L51.6,531.3 L52.1,522.5 L52.6,514.3 L53.1,507.6 L53.5,503.2 L54.0,501.7 L54.5,503.4 L55.0,507.9 L55.4,514.7 L55.9,522.9 L56.4,531.7 L56.9,540.1 L57.4,547.7 L57.8,553.9 L58.3,558.8 L58.8,562.3 L59.3,564.8 L59.7,566.4 L60.2,567.4 L60.7,567.9 L61.2,568.3 L61.6,568.4 L62.1,568.5 L62.6,568.6 L63.1,568.6 L63.6,568.6 L64.0,568.6 L64.5,568.6 L65.0,568.6 L65.5,568.6 L65.9,568.6 L66.4,568.6 L66.9,568.6 L67.4,568.6 L67.9,568.6 L68.3,568.6 L68.8,568.6 L69.3,568.6 L69.8,568.6 L70.2,568.6 L70.7,568.6 L71.2,568.6 L71.7,568.6 L72.2,568.6 L72.6,568.6 L73.1,568.6 L73.6,568.6 L74.1,568.6 L74.5,568.6 L75.0,568.6 L75.5,568.6 L76.0,568.6 L76.5,568.6 L76.9,568.6 L77.4,568.6 L77.9,568.6 L78.4,568.6 L78.8,568.6 L79.3,568.6 L79.8,568.6 L80.3,568.6 L80.8,568.6 L81.2,568.6 L81.7,568.6 L82.2,568.6 L82.7,568.6 L83.1,568.6 L83.6,568.6 L84.1,568.6 L84.6,568.6 L85.0,568.6 L85.5,568.6 L86.0,568.6 L86.5,568.6 L87.0,568.6 L87.4,568.6 L87.9,568.6 L88.4,568.6 L88.9,568.6 L89.3,568.6 L89.8,568.6 L90.3,568.6 L90.8,568.6 L91.3,568.6 L91.7,568.6 L92.2,568.6 L92.7,568.6 L93.2,568.6 L93.6,568.6 L94.1,568.6 L94.6,568.6 L95.1,568.6 L95.6,568.6 L96.0,568.6 L96.5,568.6 L97.0,568.6 L97.5,568.6 L97.9,568.6 L98.4,568.6 L98.9,568.6 L99.4,568.6 L99.8,568.6 L100.3,568.6 L100.8,568.6 L101.3,568.6 L101.8,568.6 L102.2,568.6 L102.7,568.6 L103.2,568.6 L103.7,568.6 L104.1,568.6 L104.6,568.6 L105.1,568.6 L105.6,568.6 L106.1,568.6 L106.5,568.6 L107.0,568.6 L107.5,568.6 L108.0,568.6 L108.4,568.6 L108.9,568.6 L109.4,568.6 L109.4,568.6 Z" fill="#3fd13f" fill-opacity="0.85"/>
<path d="M33.0,568.6 L33.5,568.6 L34.0,568.6 L34.4,568.6 L34.9,568.6 L35.4,568.6 L35.9,568.6 L36.3,568.6 L36.8,568.6 L37.3,568.6 L37.8,568.6 L38.3,568.6 L38.7,568.6 L39.2,568.6 L39.7,568.6 L40.2,568.6 L40.6,568.6 L41.1,568.6 L41.6,568.6 L42.1,568.6 L42.5,568.6 L43.0,568.6 L43.5,568.6 L44.0,568.6 L44.5,568.6 L44.9,568.6 L45.4,568.6 L45.9,568.5 L46.4,568.4 L46.8,568.3 L47.3,567.9 L47.8,567.3 L48.3,566.3 L48.8,564.7 L49.2,562.2 L49.7,558.6 L50.2,553.7 L50.7,547.4 L51.1,539.8 L51.6,531.3 L52.1,522.5 L52.6,514.3 L53.1,507.3 L53.5,500.6 L54.0,496.7 L54.5,496.1 L55.0,498.4 L55.4,503.0 L55.9,509.2 L56.4,517.8 L56.9,526.4 L57.4,534.1 L57.8,540.6 L58.3,545.6 L58.8,549.4 L59.3,552.0 L59.7,553.8 L60.2,554.9 L60.7,555.7 L61.2,556.2 L61.6,556.5 L62.1,556.7 L62.6,556.9 L63.1,557.0 L63.6,557.1 L64.0,557.2 L64.5,557.2 L65.0,557.2 L65.5,557.1 L65.9,557.0 L66.4,556.8 L66.9,556.5 L67.4,556.1 L67.9,555.7 L68.3,555.1 L68.8,554.5 L69.3,553.8 L69.8,553.0 L70.2,552.1 L70.7,551.1 L71.2,550.1 L71.7,549.1 L72.2,548.0 L72.6,547.0 L73.1,546.1 L73.6,545.3 L74.1,544.6 L74.5,544.1 L75.0,543.8 L75.5,543.7 L76.0,543.8 L76.5,544.3 L76.9,544.9 L77.4,545.8 L77.9,546.9 L78.4,548.1 L78.8,549.4 L79.3,550.9 L79.8,552.3 L80.3,553.8 L80.8,555.2 L81.2,556.6 L81.7,558.0 L82.2,559.3 L82.7,560.5 L83.1,561.6 L83.6,562.7 L84.1,563.6 L84.6,564.4 L85.0,565.2 L85.5,565.8 L86.0,566.3 L86.5,566.8 L87.0,567.2 L87.4,567.5 L87.9,567.7 L88.4,567.9 L88.9,568.1 L89.3,568.2 L89.8,568.3 L90.3,568.4 L90.8,568.4 L91.3,568.5 L91.7,568.5 L92.2,568.5 L92.7,568.6 L93.2,568.6 L93.6,568.6 L94.1,568.6 L94.6,568.6 L95.1,568.6 L95.6,568.6 L96.0,568.6 L96.5,568.6 L97.0,568.6 L97.5,568.6 L97.9,568.6 L98.4,568.6 L98.9,568.6 L99.4,568.6 L99.8,568.6 L100.3,568.6 L100.8,568.6 L101.3,568.6 L101.8,568.6 L102.2,568.6 L102.7,568.6 L103.2,568.6 L103.7,568.6 L104.1,568.6 L104.6,568.6 L105.1,568.6 L105.6,568.6 L106.1,568.6 L106.5,568.6 L107.0,568.6 L107.5,568.6 L108.0,568.6 L108.4,568.6 L108.9,568.6 L109.4,568.6" fill="none" stroke="#d040d0" stroke-width="0.8" />
<path d="M33.0,568.6 L33.5,568.6 L34.0,568.6 L34.4,568.6 L34.9,568.6 L35.4,568.6 L35.9,568.6 L36.3,568.6 L36.8,568.6 L37.3,568.6 L37.8,568.6 L38.3,568.6 L38.7,568.6 L39.2,568.6 L39.7,568.6 L40.2,568.6 L40.6,568.6 L41.1,568.6 L41.6,568.6 L42.1,568.6 L42.5,568.6 L43.0,568.6 L43.5,568.6 L44.0,568.6 L44.5,568.6 L44.9,568.6 L45.4,568.6 L45.9,568.5 L46.4,568.4 L46.8,568.3 L47.3,567.9 L47.8,567.3 L48.3,566.3 L48.8,564.7 L49.2,562.2 L49.7,558.6 L50.2,553.7 L50.7,547.4 L51.1,539.8 L51.6,531.3 L52.1,522.5 L52.6,514.3 L53.1,507.3 L53.5,500.3 L54.0,496.1 L54.5,495.6 L55.0,497.7 L55.4,502.3 L55.9,509.1 L56.4,517.7 L56.9,525.4 L57.4,533.8 L57.8,540.3 L58.3,544.4 L58.8,548.8 L59.3,551.0 L59.7,553.2 L60.2,554.2 L60.7,555.5 L61.2,555.4 L61.6,555.5 L62.1,556.1 L62.6,556.0 L63.1,556.2 L63.6,557.1 L64.0,556.3 L64.5,556.5 L65.0,556.8 L65.5,557.1 L65.9,555.9 L66.4,556.2 L66.9,555.6 L67.4,555.1 L67.9,554.8 L68.3,554.0 L68.8,554.0 L69.3,552.8 L69.8,552.4 L70.2,550.9 L70.7,550.0 L71.2,550.0 L71.7,548.9 L72.2,547.8 L72.6,545.9 L73.1,545.6 L73.6,544.5 L74.1,544.2 L74.5,543.5 L75.0,543.3 L75.5,543.3 L76.0,543.1 L76.5,543.6 L76.9,543.8 L77.4,545.0 L77.9,545.8 L78.4,548.1 L78.8,549.4 L79.3,550.9 L79.8,552.3 L80.3,553.8 L80.8,555.2 L81.2,556.6 L81.7,558.0 L82.2,559.3 L82.7,560.5 L83.1,561.6 L83.6,562.7 L84.1,563.6 L84.6,564.4 L85.0,565.2 L85.5,565.8 L86.0,566.3 L86.5,566.8 L87.0,567.2 L87.4,567.5 L87.9,567.7 L88.4,567.9 L88.9,568.1 L89.3,568.2 L89.8,568.3 L90.3,568.4 L90.8,568.4 L91.3,568.5 L91.7,568.5 L92.2,568.5 L92.7,568.6 L93.2,568.6 L93.6,568.6 L94.1,568.6 L94.6,568.6 L95.1,568.6 L95.6,568.6 L96.0,568.6 L96.5,568.6 L97.0,568.6 L97.5,568.6 L97.9,568.6 L98.4,568.6 L98.9,568.6 L99.4,568.6 L99.8,568.6 L100.3,568.6 L100.8,568.6 L101.3,568.6 L101.8,568.6 L102.2,568.6 L102.7,568.6 L103.2,568.6 L103.7,568.6 L104.1,568.6 L104.6,568.6 L105.1,568.6 L105.6,568.6 L106.1,568.6 L106.5,568.6 L107.0,568.6 L107.5,568.6 L108.0,568.6 L108.4,568.6 L108.9,568.6 L109.4,568.6" fill="none" stroke="#7a2a2a" stroke-width="0.5" opacity="0.7"/>
<line x1="76.4" y1="494.3" x2="76.4" y2="568.6" stroke="#7ff0f0" stroke-width="0.9" />
<line x1="54" y1="494.3" x2="54" y2="500.3" stroke="#60e060" stroke-width="0.6" />
<text x="54" y="498.78" font-size="2.8" text-anchor="middle" fill="#333">G1</text>
<text x="76.4" y="498.78" font-size="2.8" text-anchor="middle" fill="#333">G2</text>
<text x="67" y="512.74" font-size="6.4" fill="#222">G1: 47.62 %</text>
<text x="67" y="520.84" font-size="6.4" fill="#222">S:&#160;&#160;&#160;&#160;22.62 %</text>
<text x="67" y="528.94" font-size="6.4" fill="#222">G2: 29.77 %</text>
<line x1="32" y1="568.6" x2="33" y2="568.6" stroke="#888" stroke-width="0.4" />
<text transform="translate(29.7,568.6) rotate(-90)" y="0.84" font-size="2.4" text-anchor="middle" fill="#666">0</text>
<line x1="32" y1="551.71" x2="33" y2="551.71" stroke="#888" stroke-width="0.4" />
<text transform="translate(29.7,551.71) rotate(-90)" y="0.84" font-size="2.4" text-anchor="middle" fill="#666">50</text>
<line x1="32" y1="534.83" x2="33" y2="534.83" stroke="#888" stroke-width="0.4" />
<text transform="translate(29.7,534.83) rotate(-90)" y="0.84" font-size="2.4" text-anchor="middle" fill="#666">100</text>
<line x1="32" y1="517.94" x2="33" y2="517.94" stroke="#888" stroke-width="0.4" />
<text transform="translate(29.7,517.94) rotate(-90)" y="0.84" font-size="2.4" text-anchor="middle" fill="#666">150</text>
<line x1="32" y1="501.05" x2="33" y2="501.05" stroke="#888" stroke-width="0.4" />
<text transform="translate(29.7,501.05) rotate(-90)" y="0.84" font-size="2.4" text-anchor="middle" fill="#666">200</text>
<text transform="translate(26.5,531.45) rotate(-90)" y="0.91" font-size="2.6" text-anchor="middle" fill="#555">Count</text>
<line x1="33" y1="568.6" x2="33" y2="569.6" stroke="#888" stroke-width="0.4" />
<text x="33" y="574.36" font-size="3.6" text-anchor="middle" fill="#444">4.4</text>
<line x1="53.63" y1="568.6" x2="53.63" y2="569.6" stroke="#888" stroke-width="0.4" />
<text x="53.63" y="574.36" font-size="3.6" text-anchor="middle" fill="#444">8</text>
<line x1="68.14" y1="568.6" x2="68.14" y2="569.6" stroke="#888" stroke-width="0.4" />
<text x="68.14" y="574.36" font-size="3.6" text-anchor="middle" fill="#444">12</text>
<line x1="82.66" y1="568.6" x2="82.66" y2="569.6" stroke="#888" stroke-width="0.4" />
<text x="82.66" y="574.36" font-size="3.6" text-anchor="middle" fill="#444">16</text>
<line x1="96.41" y1="568.6" x2="96.41" y2="569.6" stroke="#888" stroke-width="0.4" />
<text x="96.41" y="574.36" font-size="3.6" text-anchor="middle" fill="#444">20</text>
<line x1="109.4" y1="568.6" x2="109.4" y2="569.6" stroke="#888" stroke-width="0.4" />
<text x="109.4" y="574.36" font-size="3.6" text-anchor="middle" fill="#444">24.8</text>
<text x="71.2" y="580.86" font-size="3.6" text-anchor="middle" fill="#444">PI-A (10<tspan dy="-1" font-size="2.2">5</tspan><tspan dy="1">)</tspan></text>
<rect x="129.9" y="495.2" width="74.1" height="74.8" fill="#fff" stroke="#9a9a9a" stroke-width="0.6" />
<line x1="129.9" y1="495.5" x2="204" y2="495.5" stroke="#c8c8c8" stroke-width="1.2" />
<path d="M129.9,570.0 L129.9,570.0 L130.4,570.0 L130.8,570.0 L131.3,570.0 L131.8,570.0 L132.2,570.0 L132.7,570.0 L133.1,570.0 L133.6,570.0 L134.1,570.0 L134.5,570.0 L135.0,570.0 L135.5,570.0 L135.9,570.0 L136.4,570.0 L136.8,570.0 L137.3,570.0 L137.8,570.0 L138.2,570.0 L138.7,570.0 L139.2,570.0 L139.6,570.0 L140.1,570.0 L140.6,570.0 L141.0,570.0 L141.5,570.0 L141.9,570.0 L142.4,570.0 L142.9,570.0 L143.3,570.0 L143.8,570.0 L144.3,570.0 L144.7,570.0 L145.2,570.0 L145.6,570.0 L146.1,570.0 L146.6,570.0 L147.0,570.0 L147.5,570.0 L148.0,495.2 L148.4,495.2 L148.9,497.4 L149.4,502.2 L149.8,508.5 L150.3,517.1 L150.7,525.8 L151.2,533.6 L151.7,540.3 L152.1,545.5 L152.6,549.5 L153.1,552.3 L153.5,554.3 L154.0,555.6 L154.4,556.4 L154.9,556.9 L155.4,557.3 L155.8,557.5 L156.3,557.7 L156.8,557.8 L157.2,557.8 L157.7,557.8 L158.2,557.8 L158.6,557.7 L159.1,557.6 L159.5,557.4 L160.0,557.1 L160.5,556.8 L160.9,556.3 L161.4,555.8 L161.9,555.1 L162.3,554.3 L162.8,553.5 L163.2,552.5 L163.7,551.4 L164.2,550.3 L164.6,549.1 L165.1,547.8 L165.6,546.6 L166.0,545.4 L166.5,544.4 L166.9,543.4 L167.4,542.6 L167.9,542.0 L168.3,541.6 L168.8,541.5 L169.3,541.8 L169.7,542.3 L170.2,543.1 L170.7,544.1 L171.1,545.4 L171.6,546.9 L172.0,548.5 L172.5,550.1 L173.0,551.9 L173.4,553.6 L173.9,555.3 L174.4,556.9 L174.8,558.5 L175.3,559.9 L175.7,561.3 L176.2,562.6 L176.7,563.7 L177.1,564.7 L177.6,565.6 L178.1,566.4 L178.5,567.1 L179.0,567.7 L179.5,568.2 L179.9,568.6 L180.4,568.9 L180.8,569.1 L181.3,569.3 L181.8,569.5 L182.2,569.6 L182.7,569.7 L183.2,569.8 L183.6,569.9 L184.1,569.9 L184.5,569.9 L185.0,570.0 L185.5,570.0 L185.9,570.0 L186.4,570.0 L186.9,570.0 L187.3,570.0 L187.8,570.0 L188.3,570.0 L188.7,570.0 L189.2,570.0 L189.6,570.0 L190.1,570.0 L190.6,570.0 L191.0,570.0 L191.5,570.0 L192.0,570.0 L192.4,570.0 L192.9,570.0 L193.3,570.0 L193.8,570.0 L194.3,570.0 L194.7,570.0 L195.2,570.0 L195.7,570.0 L196.1,570.0 L196.6,570.0 L197.1,570.0 L197.5,570.0 L198.0,570.0 L198.4,570.0 L198.9,570.0 L199.4,570.0 L199.8,570.0 L200.3,570.0 L200.8,570.0 L201.2,570.0 L201.7,570.0 L202.1,570.0 L202.6,570.0 L203.1,570.0 L203.5,570.0 L204.0,570.0 L204.0,570.0 Z" fill="#d4d450" fill-opacity="0.9"/>
<path d="M129.9,570.0 L129.9,570.0 L130.4,570.0 L130.8,570.0 L131.3,570.0 L131.8,570.0 L132.2,570.0 L132.7,570.0 L133.1,570.0 L133.6,570.0 L134.1,570.0 L134.5,570.0 L135.0,570.0 L135.5,570.0 L135.9,570.0 L136.4,570.0 L136.8,570.0 L137.3,570.0 L137.8,570.0 L138.2,570.0 L138.7,570.0 L139.2,570.0 L139.6,570.0 L140.1,570.0 L140.6,570.0 L141.0,570.0 L141.5,570.0 L141.9,570.0 L142.4,570.0 L142.9,570.0 L143.3,570.0 L143.8,570.0 L144.3,570.0 L144.7,570.0 L145.2,570.0 L145.6,570.0 L146.1,570.0 L146.6,570.0 L147.0,570.0 L147.5,570.0 L148.0,570.0 L148.4,570.0 L148.9,570.0 L149.4,570.0 L149.8,570.0 L150.3,570.0 L150.7,570.0 L151.2,570.0 L151.7,570.0 L152.1,570.0 L152.6,570.0 L153.1,570.0 L153.5,570.0 L154.0,570.0 L154.4,569.9 L154.9,569.9 L155.4,569.9 L155.8,569.8 L156.3,569.8 L156.8,569.7 L157.2,569.6 L157.7,569.4 L158.2,569.2 L158.6,569.0 L159.1,568.7 L159.5,568.4 L160.0,567.9 L160.5,567.4 L160.9,566.8 L161.4,566.1 L161.9,565.2 L162.3,564.3 L162.8,563.2 L163.2,562.1 L163.7,560.8 L164.2,559.5 L164.6,558.1 L165.1,556.7 L165.6,555.3 L166.0,553.9 L166.5,552.5 L166.9,551.3 L167.4,550.2 L167.9,549.2 L168.3,548.5 L168.8,547.9 L169.3,547.6 L169.7,547.6 L170.2,547.8 L170.7,548.2 L171.1,548.9 L171.6,549.7 L172.0,550.8 L172.5,552.0 L173.0,553.3 L173.4,554.6 L173.9,556.1 L174.4,557.5 L174.8,558.9 L175.3,560.3 L175.7,561.5 L176.2,562.7 L176.7,563.8 L177.1,564.8 L177.6,565.7 L178.1,566.5 L178.5,567.1 L179.0,567.7 L179.5,568.2 L179.9,568.6 L180.4,568.9 L180.8,569.1 L181.3,569.3 L181.8,569.5 L182.2,569.6 L182.7,569.7 L183.2,569.8 L183.6,569.9 L184.1,569.9 L184.5,569.9 L185.0,570.0 L185.5,570.0 L185.9,570.0 L186.4,570.0 L186.9,570.0 L187.3,570.0 L187.8,570.0 L188.3,570.0 L188.7,570.0 L189.2,570.0 L189.6,570.0 L190.1,570.0 L190.6,570.0 L191.0,570.0 L191.5,570.0 L192.0,570.0 L192.4,570.0 L192.9,570.0 L193.3,570.0 L193.8,570.0 L194.3,570.0 L194.7,570.0 L195.2,570.0 L195.7,570.0 L196.1,570.0 L196.6,570.0 L197.1,570.0 L197.5,570.0 L198.0,570.0 L198.4,570.0 L198.9,570.0 L199.4,570.0 L199.8,570.0 L200.3,570.0 L200.8,570.0 L201.2,570.0 L201.7,570.0 L202.1,570.0 L202.6,570.0 L203.1,570.0 L203.5,570.0 L204.0,570.0 L204.0,570.0 Z" fill="#50f2f2" fill-opacity="0.85"/>
<path d="M129.9,570.0 L129.9,570.0 L130.4,570.0 L130.8,570.0 L131.3,570.0 L131.8,570.0 L132.2,570.0 L132.7,570.0 L133.1,570.0 L133.6,570.0 L134.1,570.0 L134.5,570.0 L135.0,570.0 L135.5,570.0 L135.9,570.0 L136.4,570.0 L136.8,570.0 L137.3,570.0 L137.8,570.0 L138.2,570.0 L138.7,570.0 L139.2,570.0 L139.6,569.9 L140.1,569.9 L140.6,569.7 L141.0,569.5 L141.5,569.0 L141.9,568.2 L142.4,566.9 L142.9,564.9 L143.3,562.0 L143.8,557.8 L144.3,552.3 L144.7,545.5 L145.2,537.5 L145.6,528.8 L146.1,520.1 L146.6,512.0 L147.0,505.6 L147.5,501.6 L148.0,500.5 L148.4,502.4 L148.9,507.1 L149.4,514.0 L149.8,522.4 L150.3,531.2 L150.7,539.8 L151.2,547.5 L151.7,553.9 L152.1,559.0 L152.6,562.9 L153.1,565.5 L153.5,567.3 L154.0,568.5 L154.4,569.2 L154.9,569.6 L155.4,569.8 L155.8,569.9 L156.3,570.0 L156.8,570.0 L157.2,570.0 L157.7,570.0 L158.2,570.0 L158.6,570.0 L159.1,570.0 L159.5,570.0 L160.0,570.0 L160.5,570.0 L160.9,570.0 L161.4,570.0 L161.9,570.0 L162.3,570.0 L162.8,570.0 L163.2,570.0 L163.7,570.0 L164.2,570.0 L164.6,570.0 L165.1,570.0 L165.6,570.0 L166.0,570.0 L166.5,570.0 L166.9,570.0 L167.4,570.0 L167.9,570.0 L168.3,570.0 L168.8,570.0 L169.3,570.0 L169.7,570.0 L170.2,570.0 L170.7,570.0 L171.1,570.0 L171.6,570.0 L172.0,570.0 L172.5,570.0 L173.0,570.0 L173.4,570.0 L173.9,570.0 L174.4,570.0 L174.8,570.0 L175.3,570.0 L175.7,570.0 L176.2,570.0 L176.7,570.0 L177.1,570.0 L177.6,570.0 L178.1,570.0 L178.5,570.0 L179.0,570.0 L179.5,570.0 L179.9,570.0 L180.4,570.0 L180.8,570.0 L181.3,570.0 L181.8,570.0 L182.2,570.0 L182.7,570.0 L183.2,570.0 L183.6,570.0 L184.1,570.0 L184.5,570.0 L185.0,570.0 L185.5,570.0 L185.9,570.0 L186.4,570.0 L186.9,570.0 L187.3,570.0 L187.8,570.0 L188.3,570.0 L188.7,570.0 L189.2,570.0 L189.6,570.0 L190.1,570.0 L190.6,570.0 L191.0,570.0 L191.5,570.0 L192.0,570.0 L192.4,570.0 L192.9,570.0 L193.3,570.0 L193.8,570.0 L194.3,570.0 L194.7,570.0 L195.2,570.0 L195.7,570.0 L196.1,570.0 L196.6,570.0 L197.1,570.0 L197.5,570.0 L198.0,570.0 L198.4,570.0 L198.9,570.0 L199.4,570.0 L199.8,570.0 L200.3,570.0 L200.8,570.0 L201.2,570.0 L201.7,570.0 L202.1,570.0 L202.6,570.0 L203.1,570.0 L203.5,570.0 L204.0,570.0 L204.0,570.0 Z" fill="#3fd13f" fill-opacity="0.85"/>
<path d="M129.9,570.0 L130.4,570.0 L130.8,570.0 L131.3,570.0 L131.8,570.0 L132.2,570.0 L132.7,570.0 L133.1,570.0 L133.6,570.0 L134.1,570.0 L134.5,570.0 L135.0,570.0 L135.5,570.0 L135.9,570.0 L136.4,570.0 L136.8,570.0 L137.3,570.0 L137.8,570.0 L138.2,570.0 L138.7,570.0 L139.2,570.0 L139.6,569.9 L140.1,569.9 L140.6,569.7 L141.0,569.5 L141.5,569.0 L141.9,568.2 L142.4,566.9 L142.9,564.9 L143.3,562.0 L143.8,557.8 L144.3,552.3 L144.7,545.5 L145.2,537.5 L145.6,528.8 L146.1,520.1 L146.6,512.0 L147.0,504.9 L147.5,498.6 L148.0,495.2 L148.4,495.2 L148.9,497.4 L149.4,502.2 L149.8,508.5 L150.3,517.1 L150.7,525.8 L151.2,533.6 L151.7,540.3 L152.1,545.5 L152.6,549.5 L153.1,552.3 L153.5,554.3 L154.0,555.6 L154.4,556.4 L154.9,556.9 L155.4,557.3 L155.8,557.5 L156.3,557.7 L156.8,557.8 L157.2,557.8 L157.7,557.8 L158.2,557.8 L158.6,557.7 L159.1,557.6 L159.5,557.4 L160.0,557.1 L160.5,556.8 L160.9,556.3 L161.4,555.8 L161.9,555.1 L162.3,554.3 L162.8,553.5 L163.2,552.5 L163.7,551.4 L164.2,550.3 L164.6,549.1 L165.1,547.8 L165.6,546.6 L166.0,545.4 L166.5,544.4 L166.9,543.4 L167.4,542.6 L167.9,542.0 L168.3,541.6 L168.8,541.5 L169.3,541.8 L169.7,542.3 L170.2,543.1 L170.7,544.1 L171.1,545.4 L171.6,546.9 L172.0,548.5 L172.5,550.1 L173.0,551.9 L173.4,553.6 L173.9,555.3 L174.4,556.9 L174.8,558.5 L175.3,559.9 L175.7,561.3 L176.2,562.6 L176.7,563.7 L177.1,564.7 L177.6,565.6 L178.1,566.4 L178.5,567.1 L179.0,567.7 L179.5,568.2 L179.9,568.6 L180.4,568.9 L180.8,569.1 L181.3,569.3 L181.8,569.5 L182.2,569.6 L182.7,569.7 L183.2,569.8 L183.6,569.9 L184.1,569.9 L184.5,569.9 L185.0,570.0 L185.5,570.0 L185.9,570.0 L186.4,570.0 L186.9,570.0 L187.3,570.0 L187.8,570.0 L188.3,570.0 L188.7,570.0 L189.2,570.0 L189.6,570.0 L190.1,570.0 L190.6,570.0 L191.0,570.0 L191.5,570.0 L192.0,570.0 L192.4,570.0 L192.9,570.0 L193.3,570.0 L193.8,570.0 L194.3,570.0 L194.7,570.0 L195.2,570.0 L195.7,570.0 L196.1,570.0 L196.6,570.0 L197.1,570.0 L197.5,570.0 L198.0,570.0 L198.4,570.0 L198.9,570.0 L199.4,570.0 L199.8,570.0 L200.3,570.0 L200.8,570.0 L201.2,570.0 L201.7,570.0 L202.1,570.0 L202.6,570.0 L203.1,570.0 L203.5,570.0 L204.0,570.0" fill="none" stroke="#d040d0" stroke-width="0.8" />
<path d="M129.9,570.0 L130.4,570.0 L130.8,570.0 L131.3,570.0 L131.8,570.0 L132.2,570.0 L132.7,570.0 L133.1,570.0 L133.6,570.0 L134.1,570.0 L134.5,570.0 L135.0,570.0 L135.5,570.0 L135.9,570.0 L136.4,570.0 L136.8,570.0 L137.3,570.0 L137.8,570.0 L138.2,570.0 L138.7,570.0 L139.2,570.0 L139.6,569.9 L140.1,569.9 L140.6,569.7 L141.0,569.5 L141.5,569.0 L141.9,568.2 L142.4,566.9 L142.9,564.9 L143.3,562.0 L143.8,557.8 L144.3,552.3 L144.7,545.5 L145.2,537.5 L145.6,528.8 L146.1,520.1 L146.6,512.0 L147.0,504.9 L147.5,498.3 L148.0,495.1 L148.4,494.7 L148.9,497.2 L149.4,502.1 L149.8,508.0 L150.3,516.0 L150.7,524.8 L151.2,532.7 L151.7,540.0 L152.1,544.9 L152.6,549.2 L153.1,552.1 L153.5,554.2 L154.0,555.3 L154.4,555.3 L154.9,555.9 L155.4,556.3 L155.8,556.5 L156.3,557.4 L156.8,557.4 L157.2,557.1 L157.7,557.0 L158.2,556.8 L158.6,556.7 L159.1,557.5 L159.5,556.7 L160.0,556.3 L160.5,556.2 L160.9,556.1 L161.4,555.2 L161.9,555.0 L162.3,553.2 L162.8,552.4 L163.2,551.8 L163.7,551.0 L164.2,549.2 L164.6,548.4 L165.1,546.8 L165.6,545.6 L166.0,544.8 L166.5,543.9 L166.9,542.7 L167.4,542.1 L167.9,541.8 L168.3,541.3 L168.8,540.6 L169.3,541.7 L169.7,542.2 L170.2,542.3 L170.7,543.8 L171.1,544.8 L171.6,546.3 L172.0,548.1 L172.5,550.1 L173.0,551.9 L173.4,553.6 L173.9,555.3 L174.4,556.9 L174.8,558.5 L175.3,559.9 L175.7,561.3 L176.2,562.6 L176.7,563.7 L177.1,564.7 L177.6,565.6 L178.1,566.4 L178.5,567.1 L179.0,567.7 L179.5,568.2 L179.9,568.6 L180.4,568.9 L180.8,569.1 L181.3,569.3 L181.8,569.5 L182.2,569.6 L182.7,569.7 L183.2,569.8 L183.6,569.9 L184.1,569.9 L184.5,569.9 L185.0,570.0 L185.5,570.0 L185.9,570.0 L186.4,570.0 L186.9,570.0 L187.3,570.0 L187.8,570.0 L188.3,570.0 L188.7,570.0 L189.2,570.0 L189.6,570.0 L190.1,570.0 L190.6,570.0 L191.0,570.0 L191.5,570.0 L192.0,570.0 L192.4,570.0 L192.9,570.0 L193.3,570.0 L193.8,570.0 L194.3,570.0 L194.7,570.0 L195.2,570.0 L195.7,570.0 L196.1,570.0 L196.6,570.0 L197.1,570.0 L197.5,570.0 L198.0,570.0 L198.4,570.0 L198.9,570.0 L199.4,570.0 L199.8,570.0 L200.3,570.0 L200.8,570.0 L201.2,570.0 L201.7,570.0 L202.1,570.0 L202.6,570.0 L203.1,570.0 L203.5,570.0 L204.0,570.0" fill="none" stroke="#7a2a2a" stroke-width="0.5" opacity="0.7"/>
<line x1="169.6" y1="495.2" x2="169.6" y2="570" stroke="#7ff0f0" stroke-width="0.9" />
<line x1="147.9" y1="495.2" x2="147.9" y2="501.2" stroke="#60e060" stroke-width="0.6" />
<text x="147.9" y="499.68" font-size="2.8" text-anchor="middle" fill="#333">G1</text>
<text x="169.6" y="499.68" font-size="2.8" text-anchor="middle" fill="#333">G2</text>
<text x="159.6" y="512.44" font-size="6.4" fill="#222">G1: 46.72 %</text>
<text x="159.6" y="520.54" font-size="6.4" fill="#222">S:&#160;&#160;&#160;&#160;27.88 %</text>
<text x="159.6" y="528.64" font-size="6.4" fill="#222">G2: 24.45 %</text>
<line x1="128.9" y1="570" x2="129.9" y2="570" stroke="#888" stroke-width="0.4" />
<text transform="translate(126.6,570) rotate(-90)" y="0.84" font-size="2.4" text-anchor="middle" fill="#666">0</text>
<line x1="128.9" y1="553" x2="129.9" y2="553" stroke="#888" stroke-width="0.4" />
<text transform="translate(126.6,553) rotate(-90)" y="0.84" font-size="2.4" text-anchor="middle" fill="#666">50</text>
<line x1="128.9" y1="536" x2="129.9" y2="536" stroke="#888" stroke-width="0.4" />
<text transform="translate(126.6,536) rotate(-90)" y="0.84" font-size="2.4" text-anchor="middle" fill="#666">100</text>
<line x1="128.9" y1="519" x2="129.9" y2="519" stroke="#888" stroke-width="0.4" />
<text transform="translate(126.6,519) rotate(-90)" y="0.84" font-size="2.4" text-anchor="middle" fill="#666">150</text>
<line x1="128.9" y1="502" x2="129.9" y2="502" stroke="#888" stroke-width="0.4" />
<text transform="translate(126.6,502) rotate(-90)" y="0.84" font-size="2.4" text-anchor="middle" fill="#666">200</text>
<text transform="translate(123.4,532.6) rotate(-90)" y="0.91" font-size="2.6" text-anchor="middle" fill="#555">Count</text>
<line x1="129.9" y1="570" x2="129.9" y2="571" stroke="#888" stroke-width="0.4" />
<text x="129.9" y="575.76" font-size="3.6" text-anchor="middle" fill="#444">4.4</text>
<line x1="149.91" y1="570" x2="149.91" y2="571" stroke="#888" stroke-width="0.4" />
<text x="149.91" y="575.76" font-size="3.6" text-anchor="middle" fill="#444">8</text>
<line x1="163.99" y1="570" x2="163.99" y2="571" stroke="#888" stroke-width="0.4" />
<text x="163.99" y="575.76" font-size="3.6" text-anchor="middle" fill="#444">12</text>
<line x1="178.06" y1="570" x2="178.06" y2="571" stroke="#888" stroke-width="0.4" />
<text x="178.06" y="575.76" font-size="3.6" text-anchor="middle" fill="#444">16</text>
<line x1="191.4" y1="570" x2="191.4" y2="571" stroke="#888" stroke-width="0.4" />
<text x="191.4" y="575.76" font-size="3.6" text-anchor="middle" fill="#444">20</text>
<line x1="204" y1="570" x2="204" y2="571" stroke="#888" stroke-width="0.4" />
<text x="204" y="575.76" font-size="3.6" text-anchor="middle" fill="#444">24.8</text>
<text x="166.95" y="582.26" font-size="3.6" text-anchor="middle" fill="#444">PI-A (10<tspan dy="-1" font-size="2.2">5</tspan><tspan dy="1">)</tspan></text>
<rect x="39.7" y="608.9" width="71" height="71.1" fill="#fff" stroke="#9a9a9a" stroke-width="0.6" />
<line x1="39.7" y1="609.2" x2="110.7" y2="609.2" stroke="#c8c8c8" stroke-width="1.2" />
<path d="M39.7,680.0 L39.7,680.0 L40.1,680.0 L40.6,680.0 L41.0,680.0 L41.5,680.0 L41.9,680.0 L42.4,680.0 L42.8,680.0 L43.2,680.0 L43.7,680.0 L44.1,680.0 L44.6,680.0 L45.0,680.0 L45.5,680.0 L45.9,680.0 L46.4,680.0 L46.8,680.0 L47.2,680.0 L47.7,680.0 L48.1,680.0 L48.6,680.0 L49.0,680.0 L49.5,680.0 L49.9,680.0 L50.4,680.0 L50.8,680.0 L51.2,680.0 L51.7,680.0 L52.1,680.0 L52.6,680.0 L53.0,608.9 L53.5,609.4 L53.9,615.9 L54.3,624.0 L54.8,632.7 L55.2,642.2 L55.7,649.6 L56.1,654.8 L56.6,658.1 L57.0,660.1 L57.5,661.2 L57.9,661.9 L58.3,662.3 L58.8,662.6 L59.2,662.8 L59.7,663.0 L60.1,663.2 L60.6,663.3 L61.0,663.5 L61.4,663.7 L61.9,663.9 L62.3,664.1 L62.8,664.3 L63.2,664.4 L63.7,664.6 L64.1,664.8 L64.6,665.0 L65.0,665.2 L65.4,665.4 L65.9,665.5 L66.3,665.7 L66.8,665.9 L67.2,666.1 L67.7,666.3 L68.1,666.4 L68.5,666.6 L69.0,666.8 L69.4,667.0 L69.9,667.2 L70.3,667.4 L70.8,667.5 L71.2,667.7 L71.7,667.9 L72.1,668.1 L72.5,668.3 L73.0,668.4 L73.4,668.6 L73.9,668.8 L74.3,668.9 L74.8,669.0 L75.2,669.1 L75.6,669.2 L76.1,669.1 L76.5,669.1 L77.0,668.9 L77.4,668.6 L77.9,668.2 L78.3,667.6 L78.8,667.0 L79.2,666.1 L79.6,665.2 L80.1,664.1 L80.5,663.0 L81.0,661.9 L81.4,660.8 L81.9,659.9 L82.3,659.3 L82.7,658.8 L83.2,658.8 L83.6,659.1 L84.1,659.8 L84.5,660.8 L85.0,662.1 L85.4,663.7 L85.8,665.5 L86.3,667.3 L86.7,669.1 L87.2,670.8 L87.6,672.4 L88.1,673.9 L88.5,675.2 L89.0,676.3 L89.4,677.2 L89.8,677.9 L90.3,678.5 L90.7,678.9 L91.2,679.2 L91.6,679.5 L92.1,679.6 L92.5,679.8 L93.0,679.8 L93.4,679.9 L93.8,679.9 L94.3,680.0 L94.7,680.0 L95.2,680.0 L95.6,680.0 L96.1,680.0 L96.5,680.0 L96.9,680.0 L97.4,680.0 L97.8,680.0 L98.3,680.0 L98.7,680.0 L99.2,680.0 L99.6,680.0 L100.1,680.0 L100.5,680.0 L100.9,680.0 L101.4,680.0 L101.8,680.0 L102.3,680.0 L102.7,680.0 L103.2,680.0 L103.6,680.0 L104.0,680.0 L104.5,680.0 L104.9,680.0 L105.4,680.0 L105.8,680.0 L106.3,680.0 L106.7,680.0 L107.2,680.0 L107.6,680.0 L108.0,680.0 L108.5,680.0 L108.9,680.0 L109.4,680.0 L109.8,680.0 L110.3,680.0 L110.7,680.0 L110.7,680.0 Z" fill="#d4d450" fill-opacity="0.9"/>
<path d="M39.7,680.0 L39.7,680.0 L40.1,680.0 L40.6,680.0 L41.0,680.0 L41.5,680.0 L41.9,680.0 L42.4,680.0 L42.8,680.0 L43.2,680.0 L43.7,680.0 L44.1,680.0 L44.6,680.0 L45.0,680.0 L45.5,680.0 L45.9,680.0 L46.4,680.0 L46.8,680.0 L47.2,680.0 L47.7,680.0 L48.1,680.0 L48.6,680.0 L49.0,680.0 L49.5,680.0 L49.9,680.0 L50.4,680.0 L50.8,680.0 L51.2,680.0 L51.7,680.0 L52.1,680.0 L52.6,680.0 L53.0,680.0 L53.5,680.0 L53.9,680.0 L54.3,680.0 L54.8,680.0 L55.2,680.0 L55.7,680.0 L56.1,680.0 L56.6,680.0 L57.0,680.0 L57.5,680.0 L57.9,680.0 L58.3,680.0 L58.8,680.0 L59.2,680.0 L59.7,680.0 L60.1,680.0 L60.6,680.0 L61.0,680.0 L61.4,680.0 L61.9,680.0 L62.3,680.0 L62.8,680.0 L63.2,680.0 L63.7,680.0 L64.1,680.0 L64.6,680.0 L65.0,680.0 L65.4,680.0 L65.9,680.0 L66.3,680.0 L66.8,680.0 L67.2,680.0 L67.7,680.0 L68.1,680.0 L68.5,680.0 L69.0,680.0 L69.4,680.0 L69.9,680.0 L70.3,680.0 L70.8,680.0 L71.2,680.0 L71.7,680.0 L72.1,680.0 L72.5,680.0 L73.0,680.0 L73.4,680.0 L73.9,679.9 L74.3,679.9 L74.8,679.8 L75.2,679.7 L75.6,679.6 L76.1,679.4 L76.5,679.1 L77.0,678.7 L77.4,678.3 L77.9,677.6 L78.3,676.9 L78.8,676.0 L79.2,674.9 L79.6,673.7 L80.1,672.4 L80.5,671.1 L81.0,669.7 L81.4,668.3 L81.9,667.0 L82.3,666.0 L82.7,665.1 L83.2,664.6 L83.6,664.4 L84.1,664.5 L84.5,664.9 L85.0,665.7 L85.4,666.7 L85.8,667.9 L86.3,669.2 L86.7,670.6 L87.2,672.0 L87.6,673.4 L88.1,674.6 L88.5,675.7 L89.0,676.6 L89.4,677.4 L89.8,678.1 L90.3,678.6 L90.7,679.0 L91.2,679.3 L91.6,679.5 L92.1,679.7 L92.5,679.8 L93.0,679.9 L93.4,679.9 L93.8,679.9 L94.3,680.0 L94.7,680.0 L95.2,680.0 L95.6,680.0 L96.1,680.0 L96.5,680.0 L96.9,680.0 L97.4,680.0 L97.8,680.0 L98.3,680.0 L98.7,680.0 L99.2,680.0 L99.6,680.0 L100.1,680.0 L100.5,680.0 L100.9,680.0 L101.4,680.0 L101.8,680.0 L102.3,680.0 L102.7,680.0 L103.2,680.0 L103.6,680.0 L104.0,680.0 L104.5,680.0 L104.9,680.0 L105.4,680.0 L105.8,680.0 L106.3,680.0 L106.7,680.0 L107.2,680.0 L107.6,680.0 L108.0,680.0 L108.5,680.0 L108.9,680.0 L109.4,680.0 L109.8,680.0 L110.3,680.0 L110.7,680.0 L110.7,680.0 Z" fill="#50f2f2" fill-opacity="0.85"/>
<path d="M39.7,680.0 L39.7,680.0 L40.1,680.0 L40.6,680.0 L41.0,680.0 L41.5,680.0 L41.9,680.0 L42.4,680.0 L42.8,680.0 L43.2,680.0 L43.7,680.0 L44.1,680.0 L44.6,680.0 L45.0,680.0 L45.5,680.0 L45.9,680.0 L46.4,680.0 L46.8,679.9 L47.2,679.8 L47.7,679.5 L48.1,678.9 L48.6,677.6 L49.0,675.3 L49.5,671.5 L49.9,665.6 L50.4,657.5 L50.8,647.5 L51.2,636.5 L51.7,626.0 L52.1,618.0 L52.6,614.1 L53.0,615.1 L53.5,620.9 L53.9,630.1 L54.3,641.0 L54.8,651.8 L55.2,661.1 L55.7,668.3 L56.1,673.3 L56.6,676.4 L57.0,678.2 L57.5,679.2 L57.9,679.7 L58.3,679.9 L58.8,680.0 L59.2,680.0 L59.7,680.0 L60.1,680.0 L60.6,680.0 L61.0,680.0 L61.4,680.0 L61.9,680.0 L62.3,680.0 L62.8,680.0 L63.2,680.0 L63.7,680.0 L64.1,680.0 L64.6,680.0 L65.0,680.0 L65.4,680.0 L65.9,680.0 L66.3,680.0 L66.8,680.0 L67.2,680.0 L67.7,680.0 L68.1,680.0 L68.5,680.0 L69.0,680.0 L69.4,680.0 L69.9,680.0 L70.3,680.0 L70.8,680.0 L71.2,680.0 L71.7,680.0 L72.1,680.0 L72.5,680.0 L73.0,680.0 L73.4,680.0 L73.9,680.0 L74.3,680.0 L74.8,680.0 L75.2,680.0 L75.6,680.0 L76.1,680.0 L76.5,680.0 L77.0,680.0 L77.4,680.0 L77.9,680.0 L78.3,680.0 L78.8,680.0 L79.2,680.0 L79.6,680.0 L80.1,680.0 L80.5,680.0 L81.0,680.0 L81.4,680.0 L81.9,680.0 L82.3,680.0 L82.7,680.0 L83.2,680.0 L83.6,680.0 L84.1,680.0 L84.5,680.0 L85.0,680.0 L85.4,680.0 L85.8,680.0 L86.3,680.0 L86.7,680.0 L87.2,680.0 L87.6,680.0 L88.1,680.0 L88.5,680.0 L89.0,680.0 L89.4,680.0 L89.8,680.0 L90.3,680.0 L90.7,680.0 L91.2,680.0 L91.6,680.0 L92.1,680.0 L92.5,680.0 L93.0,680.0 L93.4,680.0 L93.8,680.0 L94.3,680.0 L94.7,680.0 L95.2,680.0 L95.6,680.0 L96.1,680.0 L96.5,680.0 L96.9,680.0 L97.4,680.0 L97.8,680.0 L98.3,680.0 L98.7,680.0 L99.2,680.0 L99.6,680.0 L100.1,680.0 L100.5,680.0 L100.9,680.0 L101.4,680.0 L101.8,680.0 L102.3,680.0 L102.7,680.0 L103.2,680.0 L103.6,680.0 L104.0,680.0 L104.5,680.0 L104.9,680.0 L105.4,680.0 L105.8,680.0 L106.3,680.0 L106.7,680.0 L107.2,680.0 L107.6,680.0 L108.0,680.0 L108.5,680.0 L108.9,680.0 L109.4,680.0 L109.8,680.0 L110.3,680.0 L110.7,680.0 L110.7,680.0 Z" fill="#3fd13f" fill-opacity="0.85"/>
<path d="M39.7,680.0 L40.1,680.0 L40.6,680.0 L41.0,680.0 L41.5,680.0 L41.9,680.0 L42.4,680.0 L42.8,680.0 L43.2,680.0 L43.7,680.0 L44.1,680.0 L44.6,680.0 L45.0,680.0 L45.5,680.0 L45.9,680.0 L46.4,680.0 L46.8,679.9 L47.2,679.8 L47.7,679.5 L48.1,678.9 L48.6,677.6 L49.0,675.3 L49.5,671.5 L49.9,665.6 L50.4,657.5 L50.8,647.5 L51.2,636.5 L51.7,626.0 L52.1,615.2 L52.6,608.9 L53.0,608.9 L53.5,609.4 L53.9,615.9 L54.3,624.0 L54.8,632.7 L55.2,642.2 L55.7,649.6 L56.1,654.8 L56.6,658.1 L57.0,660.1 L57.5,661.2 L57.9,661.9 L58.3,662.3 L58.8,662.6 L59.2,662.8 L59.7,663.0 L60.1,663.2 L60.6,663.3 L61.0,663.5 L61.4,663.7 L61.9,663.9 L62.3,664.1 L62.8,664.3 L63.2,664.4 L63.7,664.6 L64.1,664.8 L64.6,665.0 L65.0,665.2 L65.4,665.4 L65.9,665.5 L66.3,665.7 L66.8,665.9 L67.2,666.1 L67.7,666.3 L68.1,666.4 L68.5,666.6 L69.0,666.8 L69.4,667.0 L69.9,667.2 L70.3,667.4 L70.8,667.5 L71.2,667.7 L71.7,667.9 L72.1,668.1 L72.5,668.3 L73.0,668.4 L73.4,668.6 L73.9,668.8 L74.3,668.9 L74.8,669.0 L75.2,669.1 L75.6,669.2 L76.1,669.1 L76.5,669.1 L77.0,668.9 L77.4,668.6 L77.9,668.2 L78.3,667.6 L78.8,667.0 L79.2,666.1 L79.6,665.2 L80.1,664.1 L80.5,663.0 L81.0,661.9 L81.4,660.8 L81.9,659.9 L82.3,659.3 L82.7,658.8 L83.2,658.8 L83.6,659.1 L84.1,659.8 L84.5,660.8 L85.0,662.1 L85.4,663.7 L85.8,665.5 L86.3,667.3 L86.7,669.1 L87.2,670.8 L87.6,672.4 L88.1,673.9 L88.5,675.2 L89.0,676.3 L89.4,677.2 L89.8,677.9 L90.3,678.5 L90.7,678.9 L91.2,679.2 L91.6,679.5 L92.1,679.6 L92.5,679.8 L93.0,679.8 L93.4,679.9 L93.8,679.9 L94.3,680.0 L94.7,680.0 L95.2,680.0 L95.6,680.0 L96.1,680.0 L96.5,680.0 L96.9,680.0 L97.4,680.0 L97.8,680.0 L98.3,680.0 L98.7,680.0 L99.2,680.0 L99.6,680.0 L100.1,680.0 L100.5,680.0 L100.9,680.0 L101.4,680.0 L101.8,680.0 L102.3,680.0 L102.7,680.0 L103.2,680.0 L103.6,680.0 L104.0,680.0 L104.5,680.0 L104.9,680.0 L105.4,680.0 L105.8,680.0 L106.3,680.0 L106.7,680.0 L107.2,680.0 L107.6,680.0 L108.0,680.0 L108.5,680.0 L108.9,680.0 L109.4,680.0 L109.8,680.0 L110.3,680.0 L110.7,680.0" fill="none" stroke="#d040d0" stroke-width="0.8" />
<path d="M39.7,680.0 L40.1,680.0 L40.6,680.0 L41.0,680.0 L41.5,680.0 L41.9,680.0 L42.4,680.0 L42.8,680.0 L43.2,680.0 L43.7,680.0 L44.1,680.0 L44.6,680.0 L45.0,680.0 L45.5,680.0 L45.9,680.0 L46.4,680.0 L46.8,679.9 L47.2,679.8 L47.7,679.5 L48.1,678.9 L48.6,677.6 L49.0,675.3 L49.5,671.5 L49.9,665.6 L50.4,657.5 L50.8,647.5 L51.2,636.5 L51.7,626.0 L52.1,614.4 L52.6,608.0 L53.0,607.9 L53.5,608.3 L53.9,615.0 L54.3,622.9 L54.8,632.7 L55.2,641.7 L55.7,648.4 L56.1,654.0 L56.6,657.0 L57.0,660.0 L57.5,660.7 L57.9,661.6 L58.3,661.6 L58.8,661.9 L59.2,662.8 L59.7,662.7 L60.1,662.8 L60.6,662.2 L61.0,662.6 L61.4,663.5 L61.9,662.9 L62.3,663.9 L62.8,663.5 L63.2,664.3 L63.7,664.6 L64.1,663.8 L64.6,664.7 L65.0,664.9 L65.4,664.2 L65.9,664.5 L66.3,665.4 L66.8,664.7 L67.2,665.4 L67.7,665.5 L68.1,666.2 L68.5,665.5 L69.0,666.0 L69.4,665.8 L69.9,666.1 L70.3,667.0 L70.8,667.1 L71.2,667.5 L71.7,667.7 L72.1,668.0 L72.5,667.9 L73.0,667.7 L73.4,668.6 L73.9,668.0 L74.3,668.5 L74.8,668.7 L75.2,668.1 L75.6,668.6 L76.1,668.8 L76.5,668.5 L77.0,668.0 L77.4,668.5 L77.9,667.0 L78.3,667.6 L78.8,666.1 L79.2,665.1 L79.6,665.1 L80.1,663.2 L80.5,662.6 L81.0,661.2 L81.4,660.8 L81.9,659.9 L82.3,659.0 L82.7,657.7 L83.2,658.5 L83.6,658.2 L84.1,658.6 L84.5,659.7 L85.0,661.7 L85.4,663.3 L85.8,664.8 L86.3,667.3 L86.7,669.1 L87.2,670.8 L87.6,672.4 L88.1,673.9 L88.5,675.2 L89.0,676.3 L89.4,677.2 L89.8,677.9 L90.3,678.5 L90.7,678.9 L91.2,679.2 L91.6,679.5 L92.1,679.6 L92.5,679.8 L93.0,679.8 L93.4,679.9 L93.8,679.9 L94.3,680.0 L94.7,680.0 L95.2,680.0 L95.6,680.0 L96.1,680.0 L96.5,680.0 L96.9,680.0 L97.4,680.0 L97.8,680.0 L98.3,680.0 L98.7,680.0 L99.2,680.0 L99.6,680.0 L100.1,680.0 L100.5,680.0 L100.9,680.0 L101.4,680.0 L101.8,680.0 L102.3,680.0 L102.7,680.0 L103.2,680.0 L103.6,680.0 L104.0,680.0 L104.5,680.0 L104.9,680.0 L105.4,680.0 L105.8,680.0 L106.3,680.0 L106.7,680.0 L107.2,680.0 L107.6,680.0 L108.0,680.0 L108.5,680.0 L108.9,680.0 L109.4,680.0 L109.8,680.0 L110.3,680.0 L110.7,680.0" fill="none" stroke="#7a2a2a" stroke-width="0.5" opacity="0.7"/>
<line x1="83.7" y1="608.9" x2="83.7" y2="680" stroke="#7ff0f0" stroke-width="0.9" />
<line x1="52.7" y1="608.9" x2="52.7" y2="614.9" stroke="#60e060" stroke-width="0.6" />
<text x="52.7" y="613.38" font-size="2.8" text-anchor="middle" fill="#333">G1</text>
<text x="83.7" y="613.38" font-size="2.8" text-anchor="middle" fill="#333">G2</text>
<text x="73.5" y="626.84" font-size="6.4" fill="#222">G1: 30.48 %</text>
<text x="73.5" y="634.94" font-size="6.4" fill="#222">S:&#160;&#160;&#160;&#160;45.48 %</text>
<text x="73.5" y="643.04" font-size="6.4" fill="#222">G2: 24.04 %</text>
<line x1="38.7" y1="680" x2="39.7" y2="680" stroke="#888" stroke-width="0.4" />
<text transform="translate(36.4,680) rotate(-90)" y="0.84" font-size="2.4" text-anchor="middle" fill="#666">0</text>
<line x1="38.7" y1="663.84" x2="39.7" y2="663.84" stroke="#888" stroke-width="0.4" />
<text transform="translate(36.4,663.84) rotate(-90)" y="0.84" font-size="2.4" text-anchor="middle" fill="#666">50</text>
<line x1="38.7" y1="647.68" x2="39.7" y2="647.68" stroke="#888" stroke-width="0.4" />
<text transform="translate(36.4,647.68) rotate(-90)" y="0.84" font-size="2.4" text-anchor="middle" fill="#666">100</text>
<line x1="38.7" y1="631.52" x2="39.7" y2="631.52" stroke="#888" stroke-width="0.4" />
<text transform="translate(36.4,631.52) rotate(-90)" y="0.84" font-size="2.4" text-anchor="middle" fill="#666">150</text>
<line x1="38.7" y1="615.36" x2="39.7" y2="615.36" stroke="#888" stroke-width="0.4" />
<text transform="translate(36.4,615.36) rotate(-90)" y="0.84" font-size="2.4" text-anchor="middle" fill="#666">200</text>
<text transform="translate(33.2,644.45) rotate(-90)" y="0.91" font-size="2.6" text-anchor="middle" fill="#555">Count</text>
<line x1="39.7" y1="680" x2="39.7" y2="681" stroke="#888" stroke-width="0.4" />
<text x="39.7" y="685.76" font-size="3.6" text-anchor="middle" fill="#444">2.1</text>
<line x1="49.64" y1="680" x2="49.64" y2="681" stroke="#888" stroke-width="0.4" />
<text x="49.64" y="685.76" font-size="3.6" text-anchor="middle" fill="#444">3</text>
<line x1="59.58" y1="680" x2="59.58" y2="681" stroke="#888" stroke-width="0.4" />
<text x="59.58" y="685.76" font-size="3.6" text-anchor="middle" fill="#444">4</text>
<line x1="70.23" y1="680" x2="70.23" y2="681" stroke="#888" stroke-width="0.4" />
<text x="70.23" y="685.76" font-size="3.6" text-anchor="middle" fill="#444">5</text>
<line x1="80.17" y1="680" x2="80.17" y2="681" stroke="#888" stroke-width="0.4" />
<text x="80.17" y="685.76" font-size="3.6" text-anchor="middle" fill="#444">6</text>
<line x1="90.82" y1="680" x2="90.82" y2="681" stroke="#888" stroke-width="0.4" />
<text x="90.82" y="685.76" font-size="3.6" text-anchor="middle" fill="#444">7</text>
<line x1="100.76" y1="680" x2="100.76" y2="681" stroke="#888" stroke-width="0.4" />
<text x="100.76" y="685.76" font-size="3.6" text-anchor="middle" fill="#444">8</text>
<line x1="110.7" y1="680" x2="110.7" y2="681" stroke="#888" stroke-width="0.4" />
<text x="110.7" y="685.76" font-size="3.6" text-anchor="middle" fill="#444">8.9</text>
<text x="75.2" y="692.26" font-size="3.6" text-anchor="middle" fill="#444">PI-A (10<tspan dy="-1" font-size="2.2">5</tspan><tspan dy="1">)</tspan></text>
<rect x="130.7" y="609.4" width="73.9" height="72.2" fill="#fff" stroke="#9a9a9a" stroke-width="0.6" />
<line x1="130.7" y1="609.7" x2="204.6" y2="609.7" stroke="#c8c8c8" stroke-width="1.2" />
<path d="M130.7,681.6 L130.7,681.6 L131.2,681.6 L131.6,681.6 L132.1,681.6 L132.5,681.6 L133.0,681.6 L133.5,681.6 L133.9,681.6 L134.4,681.6 L134.9,681.6 L135.3,681.6 L135.8,681.6 L136.2,681.6 L136.7,681.6 L137.2,681.6 L137.6,681.6 L138.1,681.6 L138.6,681.6 L139.0,681.6 L139.5,681.6 L139.9,681.6 L140.4,681.6 L140.9,681.6 L141.3,681.6 L141.8,681.6 L142.2,681.6 L142.7,681.6 L143.2,681.6 L143.6,681.6 L144.1,681.6 L144.6,681.6 L145.0,681.6 L145.5,609.4 L145.9,609.4 L146.4,612.6 L146.9,619.9 L147.3,627.8 L147.8,637.6 L148.3,645.9 L148.7,651.8 L149.2,655.6 L149.6,657.9 L150.1,659.2 L150.6,659.9 L151.0,660.4 L151.5,660.7 L151.9,660.9 L152.4,661.2 L152.9,661.4 L153.3,661.6 L153.8,661.9 L154.3,662.1 L154.7,662.3 L155.2,662.5 L155.6,662.8 L156.1,663.0 L156.6,663.2 L157.0,663.4 L157.5,663.6 L158.0,663.9 L158.4,664.1 L158.9,664.3 L159.3,664.5 L159.8,664.8 L160.3,665.0 L160.7,665.2 L161.2,665.4 L161.6,665.7 L162.1,665.9 L162.6,666.1 L163.0,666.3 L163.5,666.6 L164.0,666.8 L164.4,667.0 L164.9,667.2 L165.3,667.5 L165.8,667.7 L166.3,667.9 L166.7,668.1 L167.2,668.2 L167.6,668.4 L168.1,668.5 L168.6,668.6 L169.0,668.6 L169.5,668.5 L170.0,668.3 L170.4,667.9 L170.9,667.4 L171.3,666.8 L171.8,665.9 L172.3,664.9 L172.7,663.8 L173.2,662.6 L173.7,661.3 L174.1,660.1 L174.6,659.0 L175.0,658.1 L175.5,657.6 L176.0,657.4 L176.4,657.7 L176.9,658.5 L177.3,659.6 L177.8,661.2 L178.3,663.1 L178.7,665.1 L179.2,667.3 L179.7,669.4 L180.1,671.5 L180.6,673.3 L181.0,675.0 L181.5,676.5 L182.0,677.7 L182.4,678.7 L182.9,679.5 L183.4,680.1 L183.8,680.5 L184.3,680.9 L184.7,681.1 L185.2,681.3 L185.7,681.4 L186.1,681.5 L186.6,681.5 L187.0,681.6 L187.5,681.6 L188.0,681.6 L188.4,681.6 L188.9,681.6 L189.4,681.6 L189.8,681.6 L190.3,681.6 L190.7,681.6 L191.2,681.6 L191.7,681.6 L192.1,681.6 L192.6,681.6 L193.1,681.6 L193.5,681.6 L194.0,681.6 L194.4,681.6 L194.9,681.6 L195.4,681.6 L195.8,681.6 L196.3,681.6 L196.7,681.6 L197.2,681.6 L197.7,681.6 L198.1,681.6 L198.6,681.6 L199.1,681.6 L199.5,681.6 L200.0,681.6 L200.4,681.6 L200.9,681.6 L201.4,681.6 L201.8,681.6 L202.3,681.6 L202.8,681.6 L203.2,681.6 L203.7,681.6 L204.1,681.6 L204.6,681.6 L204.6,681.6 Z" fill="#d4d450" fill-opacity="0.9"/>
<path d="M130.7,681.6 L130.7,681.6 L131.2,681.6 L131.6,681.6 L132.1,681.6 L132.5,681.6 L133.0,681.6 L133.5,681.6 L133.9,681.6 L134.4,681.6 L134.9,681.6 L135.3,681.6 L135.8,681.6 L136.2,681.6 L136.7,681.6 L137.2,681.6 L137.6,681.6 L138.1,681.6 L138.6,681.6 L139.0,681.6 L139.5,681.6 L139.9,681.6 L140.4,681.6 L140.9,681.6 L141.3,681.6 L141.8,681.6 L142.2,681.6 L142.7,681.6 L143.2,681.6 L143.6,681.6 L144.1,681.6 L144.6,681.6 L145.0,681.6 L145.5,681.6 L145.9,681.6 L146.4,681.6 L146.9,681.6 L147.3,681.6 L147.8,681.6 L148.3,681.6 L148.7,681.6 L149.2,681.6 L149.6,681.6 L150.1,681.6 L150.6,681.6 L151.0,681.6 L151.5,681.6 L151.9,681.6 L152.4,681.6 L152.9,681.6 L153.3,681.6 L153.8,681.6 L154.3,681.6 L154.7,681.6 L155.2,681.6 L155.6,681.6 L156.1,681.6 L156.6,681.6 L157.0,681.6 L157.5,681.6 L158.0,681.6 L158.4,681.6 L158.9,681.6 L159.3,681.6 L159.8,681.6 L160.3,681.6 L160.7,681.6 L161.2,681.6 L161.6,681.6 L162.1,681.6 L162.6,681.6 L163.0,681.6 L163.5,681.6 L164.0,681.6 L164.4,681.6 L164.9,681.6 L165.3,681.6 L165.8,681.6 L166.3,681.6 L166.7,681.5 L167.2,681.5 L167.6,681.4 L168.1,681.3 L168.6,681.1 L169.0,680.9 L169.5,680.5 L170.0,680.1 L170.4,679.5 L170.9,678.8 L171.3,677.9 L171.8,676.8 L172.3,675.5 L172.7,674.1 L173.2,672.5 L173.7,670.9 L174.1,669.3 L174.6,667.8 L175.0,666.5 L175.5,665.4 L176.0,664.7 L176.4,664.3 L176.9,664.4 L177.3,664.8 L177.8,665.6 L178.3,666.8 L178.7,668.1 L179.2,669.7 L179.7,671.3 L180.1,672.9 L180.6,674.4 L181.0,675.8 L181.5,677.1 L182.0,678.1 L182.4,679.0 L182.9,679.7 L183.4,680.2 L183.8,680.6 L184.3,680.9 L184.7,681.2 L185.2,681.3 L185.7,681.4 L186.1,681.5 L186.6,681.5 L187.0,681.6 L187.5,681.6 L188.0,681.6 L188.4,681.6 L188.9,681.6 L189.4,681.6 L189.8,681.6 L190.3,681.6 L190.7,681.6 L191.2,681.6 L191.7,681.6 L192.1,681.6 L192.6,681.6 L193.1,681.6 L193.5,681.6 L194.0,681.6 L194.4,681.6 L194.9,681.6 L195.4,681.6 L195.8,681.6 L196.3,681.6 L196.7,681.6 L197.2,681.6 L197.7,681.6 L198.1,681.6 L198.6,681.6 L199.1,681.6 L199.5,681.6 L200.0,681.6 L200.4,681.6 L200.9,681.6 L201.4,681.6 L201.8,681.6 L202.3,681.6 L202.8,681.6 L203.2,681.6 L203.7,681.6 L204.1,681.6 L204.6,681.6 L204.6,681.6 Z" fill="#50f2f2" fill-opacity="0.85"/>
<path d="M130.7,681.6 L130.7,681.6 L131.2,681.6 L131.6,681.6 L132.1,681.6 L132.5,681.6 L133.0,681.6 L133.5,681.6 L133.9,681.6 L134.4,681.6 L134.9,681.6 L135.3,681.6 L135.8,681.6 L136.2,681.6 L136.7,681.6 L137.2,681.6 L137.6,681.6 L138.1,681.6 L138.6,681.6 L139.0,681.6 L139.5,681.5 L139.9,681.4 L140.4,681.1 L140.9,680.4 L141.3,679.1 L141.8,676.5 L142.2,672.3 L142.7,665.8 L143.2,657.0 L143.6,646.3 L144.1,635.0 L144.6,625.1 L145.0,618.4 L145.5,616.7 L145.9,620.2 L146.4,628.2 L146.9,638.9 L147.3,650.1 L147.8,660.3 L148.3,668.3 L148.7,674.0 L149.2,677.6 L149.6,679.6 L150.1,680.7 L150.6,681.2 L151.0,681.5 L151.5,681.6 L151.9,681.6 L152.4,681.6 L152.9,681.6 L153.3,681.6 L153.8,681.6 L154.3,681.6 L154.7,681.6 L155.2,681.6 L155.6,681.6 L156.1,681.6 L156.6,681.6 L157.0,681.6 L157.5,681.6 L158.0,681.6 L158.4,681.6 L158.9,681.6 L159.3,681.6 L159.8,681.6 L160.3,681.6 L160.7,681.6 L161.2,681.6 L161.6,681.6 L162.1,681.6 L162.6,681.6 L163.0,681.6 L163.5,681.6 L164.0,681.6 L164.4,681.6 L164.9,681.6 L165.3,681.6 L165.8,681.6 L166.3,681.6 L166.7,681.6 L167.2,681.6 L167.6,681.6 L168.1,681.6 L168.6,681.6 L169.0,681.6 L169.5,681.6 L170.0,681.6 L170.4,681.6 L170.9,681.6 L171.3,681.6 L171.8,681.6 L172.3,681.6 L172.7,681.6 L173.2,681.6 L173.7,681.6 L174.1,681.6 L174.6,681.6 L175.0,681.6 L175.5,681.6 L176.0,681.6 L176.4,681.6 L176.9,681.6 L177.3,681.6 L177.8,681.6 L178.3,681.6 L178.7,681.6 L179.2,681.6 L179.7,681.6 L180.1,681.6 L180.6,681.6 L181.0,681.6 L181.5,681.6 L182.0,681.6 L182.4,681.6 L182.9,681.6 L183.4,681.6 L183.8,681.6 L184.3,681.6 L184.7,681.6 L185.2,681.6 L185.7,681.6 L186.1,681.6 L186.6,681.6 L187.0,681.6 L187.5,681.6 L188.0,681.6 L188.4,681.6 L188.9,681.6 L189.4,681.6 L189.8,681.6 L190.3,681.6 L190.7,681.6 L191.2,681.6 L191.7,681.6 L192.1,681.6 L192.6,681.6 L193.1,681.6 L193.5,681.6 L194.0,681.6 L194.4,681.6 L194.9,681.6 L195.4,681.6 L195.8,681.6 L196.3,681.6 L196.7,681.6 L197.2,681.6 L197.7,681.6 L198.1,681.6 L198.6,681.6 L199.1,681.6 L199.5,681.6 L200.0,681.6 L200.4,681.6 L200.9,681.6 L201.4,681.6 L201.8,681.6 L202.3,681.6 L202.8,681.6 L203.2,681.6 L203.7,681.6 L204.1,681.6 L204.6,681.6 L204.6,681.6 Z" fill="#3fd13f" fill-opacity="0.85"/>
<path d="M130.7,681.6 L131.2,681.6 L131.6,681.6 L132.1,681.6 L132.5,681.6 L133.0,681.6 L133.5,681.6 L133.9,681.6 L134.4,681.6 L134.9,681.6 L135.3,681.6 L135.8,681.6 L136.2,681.6 L136.7,681.6 L137.2,681.6 L137.6,681.6 L138.1,681.6 L138.6,681.6 L139.0,681.6 L139.5,681.5 L139.9,681.4 L140.4,681.1 L140.9,680.4 L141.3,679.1 L141.8,676.5 L142.2,672.3 L142.7,665.8 L143.2,657.0 L143.6,646.3 L144.1,635.0 L144.6,623.8 L145.0,613.5 L145.5,609.4 L145.9,609.4 L146.4,612.6 L146.9,619.9 L147.3,627.8 L147.8,637.6 L148.3,645.9 L148.7,651.8 L149.2,655.6 L149.6,657.9 L150.1,659.2 L150.6,659.9 L151.0,660.4 L151.5,660.7 L151.9,660.9 L152.4,661.2 L152.9,661.4 L153.3,661.6 L153.8,661.9 L154.3,662.1 L154.7,662.3 L155.2,662.5 L155.6,662.8 L156.1,663.0 L156.6,663.2 L157.0,663.4 L157.5,663.6 L158.0,663.9 L158.4,664.1 L158.9,664.3 L159.3,664.5 L159.8,664.8 L160.3,665.0 L160.7,665.2 L161.2,665.4 L161.6,665.7 L162.1,665.9 L162.6,666.1 L163.0,666.3 L163.5,666.6 L164.0,666.8 L164.4,667.0 L164.9,667.2 L165.3,667.5 L165.8,667.7 L166.3,667.9 L166.7,668.1 L167.2,668.2 L167.6,668.4 L168.1,668.5 L168.6,668.6 L169.0,668.6 L169.5,668.5 L170.0,668.3 L170.4,667.9 L170.9,667.4 L171.3,666.8 L171.8,665.9 L172.3,664.9 L172.7,663.8 L173.2,662.6 L173.7,661.3 L174.1,660.1 L174.6,659.0 L175.0,658.1 L175.5,657.6 L176.0,657.4 L176.4,657.7 L176.9,658.5 L177.3,659.6 L177.8,661.2 L178.3,663.1 L178.7,665.1 L179.2,667.3 L179.7,669.4 L180.1,671.5 L180.6,673.3 L181.0,675.0 L181.5,676.5 L182.0,677.7 L182.4,678.7 L182.9,679.5 L183.4,680.1 L183.8,680.5 L184.3,680.9 L184.7,681.1 L185.2,681.3 L185.7,681.4 L186.1,681.5 L186.6,681.5 L187.0,681.6 L187.5,681.6 L188.0,681.6 L188.4,681.6 L188.9,681.6 L189.4,681.6 L189.8,681.6 L190.3,681.6 L190.7,681.6 L191.2,681.6 L191.7,681.6 L192.1,681.6 L192.6,681.6 L193.1,681.6 L193.5,681.6 L194.0,681.6 L194.4,681.6 L194.9,681.6 L195.4,681.6 L195.8,681.6 L196.3,681.6 L196.7,681.6 L197.2,681.6 L197.7,681.6 L198.1,681.6 L198.6,681.6 L199.1,681.6 L199.5,681.6 L200.0,681.6 L200.4,681.6 L200.9,681.6 L201.4,681.6 L201.8,681.6 L202.3,681.6 L202.8,681.6 L203.2,681.6 L203.7,681.6 L204.1,681.6 L204.6,681.6" fill="none" stroke="#d040d0" stroke-width="0.8" />
<path d="M130.7,681.6 L131.2,681.6 L131.6,681.6 L132.1,681.6 L132.5,681.6 L133.0,681.6 L133.5,681.6 L133.9,681.6 L134.4,681.6 L134.9,681.6 L135.3,681.6 L135.8,681.6 L136.2,681.6 L136.7,681.6 L137.2,681.6 L137.6,681.6 L138.1,681.6 L138.6,681.6 L139.0,681.6 L139.5,681.5 L139.9,681.4 L140.4,681.1 L140.9,680.4 L141.3,679.1 L141.8,676.5 L142.2,672.3 L142.7,665.8 L143.2,657.0 L143.6,646.3 L144.1,635.0 L144.6,623.8 L145.0,612.5 L145.5,608.4 L145.9,608.8 L146.4,612.3 L146.9,619.9 L147.3,627.0 L147.8,637.1 L148.3,645.0 L148.7,651.3 L149.2,654.7 L149.6,657.6 L150.1,658.2 L150.6,659.0 L151.0,659.9 L151.5,660.0 L151.9,660.1 L152.4,660.9 L152.9,660.7 L153.3,660.7 L153.8,661.5 L154.3,661.1 L154.7,661.5 L155.2,661.5 L155.6,662.3 L156.1,662.9 L156.6,662.2 L157.0,662.5 L157.5,663.1 L158.0,663.8 L158.4,663.9 L158.9,663.6 L159.3,664.2 L159.8,663.6 L160.3,664.3 L160.7,665.0 L161.2,664.7 L161.6,665.2 L162.1,664.8 L162.6,665.0 L163.0,665.7 L163.5,665.8 L164.0,666.0 L164.4,666.0 L164.9,666.1 L165.3,667.4 L165.8,667.2 L166.3,667.2 L166.7,667.7 L167.2,667.5 L167.6,668.3 L168.1,667.5 L168.6,667.9 L169.0,668.4 L169.5,667.7 L170.0,667.9 L170.4,667.7 L170.9,666.9 L171.3,666.6 L171.8,665.7 L172.3,663.9 L172.7,663.0 L173.2,662.6 L173.7,660.4 L174.1,660.1 L174.6,658.6 L175.0,657.0 L175.5,656.8 L176.0,657.1 L176.4,657.3 L176.9,658.0 L177.3,659.5 L177.8,660.0 L178.3,663.0 L178.7,664.6 L179.2,666.4 L179.7,669.4 L180.1,671.5 L180.6,673.3 L181.0,675.0 L181.5,676.5 L182.0,677.7 L182.4,678.7 L182.9,679.5 L183.4,680.1 L183.8,680.5 L184.3,680.9 L184.7,681.1 L185.2,681.3 L185.7,681.4 L186.1,681.5 L186.6,681.5 L187.0,681.6 L187.5,681.6 L188.0,681.6 L188.4,681.6 L188.9,681.6 L189.4,681.6 L189.8,681.6 L190.3,681.6 L190.7,681.6 L191.2,681.6 L191.7,681.6 L192.1,681.6 L192.6,681.6 L193.1,681.6 L193.5,681.6 L194.0,681.6 L194.4,681.6 L194.9,681.6 L195.4,681.6 L195.8,681.6 L196.3,681.6 L196.7,681.6 L197.2,681.6 L197.7,681.6 L198.1,681.6 L198.6,681.6 L199.1,681.6 L199.5,681.6 L200.0,681.6 L200.4,681.6 L200.9,681.6 L201.4,681.6 L201.8,681.6 L202.3,681.6 L202.8,681.6 L203.2,681.6 L203.7,681.6 L204.1,681.6 L204.6,681.6" fill="none" stroke="#7a2a2a" stroke-width="0.5" opacity="0.7"/>
<line x1="176.6" y1="609.4" x2="176.6" y2="681.6" stroke="#7ff0f0" stroke-width="0.9" />
<line x1="145.4" y1="609.4" x2="145.4" y2="615.4" stroke="#60e060" stroke-width="0.6" />
<text x="145.4" y="613.88" font-size="2.8" text-anchor="middle" fill="#333">G1</text>
<text x="176.6" y="613.88" font-size="2.8" text-anchor="middle" fill="#333">G2</text>
<text x="166.4" y="623.94" font-size="6.4" fill="#222">G1: 22.70 %</text>
<text x="166.4" y="632.04" font-size="6.4" fill="#222">S:&#160;&#160;&#160;&#160;56.26 %</text>
<text x="166.4" y="640.14" font-size="6.4" fill="#222">G2: 21.05 %</text>
<line x1="129.7" y1="681.6" x2="130.7" y2="681.6" stroke="#888" stroke-width="0.4" />
<text transform="translate(127.4,681.6) rotate(-90)" y="0.84" font-size="2.4" text-anchor="middle" fill="#666">0</text>
<line x1="129.7" y1="665.19" x2="130.7" y2="665.19" stroke="#888" stroke-width="0.4" />
<text transform="translate(127.4,665.19) rotate(-90)" y="0.84" font-size="2.4" text-anchor="middle" fill="#666">50</text>
<line x1="129.7" y1="648.78" x2="130.7" y2="648.78" stroke="#888" stroke-width="0.4" />
<text transform="translate(127.4,648.78) rotate(-90)" y="0.84" font-size="2.4" text-anchor="middle" fill="#666">100</text>
<line x1="129.7" y1="632.37" x2="130.7" y2="632.37" stroke="#888" stroke-width="0.4" />
<text transform="translate(127.4,632.37) rotate(-90)" y="0.84" font-size="2.4" text-anchor="middle" fill="#666">150</text>
<line x1="129.7" y1="615.96" x2="130.7" y2="615.96" stroke="#888" stroke-width="0.4" />
<text transform="translate(127.4,615.96) rotate(-90)" y="0.84" font-size="2.4" text-anchor="middle" fill="#666">200</text>
<text transform="translate(124.2,645.5) rotate(-90)" y="0.91" font-size="2.6" text-anchor="middle" fill="#555">Count</text>
<line x1="130.7" y1="681.6" x2="130.7" y2="682.6" stroke="#888" stroke-width="0.4" />
<text x="130.7" y="687.36" font-size="3.6" text-anchor="middle" fill="#444">2.1</text>
<line x1="141.05" y1="681.6" x2="141.05" y2="682.6" stroke="#888" stroke-width="0.4" />
<text x="141.05" y="687.36" font-size="3.6" text-anchor="middle" fill="#444">3</text>
<line x1="151.39" y1="681.6" x2="151.39" y2="682.6" stroke="#888" stroke-width="0.4" />
<text x="151.39" y="687.36" font-size="3.6" text-anchor="middle" fill="#444">4</text>
<line x1="162.48" y1="681.6" x2="162.48" y2="682.6" stroke="#888" stroke-width="0.4" />
<text x="162.48" y="687.36" font-size="3.6" text-anchor="middle" fill="#444">5</text>
<line x1="172.82" y1="681.6" x2="172.82" y2="682.6" stroke="#888" stroke-width="0.4" />
<text x="172.82" y="687.36" font-size="3.6" text-anchor="middle" fill="#444">6</text>
<line x1="183.91" y1="681.6" x2="183.91" y2="682.6" stroke="#888" stroke-width="0.4" />
<text x="183.91" y="687.36" font-size="3.6" text-anchor="middle" fill="#444">7</text>
<line x1="194.25" y1="681.6" x2="194.25" y2="682.6" stroke="#888" stroke-width="0.4" />
<text x="194.25" y="687.36" font-size="3.6" text-anchor="middle" fill="#444">8</text>
<line x1="204.6" y1="681.6" x2="204.6" y2="682.6" stroke="#888" stroke-width="0.4" />
<text x="204.6" y="687.36" font-size="3.6" text-anchor="middle" fill="#444">8.9</text>
<text x="167.65" y="693.86" font-size="3.6" text-anchor="middle" fill="#444">PI-A (10<tspan dy="-1" font-size="2.2">5</tspan><tspan dy="1">)</tspan></text>
<text x="72.4" y="381.5" font-size="10" text-anchor="middle">Ctrl</text>
<text x="167.3" y="381.2" font-size="10" text-anchor="middle">TRIM35</text>
<text x="71.6" y="490.2" font-size="10" text-anchor="middle">Ctrl</text>
<text x="169.6" y="490.3" font-size="10" text-anchor="middle">TRIM35</text>
<text x="77" y="603.8" font-size="10" text-anchor="middle">Ctrl</text>
<text x="169.5" y="602.7" font-size="10" text-anchor="middle">TRIM35</text>
<line x1="235.4" y1="374.7" x2="235.4" y2="457.1" stroke="#000" stroke-width="0.8" />
<line x1="235.4" y1="457.1" x2="360.4" y2="457.1" stroke="#000" stroke-width="0.8" />
<line x1="233.8" y1="457.1" x2="235.4" y2="457.1" stroke="#000" stroke-width="0.7" />
<text x="233.2" y="459.41" font-size="6.6" text-anchor="end">0</text>
<line x1="233.8" y1="429.63" x2="235.4" y2="429.63" stroke="#000" stroke-width="0.7" />
<text x="233.2" y="431.94" font-size="6.6" text-anchor="end">20</text>
<line x1="233.8" y1="402.17" x2="235.4" y2="402.17" stroke="#000" stroke-width="0.7" />
<text x="233.2" y="404.48" font-size="6.6" text-anchor="end">40</text>
<line x1="233.8" y1="374.7" x2="235.4" y2="374.7" stroke="#000" stroke-width="0.7" />
<text x="233.2" y="377.01" font-size="6.6" text-anchor="end">60</text>
<text transform="translate(220.1,415.9) rotate(-90)" y="2.38" font-size="6.8" text-anchor="middle">Percentage of Cells (%)</text>
<rect x="241.9" y="420.02" width="11" height="37.08" fill="#a2b9d0" />
<line x1="247.4" y1="416.65" x2="247.4" y2="420.02" stroke="#3f6d9c" stroke-width="0.8" />
<line x1="245.2" y1="416.65" x2="249.6" y2="416.65" stroke="#3f6d9c" stroke-width="0.8" />
<circle cx="244.48" cy="421.83" r="1.9" fill="#3f6d9c" />
<circle cx="247.59" cy="422.27" r="1.9" fill="#3f6d9c" />
<circle cx="250.45" cy="417.23" r="1.9" fill="#3f6d9c" />
<rect x="258.3" y="424.14" width="11" height="32.96" fill="#eeaaa9" />
<line x1="263.8" y1="420.76" x2="263.8" y2="424.14" stroke="#e2504a" stroke-width="0.8" />
<line x1="261.6" y1="420.76" x2="266" y2="420.76" stroke="#e2504a" stroke-width="0.8" />
<circle cx="260.96" cy="422.58" r="1.9" fill="#e2504a" />
<circle cx="264.14" cy="423.62" r="1.9" fill="#e2504a" />
<circle cx="266.74" cy="422.24" r="1.9" fill="#e2504a" />
<line x1="255.6" y1="457.1" x2="255.6" y2="458.7" stroke="#000" stroke-width="0.7" />
<text transform="translate(257.4,464.2) rotate(-45)" y="2.17" font-size="6.2" text-anchor="end">G0/G1</text>
<rect x="285.1" y="400.11" width="11" height="56.99" fill="#a2b9d0" />
<line x1="290.6" y1="397.51" x2="290.6" y2="400.11" stroke="#3f6d9c" stroke-width="0.8" />
<line x1="288.4" y1="397.51" x2="292.8" y2="397.51" stroke="#3f6d9c" stroke-width="0.8" />
<circle cx="287.75" cy="401.92" r="1.9" fill="#3f6d9c" />
<circle cx="290.72" cy="398.95" r="1.9" fill="#3f6d9c" />
<circle cx="293.16" cy="401.83" r="1.9" fill="#3f6d9c" />
<rect x="301.3" y="391.87" width="10.7" height="65.23" fill="#eeaaa9" />
<line x1="306.65" y1="387.11" x2="306.65" y2="391.87" stroke="#e2504a" stroke-width="0.8" />
<line x1="304.45" y1="387.11" x2="308.85" y2="387.11" stroke="#e2504a" stroke-width="0.8" />
<circle cx="303.37" cy="396.31" r="1.9" fill="#e2504a" />
<circle cx="306.88" cy="388.38" r="1.9" fill="#e2504a" />
<circle cx="309.88" cy="388.62" r="1.9" fill="#e2504a" />
<line x1="298.7" y1="457.1" x2="298.7" y2="458.7" stroke="#000" stroke-width="0.7" />
<text transform="translate(300.5,464.2) rotate(-45)" y="2.17" font-size="6.2" text-anchor="end">S</text>
<rect x="328.1" y="416.59" width="10.8" height="40.51" fill="#a2b9d0" />
<line x1="333.5" y1="414.1" x2="333.5" y2="416.59" stroke="#3f6d9c" stroke-width="0.8" />
<line x1="331.3" y1="414.1" x2="335.7" y2="414.1" stroke="#3f6d9c" stroke-width="0.8" />
<circle cx="330.69" cy="415.74" r="1.9" fill="#3f6d9c" />
<circle cx="333.98" cy="418.46" r="1.9" fill="#3f6d9c" />
<circle cx="336.05" cy="414.53" r="1.9" fill="#3f6d9c" />
<rect x="344.5" y="419.33" width="10.5" height="37.77" fill="#eeaaa9" />
<line x1="349.75" y1="416.18" x2="349.75" y2="419.33" stroke="#e2504a" stroke-width="0.8" />
<line x1="347.55" y1="416.18" x2="351.95" y2="416.18" stroke="#e2504a" stroke-width="0.8" />
<circle cx="347.14" cy="418.58" r="1.9" fill="#e2504a" />
<circle cx="350.1" cy="418.65" r="1.9" fill="#e2504a" />
<circle cx="352.55" cy="421.34" r="1.9" fill="#e2504a" />
<line x1="341.7" y1="457.1" x2="341.7" y2="458.7" stroke="#000" stroke-width="0.7" />
<text transform="translate(343.5,464.2) rotate(-45)" y="2.17" font-size="6.2" text-anchor="end">G2/M</text>
<rect x="321.8" y="372.8" width="9.4" height="5.2" fill="#a2b9d0" />
<text x="336" y="377.78" font-size="6.8">Ctrl</text>
<rect x="321.8" y="383.9" width="9.4" height="5.2" fill="#eeaaa9" />
<text x="336" y="388.88" font-size="6.8">TRIM35</text>
<path d="M290.3,384.1 V381.9 H306.6 V384.1" fill="none" stroke="#111" stroke-width="0.9" />
<text x="298.45" y="380.58" font-size="4.8" text-anchor="middle" font-weight="bold">*</text>
<line x1="234.9" y1="489.2" x2="234.9" y2="571.6" stroke="#000" stroke-width="0.8" />
<line x1="234.9" y1="571.6" x2="359.7" y2="571.6" stroke="#000" stroke-width="0.8" />
<line x1="233.3" y1="571.6" x2="234.9" y2="571.6" stroke="#000" stroke-width="0.7" />
<text x="232.7" y="573.91" font-size="6.6" text-anchor="end">0</text>
<line x1="233.3" y1="555.12" x2="234.9" y2="555.12" stroke="#000" stroke-width="0.7" />
<text x="232.7" y="557.43" font-size="6.6" text-anchor="end">10</text>
<line x1="233.3" y1="538.64" x2="234.9" y2="538.64" stroke="#000" stroke-width="0.7" />
<text x="232.7" y="540.95" font-size="6.6" text-anchor="end">20</text>
<line x1="233.3" y1="522.16" x2="234.9" y2="522.16" stroke="#000" stroke-width="0.7" />
<text x="232.7" y="524.47" font-size="6.6" text-anchor="end">30</text>
<line x1="233.3" y1="505.68" x2="234.9" y2="505.68" stroke="#000" stroke-width="0.7" />
<text x="232.7" y="507.99" font-size="6.6" text-anchor="end">40</text>
<line x1="233.3" y1="489.2" x2="234.9" y2="489.2" stroke="#000" stroke-width="0.7" />
<text x="232.7" y="491.51" font-size="6.6" text-anchor="end">50</text>
<text transform="translate(219.6,530.4) rotate(-90)" y="2.38" font-size="6.8" text-anchor="middle">Percentage of Cells (%)</text>
<rect x="241.4" y="499.09" width="10.5" height="72.51" fill="#a2b9d0" />
<line x1="246.65" y1="493.98" x2="246.65" y2="499.09" stroke="#3f6d9c" stroke-width="0.8" />
<line x1="244.45" y1="493.98" x2="248.85" y2="493.98" stroke="#3f6d9c" stroke-width="0.8" />
<circle cx="243.89" cy="503.94" r="1.9" fill="#3f6d9c" />
<circle cx="246.83" cy="501.39" r="1.9" fill="#3f6d9c" />
<circle cx="250.04" cy="501.91" r="1.9" fill="#3f6d9c" />
<rect x="256.9" y="497.44" width="10.7" height="74.16" fill="#eeaaa9" />
<line x1="262.25" y1="494.61" x2="262.25" y2="497.44" stroke="#e2504a" stroke-width="0.8" />
<line x1="260.05" y1="494.61" x2="264.45" y2="494.61" stroke="#e2504a" stroke-width="0.8" />
<circle cx="259.26" cy="497.88" r="1.9" fill="#e2504a" />
<circle cx="261.78" cy="500.1" r="1.9" fill="#e2504a" />
<circle cx="264.95" cy="499.03" r="1.9" fill="#e2504a" />
<line x1="254.4" y1="571.6" x2="254.4" y2="573.2" stroke="#000" stroke-width="0.7" />
<text transform="translate(256.2,579.9) rotate(-45)" y="2.17" font-size="6.2" text-anchor="end">G0/G1</text>
<rect x="284" y="536.99" width="11" height="34.61" fill="#a2b9d0" />
<line x1="289.5" y1="531.84" x2="289.5" y2="536.99" stroke="#3f6d9c" stroke-width="0.8" />
<line x1="287.3" y1="531.84" x2="291.7" y2="531.84" stroke="#3f6d9c" stroke-width="0.8" />
<circle cx="286.81" cy="536.53" r="1.9" fill="#3f6d9c" />
<circle cx="289.01" cy="539.87" r="1.9" fill="#3f6d9c" />
<circle cx="292.81" cy="536.07" r="1.9" fill="#3f6d9c" />
<rect x="299.6" y="528.75" width="11" height="42.85" fill="#eeaaa9" />
<line x1="305.1" y1="523.4" x2="305.1" y2="528.75" stroke="#e2504a" stroke-width="0.8" />
<line x1="302.9" y1="523.4" x2="307.3" y2="523.4" stroke="#e2504a" stroke-width="0.8" />
<circle cx="301.94" cy="530.46" r="1.9" fill="#e2504a" />
<circle cx="304.69" cy="532.44" r="1.9" fill="#e2504a" />
<circle cx="307.7" cy="523.86" r="1.9" fill="#e2504a" />
<line x1="297.3" y1="571.6" x2="297.3" y2="573.2" stroke="#000" stroke-width="0.7" />
<text transform="translate(299.1,579.9) rotate(-45)" y="2.17" font-size="6.2" text-anchor="end">S</text>
<rect x="327" y="524.3" width="10.7" height="47.3" fill="#a2b9d0" />
<line x1="332.35" y1="518.34" x2="332.35" y2="524.3" stroke="#3f6d9c" stroke-width="0.8" />
<line x1="330.15" y1="518.34" x2="334.55" y2="518.34" stroke="#3f6d9c" stroke-width="0.8" />
<circle cx="329.39" cy="523.07" r="1.9" fill="#3f6d9c" />
<circle cx="332.82" cy="520.64" r="1.9" fill="#3f6d9c" />
<circle cx="335.23" cy="521.56" r="1.9" fill="#3f6d9c" />
<rect x="342.9" y="529.58" width="10.9" height="42.02" fill="#eeaaa9" />
<line x1="348.35" y1="524.83" x2="348.35" y2="529.58" stroke="#e2504a" stroke-width="0.8" />
<line x1="346.15" y1="524.83" x2="350.55" y2="524.83" stroke="#e2504a" stroke-width="0.8" />
<circle cx="345.43" cy="526.45" r="1.9" fill="#e2504a" />
<circle cx="348.55" cy="528.45" r="1.9" fill="#e2504a" />
<circle cx="350.9" cy="526.14" r="1.9" fill="#e2504a" />
<line x1="340.3" y1="571.6" x2="340.3" y2="573.2" stroke="#000" stroke-width="0.7" />
<text transform="translate(342.1,579.9) rotate(-45)" y="2.17" font-size="6.2" text-anchor="end">G2/M</text>
<rect x="321.8" y="487.3" width="9.4" height="5.2" fill="#a2b9d0" />
<text x="336" y="492.28" font-size="6.8">Ctrl</text>
<rect x="321.8" y="498.4" width="9.4" height="5.2" fill="#eeaaa9" />
<text x="336" y="503.38" font-size="6.8">TRIM35</text>
<path d="M289.1,523.2 V521 H306 V523.2" fill="none" stroke="#111" stroke-width="0.9" />
<text x="297.55" y="519.68" font-size="4.8" text-anchor="middle" font-weight="bold">*</text>
<line x1="239.6" y1="606.8" x2="239.6" y2="687.7" stroke="#000" stroke-width="0.8" />
<line x1="239.6" y1="687.7" x2="360.4" y2="687.7" stroke="#000" stroke-width="0.8" />
<line x1="238" y1="687.7" x2="239.6" y2="687.7" stroke="#000" stroke-width="0.7" />
<text x="237.4" y="690.01" font-size="6.6" text-anchor="end">0</text>
<line x1="238" y1="660.73" x2="239.6" y2="660.73" stroke="#000" stroke-width="0.7" />
<text x="237.4" y="663.04" font-size="6.6" text-anchor="end">20</text>
<line x1="238" y1="633.77" x2="239.6" y2="633.77" stroke="#000" stroke-width="0.7" />
<text x="237.4" y="636.08" font-size="6.6" text-anchor="end">40</text>
<line x1="238" y1="606.8" x2="239.6" y2="606.8" stroke="#000" stroke-width="0.7" />
<text x="237.4" y="609.11" font-size="6.6" text-anchor="end">60</text>
<text transform="translate(224.3,647.25) rotate(-90)" y="2.38" font-size="6.8" text-anchor="middle">Percentage of Cells (%)</text>
<rect x="246.4" y="651.29" width="10.5" height="36.41" fill="#a2b9d0" />
<line x1="251.65" y1="649.14" x2="251.65" y2="651.29" stroke="#3f6d9c" stroke-width="0.8" />
<line x1="249.45" y1="649.14" x2="253.85" y2="649.14" stroke="#3f6d9c" stroke-width="0.8" />
<circle cx="248.82" cy="650.45" r="1.9" fill="#3f6d9c" />
<circle cx="251.94" cy="652.83" r="1.9" fill="#3f6d9c" />
<circle cx="254.6" cy="651.46" r="1.9" fill="#3f6d9c" />
<rect x="262.2" y="657.36" width="10.6" height="30.34" fill="#eeaaa9" />
<line x1="267.5" y1="653.66" x2="267.5" y2="657.36" stroke="#e2504a" stroke-width="0.8" />
<line x1="265.3" y1="653.66" x2="269.7" y2="653.66" stroke="#e2504a" stroke-width="0.8" />
<circle cx="264.85" cy="660.92" r="1.9" fill="#e2504a" />
<circle cx="267.55" cy="657.86" r="1.9" fill="#e2504a" />
<circle cx="270.76" cy="658.31" r="1.9" fill="#e2504a" />
<line x1="259.55" y1="687.7" x2="259.55" y2="689.3" stroke="#000" stroke-width="0.7" />
<text transform="translate(261.35,695.2) rotate(-45)" y="2.17" font-size="6.2" text-anchor="end">G0/G1</text>
<rect x="288.4" y="625" width="10.5" height="62.7" fill="#a2b9d0" />
<line x1="293.65" y1="621.52" x2="293.65" y2="625" stroke="#3f6d9c" stroke-width="0.8" />
<line x1="291.45" y1="621.52" x2="295.85" y2="621.52" stroke="#3f6d9c" stroke-width="0.8" />
<circle cx="290.53" cy="627.26" r="1.9" fill="#3f6d9c" />
<circle cx="293.25" cy="622.56" r="1.9" fill="#3f6d9c" />
<circle cx="296.66" cy="622.77" r="1.9" fill="#3f6d9c" />
<rect x="304.3" y="611.52" width="10.5" height="76.18" fill="#eeaaa9" />
<line x1="309.55" y1="607.82" x2="309.55" y2="611.52" stroke="#e2504a" stroke-width="0.8" />
<line x1="307.35" y1="607.82" x2="311.75" y2="607.82" stroke="#e2504a" stroke-width="0.8" />
<circle cx="306.63" cy="609.51" r="1.9" fill="#e2504a" />
<circle cx="309.43" cy="610.8" r="1.9" fill="#e2504a" />
<circle cx="312.1" cy="611.47" r="1.9" fill="#e2504a" />
<line x1="301.6" y1="687.7" x2="301.6" y2="689.3" stroke="#000" stroke-width="0.7" />
<text transform="translate(303.4,695.2) rotate(-45)" y="2.17" font-size="6.2" text-anchor="end">S</text>
<rect x="330.5" y="653.99" width="10.5" height="33.71" fill="#a2b9d0" />
<line x1="335.75" y1="651.76" x2="335.75" y2="653.99" stroke="#3f6d9c" stroke-width="0.8" />
<line x1="333.55" y1="651.76" x2="337.95" y2="651.76" stroke="#3f6d9c" stroke-width="0.8" />
<circle cx="333.14" cy="652.02" r="1.9" fill="#3f6d9c" />
<circle cx="335.77" cy="652.48" r="1.9" fill="#3f6d9c" />
<circle cx="338.35" cy="654.9" r="1.9" fill="#3f6d9c" />
<rect x="345.9" y="659.38" width="11" height="28.32" fill="#eeaaa9" />
<line x1="351.4" y1="654.48" x2="351.4" y2="659.38" stroke="#e2504a" stroke-width="0.8" />
<line x1="349.2" y1="654.48" x2="353.6" y2="654.48" stroke="#e2504a" stroke-width="0.8" />
<circle cx="347.99" cy="658.56" r="1.9" fill="#e2504a" />
<circle cx="351.52" cy="655.14" r="1.9" fill="#e2504a" />
<circle cx="354.69" cy="657.63" r="1.9" fill="#e2504a" />
<line x1="343.45" y1="687.7" x2="343.45" y2="689.3" stroke="#000" stroke-width="0.7" />
<text transform="translate(345.25,695.2) rotate(-45)" y="2.17" font-size="6.2" text-anchor="end">G2/M</text>
<rect x="325.3" y="604.9" width="9.4" height="5.2" fill="#a2b9d0" />
<text x="339.5" y="609.88" font-size="6.8">Ctrl</text>
<rect x="325.3" y="616" width="9.4" height="5.2" fill="#eeaaa9" />
<text x="339.5" y="620.98" font-size="6.8">TRIM35</text>
<path d="M292.6,606.7 V604.5 H309.7 V606.7" fill="none" stroke="#111" stroke-width="0.9" />
<text x="301.15" y="603.18" font-size="4.8" text-anchor="middle" font-weight="bold">*</text>
<text x="386" y="384.5" font-size="24.3">D</text>
<text x="455.6" y="374.22" font-size="11.5" text-anchor="middle">MDA-MB-231</text>
<line x1="420.8" y1="381.2" x2="487.8" y2="381.2" stroke="#555" stroke-width="0.8" />
<text x="530.3" y="374.22" font-size="11.5" text-anchor="middle">MCF7</text>
<line x1="496.7" y1="381.2" x2="563.2" y2="381.2" stroke="#555" stroke-width="0.8" />
<text x="603.2" y="374.22" font-size="11.5" text-anchor="middle">CAL51</text>
<line x1="569.7" y1="381.2" x2="636.8" y2="381.2" stroke="#555" stroke-width="0.8" />
<text x="438.2" y="397.15" font-size="11" text-anchor="middle">Ctrl</text>
<text x="473" y="397.15" font-size="11" text-anchor="middle" textLength="34.7" lengthAdjust="spacingAndGlyphs">TRIM35</text>
<text x="512.5" y="397.15" font-size="11" text-anchor="middle">Ctrl</text>
<text x="547.3" y="397.15" font-size="11" text-anchor="middle" textLength="34.7" lengthAdjust="spacingAndGlyphs">TRIM35</text>
<text x="587" y="397.15" font-size="11" text-anchor="middle">Ctrl</text>
<text x="621.8" y="397.15" font-size="11" text-anchor="middle" textLength="34.7" lengthAdjust="spacingAndGlyphs">TRIM35</text>
<rect x="420.3" y="404.1" width="69.3" height="22.4" fill="#c9c9c9" />
<rect x="427.6" y="412.05" width="24" height="6.5" rx="3.25" fill="#000" opacity="0.97" filter="url(#bb1)"/>
<rect x="458.4" y="411.8" width="24" height="6" rx="3" fill="#000" opacity="0.95" filter="url(#bb1)"/>
<rect x="420.3" y="404.1" width="69.3" height="22.4" fill="none" stroke="#111" stroke-width="1.1" />
<rect x="494.6" y="404.1" width="69.3" height="22.4" fill="#cbcbcb" />
<rect x="501.4" y="412.55" width="25" height="6.5" rx="3.25" fill="#000" opacity="0.96" filter="url(#bb1)"/>
<rect x="532.2" y="412.55" width="25" height="6.5" rx="3.25" fill="#000" opacity="0.95" filter="url(#bb1)"/>
<rect x="494.6" y="404.1" width="69.3" height="22.4" fill="none" stroke="#111" stroke-width="1.1" />
<rect x="569.1" y="404.1" width="69.3" height="22.4" fill="#c3c3c3" />
<rect x="575.9" y="411.8" width="25" height="7" rx="3.5" fill="#000" opacity="0.96" filter="url(#bb1)"/>
<rect x="607.2" y="412.55" width="24" height="6.5" rx="3.25" fill="#000" opacity="0.94" filter="url(#bb1)"/>
<rect x="569.1" y="404.1" width="69.3" height="22.4" fill="none" stroke="#111" stroke-width="1.1" />
<text x="413.2" y="419.52" font-size="11.5" text-anchor="end">Cyclin A2</text>
<text x="439.6" y="435.84" font-size="10.4" text-anchor="middle" textLength="18.6" lengthAdjust="spacingAndGlyphs">1.00</text>
<text x="470.4" y="435.84" font-size="10.4" text-anchor="middle" textLength="18.6" lengthAdjust="spacingAndGlyphs">0.97</text>
<text x="513.9" y="435.84" font-size="10.4" text-anchor="middle" textLength="18.6" lengthAdjust="spacingAndGlyphs">1.00</text>
<text x="544.7" y="435.84" font-size="10.4" text-anchor="middle" textLength="18.6" lengthAdjust="spacingAndGlyphs">1.04</text>
<text x="588.4" y="435.84" font-size="10.4" text-anchor="middle" textLength="18.6" lengthAdjust="spacingAndGlyphs">1.00</text>
<text x="619.2" y="435.84" font-size="10.4" text-anchor="middle" textLength="18.6" lengthAdjust="spacingAndGlyphs">0.92</text>
<line x1="639.5" y1="408.4" x2="646" y2="408.4" stroke="#222" stroke-width="0.9" />
<text x="647.5" y="412" font-size="10.3">70kDa</text>
<rect x="420.3" y="439" width="69.3" height="22" fill="#e9e9e9" />
<rect x="428.6" y="447.6" width="22" height="3.8" rx="1.9" fill="#000" opacity="0.88" filter="url(#bb1)"/>
<rect x="460.4" y="448" width="20" height="3" rx="1.5" fill="#000" opacity="0.5" filter="url(#bb1)"/>
<rect x="420.3" y="439" width="69.3" height="22" fill="none" stroke="#111" stroke-width="1.1" />
<rect x="494.6" y="439" width="69.3" height="22" fill="#a0a0a0" />
<rect x="501.9" y="446.75" width="22" height="4.5" rx="2.25" fill="#000" opacity="0.9" filter="url(#bb1)"/>
<rect x="534.7" y="447.25" width="20" height="3.5" rx="1.75" fill="#000" opacity="0.55" filter="url(#bb1)"/>
<rect x="494.6" y="439" width="69.3" height="22" fill="none" stroke="#111" stroke-width="1.1" />
<rect x="569.1" y="439" width="69.3" height="22" fill="#f3f3f3" />
<rect x="577.9" y="448.9" width="21" height="4.6" rx="2.3" fill="#000" opacity="0.95" filter="url(#bb1)"/>
<rect x="610.2" y="447.9" width="18" height="3.2" rx="1.6" fill="#000" opacity="0.5" filter="url(#bb1)"/>
<rect x="569.1" y="439" width="69.3" height="22" fill="none" stroke="#111" stroke-width="1.1" />
<text x="413.2" y="454.02" font-size="11.5" text-anchor="end">CDK2</text>
<text x="439.6" y="470.34" font-size="10.4" text-anchor="middle" textLength="18.6" lengthAdjust="spacingAndGlyphs">1.00</text>
<text x="470.4" y="470.34" font-size="10.4" text-anchor="middle" textLength="18.6" lengthAdjust="spacingAndGlyphs">0.63</text>
<text x="513.9" y="470.34" font-size="10.4" text-anchor="middle" textLength="18.6" lengthAdjust="spacingAndGlyphs">1.00</text>
<text x="544.7" y="470.34" font-size="10.4" text-anchor="middle" textLength="18.6" lengthAdjust="spacingAndGlyphs">0.84</text>
<text x="588.4" y="470.34" font-size="10.4" text-anchor="middle" textLength="18.6" lengthAdjust="spacingAndGlyphs">1.00</text>
<text x="619.2" y="470.34" font-size="10.4" text-anchor="middle" textLength="18.6" lengthAdjust="spacingAndGlyphs">0.63</text>
<line x1="639.5" y1="441.7" x2="646" y2="441.7" stroke="#222" stroke-width="0.9" />
<text x="647.5" y="445.31" font-size="10.3">35kDa</text>
<rect x="420.3" y="473.4" width="69.3" height="22.4" fill="#d0d0d0" />
<rect x="426.1" y="483.3" width="27" height="3.6" rx="1.8" fill="#000" opacity="0.9" filter="url(#bb1)"/>
<rect x="459.4" y="482.6" width="22" height="3" rx="1.5" fill="#000" opacity="0.75" filter="url(#bb1)"/>
<rect x="420.3" y="473.4" width="69.3" height="22.4" fill="none" stroke="#111" stroke-width="1.1" />
<rect x="494.6" y="473.4" width="69.3" height="22.4" fill="#cecece" />
<rect x="500.9" y="484.1" width="24" height="3" rx="1.5" fill="#000" opacity="0.88" filter="url(#bb1)"/>
<rect x="534.7" y="482.6" width="20" height="2.4" rx="1.2" fill="#000" opacity="0.6" filter="url(#bb1)"/>
<rect x="494.6" y="473.4" width="69.3" height="22.4" fill="none" stroke="#111" stroke-width="1.1" />
<rect x="569.1" y="473.4" width="69.3" height="22.4" fill="#b8b8b8" />
<rect x="575.9" y="483.3" width="25" height="3" rx="1.5" fill="#000" opacity="0.85" filter="url(#bb1)"/>
<rect x="608.2" y="482.4" width="22" height="2.8" rx="1.4" fill="#000" opacity="0.72" filter="url(#bb1)"/>
<rect x="569.1" y="473.4" width="69.3" height="22.4" fill="none" stroke="#111" stroke-width="1.1" />
<text x="413.2" y="488.62" font-size="11.5" text-anchor="end">PARP</text>
<text x="439.6" y="504.54" font-size="10.4" text-anchor="middle" textLength="18.6" lengthAdjust="spacingAndGlyphs">1.00</text>
<text x="470.4" y="504.54" font-size="10.4" text-anchor="middle" textLength="18.6" lengthAdjust="spacingAndGlyphs">0.57</text>
<text x="513.9" y="504.54" font-size="10.4" text-anchor="middle" textLength="18.6" lengthAdjust="spacingAndGlyphs">1.00</text>
<text x="544.7" y="504.54" font-size="10.4" text-anchor="middle" textLength="18.6" lengthAdjust="spacingAndGlyphs">0.74</text>
<text x="588.4" y="504.54" font-size="10.4" text-anchor="middle" textLength="18.6" lengthAdjust="spacingAndGlyphs">1.00</text>
<text x="619.2" y="504.54" font-size="10.4" text-anchor="middle" textLength="18.6" lengthAdjust="spacingAndGlyphs">0.62</text>
<line x1="639.5" y1="476" x2="646" y2="476" stroke="#222" stroke-width="0.9" />
<text x="647.5" y="479.61" font-size="10.3">150kDa</text>
<rect x="420.3" y="507.7" width="69.3" height="22.8" fill="#9a9a9a" />
<rect x="420.3" y="507.7" width="69.3" height="22.8" fill="#000" filter="url(#noiz)" opacity="0.35"/>
<rect x="428.6" y="518.1" width="22" height="2" rx="1" fill="#000" opacity="0.3" filter="url(#bb1)"/>
<rect x="458.4" y="516.9" width="24" height="3.4" rx="1.7" fill="#000" opacity="0.85" filter="url(#bb1)"/>
<rect x="420.3" y="507.7" width="69.3" height="22.8" fill="none" stroke="#111" stroke-width="1.1" />
<rect x="494.6" y="507.7" width="69.3" height="22.8" fill="#d6d6d6" />
<rect x="500.9" y="516.8" width="26" height="4.6" rx="2.3" fill="#000" opacity="0.9" filter="url(#bb1)"/>
<rect x="531.7" y="516.1" width="26" height="6" rx="3" fill="#000" opacity="0.95" filter="url(#bb1)"/>
<rect x="494.6" y="507.7" width="69.3" height="22.8" fill="none" stroke="#111" stroke-width="1.1" />
<rect x="569.1" y="507.7" width="69.3" height="22.8" fill="#d2d2d2" />
<rect x="577.4" y="517.85" width="22" height="2.5" rx="1.25" fill="#000" opacity="0.28" filter="url(#bb1)"/>
<rect x="607.2" y="517.1" width="24" height="4" rx="2" fill="#000" opacity="0.9" filter="url(#bb1)"/>
<rect x="569.1" y="507.7" width="69.3" height="22.8" fill="none" stroke="#111" stroke-width="1.1" />
<text x="413.2" y="516.17" font-size="10.2" text-anchor="end">Cleaved</text>
<text x="413.2" y="528.57" font-size="10.2" text-anchor="end">PARP</text>
<text x="439.6" y="539.84" font-size="10.4" text-anchor="middle" textLength="18.6" lengthAdjust="spacingAndGlyphs">1.00</text>
<text x="470.4" y="539.84" font-size="10.4" text-anchor="middle" textLength="18.6" lengthAdjust="spacingAndGlyphs">2.05</text>
<text x="513.9" y="539.84" font-size="10.4" text-anchor="middle" textLength="18.6" lengthAdjust="spacingAndGlyphs">1.00</text>
<text x="544.7" y="539.84" font-size="10.4" text-anchor="middle" textLength="18.6" lengthAdjust="spacingAndGlyphs">1.27</text>
<text x="588.4" y="539.84" font-size="10.4" text-anchor="middle" textLength="18.6" lengthAdjust="spacingAndGlyphs">1.00</text>
<text x="619.2" y="539.84" font-size="10.4" text-anchor="middle" textLength="18.6" lengthAdjust="spacingAndGlyphs">2.95</text>
<line x1="639.5" y1="515.5" x2="646" y2="515.5" stroke="#222" stroke-width="0.9" />
<text x="647.5" y="519.11" font-size="10.3">100kDa</text>
<rect x="420.3" y="542.4" width="69.3" height="22.9" fill="#dcdcdc" />
<rect x="427.6" y="549.1" width="24" height="9.5" rx="4.75" fill="#000" opacity="0.97" filter="url(#bb2)"/>
<rect x="458.4" y="551.1" width="24" height="6.5" rx="3.25" fill="#000" opacity="0.7" filter="url(#bb2)"/>
<rect x="420.3" y="542.4" width="69.3" height="22.9" fill="none" stroke="#111" stroke-width="1.1" />
<rect x="494.6" y="542.4" width="69.3" height="22.9" fill="#ababab" />
<rect x="501.9" y="549.1" width="24" height="8.5" rx="4.25" fill="#000" opacity="0.9" filter="url(#bb2)"/>
<rect x="533.7" y="550.6" width="22" height="6.5" rx="3.25" fill="#000" opacity="0.5" filter="url(#bb2)"/>
<rect x="494.6" y="542.4" width="69.3" height="22.9" fill="none" stroke="#111" stroke-width="1.1" />
<rect x="569.1" y="542.4" width="69.3" height="22.9" fill="#b2b2b2" />
<rect x="576.4" y="549.55" width="24" height="2.6" rx="1.3" fill="#000" opacity="0.9" filter="url(#bb1)"/>
<rect x="608.2" y="549.85" width="22" height="2" rx="1" fill="#000" opacity="0.4" filter="url(#bb1)"/>
<rect x="576.4" y="554.75" width="24" height="2.6" rx="1.3" fill="#000" opacity="0.9" filter="url(#bb1)"/>
<rect x="608.2" y="554.75" width="22" height="2.6" rx="1.3" fill="#000" opacity="0.4" filter="url(#bb1)"/>
<rect x="569.1" y="542.4" width="69.3" height="22.9" fill="none" stroke="#111" stroke-width="1.1" />
<text x="413.2" y="558.02" font-size="11.5" text-anchor="end">Bcl-xl</text>
<text x="439.6" y="573.94" font-size="10.4" text-anchor="middle" textLength="18.6" lengthAdjust="spacingAndGlyphs">1.00</text>
<text x="470.4" y="573.94" font-size="10.4" text-anchor="middle" textLength="18.6" lengthAdjust="spacingAndGlyphs">0.62</text>
<text x="513.9" y="573.94" font-size="10.4" text-anchor="middle" textLength="18.6" lengthAdjust="spacingAndGlyphs">1.00</text>
<text x="544.7" y="573.94" font-size="10.4" text-anchor="middle" textLength="18.6" lengthAdjust="spacingAndGlyphs">0.60</text>
<text x="588.4" y="573.94" font-size="10.4" text-anchor="middle" textLength="18.6" lengthAdjust="spacingAndGlyphs">1.00</text>
<text x="619.2" y="573.94" font-size="10.4" text-anchor="middle" textLength="18.6" lengthAdjust="spacingAndGlyphs">0.45</text>
<line x1="639.5" y1="560.7" x2="646" y2="560.7" stroke="#222" stroke-width="0.9" />
<text x="647.5" y="564.31" font-size="10.3">25kDa</text>
<rect x="420.3" y="577.4" width="69.3" height="21.6" fill="#e4e4e4" />
<rect x="427.6" y="586.4" width="24" height="3.6" rx="1.8" fill="#000" opacity="0.9" filter="url(#bb1)"/>
<rect x="461.4" y="586.7" width="18" height="3" rx="1.5" fill="#000" opacity="0.6" filter="url(#bb1)"/>
<rect x="420.3" y="577.4" width="69.3" height="21.6" fill="none" stroke="#111" stroke-width="1.1" />
<rect x="494.6" y="577.4" width="69.3" height="21.6" fill="#8f8f8f" />
<rect x="500.9" y="583.7" width="24" height="6" rx="3" fill="#000" opacity="0.85" filter="url(#bb2)"/>
<rect x="535.7" y="585.7" width="20" height="5" rx="2.5" fill="#000" opacity="0.45" filter="url(#bb2)"/>
<rect x="494.6" y="577.4" width="69.3" height="21.6" fill="none" stroke="#111" stroke-width="1.1" />
<rect x="569.1" y="577.4" width="69.3" height="21.6" fill="#dcdcdc" />
<rect x="577.4" y="586.2" width="22" height="4" rx="2" fill="#000" opacity="0.8" filter="url(#bb1)"/>
<rect x="610.2" y="586.5" width="18" height="3.4" rx="1.7" fill="#000" opacity="0.5" filter="url(#bb1)"/>
<rect x="569.1" y="577.4" width="69.3" height="21.6" fill="none" stroke="#111" stroke-width="1.1" />
<text x="413.2" y="593.02" font-size="11.5" text-anchor="end">Bcl-2</text>
<text x="439.6" y="608.44" font-size="10.4" text-anchor="middle" textLength="18.6" lengthAdjust="spacingAndGlyphs">1.00</text>
<text x="470.4" y="608.44" font-size="10.4" text-anchor="middle" textLength="18.6" lengthAdjust="spacingAndGlyphs">0.62</text>
<text x="513.9" y="608.44" font-size="10.4" text-anchor="middle" textLength="18.6" lengthAdjust="spacingAndGlyphs">1.00</text>
<text x="544.7" y="608.44" font-size="10.4" text-anchor="middle" textLength="18.6" lengthAdjust="spacingAndGlyphs">0.45</text>
<text x="588.4" y="608.44" font-size="10.4" text-anchor="middle" textLength="18.6" lengthAdjust="spacingAndGlyphs">1.00</text>
<text x="619.2" y="608.44" font-size="10.4" text-anchor="middle" textLength="18.6" lengthAdjust="spacingAndGlyphs">0.56</text>
<line x1="639.5" y1="592.8" x2="646" y2="592.8" stroke="#222" stroke-width="0.9" />
<text x="647.5" y="596.4" font-size="10.3">25kDa</text>
<rect x="420.3" y="611.4" width="69.3" height="22.6" fill="#dedede" />
<rect x="428.6" y="617.7" width="22" height="7" rx="3.5" fill="#000" opacity="0.97" filter="url(#bb1)"/>
<rect x="458.4" y="620.45" width="24" height="6.5" rx="3.25" fill="#000" opacity="0.95" filter="url(#bb1)"/>
<rect x="420.3" y="611.4" width="69.3" height="22.6" fill="none" stroke="#111" stroke-width="1.1" />
<rect x="494.6" y="611.4" width="69.3" height="22.6" fill="#d6d6d6" />
<rect x="502.9" y="619.2" width="22" height="7" rx="3.5" fill="#000" opacity="0.97" filter="url(#bb1)"/>
<rect x="533.7" y="619.2" width="22" height="7" rx="3.5" fill="#000" opacity="0.97" filter="url(#bb1)"/>
<rect x="494.6" y="611.4" width="69.3" height="22.6" fill="none" stroke="#111" stroke-width="1.1" />
<rect x="569.1" y="611.4" width="69.3" height="22.6" fill="#cfcfcf" />
<rect x="575.4" y="618.7" width="26" height="8" rx="4" fill="#000" opacity="0.98" filter="url(#bb1)"/>
<rect x="606.2" y="618.7" width="26" height="8" rx="4" fill="#000" opacity="0.98" filter="url(#bb1)"/>
<rect x="569.1" y="611.4" width="69.3" height="22.6" fill="none" stroke="#111" stroke-width="1.1" />
<text x="413.2" y="627.52" font-size="11.5" text-anchor="end">Bax</text>
<text x="439.6" y="643.64" font-size="10.4" text-anchor="middle" textLength="18.6" lengthAdjust="spacingAndGlyphs">1.00</text>
<text x="470.4" y="643.64" font-size="10.4" text-anchor="middle" textLength="18.6" lengthAdjust="spacingAndGlyphs">1.06</text>
<text x="513.9" y="643.64" font-size="10.4" text-anchor="middle" textLength="18.6" lengthAdjust="spacingAndGlyphs">1.00</text>
<text x="544.7" y="643.64" font-size="10.4" text-anchor="middle" textLength="18.6" lengthAdjust="spacingAndGlyphs">1.04</text>
<text x="588.4" y="643.64" font-size="10.4" text-anchor="middle" textLength="18.6" lengthAdjust="spacingAndGlyphs">1.00</text>
<text x="619.2" y="643.64" font-size="10.4" text-anchor="middle" textLength="18.6" lengthAdjust="spacingAndGlyphs">0.96</text>
<line x1="639.5" y1="629.3" x2="646" y2="629.3" stroke="#222" stroke-width="0.9" />
<text x="647.5" y="632.9" font-size="10.3">20kDa</text>
<rect x="420.3" y="646.9" width="69.3" height="22.3" fill="#f4f4f4" />
<rect x="460.4" y="658.25" width="20" height="6" rx="3" fill="#000" opacity="0.95" filter="url(#bb1)"/>
<rect x="461.4" y="647.9" width="18" height="12.27" fill="#000" opacity="0.3" filter="url(#bb2)"/>
<rect x="420.3" y="646.9" width="69.3" height="22.3" fill="none" stroke="#111" stroke-width="1.1" />
<rect x="494.6" y="646.9" width="69.3" height="22.3" fill="#f6f6f6" />
<rect x="534.7" y="657.05" width="20" height="6" rx="3" fill="#000" opacity="0.95" filter="url(#bb1)"/>
<rect x="535.7" y="647.9" width="18" height="12.27" fill="#000" opacity="0.3" filter="url(#bb2)"/>
<rect x="494.6" y="646.9" width="69.3" height="22.3" fill="none" stroke="#111" stroke-width="1.1" />
<rect x="569.1" y="646.9" width="69.3" height="22.3" fill="#f3f3f3" />
<rect x="608.2" y="655.55" width="22" height="6" rx="3" fill="#000" opacity="0.95" filter="url(#bb1)"/>
<rect x="569.1" y="646.9" width="69.3" height="22.3" fill="none" stroke="#111" stroke-width="1.1" />
<text x="413.2" y="655.37" font-size="10.2" text-anchor="end">TRIM35</text>
<text x="413.2" y="667.27" font-size="10.2" text-anchor="end">-Flag</text>
<line x1="639.5" y1="654" x2="646" y2="654" stroke="#222" stroke-width="0.9" />
<text x="647.5" y="657.61" font-size="10.3">70kDa</text>
<rect x="420.3" y="676.2" width="69.3" height="23.3" fill="#d4d4d4" />
<rect x="426.6" y="685.35" width="26" height="5" rx="2.5" fill="#000" opacity="0.95" filter="url(#bb1)"/>
<rect x="457.4" y="685.35" width="26" height="5" rx="2.5" fill="#000" opacity="0.95" filter="url(#bb1)"/>
<rect x="420.3" y="676.2" width="69.3" height="23.3" fill="none" stroke="#111" stroke-width="1.1" />
<rect x="494.6" y="676.2" width="69.3" height="23.3" fill="#d8d8d8" />
<rect x="500.9" y="684.85" width="26" height="6" rx="3" fill="#000" opacity="0.97" filter="url(#bb1)"/>
<rect x="531.7" y="684.85" width="26" height="6" rx="3" fill="#000" opacity="0.97" filter="url(#bb1)"/>
<rect x="494.6" y="676.2" width="69.3" height="23.3" fill="none" stroke="#111" stroke-width="1.1" />
<rect x="569.1" y="676.2" width="69.3" height="23.3" fill="#cbcbcb" />
<rect x="575.4" y="682.85" width="26" height="6" rx="3" fill="#000" opacity="0.97" filter="url(#bb1)"/>
<rect x="605.2" y="684.35" width="28" height="8" rx="4" fill="#000" opacity="0.98" filter="url(#bb1)"/>
<rect x="569.1" y="676.2" width="69.3" height="23.3" fill="none" stroke="#111" stroke-width="1.1" />
<text x="413.2" y="692.62" font-size="11.5" text-anchor="end">GAPDH</text>
<line x1="639.5" y1="692.6" x2="646" y2="692.6" stroke="#222" stroke-width="0.9" />
<text x="647.5" y="696.21" font-size="10.3">35kDa</text>
<text x="0.1" y="724.5" font-size="24.3">E</text>
<text x="60.2" y="723.91" font-size="8.9" text-anchor="middle">Case 1</text>
<text x="127" y="723.91" font-size="8.9" text-anchor="middle">Case 2</text>
<text x="196.4" y="723.91" font-size="8.9" text-anchor="middle">Case 3</text>
<rect x="29.2" y="729.4" width="64.6" height="120.3" fill="url(#photobg)" />
<g transform="translate(58.6,736.7)">
<path d="M-10,40 L-28,44 L-29,58 L-12,56 Z" fill="#c9cacd" filter="url(#soft2)" opacity="0.5"/>
<line x1="-10" y1="94" x2="-24" y2="106" stroke="#d8c0b6" stroke-width="5" stroke-linecap="round"/>
<line x1="-24" y1="106" x2="-29" y2="108.5" stroke="#dfc9c0" stroke-width="3.4" stroke-linecap="round"/>
<line x1="19" y1="93" x2="30" y2="103" stroke="#d8c0b6" stroke-width="5" stroke-linecap="round"/>
<line x1="30" y1="103" x2="34" y2="105" stroke="#dfc9c0" stroke-width="3.4" stroke-linecap="round"/>
<line x1="4.5" y1="99" x2="5.6" y2="114" stroke="#d8c4bc" stroke-width="3" stroke-linecap="round"/>
<ellipse cx="-8.5" cy="19" rx="5" ry="6" fill="#e8dcd6"/>
<ellipse cx="16" cy="19.5" rx="5.2" ry="5.6" fill="#e8dcd6"/>
<path d="M19,21.5 L27,19.8 L27.5,22 L20,23.5 Z" fill="#8a8c90" />
<line x1="-7" y1="31" x2="-15.5" y2="34" stroke="#dcc6bd" stroke-width="4.2" stroke-linecap="round"/>
<circle cx="-16.5" cy="34.2" r="2.4" fill="#e6d2ca" />
<path d="M0.00,0.00 C0.67,0.08 1.75,0.83 2.50,2.00 C3.25,3.17 3.83,5.33 4.50,7.00 C5.17,8.67 5.75,10.33 6.50,12.00 C7.25,13.67 8.08,15.33 9.00,17.00 C9.92,18.67 11.00,20.17 12.00,22.00 C13.00,23.83 14.17,26.00 15.00,28.00 C15.83,30.00 16.33,31.17 17.00,34.00 C17.67,36.83 18.42,41.50 19.00,45.00 C19.58,48.50 20.08,52.00 20.50,55.00 C20.92,58.00 21.17,60.17 21.50,63.00 C21.83,65.83 22.08,69.50 22.50,72.00 C22.92,74.50 23.83,75.83 24.00,78.00 C24.17,80.17 24.00,82.67 23.50,85.00 C23.00,87.33 22.25,90.00 21.00,92.00 C19.75,94.00 18.00,95.75 16.00,97.00 C14.00,98.25 11.00,99.00 9.00,99.50 C7.00,100.00 5.50,99.92 4.00,100.00 C2.50,100.08 1.33,100.17 0.00,100.00 C-1.33,99.83 -2.67,99.67 -4.00,99.00 C-5.33,98.33 -6.83,97.17 -8.00,96.00 C-9.17,94.83 -10.17,93.83 -11.00,92.00 C-11.83,90.17 -12.42,87.50 -13.00,85.00 C-13.58,82.50 -14.42,80.00 -14.50,77.00 C-14.58,74.00 -13.92,69.83 -13.50,67.00 C-13.08,64.17 -12.42,62.83 -12.00,60.00 C-11.58,57.17 -11.42,53.33 -11.00,50.00 C-10.58,46.67 -9.87,42.83 -9.50,40.00 C-9.13,37.17 -9.02,35.33 -8.80,33.00 C-8.58,30.67 -8.50,28.17 -8.20,26.00 C-7.90,23.83 -7.53,22.33 -7.00,20.00 C-6.47,17.67 -5.67,14.50 -5.00,12.00 C-4.33,9.50 -3.58,6.75 -3.00,5.00 C-2.42,3.25 -2.00,2.33 -1.50,1.50 C-1.00,0.67 -0.67,-0.08 0.00,0.00Z" fill="url(#mbody)" />
<line x1="15.5" y1="27" x2="13.6" y2="34.5" stroke="#d6c2ba" stroke-width="4.2" stroke-linecap="round"/>
<circle cx="13.6" cy="35.3" r="2.4" fill="#e2cec6" />
<ellipse cx="0.2" cy="3.5" rx="2.4" ry="3.6" fill="#d9a0a4"/>
<ellipse cx="2" cy="16" rx="6" ry="12" fill="#d4cac7" opacity="0.7" filter="url(#soft2)"/>
<ellipse cx="5" cy="80" rx="14" ry="10" fill="#c6b9b5" opacity="0.5" filter="url(#soft2)"/>
<ellipse cx="3.5" cy="52" rx="2.4" ry="3.6" fill="#cbbdb4" filter="url(#soft)"/>
<ellipse cx="3" cy="95.5" rx="2" ry="1.8" fill="#e0d0c4"/>
</g>
<ellipse cx="51.7" cy="814" rx="4.2" ry="4.8" fill="#cfc0b4" filter="url(#soft)"/>
<ellipse cx="76.3" cy="814" rx="4.2" ry="4.8" fill="#cfc0b4" filter="url(#soft)"/>
<circle cx="51.7" cy="813" r="7.5" fill="none" stroke="#4b77ad" stroke-width="1"/>
<circle cx="76.3" cy="813" r="7.5" fill="none" stroke="#e25a5a" stroke-width="1"/>
<text transform="translate(52,820.5) rotate(90)" y="2.1" font-size="6" font-weight="bold" fill="#1a1a1a" font-family='"Liberation Serif", serif' textLength="25.5" lengthAdjust="spacingAndGlyphs">pLenti-ctrl</text>
<text transform="translate(76.6,820.5) rotate(90)" y="2.1" font-size="6" font-weight="bold" fill="#1a1a1a" font-family='"Liberation Serif", serif' textLength="36" lengthAdjust="spacingAndGlyphs">pLenti-TRIM35</text>
<rect x="98" y="729.4" width="62.8" height="120.3" fill="url(#photobg)" />
<g transform="translate(127.7,737.3)">
<path d="M-10,40 L-28,44 L-29,58 L-12,56 Z" fill="#c9cacd" filter="url(#soft2)" opacity="0.5"/>
<line x1="-10" y1="94" x2="-24" y2="106" stroke="#d8c0b6" stroke-width="5" stroke-linecap="round"/>
<line x1="-24" y1="106" x2="-29" y2="108.5" stroke="#dfc9c0" stroke-width="3.4" stroke-linecap="round"/>
<line x1="19" y1="93" x2="30" y2="103" stroke="#d8c0b6" stroke-width="5" stroke-linecap="round"/>
<line x1="30" y1="103" x2="34" y2="105" stroke="#dfc9c0" stroke-width="3.4" stroke-linecap="round"/>
<line x1="4.5" y1="99" x2="5.6" y2="114" stroke="#d8c4bc" stroke-width="3" stroke-linecap="round"/>
<ellipse cx="-8.5" cy="19" rx="5" ry="6" fill="#e8dcd6"/>
<ellipse cx="16" cy="19.5" rx="5.2" ry="5.6" fill="#e8dcd6"/>
<path d="M19,21.5 L27,19.8 L27.5,22 L20,23.5 Z" fill="#8a8c90" />
<line x1="-7" y1="31" x2="-15.5" y2="34" stroke="#dcc6bd" stroke-width="4.2" stroke-linecap="round"/>
<circle cx="-16.5" cy="34.2" r="2.4" fill="#e6d2ca" />
<path d="M0.00,0.00 C0.67,0.08 1.75,0.83 2.50,2.00 C3.25,3.17 3.83,5.33 4.50,7.00 C5.17,8.67 5.75,10.33 6.50,12.00 C7.25,13.67 8.08,15.33 9.00,17.00 C9.92,18.67 11.00,20.17 12.00,22.00 C13.00,23.83 14.17,26.00 15.00,28.00 C15.83,30.00 16.33,31.17 17.00,34.00 C17.67,36.83 18.42,41.50 19.00,45.00 C19.58,48.50 20.08,52.00 20.50,55.00 C20.92,58.00 21.17,60.17 21.50,63.00 C21.83,65.83 22.08,69.50 22.50,72.00 C22.92,74.50 23.83,75.83 24.00,78.00 C24.17,80.17 24.00,82.67 23.50,85.00 C23.00,87.33 22.25,90.00 21.00,92.00 C19.75,94.00 18.00,95.75 16.00,97.00 C14.00,98.25 11.00,99.00 9.00,99.50 C7.00,100.00 5.50,99.92 4.00,100.00 C2.50,100.08 1.33,100.17 0.00,100.00 C-1.33,99.83 -2.67,99.67 -4.00,99.00 C-5.33,98.33 -6.83,97.17 -8.00,96.00 C-9.17,94.83 -10.17,93.83 -11.00,92.00 C-11.83,90.17 -12.42,87.50 -13.00,85.00 C-13.58,82.50 -14.42,80.00 -14.50,77.00 C-14.58,74.00 -13.92,69.83 -13.50,67.00 C-13.08,64.17 -12.42,62.83 -12.00,60.00 C-11.58,57.17 -11.42,53.33 -11.00,50.00 C-10.58,46.67 -9.87,42.83 -9.50,40.00 C-9.13,37.17 -9.02,35.33 -8.80,33.00 C-8.58,30.67 -8.50,28.17 -8.20,26.00 C-7.90,23.83 -7.53,22.33 -7.00,20.00 C-6.47,17.67 -5.67,14.50 -5.00,12.00 C-4.33,9.50 -3.58,6.75 -3.00,5.00 C-2.42,3.25 -2.00,2.33 -1.50,1.50 C-1.00,0.67 -0.67,-0.08 0.00,0.00Z" fill="url(#mbody)" />
<line x1="15.5" y1="27" x2="13.6" y2="34.5" stroke="#d6c2ba" stroke-width="4.2" stroke-linecap="round"/>
<circle cx="13.6" cy="35.3" r="2.4" fill="#e2cec6" />
<ellipse cx="0.2" cy="3.5" rx="2.4" ry="3.6" fill="#d9a0a4"/>
<ellipse cx="2" cy="16" rx="6" ry="12" fill="#d4cac7" opacity="0.7" filter="url(#soft2)"/>
<ellipse cx="5" cy="80" rx="14" ry="10" fill="#c6b9b5" opacity="0.5" filter="url(#soft2)"/>
<ellipse cx="3.5" cy="52" rx="2.4" ry="3.6" fill="#cbbdb4" filter="url(#soft)"/>
<ellipse cx="3" cy="95.5" rx="2" ry="1.8" fill="#e0d0c4"/>
</g>
<ellipse cx="116.5" cy="814" rx="4.2" ry="4.8" fill="#cfc0b4" filter="url(#soft)"/>
<ellipse cx="141.6" cy="814" rx="4.2" ry="4.8" fill="#cfc0b4" filter="url(#soft)"/>
<circle cx="116.5" cy="813" r="7.5" fill="none" stroke="#4b77ad" stroke-width="1"/>
<circle cx="141.6" cy="813" r="7.5" fill="none" stroke="#e25a5a" stroke-width="1"/>
<text transform="translate(116.8,820.5) rotate(90)" y="2.1" font-size="6" font-weight="bold" fill="#1a1a1a" font-family='"Liberation Serif", serif' textLength="25.5" lengthAdjust="spacingAndGlyphs">pLenti-ctrl</text>
<text transform="translate(141.9,820.5) rotate(90)" y="2.1" font-size="6" font-weight="bold" fill="#1a1a1a" font-family='"Liberation Serif", serif' textLength="36" lengthAdjust="spacingAndGlyphs">pLenti-TRIM35</text>
<rect x="164.1" y="729.4" width="66.8" height="120.3" fill="url(#photobg)" />
<g transform="translate(194.7,737.3)">
<path d="M-10,40 L-28,44 L-29,58 L-12,56 Z" fill="#c9cacd" filter="url(#soft2)" opacity="0.5"/>
<line x1="-10" y1="94" x2="-24" y2="106" stroke="#d8c0b6" stroke-width="5" stroke-linecap="round"/>
<line x1="-24" y1="106" x2="-29" y2="108.5" stroke="#dfc9c0" stroke-width="3.4" stroke-linecap="round"/>
<line x1="19" y1="93" x2="30" y2="103" stroke="#d8c0b6" stroke-width="5" stroke-linecap="round"/>
<line x1="30" y1="103" x2="34" y2="105" stroke="#dfc9c0" stroke-width="3.4" stroke-linecap="round"/>
<line x1="4.5" y1="99" x2="5.6" y2="114" stroke="#d8c4bc" stroke-width="3" stroke-linecap="round"/>
<ellipse cx="-8.5" cy="19" rx="5" ry="6" fill="#e8dcd6"/>
<ellipse cx="16" cy="19.5" rx="5.2" ry="5.6" fill="#e8dcd6"/>
<line x1="-7" y1="31" x2="-15.5" y2="34" stroke="#dcc6bd" stroke-width="4.2" stroke-linecap="round"/>
<circle cx="-16.5" cy="34.2" r="2.4" fill="#e6d2ca" />
<path d="M0.00,0.00 C0.67,0.08 1.75,0.83 2.50,2.00 C3.25,3.17 3.83,5.33 4.50,7.00 C5.17,8.67 5.75,10.33 6.50,12.00 C7.25,13.67 8.08,15.33 9.00,17.00 C9.92,18.67 11.00,20.17 12.00,22.00 C13.00,23.83 14.17,26.00 15.00,28.00 C15.83,30.00 16.33,31.17 17.00,34.00 C17.67,36.83 18.42,41.50 19.00,45.00 C19.58,48.50 20.08,52.00 20.50,55.00 C20.92,58.00 21.17,60.17 21.50,63.00 C21.83,65.83 22.08,69.50 22.50,72.00 C22.92,74.50 23.83,75.83 24.00,78.00 C24.17,80.17 24.00,82.67 23.50,85.00 C23.00,87.33 22.25,90.00 21.00,92.00 C19.75,94.00 18.00,95.75 16.00,97.00 C14.00,98.25 11.00,99.00 9.00,99.50 C7.00,100.00 5.50,99.92 4.00,100.00 C2.50,100.08 1.33,100.17 0.00,100.00 C-1.33,99.83 -2.67,99.67 -4.00,99.00 C-5.33,98.33 -6.83,97.17 -8.00,96.00 C-9.17,94.83 -10.17,93.83 -11.00,92.00 C-11.83,90.17 -12.42,87.50 -13.00,85.00 C-13.58,82.50 -14.42,80.00 -14.50,77.00 C-14.58,74.00 -13.92,69.83 -13.50,67.00 C-13.08,64.17 -12.42,62.83 -12.00,60.00 C-11.58,57.17 -11.42,53.33 -11.00,50.00 C-10.58,46.67 -9.87,42.83 -9.50,40.00 C-9.13,37.17 -9.02,35.33 -8.80,33.00 C-8.58,30.67 -8.50,28.17 -8.20,26.00 C-7.90,23.83 -7.53,22.33 -7.00,20.00 C-6.47,17.67 -5.67,14.50 -5.00,12.00 C-4.33,9.50 -3.58,6.75 -3.00,5.00 C-2.42,3.25 -2.00,2.33 -1.50,1.50 C-1.00,0.67 -0.67,-0.08 0.00,0.00Z" fill="url(#mbody)" />
<line x1="15.5" y1="27" x2="13.6" y2="34.5" stroke="#d6c2ba" stroke-width="4.2" stroke-linecap="round"/>
<circle cx="13.6" cy="35.3" r="2.4" fill="#e2cec6" />
<ellipse cx="0.2" cy="3.5" rx="2.4" ry="3.6" fill="#d9a0a4"/>
<ellipse cx="2" cy="16" rx="6" ry="12" fill="#d4cac7" opacity="0.7" filter="url(#soft2)"/>
<ellipse cx="5" cy="80" rx="14" ry="10" fill="#c6b9b5" opacity="0.5" filter="url(#soft2)"/>
<ellipse cx="3.5" cy="52" rx="2.4" ry="3.6" fill="#cbbdb4" filter="url(#soft)"/>
<ellipse cx="3" cy="95.5" rx="2" ry="1.8" fill="#e0d0c4"/>
</g>
<ellipse cx="186.4" cy="814" rx="4.2" ry="4.8" fill="#cfc0b4" filter="url(#soft)"/>
<ellipse cx="211.1" cy="814" rx="4.2" ry="4.8" fill="#cfc0b4" filter="url(#soft)"/>
<circle cx="186.4" cy="813" r="7.5" fill="none" stroke="#4b77ad" stroke-width="1"/>
<circle cx="211.1" cy="813" r="7.5" fill="none" stroke="#e25a5a" stroke-width="1"/>
<text transform="translate(186.7,820.5) rotate(90)" y="2.1" font-size="6" font-weight="bold" fill="#1a1a1a" font-family='"Liberation Serif", serif' textLength="25.5" lengthAdjust="spacingAndGlyphs">pLenti-ctrl</text>
<text transform="translate(211.4,820.5) rotate(90)" y="2.1" font-size="6" font-weight="bold" fill="#1a1a1a" font-family='"Liberation Serif", serif' textLength="36" lengthAdjust="spacingAndGlyphs">pLenti-TRIM35</text>
<line x1="295.1" y1="734.6" x2="295.1" y2="828.6" stroke="#000" stroke-width="1" />
<line x1="295.1" y1="828.6" x2="406.2" y2="828.6" stroke="#000" stroke-width="1" />
<line x1="292.1" y1="828.6" x2="295.1" y2="828.6" stroke="#000" stroke-width="1" />
<text x="290.6" y="831.96" font-size="9.6" text-anchor="end">0</text>
<line x1="292.1" y1="805.1" x2="295.1" y2="805.1" stroke="#000" stroke-width="1" />
<text x="290.6" y="808.46" font-size="9.6" text-anchor="end">50</text>
<line x1="292.1" y1="781.6" x2="295.1" y2="781.6" stroke="#000" stroke-width="1" />
<text x="290.6" y="784.96" font-size="9.6" text-anchor="end">100</text>
<line x1="292.1" y1="758.1" x2="295.1" y2="758.1" stroke="#000" stroke-width="1" />
<text x="290.6" y="761.46" font-size="9.6" text-anchor="end">150</text>
<line x1="292.1" y1="734.6" x2="295.1" y2="734.6" stroke="#000" stroke-width="1" />
<text x="290.6" y="737.96" font-size="9.6" text-anchor="end">200</text>
<line x1="306.7" y1="828.6" x2="306.7" y2="831.6" stroke="#000" stroke-width="1" />
<text x="306.7" y="842.96" font-size="9.6" text-anchor="middle">8</text>
<line x1="324.2" y1="828.6" x2="324.2" y2="831.6" stroke="#000" stroke-width="1" />
<text x="324.2" y="842.96" font-size="9.6" text-anchor="middle">12</text>
<line x1="341.6" y1="828.6" x2="341.6" y2="831.6" stroke="#000" stroke-width="1" />
<text x="341.6" y="842.96" font-size="9.6" text-anchor="middle">16</text>
<line x1="359.3" y1="828.6" x2="359.3" y2="831.6" stroke="#000" stroke-width="1" />
<text x="359.3" y="842.96" font-size="9.6" text-anchor="middle">20</text>
<line x1="376.7" y1="828.6" x2="376.7" y2="831.6" stroke="#000" stroke-width="1" />
<text x="376.7" y="842.96" font-size="9.6" text-anchor="middle">24</text>
<line x1="394" y1="828.6" x2="394" y2="831.6" stroke="#000" stroke-width="1" />
<text x="394" y="842.96" font-size="9.6" text-anchor="middle">28</text>
<text x="350.7" y="860.23" font-size="9.8" text-anchor="middle">Time(Day)</text>
<text transform="translate(264.2,781) rotate(-90)" y="3.36" font-size="9.6" text-anchor="middle">Xenograft volume (mm<tspan dy="-3.3" font-size="6.8">3</tspan><tspan dy="3.3">)</tspan></text>
<polyline points="306.7,827 324.2,825 341.6,824 359.3,821.3 376.7,816.6 394,807.5" fill="none" stroke="#e05a52" stroke-width="1.2"/>
<polyline points="306.7,826.1 324.2,823.6 341.6,818.3 359.3,807.5 376.7,793.6 394,772.4" fill="none" stroke="#3d6ea5" stroke-width="1.2"/>
<circle cx="306.7" cy="826.1" r="2" fill="#111" />
<line x1="324.2" y1="822.1" x2="324.2" y2="825.1" stroke="#000" stroke-width="0.8" />
<line x1="322.7" y1="822.1" x2="325.7" y2="822.1" stroke="#000" stroke-width="0.8" />
<line x1="322.7" y1="825.1" x2="325.7" y2="825.1" stroke="#000" stroke-width="0.8" />
<circle cx="324.2" cy="823.6" r="2" fill="#111" />
<line x1="341.6" y1="814.3" x2="341.6" y2="822.3" stroke="#000" stroke-width="0.8" />
<line x1="340.1" y1="814.3" x2="343.1" y2="814.3" stroke="#000" stroke-width="0.8" />
<line x1="340.1" y1="822.3" x2="343.1" y2="822.3" stroke="#000" stroke-width="0.8" />
<circle cx="341.6" cy="818.3" r="2" fill="#111" />
<line x1="359.3" y1="802" x2="359.3" y2="813" stroke="#000" stroke-width="0.8" />
<line x1="357.8" y1="802" x2="360.8" y2="802" stroke="#000" stroke-width="0.8" />
<line x1="357.8" y1="813" x2="360.8" y2="813" stroke="#000" stroke-width="0.8" />
<circle cx="359.3" cy="807.5" r="2" fill="#111" />
<line x1="376.7" y1="782.6" x2="376.7" y2="804.6" stroke="#000" stroke-width="0.8" />
<line x1="375.2" y1="782.6" x2="378.2" y2="782.6" stroke="#000" stroke-width="0.8" />
<line x1="375.2" y1="804.6" x2="378.2" y2="804.6" stroke="#000" stroke-width="0.8" />
<circle cx="376.7" cy="793.6" r="2" fill="#111" />
<line x1="394" y1="760.4" x2="394" y2="784.4" stroke="#000" stroke-width="0.8" />
<line x1="392.5" y1="760.4" x2="395.5" y2="760.4" stroke="#000" stroke-width="0.8" />
<line x1="392.5" y1="784.4" x2="395.5" y2="784.4" stroke="#000" stroke-width="0.8" />
<circle cx="394" cy="772.4" r="2" fill="#111" />
<rect x="304.8" y="825.1" width="3.8" height="3.8" fill="#111" />
<line x1="324.2" y1="824.2" x2="324.2" y2="825.8" stroke="#000" stroke-width="0.8" />
<line x1="322.7" y1="824.2" x2="325.7" y2="824.2" stroke="#000" stroke-width="0.8" />
<rect x="322.3" y="823.1" width="3.8" height="3.8" fill="#111" />
<line x1="341.6" y1="822.5" x2="341.6" y2="825.5" stroke="#000" stroke-width="0.8" />
<line x1="340.1" y1="822.5" x2="343.1" y2="822.5" stroke="#000" stroke-width="0.8" />
<rect x="339.7" y="822.1" width="3.8" height="3.8" fill="#111" />
<line x1="359.3" y1="819.3" x2="359.3" y2="823.3" stroke="#000" stroke-width="0.8" />
<line x1="357.8" y1="819.3" x2="360.8" y2="819.3" stroke="#000" stroke-width="0.8" />
<rect x="357.4" y="819.4" width="3.8" height="3.8" fill="#111" />
<line x1="376.7" y1="813.6" x2="376.7" y2="819.6" stroke="#000" stroke-width="0.8" />
<line x1="375.2" y1="813.6" x2="378.2" y2="813.6" stroke="#000" stroke-width="0.8" />
<rect x="374.8" y="814.7" width="3.8" height="3.8" fill="#111" />
<line x1="394" y1="805" x2="394" y2="810" stroke="#000" stroke-width="0.8" />
<line x1="392.5" y1="805" x2="395.5" y2="805" stroke="#000" stroke-width="0.8" />
<rect x="392.1" y="805.6" width="3.8" height="3.8" fill="#111" />
<text x="341.6" y="816.45" font-size="9" text-anchor="middle">*</text>
<text x="359.3" y="802.65" font-size="9" text-anchor="middle">*</text>
<text x="376.7" y="783.65" font-size="9" text-anchor="middle">*</text>
<text x="394" y="761.25" font-size="9" text-anchor="middle">*</text>
<line x1="299" y1="737.3" x2="312.8" y2="737.3" stroke="#3d6ea5" stroke-width="1.2" />
<circle cx="306" cy="737.3" r="2" fill="#111" />
<line x1="299" y1="752.6" x2="312.8" y2="752.6" stroke="#e05a52" stroke-width="1.2" />
<rect x="304.1" y="750.7" width="3.8" height="3.8" fill="#111" />
<text x="319.5" y="741.03" font-size="9.8">pLenti-ctrl</text>
<text x="319.5" y="756.03" font-size="9.8">pLenti-TRIM35</text>
<text x="-0.8" y="890" font-size="24.3">F</text>
<text x="98.5" y="881.32" font-size="8.9" text-anchor="middle">Case 1</text>
<text x="146" y="881.32" font-size="8.9" text-anchor="middle">Case 2</text>
<text x="193.4" y="881.32" font-size="8.9" text-anchor="middle">Case 3</text>
<text x="70.4" y="905.43" font-size="9.8" text-anchor="end" textLength="43" lengthAdjust="spacingAndGlyphs">pLenti-ctrl</text>
<text x="3.6" y="935.73" font-size="9.8" textLength="60.3" lengthAdjust="spacingAndGlyphs">pLenti-TRIM35</text>
<rect x="73.8" y="888.2" width="138.5" height="106.5" fill="#e6e6e6" />
<ellipse cx="97.5" cy="900.8" rx="11.5" ry="7.8" fill="#c8c0bb" filter="url(#soft)"/>
<ellipse cx="97.5" cy="899.8" rx="11" ry="7.8" fill="url(#tum)"/>
<ellipse cx="143.7" cy="900.8" rx="7.9" ry="6.8" fill="#c8c0bb" filter="url(#soft)"/>
<ellipse cx="143.7" cy="899.8" rx="7.4" ry="6.8" fill="url(#tum)"/>
<ellipse cx="196" cy="900.4" rx="7.5" ry="6" fill="#c8c0bb" filter="url(#soft)"/>
<ellipse cx="196" cy="899.4" rx="7" ry="6" fill="url(#tum)"/>
<ellipse cx="96" cy="933.6" rx="6.0" ry="5" fill="#c8c0bb" filter="url(#soft)"/>
<ellipse cx="96" cy="932.6" rx="5.5" ry="5" fill="url(#tum)"/>
<ellipse cx="145.6" cy="932.1" rx="6.5" ry="5.5" fill="#c8c0bb" filter="url(#soft)"/>
<ellipse cx="145.6" cy="931.1" rx="6" ry="5.5" fill="url(#tum)"/>
<ellipse cx="196.4" cy="934.7" rx="6.5" ry="4.7" fill="#c8c0bb" filter="url(#soft)"/>
<ellipse cx="196.4" cy="933.7" rx="6" ry="4.7" fill="url(#tum)"/>
<rect x="76.4" y="944.7" width="135.9" height="48.5" fill="url(#ruler)" />
<rect x="76.4" y="944.7" width="135.9" height="2.4" fill="#3e3e3e" />
<rect x="76.4" y="990.8" width="135.9" height="2.4" fill="#4a4a4a" />
<path d="M79.0,947.5v6.5M79.0,990.5v-6.5M81.4,947.5v3M81.4,990.5v-3M83.8,947.5v3M83.8,990.5v-3M86.3,947.5v3M86.3,990.5v-3M88.7,947.5v3M88.7,990.5v-3M91.1,947.5v4.5M91.1,990.5v-4.5M93.5,947.5v3M93.5,990.5v-3M95.9,947.5v3M95.9,990.5v-3M98.4,947.5v3M98.4,990.5v-3M100.8,947.5v3M100.8,990.5v-3M103.2,947.5v6.5M103.2,990.5v-6.5M105.6,947.5v3M105.6,990.5v-3M108.0,947.5v3M108.0,990.5v-3M110.5,947.5v3M110.5,990.5v-3M112.9,947.5v3M112.9,990.5v-3M115.3,947.5v4.5M115.3,990.5v-4.5M117.7,947.5v3M117.7,990.5v-3M120.1,947.5v3M120.1,990.5v-3M122.6,947.5v3M122.6,990.5v-3M125.0,947.5v3M125.0,990.5v-3M127.4,947.5v6.5M127.4,990.5v-6.5M129.8,947.5v3M129.8,990.5v-3M132.2,947.5v3M132.2,990.5v-3M134.7,947.5v3M134.7,990.5v-3M137.1,947.5v3M137.1,990.5v-3M139.5,947.5v4.5M139.5,990.5v-4.5M141.9,947.5v3M141.9,990.5v-3M144.3,947.5v3M144.3,990.5v-3M146.8,947.5v3M146.8,990.5v-3M149.2,947.5v3M149.2,990.5v-3M151.6,947.5v6.5M151.6,990.5v-6.5M154.0,947.5v3M154.0,990.5v-3M156.4,947.5v3M156.4,990.5v-3M158.9,947.5v3M158.9,990.5v-3M161.3,947.5v3M161.3,990.5v-3M163.7,947.5v4.5M163.7,990.5v-4.5M166.1,947.5v3M166.1,990.5v-3M168.5,947.5v3M168.5,990.5v-3M171.0,947.5v3M171.0,990.5v-3M173.4,947.5v3M173.4,990.5v-3M175.8,947.5v6.5M175.8,990.5v-6.5M178.2,947.5v3M178.2,990.5v-3M180.6,947.5v3M180.6,990.5v-3M183.1,947.5v3M183.1,990.5v-3M185.5,947.5v3M185.5,990.5v-3M187.9,947.5v4.5M187.9,990.5v-4.5M190.3,947.5v3M190.3,990.5v-3M192.7,947.5v3M192.7,990.5v-3M195.2,947.5v3M195.2,990.5v-3M197.6,947.5v3M197.6,990.5v-3M200.0,947.5v6.5M200.0,990.5v-6.5M202.4,947.5v3M202.4,990.5v-3M204.8,947.5v3M204.8,990.5v-3M207.3,947.5v3M207.3,990.5v-3M209.7,947.5v3M209.7,990.5v-3" stroke="#2a2a2a" stroke-width="0.55"/>
<text x="100.7" y="974.08" font-size="12.5" text-anchor="middle" font-weight="bold" fill="#111" font-family='"Liberation Serif", serif'>1</text>
<text x="125.5" y="974.08" font-size="12.5" text-anchor="middle" font-weight="bold" fill="#111" font-family='"Liberation Serif", serif'>2</text>
<text x="149.4" y="974.08" font-size="12.5" text-anchor="middle" font-weight="bold" fill="#111" font-family='"Liberation Serif", serif'>3</text>
<text x="173.7" y="974.08" font-size="12.5" text-anchor="middle" font-weight="bold" fill="#111" font-family='"Liberation Serif", serif'>4</text>
<text x="197" y="974.08" font-size="12.5" text-anchor="middle" font-weight="bold" fill="#111" font-family='"Liberation Serif", serif'>5</text>
<text x="81.5" y="960.06" font-size="3.6" fill="#222">0.5 mm</text>
<text x="80" y="983.19" font-size="3.4" fill="#222">mm</text>
<rect x="73.8" y="888.2" width="138.5" height="106.5" fill="none" stroke="#f2f2f2" stroke-width="0.6" />
<line x1="286.5" y1="884.2" x2="286.5" y2="982.7" stroke="#000" stroke-width="1" />
<line x1="286.5" y1="982.7" x2="421.5" y2="982.7" stroke="#000" stroke-width="1" />
<line x1="283.5" y1="982.7" x2="286.5" y2="982.7" stroke="#000" stroke-width="1" />
<text x="282.5" y="985.61" font-size="8.3" text-anchor="end">0.00</text>
<line x1="283.5" y1="949.87" x2="286.5" y2="949.87" stroke="#000" stroke-width="1" />
<text x="282.5" y="952.77" font-size="8.3" text-anchor="end">0.05</text>
<line x1="283.5" y1="917.03" x2="286.5" y2="917.03" stroke="#000" stroke-width="1" />
<text x="282.5" y="919.94" font-size="8.3" text-anchor="end">0.10</text>
<line x1="283.5" y1="884.2" x2="286.5" y2="884.2" stroke="#000" stroke-width="1" />
<text x="282.5" y="887.11" font-size="8.3" text-anchor="end">0.15</text>
<line x1="324.6" y1="982.7" x2="324.6" y2="985.7" stroke="#000" stroke-width="1" />
<line x1="382.7" y1="982.7" x2="382.7" y2="985.7" stroke="#000" stroke-width="1" />
<text x="324.6" y="994.1" font-size="7.7" text-anchor="middle">pLenti-ctrl</text>
<text x="382.7" y="994.1" font-size="7.7" text-anchor="middle">pLenti-TRIM35</text>
<text transform="translate(259,932) rotate(-90)" y="2.91" font-size="8.3" text-anchor="middle">Xenogragt weight (g)</text>
<line x1="324.6" y1="896.68" x2="382.7" y2="965.6" stroke="#222" stroke-width="1.1" />
<line x1="324.6" y1="942.64" x2="382.7" y2="965.6" stroke="#222" stroke-width="1.1" />
<line x1="324.6" y1="946.58" x2="382.7" y2="965.6" stroke="#222" stroke-width="1.1" />
<circle cx="324.6" cy="896.68" r="2.3" fill="#3f6ea8" />
<circle cx="324.6" cy="942.64" r="2.3" fill="#3f6ea8" />
<circle cx="324.6" cy="946.58" r="2.3" fill="#3f6ea8" />
<circle cx="382.7" cy="965.6" r="2.3" fill="#e05a52" />
<path d="M324.6,889.7 V880.5 H382.7 V889.7" fill="none" stroke="#111" stroke-width="1.2" />
<text x="353.5" y="876.8" font-size="8" text-anchor="middle" font-weight="bold">*</text>
<text x="426.6" y="737" font-size="24.3">G</text>
<line x1="476.2" y1="742.9" x2="476.2" y2="855.7" stroke="#000" stroke-width="1" />
<line x1="476.2" y1="855.7" x2="648" y2="855.7" stroke="#000" stroke-width="1" />
<line x1="473.7" y1="855.7" x2="476.2" y2="855.7" stroke="#000" stroke-width="1" />
<text x="472.7" y="858.71" font-size="8.6" text-anchor="end" font-weight="bold">0</text>
<line x1="473.7" y1="827.5" x2="476.2" y2="827.5" stroke="#000" stroke-width="1" />
<text x="472.7" y="830.51" font-size="8.6" text-anchor="end" font-weight="bold">2</text>
<line x1="473.7" y1="799.3" x2="476.2" y2="799.3" stroke="#000" stroke-width="1" />
<text x="472.7" y="802.31" font-size="8.6" text-anchor="end" font-weight="bold">4</text>
<line x1="473.7" y1="771.1" x2="476.2" y2="771.1" stroke="#000" stroke-width="1" />
<text x="472.7" y="774.11" font-size="8.6" text-anchor="end" font-weight="bold">6</text>
<line x1="473.7" y1="742.9" x2="476.2" y2="742.9" stroke="#000" stroke-width="1" />
<text x="472.7" y="745.91" font-size="8.6" text-anchor="end" font-weight="bold">8</text>
<text transform="translate(457.4,799.3) rotate(-90)" y="3.11" font-size="8.9" text-anchor="middle" textLength="117" lengthAdjust="spacingAndGlyphs">Relative TRIM35 mRNA level</text>
<rect x="483" y="841.6" width="15.3" height="14.1" fill="#a4bbd2" />
<rect x="505.5" y="795.07" width="15.7" height="60.63" fill="#eeaaa8" />
<circle cx="486.15" cy="841.6" r="2.3" fill="#3f6d9c" />
<circle cx="490.65" cy="841.6" r="2.3" fill="#3f6d9c" />
<circle cx="495.15" cy="841.6" r="2.3" fill="#3f6d9c" />
<line x1="513.35" y1="788.02" x2="513.35" y2="809.88" stroke="#e2504a" stroke-width="1" />
<line x1="510.35" y1="788.02" x2="516.35" y2="788.02" stroke="#e2504a" stroke-width="1" />
<line x1="510.35" y1="809.88" x2="516.35" y2="809.88" stroke="#e2504a" stroke-width="1" />
<circle cx="509.85" cy="790.13" r="2.3" fill="#e2504a" />
<circle cx="509.85" cy="790.84" r="2.3" fill="#e2504a" />
<circle cx="516.85" cy="803.53" r="2.3" fill="#e2504a" />
<line x1="501.9" y1="855.7" x2="501.9" y2="858.2" stroke="#000" stroke-width="1" />
<rect x="543.3" y="841.6" width="14.4" height="14.1" fill="#a4bbd2" />
<rect x="565.8" y="808.47" width="14.8" height="47.24" fill="#eeaaa8" />
<circle cx="546" cy="841.6" r="2.3" fill="#3f6d9c" />
<circle cx="550.5" cy="841.6" r="2.3" fill="#3f6d9c" />
<circle cx="555" cy="841.6" r="2.3" fill="#3f6d9c" />
<line x1="573.2" y1="798.6" x2="573.2" y2="818.34" stroke="#e2504a" stroke-width="1" />
<line x1="570.2" y1="798.6" x2="576.2" y2="798.6" stroke="#e2504a" stroke-width="1" />
<line x1="570.2" y1="818.34" x2="576.2" y2="818.34" stroke="#e2504a" stroke-width="1" />
<circle cx="569.7" cy="800.71" r="2.3" fill="#e2504a" />
<circle cx="569.7" cy="811.99" r="2.3" fill="#e2504a" />
<circle cx="576.7" cy="811.28" r="2.3" fill="#e2504a" />
<line x1="561.75" y1="855.7" x2="561.75" y2="858.2" stroke="#000" stroke-width="1" />
<rect x="602.7" y="841.6" width="15.3" height="14.1" fill="#a4bbd2" />
<rect x="625.6" y="814.81" width="14.4" height="40.89" fill="#eeaaa8" />
<circle cx="605.85" cy="842.31" r="2.3" fill="#3f6d9c" />
<circle cx="610.35" cy="840.19" r="2.3" fill="#3f6d9c" />
<circle cx="614.85" cy="841.6" r="2.3" fill="#3f6d9c" />
<line x1="632.8" y1="798.6" x2="632.8" y2="828.21" stroke="#e2504a" stroke-width="1" />
<line x1="629.8" y1="798.6" x2="635.8" y2="798.6" stroke="#e2504a" stroke-width="1" />
<line x1="629.8" y1="828.21" x2="635.8" y2="828.21" stroke="#e2504a" stroke-width="1" />
<circle cx="629.3" cy="800.71" r="2.3" fill="#e2504a" />
<circle cx="629.3" cy="820.45" r="2.3" fill="#e2504a" />
<circle cx="636.3" cy="821.86" r="2.3" fill="#e2504a" />
<line x1="621.8" y1="855.7" x2="621.8" y2="858.2" stroke="#000" stroke-width="1" />
<path d="M491,783.5999999999999 V780.3 H513.6 V783.5999999999999" fill="none" stroke="#111" stroke-width="1" />
<text x="502.3" y="779.77" font-size="8.5" text-anchor="middle">*</text>
<path d="M550.5,796.8 V793.5 H573.4 V796.8" fill="none" stroke="#111" stroke-width="1" />
<text x="561.95" y="792.98" font-size="8.5" text-anchor="middle">*</text>
<path d="M610,797.5999999999999 V794.3 H632.8 V797.5999999999999" fill="none" stroke="#111" stroke-width="1" />
<text x="621.4" y="793.77" font-size="8.5" text-anchor="middle">*</text>
<rect x="485.5" y="743.6" width="10.8" height="5.4" fill="#a4bbd2" />
<text x="504.3" y="749.45" font-size="9">pLenti-ctrl</text>
<rect x="485.5" y="758.4" width="10.8" height="5.4" fill="#eeaaa8" />
<text x="504.3" y="764.25" font-size="9">pLenti-TRIM35</text>
<rect x="473.8" y="862.8" width="52.7" height="38.7" fill="#ececec" />
<rect x="477.24" y="881.6" width="20" height="2" rx="1" fill="#000" opacity="0.2" filter="url(#bb2)"/>
<rect x="501.27" y="868" width="22" height="20" rx="10" fill="#000" opacity="0.5" filter="url(#bb2)"/>
<rect x="502.27" y="871.2" width="20" height="4" rx="2" fill="#000" opacity="0.6" filter="url(#bb2)"/>
<rect x="502.27" y="881.9" width="20" height="4" rx="2" fill="#000" opacity="0.55" filter="url(#bb2)"/>
<rect x="503.27" y="890.5" width="18" height="5" rx="2.5" fill="#000" opacity="0.15" filter="url(#bb2)"/>
<rect x="478.24" y="891.5" width="18" height="3" rx="1.5" fill="#000" opacity="0.08" filter="url(#bb2)"/>
<rect x="473.8" y="862.8" width="52.7" height="38.7" fill="none" stroke="#111" stroke-width="1" />
<rect x="473.8" y="904.6" width="52.7" height="19.2" fill="#dcdcdc" />
<rect x="476.24" y="912.1" width="22" height="5" rx="2.5" fill="#000" opacity="0.95" filter="url(#bb1)"/>
<rect x="503.27" y="913.25" width="18" height="4.5" rx="2.25" fill="#000" opacity="0.75" filter="url(#bb1)"/>
<rect x="473.8" y="904.6" width="52.7" height="19.2" fill="none" stroke="#111" stroke-width="1" />
<text transform="translate(490.24,931.5) rotate(-45)" y="2.77" font-size="7.9" text-anchor="end" textLength="38.5" lengthAdjust="spacingAndGlyphs">pLenti-Ctrl</text>
<text transform="translate(515.27,931.5) rotate(-45)" y="2.77" font-size="7.9" text-anchor="end" textLength="54" lengthAdjust="spacingAndGlyphs">pLenti-TRIM35</text>
<rect x="534.3" y="862.8" width="51.8" height="38.7" fill="#f0f0f0" />
<rect x="537.51" y="882.7" width="20" height="2.6" rx="1.3" fill="#000" opacity="0.45" filter="url(#bb2)"/>
<rect x="562.11" y="869.5" width="20" height="3" rx="1.5" fill="#000" opacity="0.55" filter="url(#bb2)"/>
<rect x="562.11" y="881.4" width="20" height="3.2" rx="1.6" fill="#000" opacity="0.7" filter="url(#bb2)"/>
<rect x="563.11" y="890" width="18" height="4" rx="2" fill="#000" opacity="0.2" filter="url(#bb2)"/>
<rect x="538.51" y="871" width="18" height="2" rx="1" fill="#000" opacity="0.08" filter="url(#bb2)"/>
<rect x="534.3" y="862.8" width="51.8" height="38.7" fill="none" stroke="#111" stroke-width="1" />
<rect x="534.3" y="904.6" width="51.8" height="19.2" fill="#d8d8d8" />
<rect x="535.51" y="911.5" width="24" height="6" rx="3" fill="#000" opacity="0.97" filter="url(#bb1)"/>
<rect x="560.11" y="911" width="24" height="6" rx="3" fill="#000" opacity="0.97" filter="url(#bb1)"/>
<rect x="534.3" y="904.6" width="51.8" height="19.2" fill="none" stroke="#111" stroke-width="1" />
<text transform="translate(550.51,931.5) rotate(-45)" y="2.77" font-size="7.9" text-anchor="end" textLength="38.5" lengthAdjust="spacingAndGlyphs">pLenti-Ctrl</text>
<text transform="translate(575.11,931.5) rotate(-45)" y="2.77" font-size="7.9" text-anchor="end" textLength="54" lengthAdjust="spacingAndGlyphs">pLenti-TRIM35</text>
<rect x="594" y="862.8" width="52.4" height="38.7" fill="#cfcfcf" />
<rect x="594" y="862.8" width="52.4" height="38.7" fill="#000" filter="url(#noiz)" opacity="0.09"/>
<rect x="597.36" y="883" width="20" height="2" rx="1" fill="#000" opacity="0.12" filter="url(#bb2)"/>
<rect x="622.25" y="869.7" width="20" height="2.6" rx="1.3" fill="#000" opacity="0.45" filter="url(#bb2)"/>
<rect x="622.25" y="881.6" width="20" height="2.8" rx="1.4" fill="#000" opacity="0.5" filter="url(#bb2)"/>
<rect x="622.25" y="870" width="20" height="14" rx="7" fill="#000" opacity="0.2" filter="url(#bb2)"/>
<rect x="623.25" y="890.5" width="18" height="5" rx="2.5" fill="#000" opacity="0.15" filter="url(#bb2)"/>
<rect x="594" y="862.8" width="52.4" height="38.7" fill="none" stroke="#111" stroke-width="1" />
<rect x="594" y="904.6" width="52.4" height="19.2" fill="#d0d0d0" />
<rect x="595.36" y="910.75" width="24" height="5.5" rx="2.75" fill="#000" opacity="0.96" filter="url(#bb1)"/>
<rect x="619.25" y="910.5" width="26" height="7" rx="3.5" fill="#000" opacity="0.98" filter="url(#bb1)"/>
<rect x="594" y="904.6" width="52.4" height="19.2" fill="none" stroke="#111" stroke-width="1" />
<text transform="translate(610.36,931.5) rotate(-45)" y="2.77" font-size="7.9" text-anchor="end" textLength="38.5" lengthAdjust="spacingAndGlyphs">pLenti-Ctrl</text>
<text transform="translate(635.25,931.5) rotate(-45)" y="2.77" font-size="7.9" text-anchor="end" textLength="54" lengthAdjust="spacingAndGlyphs">pLenti-TRIM35</text>
<text x="463.8" y="877.06" font-size="11.6" text-anchor="end" textLength="70" lengthAdjust="spacingAndGlyphs">TRIM35-GFP</text>
<text x="463.8" y="898.26" font-size="11.6" text-anchor="end">TRIM35</text>
<path d="M465.5,870.8 h3 v-1.6 l4,3.8 l-4,3.8 v-1.6 h-3 Z" fill="#1a2a4a" />
<path d="M465.5,892.0 h3 v-1.6 l4,3.8 l-4,3.8 v-1.6 h-3 Z" fill="#1a2a4a" />
<text x="467.6" y="920.86" font-size="11.6" text-anchor="end">GAPDH</text>
<line x1="646.4" y1="883.2" x2="652" y2="883.2" stroke="#222" stroke-width="0.9" />
<text x="653.8" y="886.81" font-size="10.3">70kDa</text>
<line x1="646.4" y1="916.2" x2="652" y2="916.2" stroke="#222" stroke-width="0.9" />
<text x="653.8" y="919.81" font-size="10.3">35kDa</text>
<line x1="452" y1="974.5" x2="492.3" y2="974.5" stroke="#444" stroke-width="0.8" />
<text x="471" y="988.62" font-size="11.5" text-anchor="middle">Case 1</text>
<line x1="512.4" y1="974.5" x2="546.5" y2="974.5" stroke="#444" stroke-width="0.8" />
<text x="531.2" y="988.62" font-size="11.5" text-anchor="middle">Case 2</text>
<line x1="572.6" y1="974.5" x2="606.7" y2="974.5" stroke="#444" stroke-width="0.8" />
<text x="592.7" y="988.62" font-size="11.5" text-anchor="middle">Case 3</text></svg>
</body></html>
